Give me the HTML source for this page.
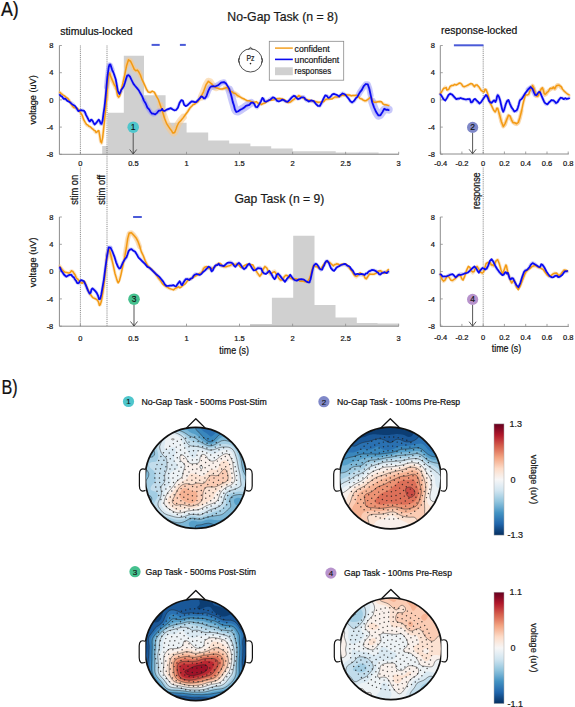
<!DOCTYPE html>
<html><head><meta charset="utf-8"><style>
html,body{margin:0;padding:0;background:#fff;width:575px;height:707px;overflow:hidden}
svg{display:block}
text{font-family:"Liberation Sans", sans-serif}
</style></head><body>
<svg width="575" height="707" viewBox="0 0 575 707">
<rect width="575" height="707" fill="#fff"/>
<path d="M102.2 154.3 V146 H107.7 V112.8 H123.8 V55.8 H144 V95.2 H165.6 V122.8 H186.6 V132.5 H208.2 V140.4 H229.2 V143.6 H250.4 V146.3 H271.2 V148.6 H292.7 V151.2 H335.7 V152.6 H378.6 V153.5 H398.7 V154.3 Z" fill="#d0d0d0"/><path d="M250 326.2 V324 H271.9 V297.8 H293.2 V235.7 H314.5 V304.9 H335.5 V317.6 H356.8 V322.9 H377.5 V323.6 H398.7 V326.2 Z" fill="#d0d0d0"/><path d="M80.4 45.5 V154.3" stroke="#7a7a7a" stroke-width="0.9" stroke-dasharray="1 0.9"/><path d="M80.4 167.5 V326.2" stroke="#7a7a7a" stroke-width="0.9" stroke-dasharray="1 0.9"/><path d="M107 45.5 V326.2" stroke="#7a7a7a" stroke-width="0.9" stroke-dasharray="1 0.9"/><path d="M483.2 45.5 V153.8" stroke="#7a7a7a" stroke-width="0.9" stroke-dasharray="1 0.9"/><path d="M483.2 167.5 V326.2" stroke="#7a7a7a" stroke-width="0.9" stroke-dasharray="1 0.9"/><path d="M59.4 45.5 V154.3 H398.9" fill="none" stroke="#8c8c8c" stroke-width="1"/><path d="M59.4 45.5 h2.5" stroke="#8c8c8c" stroke-width="0.8"/><text x="53.3" y="48.2" font-size="7.5" text-anchor="end" fill="#151515" stroke="#151515" stroke-width="0.22">8</text><path d="M59.4 72.7 h2.5" stroke="#8c8c8c" stroke-width="0.8"/><text x="53.3" y="75.4" font-size="7.5" text-anchor="end" fill="#151515" stroke="#151515" stroke-width="0.22">4</text><path d="M59.4 99.9 h2.5" stroke="#8c8c8c" stroke-width="0.8"/><text x="53.3" y="102.6" font-size="7.5" text-anchor="end" fill="#151515" stroke="#151515" stroke-width="0.22">0</text><path d="M59.4 127.1 h2.5" stroke="#8c8c8c" stroke-width="0.8"/><text x="53.3" y="129.8" font-size="7.5" text-anchor="end" fill="#151515" stroke="#151515" stroke-width="0.22">-4</text><path d="M59.4 154.3 h2.5" stroke="#8c8c8c" stroke-width="0.8"/><text x="53.3" y="157" font-size="7.5" text-anchor="end" fill="#151515" stroke="#151515" stroke-width="0.22">-8</text><path d="M80.4 154.3 v-2.5" stroke="#8c8c8c" stroke-width="0.8"/><text x="80.4" y="166" font-size="7.5" text-anchor="middle" fill="#151515" stroke="#151515" stroke-width="0.22">0</text><path d="M133.4 154.3 v-2.5" stroke="#8c8c8c" stroke-width="0.8"/><text x="133.4" y="166" font-size="7.5" text-anchor="middle" fill="#151515" stroke="#151515" stroke-width="0.22">0.5</text><path d="M186.5 154.3 v-2.5" stroke="#8c8c8c" stroke-width="0.8"/><text x="186.5" y="166" font-size="7.5" text-anchor="middle" fill="#151515" stroke="#151515" stroke-width="0.22">1</text><path d="M239.5 154.3 v-2.5" stroke="#8c8c8c" stroke-width="0.8"/><text x="239.5" y="166" font-size="7.5" text-anchor="middle" fill="#151515" stroke="#151515" stroke-width="0.22">1.5</text><path d="M292.6 154.3 v-2.5" stroke="#8c8c8c" stroke-width="0.8"/><text x="292.6" y="166" font-size="7.5" text-anchor="middle" fill="#151515" stroke="#151515" stroke-width="0.22">2</text><path d="M345.6 154.3 v-2.5" stroke="#8c8c8c" stroke-width="0.8"/><text x="345.6" y="166" font-size="7.5" text-anchor="middle" fill="#151515" stroke="#151515" stroke-width="0.22">2.5</text><path d="M398.7 154.3 v-2.5" stroke="#8c8c8c" stroke-width="0.8"/><text x="398.7" y="166" font-size="7.5" text-anchor="middle" fill="#151515" stroke="#151515" stroke-width="0.22">3</text><path d="M59.4 217 V326.2 H398.9" fill="none" stroke="#8c8c8c" stroke-width="1"/><path d="M59.4 217 h2.5" stroke="#8c8c8c" stroke-width="0.8"/><text x="53.3" y="219.7" font-size="7.5" text-anchor="end" fill="#151515" stroke="#151515" stroke-width="0.22">8</text><path d="M59.4 244.3 h2.5" stroke="#8c8c8c" stroke-width="0.8"/><text x="53.3" y="247" font-size="7.5" text-anchor="end" fill="#151515" stroke="#151515" stroke-width="0.22">4</text><path d="M59.4 271.6 h2.5" stroke="#8c8c8c" stroke-width="0.8"/><text x="53.3" y="274.3" font-size="7.5" text-anchor="end" fill="#151515" stroke="#151515" stroke-width="0.22">0</text><path d="M59.4 298.9 h2.5" stroke="#8c8c8c" stroke-width="0.8"/><text x="53.3" y="301.6" font-size="7.5" text-anchor="end" fill="#151515" stroke="#151515" stroke-width="0.22">-4</text><path d="M59.4 326.2 h2.5" stroke="#8c8c8c" stroke-width="0.8"/><text x="53.3" y="328.9" font-size="7.5" text-anchor="end" fill="#151515" stroke="#151515" stroke-width="0.22">-8</text><path d="M80.4 326.2 v-2.5" stroke="#8c8c8c" stroke-width="0.8"/><text x="80.4" y="340.5" font-size="7.5" text-anchor="middle" fill="#151515" stroke="#151515" stroke-width="0.22">0</text><path d="M133.4 326.2 v-2.5" stroke="#8c8c8c" stroke-width="0.8"/><text x="133.4" y="340.5" font-size="7.5" text-anchor="middle" fill="#151515" stroke="#151515" stroke-width="0.22">0.5</text><path d="M186.5 326.2 v-2.5" stroke="#8c8c8c" stroke-width="0.8"/><text x="186.5" y="340.5" font-size="7.5" text-anchor="middle" fill="#151515" stroke="#151515" stroke-width="0.22">1</text><path d="M239.5 326.2 v-2.5" stroke="#8c8c8c" stroke-width="0.8"/><text x="239.5" y="340.5" font-size="7.5" text-anchor="middle" fill="#151515" stroke="#151515" stroke-width="0.22">1.5</text><path d="M292.6 326.2 v-2.5" stroke="#8c8c8c" stroke-width="0.8"/><text x="292.6" y="340.5" font-size="7.5" text-anchor="middle" fill="#151515" stroke="#151515" stroke-width="0.22">2</text><path d="M345.6 326.2 v-2.5" stroke="#8c8c8c" stroke-width="0.8"/><text x="345.6" y="340.5" font-size="7.5" text-anchor="middle" fill="#151515" stroke="#151515" stroke-width="0.22">2.5</text><path d="M398.7 326.2 v-2.5" stroke="#8c8c8c" stroke-width="0.8"/><text x="398.7" y="340.5" font-size="7.5" text-anchor="middle" fill="#151515" stroke="#151515" stroke-width="0.22">3</text><path d="M440.3 45.5 V154 H568.8" fill="none" stroke="#8c8c8c" stroke-width="1"/><path d="M440.3 45.5 h2.5" stroke="#8c8c8c" stroke-width="0.8"/><text x="435" y="48.2" font-size="7.5" text-anchor="end" fill="#151515" stroke="#151515" stroke-width="0.22">8</text><path d="M440.3 72.7 h2.5" stroke="#8c8c8c" stroke-width="0.8"/><text x="435" y="75.4" font-size="7.5" text-anchor="end" fill="#151515" stroke="#151515" stroke-width="0.22">4</text><path d="M440.3 99.9 h2.5" stroke="#8c8c8c" stroke-width="0.8"/><text x="435" y="102.6" font-size="7.5" text-anchor="end" fill="#151515" stroke="#151515" stroke-width="0.22">0</text><path d="M440.3 127.1 h2.5" stroke="#8c8c8c" stroke-width="0.8"/><text x="435" y="129.8" font-size="7.5" text-anchor="end" fill="#151515" stroke="#151515" stroke-width="0.22">-4</text><path d="M440.3 154.3 h2.5" stroke="#8c8c8c" stroke-width="0.8"/><text x="435" y="157" font-size="7.5" text-anchor="end" fill="#151515" stroke="#151515" stroke-width="0.22">-8</text><path d="M440.7 154 v-2.5" stroke="#8c8c8c" stroke-width="0.8"/><text x="440.7" y="165.7" font-size="7.5" text-anchor="middle" fill="#151515" stroke="#151515" stroke-width="0.22">-0.4</text><path d="M461.9 154 v-2.5" stroke="#8c8c8c" stroke-width="0.8"/><text x="461.9" y="165.7" font-size="7.5" text-anchor="middle" fill="#151515" stroke="#151515" stroke-width="0.22">-0.2</text><path d="M483.2 154 v-2.5" stroke="#8c8c8c" stroke-width="0.8"/><text x="483.2" y="165.7" font-size="7.5" text-anchor="middle" fill="#151515" stroke="#151515" stroke-width="0.22">0</text><path d="M504.4 154 v-2.5" stroke="#8c8c8c" stroke-width="0.8"/><text x="504.4" y="165.7" font-size="7.5" text-anchor="middle" fill="#151515" stroke="#151515" stroke-width="0.22">0.2</text><path d="M525.7 154 v-2.5" stroke="#8c8c8c" stroke-width="0.8"/><text x="525.7" y="165.7" font-size="7.5" text-anchor="middle" fill="#151515" stroke="#151515" stroke-width="0.22">0.4</text><path d="M547 154 v-2.5" stroke="#8c8c8c" stroke-width="0.8"/><text x="547" y="165.7" font-size="7.5" text-anchor="middle" fill="#151515" stroke="#151515" stroke-width="0.22">0.6</text><path d="M568.2 154 v-2.5" stroke="#8c8c8c" stroke-width="0.8"/><text x="568.2" y="165.7" font-size="7.5" text-anchor="middle" fill="#151515" stroke="#151515" stroke-width="0.22">0.8</text><path d="M440.3 217 V326.4 H568.8" fill="none" stroke="#8c8c8c" stroke-width="1"/><path d="M440.3 217 h2.5" stroke="#8c8c8c" stroke-width="0.8"/><text x="435" y="219.7" font-size="7.5" text-anchor="end" fill="#151515" stroke="#151515" stroke-width="0.22">8</text><path d="M440.3 244.3 h2.5" stroke="#8c8c8c" stroke-width="0.8"/><text x="435" y="247" font-size="7.5" text-anchor="end" fill="#151515" stroke="#151515" stroke-width="0.22">4</text><path d="M440.3 271.6 h2.5" stroke="#8c8c8c" stroke-width="0.8"/><text x="435" y="274.3" font-size="7.5" text-anchor="end" fill="#151515" stroke="#151515" stroke-width="0.22">0</text><path d="M440.3 298.9 h2.5" stroke="#8c8c8c" stroke-width="0.8"/><text x="435" y="301.6" font-size="7.5" text-anchor="end" fill="#151515" stroke="#151515" stroke-width="0.22">-4</text><path d="M440.3 326.2 h2.5" stroke="#8c8c8c" stroke-width="0.8"/><text x="435" y="328.9" font-size="7.5" text-anchor="end" fill="#151515" stroke="#151515" stroke-width="0.22">-8</text><path d="M440.7 326.4 v-2.5" stroke="#8c8c8c" stroke-width="0.8"/><text x="440.7" y="340.4" font-size="7.5" text-anchor="middle" fill="#151515" stroke="#151515" stroke-width="0.22">-0.4</text><path d="M461.9 326.4 v-2.5" stroke="#8c8c8c" stroke-width="0.8"/><text x="461.9" y="340.4" font-size="7.5" text-anchor="middle" fill="#151515" stroke="#151515" stroke-width="0.22">-0.2</text><path d="M483.2 326.4 v-2.5" stroke="#8c8c8c" stroke-width="0.8"/><text x="483.2" y="340.4" font-size="7.5" text-anchor="middle" fill="#151515" stroke="#151515" stroke-width="0.22">0</text><path d="M504.4 326.4 v-2.5" stroke="#8c8c8c" stroke-width="0.8"/><text x="504.4" y="340.4" font-size="7.5" text-anchor="middle" fill="#151515" stroke="#151515" stroke-width="0.22">0.2</text><path d="M525.7 326.4 v-2.5" stroke="#8c8c8c" stroke-width="0.8"/><text x="525.7" y="340.4" font-size="7.5" text-anchor="middle" fill="#151515" stroke="#151515" stroke-width="0.22">0.4</text><path d="M547 326.4 v-2.5" stroke="#8c8c8c" stroke-width="0.8"/><text x="547" y="340.4" font-size="7.5" text-anchor="middle" fill="#151515" stroke="#151515" stroke-width="0.22">0.6</text><path d="M568.2 326.4 v-2.5" stroke="#8c8c8c" stroke-width="0.8"/><text x="568.2" y="340.4" font-size="7.5" text-anchor="middle" fill="#151515" stroke="#151515" stroke-width="0.22">0.8</text><path d="M59.9 92.4 L61.2 93.5 L63.1 95.1 L64.9 96.6 L66.4 97.7 L67.8 98.8 L69.1 100.2 L70.3 102.3 L71.5 104.7 L72.7 106.6 L73.8 107.3 L75.0 107.5 L76.2 108.0 L77.5 108.9 L78.9 110.2 L80.4 112.2 L82.1 115.8 L83.8 120.1 L85.4 123.5 L86.6 125.1 L87.7 125.8 L88.9 126.4 L90.3 127.3 L91.8 128.2 L93.2 129.2 L94.2 130.5 L95.1 131.9 L96.0 132.7 L96.9 132.1 L97.9 131.0 L98.8 131.3 L99.7 135.9 L100.6 141.9 L101.6 143.3 L102.7 136.8 L104.0 125.7 L105.2 113.6 L106.4 99.7 L107.6 84.8 L108.7 74.7 L109.6 72.8 L110.5 75.7 L111.5 79.0 L112.9 81.5 L114.4 84.4 L115.8 87.5 L116.8 91.6 L117.6 95.8 L118.6 97.4 L119.8 95.0 L121.2 90.0 L122.8 83.9 L124.6 75.4 L126.5 65.8 L128.5 59.9 L130.5 60.8 L132.5 65.3 L134.3 69.1 L135.8 70.1 L137.2 70.4 L138.7 71.7 L140.4 75.2 L142.2 79.8 L143.9 83.9 L145.4 87.1 L146.7 89.8 L148.3 91.7 L150.2 92.1 L152.2 91.7 L154.3 92.6 L156.3 95.9 L158.4 100.6 L160.4 105.7 L162.5 111.5 L164.5 117.8 L166.5 123.0 L168.4 126.6 L170.2 129.1 L171.7 131.0 L172.7 132.3 L173.4 133.0 L174.0 133.0 L174.7 132.2 L175.4 130.8 L176.1 129.1 L176.8 127.3 L177.5 125.3 L178.7 123.0 L180.7 120.3 L183.3 117.3 L185.7 114.3 L187.8 111.2 L189.9 108.1 L191.7 105.7 L193.3 104.5 L194.6 103.9 L196.1 103.0 L197.7 101.6 L199.4 99.8 L201.3 97.0 L203.6 91.7 L206.0 85.3 L208.3 81.3 L210.0 81.6 L211.6 84.2 L213.5 86.5 L216.3 87.7 L219.5 88.6 L222.2 89.1 L224.0 88.6 L225.3 87.7 L226.5 87.4 L227.7 88.3 L228.9 89.9 L230.2 91.3 L231.8 92.2 L233.5 92.9 L235.4 93.9 L237.6 95.3 L240.0 96.8 L242.4 98.3 L244.7 99.6 L247.0 100.8 L249.3 101.7 L251.7 102.2 L254.1 102.3 L256.3 102.6 L258.2 103.3 L259.8 104.0 L261.5 104.3 L263.2 103.8 L264.8 102.7 L266.7 101.7 L268.8 100.7 L271.2 99.8 L273.7 99.1 L276.6 98.8 L279.6 98.7 L282.4 99.1 L284.6 100.3 L286.6 101.8 L288.5 102.6 L290.6 101.9 L292.7 100.5 L294.6 99.1 L296.1 97.7 L297.4 96.3 L298.9 95.7 L300.8 96.4 L302.8 97.8 L305.0 99.1 L307.2 99.8 L309.5 100.4 L312.0 100.9 L314.9 101.6 L318.0 102.4 L320.7 102.6 L322.4 102.0 L323.7 101.0 L325.2 100.0 L327.3 99.4 L329.7 98.8 L332.2 98.3 L334.8 97.7 L337.5 97.1 L340.0 96.5 L342.2 95.8 L344.2 95.2 L346.1 94.8 L347.9 94.9 L349.6 95.4 L351.3 95.7 L353.0 95.6 L354.8 95.5 L356.5 95.7 L358.3 96.6 L360.0 98.0 L361.7 99.1 L363.2 100.0 L364.7 100.8 L366.1 100.9 L367.6 99.8 L369.0 98.2 L370.4 97.4 L371.5 98.4 L372.6 100.3 L373.9 101.7 L375.8 101.9 L378.0 101.7 L380.0 101.7 L381.6 102.4 L382.9 103.5 L384.3 104.3 L385.9 104.8 L387.6 105.0 L388.7 105.2" fill="none" stroke="#f7c98a" stroke-width="3.2" stroke-linejoin="round" stroke-linecap="round" opacity="0.5"/><path d="M59.9 94.5 L60.8 95.4 L62.0 96.8 L63.5 98.1 L65.3 99.3 L67.3 100.5 L69.1 101.6 L70.6 102.5 L72.0 103.2 L73.4 104.4 L75.0 106.5 L76.7 109.1 L78.3 110.8 L79.8 110.9 L81.2 110.2 L82.6 110.1 L83.8 111.3 L85.0 113.0 L86.1 115.0 L87.3 117.3 L88.5 119.8 L89.6 121.4 L90.4 121.3 L91.0 120.3 L91.7 120.0 L92.6 121.3 L93.5 123.3 L94.6 124.3 L96.0 123.2 L97.5 121.1 L98.8 120.0 L99.8 121.6 L100.7 124.2 L101.6 124.3 L102.6 120.4 L103.5 114.1 L104.5 106.6 L105.5 97.4 L106.4 87.0 L107.3 78.3 L108.0 72.0 L108.7 67.4 L109.4 64.8 L110.3 64.9 L111.2 67.1 L112.2 69.8 L113.4 72.6 L114.6 75.9 L115.8 79.7 L116.8 84.7 L117.7 90.2 L118.6 93.8 L119.5 94.3 L120.4 93.0 L121.4 91.0 L122.5 88.6 L123.8 85.5 L125.0 82.5 L126.1 79.2 L127.2 76.0 L128.5 74.7 L130.0 76.6 L131.8 80.4 L133.5 83.9 L135.2 86.0 L137.0 87.8 L138.7 90.0 L140.4 93.2 L142.2 96.8 L143.9 100.4 L145.7 103.9 L147.4 107.2 L149.1 110.0 L150.6 112.1 L152.0 113.6 L153.5 114.3 L155.2 113.6 L157.1 112.1 L158.7 110.9 L160.0 110.3 L161.2 110.1 L162.2 110.0 L163.0 110.3 L163.7 110.8 L164.8 110.9 L166.6 110.1 L168.8 109.0 L170.9 108.3 L172.7 109.0 L174.4 110.1 L176.1 110.0 L177.9 107.1 L179.6 102.9 L181.3 100.4 L182.8 101.4 L184.1 104.1 L185.7 105.7 L187.6 104.8 L189.8 102.7 L191.7 101.3 L193.3 101.5 L194.6 102.2 L196.1 102.2 L197.8 100.4 L199.7 97.7 L201.3 96.1 L202.5 96.8 L203.6 98.5 L204.8 98.7 L206.4 95.6 L208.2 90.9 L210.0 87.4 L211.6 86.5 L213.2 86.7 L215.2 86.5 L218.0 84.9 L221.1 82.9 L223.9 82.2 L226.0 83.6 L227.8 86.4 L229.3 89.6 L230.6 93.4 L231.7 97.7 L232.8 101.7 L233.9 105.5 L234.9 109.1 L236.3 111.3 L238.2 111.4 L240.3 110.1 L242.4 108.7 L244.2 107.6 L245.9 106.3 L247.6 105.2 L249.4 104.0 L251.1 102.9 L252.8 102.6 L254.3 104.3 L255.7 106.9 L257.2 107.8 L258.9 105.2 L260.8 101.1 L262.4 98.3 L263.6 98.8 L264.5 100.7 L265.9 101.7 L268.0 100.5 L270.6 98.5 L272.8 97.4 L274.4 98.2 L275.8 99.8 L277.2 100.9 L278.9 100.8 L280.6 100.3 L282.4 100.0 L284.1 100.7 L285.8 101.6 L287.6 101.7 L289.6 99.9 L291.8 97.3 L293.7 95.7 L295.2 96.4 L296.6 98.1 L298.0 99.1 L299.8 98.4 L301.6 97.1 L303.3 96.5 L304.4 97.6 L305.4 99.4 L306.7 100.9 L308.8 101.3 L311.3 101.3 L313.7 101.7 L315.8 103.4 L317.9 105.6 L319.8 106.1 L321.7 103.3 L323.5 98.8 L325.2 95.7 L326.7 95.6 L328.2 96.8 L329.6 97.4 L331.0 96.4 L332.4 94.8 L333.9 93.9 L335.6 94.5 L337.5 95.9 L339.1 96.5 L340.4 95.5 L341.4 93.9 L342.6 93.0 L344.0 93.6 L345.4 94.9 L347.0 96.5 L348.7 98.8 L350.4 101.4 L352.2 102.6 L354.0 101.5 L355.7 99.0 L357.4 96.5 L358.8 94.2 L360.2 91.8 L361.7 89.6 L363.7 86.9 L365.8 84.3 L367.8 84.3 L369.3 88.5 L370.7 95.3 L372.2 101.7 L374.1 107.4 L376.2 112.6 L378.3 115.7 L380.4 114.9 L382.4 111.9 L384.3 109.6 L386.0 109.1 L387.6 109.4 L388.7 109.6" fill="none" stroke="#9a9af5" stroke-width="3.2" stroke-linejoin="round" stroke-linecap="round" opacity="0.5"/><path d="M440.4 93.7 L441.8 91.6 L443.7 88.8 L445.3 87.0 L446.2 87.6 L446.9 89.3 L447.7 90.1 L448.8 89.1 L450.0 87.3 L451.4 85.8 L453.0 85.2 L454.7 84.9 L456.3 84.6 L457.8 84.0 L459.2 83.4 L460.5 83.4 L461.7 84.5 L462.8 86.1 L464.2 87.0 L466.3 86.3 L468.8 84.8 L470.9 84.0 L472.4 84.5 L473.5 85.7 L474.5 86.4 L475.3 86.0 L475.9 85.1 L477.0 85.2 L478.8 87.2 L481.1 90.0 L483.0 91.9 L484.2 91.2 L485.1 89.5 L486.1 89.5 L487.4 93.0 L488.8 98.2 L490.3 102.9 L492.0 106.7 L493.7 110.1 L495.2 112.0 L496.1 110.9 L496.7 108.4 L497.7 108.3 L499.4 113.8 L501.3 121.8 L503.3 126.5 L505.1 124.4 L506.8 119.1 L508.5 115.7 L510.0 116.8 L511.5 119.8 L513.0 122.2 L514.7 123.5 L516.6 124.2 L518.3 122.8 L519.9 118.0 L521.5 111.2 L522.8 105.2 L523.8 101.0 L524.6 97.7 L525.4 95.4 L526.4 94.8 L527.5 95.3 L528.7 94.8 L530.0 91.7 L531.3 87.6 L532.6 85.7 L533.9 88.2 L535.3 92.9 L536.5 96.1 L537.4 96.3 L538.2 95.0 L539.1 93.5 L540.2 91.5 L541.3 89.3 L542.4 88.3 L543.3 90.0 L544.1 93.0 L545.0 94.8 L546.0 94.2 L547.0 92.5 L548.3 90.9 L550.0 89.6 L552.0 88.3 L553.5 87.6 L554.2 87.9 L554.4 88.7 L554.8 88.9 L555.6 87.8 L556.5 86.1 L557.4 85.0 L558.2 84.9 L559.0 85.4 L560.0 86.3 L561.2 87.6 L562.5 89.3 L563.9 90.9 L565.7 92.6 L567.7 94.2 L569.1 95.4" fill="none" stroke="#f7c98a" stroke-width="3.2" stroke-linejoin="round" stroke-linecap="round" opacity="0.5"/><path d="M440.4 94.3 L441.7 96.2 L443.5 98.6 L445.3 99.8 L446.9 98.2 L448.5 95.3 L450.2 93.7 L452.2 94.9 L454.4 97.4 L456.3 99.2 L457.8 99.2 L459.1 98.4 L460.5 98.0 L462.3 98.5 L464.3 99.3 L466.0 99.8 L467.4 99.6 L468.7 99.2 L469.7 99.2 L470.4 100.4 L470.8 102.1 L471.5 102.9 L472.5 101.9 L473.8 100.1 L475.1 99.2 L476.5 100.4 L477.9 102.5 L479.4 103.5 L481.1 102.1 L482.8 99.5 L484.3 97.4 L485.2 96.1 L485.9 95.4 L486.7 95.6 L487.8 97.7 L489.0 100.9 L490.3 102.9 L491.6 102.7 L492.9 101.3 L494.0 100.4 L494.7 100.8 L495.3 101.7 L495.8 101.7 L496.4 99.6 L497.0 96.6 L497.7 95.0 L498.4 95.7 L499.2 97.7 L500.1 100.4 L501.1 104.5 L502.2 109.2 L503.3 111.7 L504.2 110.1 L505.1 106.4 L505.9 103.3 L506.7 101.5 L507.5 100.4 L508.5 100.7 L509.9 103.4 L511.5 107.4 L513.0 110.4 L514.4 111.5 L515.8 111.4 L517.0 110.4 L517.9 107.9 L518.7 104.3 L519.6 101.3 L520.4 99.6 L521.4 98.4 L522.8 96.7 L525.2 93.4 L528.1 89.6 L530.7 87.6 L532.5 89.1 L534.0 92.4 L535.2 94.8 L536.2 95.0 L537.0 94.3 L537.8 93.5 L538.5 92.5 L539.1 91.5 L539.8 91.5 L540.8 93.5 L541.9 96.5 L543.0 99.3 L544.1 101.6 L545.2 103.6 L546.3 104.6 L547.6 104.0 L548.9 102.5 L550.2 101.3 L551.4 100.8 L552.5 100.6 L553.5 100.7 L554.3 101.6 L555.1 102.9 L556.1 103.3 L557.5 101.9 L559.0 99.6 L560.6 98.0 L562.2 98.0 L563.7 98.8 L565.2 99.3 L566.7 99.0 L568.1 98.4 L569.1 98.0" fill="none" stroke="#9a9af5" stroke-width="3.2" stroke-linejoin="round" stroke-linecap="round" opacity="0.5"/><path d="M59.9 265.9 L60.8 267.3 L62.1 269.3 L63.5 270.9 L65.1 272.0 L66.9 272.7 L68.4 273.0 L69.5 272.5 L70.4 271.4 L71.3 270.9 L72.2 271.1 L73.1 271.8 L74.1 273.0 L75.2 274.9 L76.3 277.3 L77.6 279.4 L79.0 280.9 L80.5 282.2 L81.9 282.9 L82.8 282.5 L83.6 281.6 L84.7 282.2 L86.3 285.7 L88.2 290.7 L90.3 294.9 L92.7 297.1 L95.3 298.5 L97.4 299.9 L98.6 302.4 L99.4 304.9 L100.2 304.8 L101.3 301.0 L102.5 294.7 L103.8 286.4 L105.2 274.1 L106.6 259.8 L108.0 250.4 L109.2 249.3 L110.2 253.0 L111.5 258.2 L113.1 264.8 L114.9 272.8 L116.5 278.7 L117.5 281.6 L118.2 282.3 L119.3 280.1 L121.0 273.7 L123.1 264.3 L125.0 255.3 L126.4 246.8 L127.7 238.6 L129.2 233.4 L131.4 232.7 L133.8 235.1 L136.1 238.3 L137.9 242.0 L139.6 246.6 L141.3 251.3 L143.3 256.2 L145.3 261.1 L147.4 265.2 L149.4 267.7 L151.4 269.3 L153.5 271.3 L155.8 274.4 L158.1 277.8 L160.4 280.9 L162.5 283.3 L164.4 285.4 L166.5 287.0 L168.8 288.3 L171.3 289.2 L173.5 289.6 L175.4 289.1 L177.2 287.9 L178.7 287.0 L179.9 286.7 L181.0 286.7 L182.2 286.1 L183.7 284.7 L185.5 282.7 L187.4 280.9 L189.6 279.4 L191.9 277.9 L194.3 276.5 L196.8 275.1 L199.2 273.7 L201.3 272.2 L202.6 270.3 L203.5 268.3 L204.8 267.0 L206.8 267.3 L209.3 268.4 L211.7 268.7 L214.1 267.2 L216.5 264.8 L218.7 263.5 L220.5 264.2 L222.2 265.9 L223.9 267.0 L225.9 266.9 L228.0 266.3 L230.2 265.7 L232.5 264.9 L235.0 264.1 L237.2 263.9 L239.1 264.9 L240.8 266.5 L242.4 267.4 L243.8 266.9 L245.2 265.6 L246.7 264.8 L248.6 264.5 L250.6 264.6 L252.8 265.7 L255.1 269.2 L257.6 273.8 L259.8 276.1 L261.7 273.7 L263.3 269.2 L265.0 266.5 L266.8 268.2 L268.5 271.9 L270.2 274.3 L271.7 273.5 L273.0 271.5 L274.6 270.9 L276.5 273.7 L278.7 277.8 L280.7 280.4 L282.5 279.4 L284.2 276.8 L285.9 275.2 L287.6 275.8 L289.2 277.4 L291.1 278.7 L293.3 279.2 L295.8 279.3 L298.0 279.6 L299.9 280.2 L301.6 280.9 L303.3 281.3 L305.2 281.6 L307.2 281.5 L309.0 280.0 L310.5 275.8 L311.8 270.1 L313.1 266.1 L314.4 265.2 L315.7 266.0 L317.0 266.9 L318.2 267.7 L319.5 268.6 L321.0 268.5 L322.9 266.4 L325.0 263.3 L327.2 261.4 L329.4 262.1 L331.6 264.0 L333.5 265.3 L334.7 265.1 L335.6 264.3 L336.6 263.8 L337.8 264.2 L339.1 264.9 L340.5 265.3 L342.2 264.9 L344.0 264.3 L346.0 264.6 L348.1 266.4 L350.3 269.1 L352.3 271.6 L353.8 273.9 L355.0 276.0 L356.2 277.1 L357.5 276.2 L358.8 274.3 L360.1 273.2 L361.5 273.7 L362.8 275.1 L364.0 276.3 L364.9 277.4 L365.5 278.5 L366.3 278.7 L367.2 277.5 L368.3 275.5 L369.5 274.0 L370.9 273.8 L372.5 274.1 L374.2 274.0 L376.3 273.0 L378.5 271.6 L380.4 270.8 L381.6 271.4 L382.5 272.6 L383.6 273.2 L385.2 272.4 L387.0 271.0 L388.3 270.0" fill="none" stroke="#f7c98a" stroke-width="3.2" stroke-linejoin="round" stroke-linecap="round" opacity="0.5"/><path d="M59.9 268.1 L60.6 269.4 L61.7 271.3 L62.8 273.0 L63.9 274.5 L65.0 275.8 L66.3 276.5 L67.9 276.0 L69.7 274.8 L71.3 274.4 L72.6 275.6 L73.7 277.5 L74.8 279.4 L76.0 281.1 L77.2 282.7 L78.3 283.6 L79.0 283.0 L79.6 281.7 L80.4 280.8 L81.4 280.6 L82.6 280.8 L84.0 282.2 L85.8 285.8 L87.9 290.6 L89.6 293.5 L90.7 292.7 L91.5 290.2 L92.5 288.6 L93.8 289.2 L95.3 290.9 L96.7 292.8 L97.9 295.7 L99.1 298.9 L100.2 299.2 L101.3 295.0 L102.5 287.9 L103.8 279.4 L105.3 268.2 L107.0 255.6 L108.7 247.6 L110.6 247.5 L112.5 251.9 L114.4 256.7 L116.1 261.2 L117.8 266.0 L119.3 268.8 L120.6 268.0 L121.7 265.1 L122.8 262.4 L124.0 260.8 L125.2 259.3 L126.4 257.5 L127.5 254.5 L128.6 251.1 L129.9 249.0 L131.5 249.1 L133.4 250.4 L135.2 252.2 L136.9 254.2 L138.5 256.7 L140.4 259.1 L142.6 261.5 L145.0 263.8 L147.4 266.1 L149.7 268.2 L152.0 270.1 L154.3 272.2 L156.7 274.4 L159.1 276.8 L161.3 279.1 L163.2 281.7 L164.8 284.3 L166.5 286.1 L168.3 286.3 L170.0 285.7 L171.7 285.2 L173.3 285.6 L174.7 286.1 L176.1 286.1 L177.4 284.8 L178.5 282.8 L179.6 281.7 L180.5 282.3 L181.3 283.8 L182.2 284.3 L183.2 283.0 L184.4 280.7 L185.7 279.1 L187.3 278.9 L189.2 279.3 L190.9 279.1 L192.4 277.5 L193.8 275.4 L195.2 273.9 L196.6 273.9 L198.1 274.7 L199.6 274.8 L201.3 273.7 L203.0 272.0 L204.8 270.4 L206.7 268.9 L208.5 267.5 L210.0 267.0 L210.8 268.2 L211.1 270.3 L211.7 271.3 L212.7 270.1 L214.0 267.9 L215.2 266.1 L216.4 265.1 L217.5 264.5 L218.7 264.3 L219.8 264.8 L220.9 265.7 L222.2 266.1 L223.9 265.5 L225.7 264.4 L227.4 263.5 L228.7 262.8 L229.9 262.2 L231.1 262.2 L232.5 263.5 L234.0 265.4 L235.4 266.5 L236.6 265.6 L237.6 263.7 L238.9 263.0 L240.5 264.7 L242.3 267.5 L244.1 269.1 L245.9 267.8 L247.6 265.2 L249.3 263.9 L250.8 265.4 L252.1 268.2 L253.7 270.0 L255.7 269.5 L257.8 267.9 L259.8 267.4 L261.3 269.1 L262.7 271.7 L264.1 273.5 L265.8 273.2 L267.5 271.9 L269.3 271.7 L271.1 273.8 L273.0 276.9 L274.6 278.7 L275.7 277.4 L276.7 274.7 L278.0 273.5 L280.1 275.7 L282.7 279.2 L285.0 281.3 L286.9 279.9 L288.6 276.9 L290.2 275.2 L291.6 276.3 L293.0 278.7 L294.6 280.4 L296.7 280.5 L299.1 279.8 L301.5 279.6 L304.0 280.4 L306.5 281.6 L308.5 282.2 L309.5 282.0 L309.9 281.1 L310.5 279.0 L311.5 274.7 L312.7 269.3 L313.9 265.3 L314.9 263.9 L315.9 263.9 L317.0 264.6 L318.3 266.3 L319.7 268.7 L321.0 270.0 L322.1 269.2 L323.1 267.2 L324.1 265.3 L325.0 263.2 L326.0 261.2 L327.2 260.7 L328.9 263.2 L330.9 267.2 L332.7 270.0 L334.1 270.1 L335.4 268.9 L336.6 267.7 L337.9 266.8 L339.1 266.0 L340.5 265.3 L341.9 264.7 L343.5 264.4 L345.2 264.6 L347.3 265.8 L349.6 267.5 L351.5 269.3 L352.8 271.0 L353.7 272.7 L354.6 274.0 L355.5 274.6 L356.5 274.7 L357.7 274.7 L359.4 274.8 L361.4 274.8 L363.2 274.7 L364.6 274.4 L365.8 273.9 L367.1 273.2 L368.6 272.1 L370.1 270.8 L371.8 270.0 L373.7 270.1 L375.7 270.8 L377.3 271.6 L378.3 272.7 L379.0 274.0 L379.7 274.7 L380.6 274.2 L381.6 273.2 L382.8 272.4 L384.7 272.2 L386.8 272.3 L388.3 272.4" fill="none" stroke="#9a9af5" stroke-width="3.2" stroke-linejoin="round" stroke-linecap="round" opacity="0.5"/><path d="M440.4 274.2 L441.1 276.6 L442.2 279.7 L443.5 281.5 L445.0 280.2 L446.7 277.5 L448.3 276.0 L449.7 277.3 L451.0 279.7 L452.6 280.9 L454.8 279.3 L457.2 276.4 L459.3 274.8 L460.7 276.3 L461.8 279.0 L463.0 279.7 L464.7 276.0 L466.6 270.4 L468.4 266.9 L469.9 268.0 L471.3 271.2 L472.7 273.0 L474.1 271.2 L475.5 268.0 L477.0 266.3 L478.8 268.3 L480.7 271.9 L482.4 273.6 L483.7 271.3 L484.9 267.1 L486.1 263.9 L487.5 262.9 L489.0 262.9 L490.3 263.3 L491.4 264.4 L492.3 265.9 L493.4 266.3 L494.7 264.0 L496.2 260.7 L497.7 259.6 L499.3 263.6 L501.0 269.8 L502.5 273.6 L503.8 271.9 L504.9 267.7 L505.9 265.2 L506.6 266.3 L507.1 269.2 L507.8 272.4 L509.0 276.1 L510.5 280.2 L511.7 282.8 L512.4 282.3 L512.9 280.3 L513.7 279.6 L515.0 282.6 L516.5 287.0 L518.3 288.7 L520.4 285.3 L522.8 279.2 L524.8 274.3 L526.0 272.0 L526.9 270.9 L528.0 269.8 L529.8 268.2 L531.9 266.7 L533.9 265.9 L535.7 266.1 L537.5 267.0 L539.1 267.8 L540.4 268.1 L541.6 268.3 L543.0 269.1 L544.8 271.5 L546.9 274.5 L548.9 276.3 L550.9 275.8 L552.9 274.1 L554.8 273.0 L556.6 273.5 L558.4 274.6 L560.0 275.0 L561.4 273.8 L562.7 271.8 L563.9 270.4 L565.2 270.2 L566.4 270.7 L567.2 271.0" fill="none" stroke="#f7c98a" stroke-width="3.2" stroke-linejoin="round" stroke-linecap="round" opacity="0.5"/><path d="M440.4 274.8 L441.2 275.7 L442.5 276.8 L444.1 277.3 L446.2 276.5 L448.6 275.0 L450.8 274.2 L452.6 274.8 L454.2 276.0 L455.7 276.7 L456.9 276.2 L458.1 275.1 L459.3 274.2 L460.8 273.9 L462.5 273.9 L464.2 273.6 L466.0 273.0 L467.9 272.2 L469.7 271.2 L471.4 269.6 L473.0 267.7 L474.5 266.9 L476.0 268.2 L477.4 270.5 L478.8 271.8 L480.0 271.0 L481.2 269.3 L482.4 268.1 L483.8 268.3 L485.2 269.1 L486.7 268.7 L488.3 265.7 L489.9 261.6 L491.6 259.6 L493.4 261.6 L495.2 265.7 L497.0 269.3 L499.0 271.8 L500.9 273.8 L502.6 275.0 L503.7 274.8 L504.4 273.8 L505.2 273.0 L506.1 272.8 L506.9 273.0 L507.8 273.7 L508.7 275.5 L509.5 278.0 L510.4 279.6 L511.2 279.3 L511.9 278.2 L513.0 278.3 L514.5 281.5 L516.4 285.8 L518.3 287.4 L520.3 283.5 L522.3 276.9 L524.1 271.7 L525.5 270.0 L526.7 269.8 L528.0 269.1 L529.4 266.8 L530.9 264.1 L532.6 262.6 L534.7 263.6 L537.1 265.8 L539.1 267.2 L540.3 266.4 L541.2 264.8 L542.4 264.6 L544.2 267.4 L546.4 271.7 L548.3 275.0 L549.7 276.4 L551.0 276.9 L552.2 277.0 L553.5 276.7 L554.9 276.1 L556.1 275.7 L557.2 276.2 L558.2 276.9 L559.3 277.0 L560.8 275.8 L562.4 273.9 L563.9 272.4 L565.2 271.9 L566.4 271.7 L567.2 271.7" fill="none" stroke="#9a9af5" stroke-width="3.2" stroke-linejoin="round" stroke-linecap="round" opacity="0.5"/><path d="M106.4 99.7 L107.6 84.8 L108.7 74.7 L109.6 72.8 L110.5 75.7 L111.5 79.0 L112.9 81.5 L114.4 84.4 L115.8 87.5" fill="none" stroke="#f7c98a" stroke-width="4.5" stroke-linejoin="round" stroke-linecap="round" opacity="0.55"/><path d="M126.5 65.8 L128.5 59.9 L130.5 60.8 L132.5 65.3 L134.3 69.1 L135.8 70.1 L137.2 70.4 L138.7 71.7 L140.4 75.2" fill="none" stroke="#f7c98a" stroke-width="5" stroke-linejoin="round" stroke-linecap="round" opacity="0.55"/><path d="M160.4 105.7 L162.5 111.5 L164.5 117.8 L166.5 123.0 L168.4 126.6 L170.2 129.1 L171.7 131.0 L172.7 132.3 L173.4 133.0 L174.0 133.0 L174.7 132.2 L175.4 130.8 L176.1 129.1 L176.8 127.3 L177.5 125.3 L178.7 123.0 L180.7 120.3 L183.3 117.3" fill="none" stroke="#f7c98a" stroke-width="7" stroke-linejoin="round" stroke-linecap="round" opacity="0.55"/><path d="M201.3 97.0 L203.6 91.7 L206.0 85.3 L208.3 81.3 L210.0 81.6 L211.6 84.2 L213.5 86.5 L216.3 87.7" fill="none" stroke="#f7c98a" stroke-width="7" stroke-linejoin="round" stroke-linecap="round" opacity="0.55"/><path d="M225.3 87.7 L226.5 87.4 L227.7 88.3 L228.9 89.9 L230.2 91.3 L231.8 92.2 L233.5 92.9 L235.4 93.9 L237.6 95.3" fill="none" stroke="#f7c98a" stroke-width="5" stroke-linejoin="round" stroke-linecap="round" opacity="0.55"/><path d="M106.4 87.0 L107.3 78.3 L108.0 72.0 L108.7 67.4 L109.4 64.8 L110.3 64.9 L111.2 67.1 L112.2 69.8" fill="none" stroke="#9a9af5" stroke-width="5" stroke-linejoin="round" stroke-linecap="round" opacity="0.55"/><path d="M143.9 100.4 L145.7 103.9 L147.4 107.2 L149.1 110.0 L150.6 112.1 L152.0 113.6 L153.5 114.3 L155.2 113.6 L157.1 112.1 L158.7 110.9" fill="none" stroke="#9a9af5" stroke-width="5" stroke-linejoin="round" stroke-linecap="round" opacity="0.55"/><path d="M206.4 95.6 L208.2 90.9 L210.0 87.4 L211.6 86.5 L213.2 86.7 L215.2 86.5 L218.0 84.9 L221.1 82.9 L223.9 82.2" fill="none" stroke="#9a9af5" stroke-width="6" stroke-linejoin="round" stroke-linecap="round" opacity="0.55"/><path d="M229.3 89.6 L230.6 93.4 L231.7 97.7 L232.8 101.7 L233.9 105.5 L234.9 109.1 L236.3 111.3 L238.2 111.4 L240.3 110.1 L242.4 108.7 L244.2 107.6 L245.9 106.3 L247.6 105.2 L249.4 104.0 L251.1 102.9" fill="none" stroke="#9a9af5" stroke-width="8" stroke-linejoin="round" stroke-linecap="round" opacity="0.55"/><path d="M358.8 94.2 L360.2 91.8 L361.7 89.6 L363.7 86.9 L365.8 84.3 L367.8 84.3 L369.3 88.5 L370.7 95.3" fill="none" stroke="#9a9af5" stroke-width="6" stroke-linejoin="round" stroke-linecap="round" opacity="0.55"/><path d="M372.2 101.7 L374.1 107.4 L376.2 112.6 L378.3 115.7 L380.4 114.9 L382.4 111.9 L384.3 109.6 L386.0 109.1 L387.6 109.4 L388.7 109.6" fill="none" stroke="#9a9af5" stroke-width="8" stroke-linejoin="round" stroke-linecap="round" opacity="0.55"/><path d="M499.4 113.8 L501.3 121.8 L503.3 126.5 L505.1 124.4 L506.8 119.1 L508.5 115.7 L510.0 116.8 L511.5 119.8 L513.0 122.2 L514.7 123.5 L516.6 124.2 L518.3 122.8 L519.9 118.0 L521.5 111.2" fill="none" stroke="#f7c98a" stroke-width="4" stroke-linejoin="round" stroke-linecap="round" opacity="0.55"/><path d="M531.3 87.6 L532.6 85.7 L533.9 88.2 L535.3 92.9 L536.5 96.1 L537.4 96.3 L538.2 95.0 L539.1 93.5 L540.2 91.5 L541.3 89.3 L542.4 88.3 L543.3 90.0 L544.1 93.0 L545.0 94.8 L546.0 94.2 L547.0 92.5 L548.3 90.9 L550.0 89.6 L552.0 88.3 L553.5 87.6 L554.2 87.9 L554.4 88.7 L554.8 88.9 L555.6 87.8 L556.5 86.1 L557.4 85.0 L558.2 84.9 L559.0 85.4 L560.0 86.3 L561.2 87.6" fill="none" stroke="#f7c98a" stroke-width="4" stroke-linejoin="round" stroke-linecap="round" opacity="0.55"/><path d="M528.1 89.6 L530.7 87.6 L532.5 89.1 L534.0 92.4 L535.2 94.8" fill="none" stroke="#9a9af5" stroke-width="5" stroke-linejoin="round" stroke-linecap="round" opacity="0.55"/><path d="M125.0 255.3 L126.4 246.8 L127.7 238.6 L129.2 233.4 L131.4 232.7 L133.8 235.1 L136.1 238.3 L137.9 242.0 L139.6 246.6" fill="none" stroke="#f7c98a" stroke-width="5" stroke-linejoin="round" stroke-linecap="round" opacity="0.55"/><path d="M106.6 259.8 L108.0 250.4 L109.2 249.3 L110.2 253.0 L111.5 258.2" fill="none" stroke="#f7c98a" stroke-width="4" stroke-linejoin="round" stroke-linecap="round" opacity="0.55"/><path d="M107.0 255.6 L108.7 247.6 L110.6 247.5" fill="none" stroke="#9a9af5" stroke-width="4" stroke-linejoin="round" stroke-linecap="round" opacity="0.55"/><path d="M59.9 92.4 L61.2 93.6 L63.1 95.0 L64.9 96.2 L66.4 97.5 L67.8 98.4 L69.1 100.2 L70.3 102.9 L71.5 104.5 L72.7 106.3 L73.8 107.6 L75.0 107.7 L76.2 108.0 L77.5 108.5 L78.9 110.2 L80.4 112.5 L82.1 115.1 L83.8 119.9 L85.4 122.6 L86.6 124.5 L87.7 124.9 L88.9 126.3 L90.3 126.7 L91.8 128.3 L93.2 129.3 L94.2 130.4 L95.1 130.7 L96.0 132.5 L96.9 132.1 L97.9 131.0 L98.8 130.6 L99.7 135.6 L100.6 141.5 L101.6 142.9 L102.7 137.3 L104.0 125.4 L105.2 113.6 L106.4 100.1 L107.6 84.5 L108.7 74.6 L109.6 72.8 L110.5 75.7 L111.5 78.4 L112.9 81.5 L114.4 85.0 L115.8 86.8 L116.8 91.9 L117.6 95.8 L118.6 97.1 L119.8 95.9 L121.2 90.4 L122.8 83.4 L124.6 75.5 L126.5 66.1 L128.5 59.8 L130.5 61.1 L132.5 65.3 L134.3 69.4 L135.8 70.7 L137.2 70.1 L138.7 71.8 L140.4 75.0 L142.2 79.9 L143.9 83.4 L145.4 86.8 L146.7 89.7 L148.3 92.1 L150.2 92.6 L152.2 91.1 L154.3 92.2 L156.3 96.2 L158.4 99.7 L160.4 105.5 L162.5 111.5 L164.5 118.3 L166.5 123.3 L168.4 126.4 L170.2 129.0 L171.7 130.9 L172.7 133.0 L173.4 132.8 L174.0 132.9 L174.7 132.4 L175.4 130.7 L176.1 129.0 L176.8 126.8 L177.5 125.3 L178.7 122.8 L180.7 120.8 L183.3 117.6 L185.7 114.3 L187.8 111.5 L189.9 108.0 L191.7 106.2 L193.3 104.5 L194.6 104.2 L196.1 102.4 L197.7 101.8 L199.4 99.1 L201.3 96.1 L203.6 91.6 L206.0 84.9 L208.3 81.4 L210.0 82.6 L211.6 83.8 L213.5 86.2 L216.3 87.8 L219.5 88.9 L222.2 89.0 L224.0 88.6 L225.3 88.0 L226.5 87.6 L227.7 87.9 L228.9 89.9 L230.2 91.3 L231.8 91.7 L233.5 93.1 L235.4 93.5 L237.6 95.7 L240.0 96.9 L242.4 98.3 L244.7 99.3 L247.0 100.7 L249.3 100.8 L251.7 101.6 L254.1 102.5 L256.3 101.6 L258.2 103.6 L259.8 103.2 L261.5 104.6 L263.2 103.4 L264.8 103.1 L266.7 101.8 L268.8 100.0 L271.2 100.3 L273.7 99.7 L276.6 98.7 L279.6 98.6 L282.4 99.0 L284.6 99.8 L286.6 102.3 L288.5 102.4 L290.6 101.9 L292.7 100.2 L294.6 98.8 L296.1 97.1 L297.4 96.9 L298.9 95.6 L300.8 96.8 L302.8 97.8 L305.0 98.8 L307.2 99.7 L309.5 100.1 L312.0 100.9 L314.9 101.5 L318.0 102.2 L320.7 102.0 L322.4 101.7 L323.7 101.7 L325.2 99.7 L327.3 98.9 L329.7 99.0 L332.2 98.9 L334.8 97.0 L337.5 97.0 L340.0 96.2 L342.2 95.0 L344.2 95.5 L346.1 94.8 L347.9 95.0 L349.6 95.0 L351.3 95.9 L353.0 95.4 L354.8 95.4 L356.5 95.2 L358.3 96.1 L360.0 98.6 L361.7 98.9 L363.2 100.1 L364.7 100.7 L366.1 100.7 L367.6 99.6 L369.0 98.5 L370.4 97.3 L371.5 98.3 L372.6 100.3 L373.9 102.2 L375.8 102.2 L378.0 101.8 L380.0 101.4 L381.6 101.8 L382.9 103.9 L384.3 104.7 L385.9 104.7 L387.6 105.3 L388.7 105.6" fill="none" stroke="#f39a12" stroke-width="1.5" stroke-linejoin="round" stroke-linecap="round" opacity="1.0"/><path d="M59.9 94.9 L60.8 95.9 L62.0 96.6 L63.5 98.8 L65.3 98.7 L67.3 100.9 L69.1 101.8 L70.6 102.8 L72.0 104.1 L73.4 105.1 L75.0 106.0 L76.7 108.3 L78.3 111.2 L79.8 110.4 L81.2 110.2 L82.6 110.5 L83.8 110.5 L85.0 112.1 L86.1 115.1 L87.3 117.3 L88.5 119.7 L89.6 121.4 L90.4 120.9 L91.0 119.7 L91.7 119.9 L92.6 120.9 L93.5 122.6 L94.6 124.5 L96.0 123.2 L97.5 121.3 L98.8 119.6 L99.8 121.3 L100.7 123.7 L101.6 123.9 L102.6 120.5 L103.5 113.7 L104.5 106.8 L105.5 97.6 L106.4 87.9 L107.3 77.7 L108.0 72.4 L108.7 67.3 L109.4 64.8 L110.3 64.3 L111.2 66.9 L112.2 70.1 L113.4 72.5 L114.6 75.9 L115.8 79.6 L116.8 85.2 L117.7 90.2 L118.6 92.8 L119.5 94.0 L120.4 92.1 L121.4 89.5 L122.5 88.3 L123.8 86.1 L125.0 82.5 L126.1 78.7 L127.2 75.6 L128.5 75.2 L130.0 76.7 L131.8 80.5 L133.5 83.9 L135.2 86.0 L137.0 88.1 L138.7 90.2 L140.4 93.3 L142.2 96.4 L143.9 100.6 L145.7 103.5 L147.4 107.7 L149.1 109.4 L150.6 112.0 L152.0 113.6 L153.5 113.7 L155.2 114.4 L157.1 112.8 L158.7 110.7 L160.0 110.7 L161.2 110.2 L162.2 108.8 L163.0 110.4 L163.7 110.8 L164.8 110.9 L166.6 109.6 L168.8 108.9 L170.9 108.2 L172.7 109.5 L174.4 110.3 L176.1 110.0 L177.9 107.8 L179.6 102.7 L181.3 100.2 L182.8 100.6 L184.1 104.8 L185.7 106.1 L187.6 105.2 L189.8 103.0 L191.7 101.3 L193.3 101.6 L194.6 102.1 L196.1 102.1 L197.8 100.4 L199.7 98.4 L201.3 96.4 L202.5 96.8 L203.6 98.3 L204.8 98.4 L206.4 96.3 L208.2 91.1 L210.0 87.4 L211.6 86.3 L213.2 86.2 L215.2 86.5 L218.0 85.3 L221.1 82.7 L223.9 82.1 L226.0 83.5 L227.8 86.4 L229.3 88.9 L230.6 93.3 L231.7 97.3 L232.8 102.1 L233.9 105.2 L234.9 109.4 L236.3 112.0 L238.2 111.2 L240.3 109.8 L242.4 108.8 L244.2 107.6 L245.9 105.9 L247.6 105.4 L249.4 104.9 L251.1 102.7 L252.8 102.5 L254.3 103.8 L255.7 107.0 L257.2 107.2 L258.9 104.7 L260.8 101.6 L262.4 97.9 L263.6 99.2 L264.5 101.3 L265.9 101.8 L268.0 100.8 L270.6 99.4 L272.8 97.3 L274.4 97.9 L275.8 99.2 L277.2 100.9 L278.9 101.5 L280.6 100.7 L282.4 99.6 L284.1 100.3 L285.8 101.4 L287.6 101.8 L289.6 99.8 L291.8 97.4 L293.7 95.8 L295.2 96.2 L296.6 98.0 L298.0 99.2 L299.8 98.4 L301.6 97.3 L303.3 97.3 L304.4 97.8 L305.4 99.5 L306.7 100.1 L308.8 101.5 L311.3 100.4 L313.7 101.1 L315.8 103.8 L317.9 105.9 L319.8 106.0 L321.7 102.5 L323.5 98.7 L325.2 95.4 L326.7 95.8 L328.2 97.8 L329.6 97.5 L331.0 96.0 L332.4 94.3 L333.9 93.9 L335.6 94.5 L337.5 95.3 L339.1 96.6 L340.4 95.0 L341.4 94.4 L342.6 93.5 L344.0 94.0 L345.4 94.7 L347.0 96.7 L348.7 98.7 L350.4 101.2 L352.2 102.4 L354.0 100.9 L355.7 98.4 L357.4 96.9 L358.8 94.1 L360.2 91.9 L361.7 90.1 L363.7 86.1 L365.8 84.0 L367.8 84.4 L369.3 88.7 L370.7 95.1 L372.2 102.2 L374.1 107.5 L376.2 112.1 L378.3 115.3 L380.4 115.3 L382.4 112.1 L384.3 108.7 L386.0 109.8 L387.6 109.6 L388.7 110.2" fill="none" stroke="#0a0af0" stroke-width="1.75" stroke-linejoin="round" stroke-linecap="round" opacity="1.0"/><path d="M440.4 93.5 L441.8 91.5 L443.7 88.2 L445.3 88.1 L446.2 87.5 L446.9 90.0 L447.7 89.8 L448.8 89.2 L450.0 86.5 L451.4 85.6 L453.0 85.6 L454.7 84.3 L456.3 85.1 L457.8 84.2 L459.2 83.0 L460.5 83.2 L461.7 84.3 L462.8 86.1 L464.2 86.8 L466.3 85.9 L468.8 84.7 L470.9 83.5 L472.4 84.0 L473.5 85.6 L474.5 86.8 L475.3 85.3 L475.9 85.1 L477.0 84.9 L478.8 86.7 L481.1 90.4 L483.0 91.7 L484.2 91.9 L485.1 89.1 L486.1 89.7 L487.4 92.9 L488.8 97.8 L490.3 103.2 L492.0 106.7 L493.7 110.3 L495.2 112.0 L496.1 110.4 L496.7 108.3 L497.7 108.3 L499.4 114.2 L501.3 121.4 L503.3 126.5 L505.1 123.6 L506.8 119.4 L508.5 115.2 L510.0 116.0 L511.5 119.8 L513.0 122.7 L514.7 122.8 L516.6 123.7 L518.3 122.5 L519.9 117.5 L521.5 111.3 L522.8 104.8 L523.8 100.7 L524.6 98.0 L525.4 95.1 L526.4 95.0 L527.5 94.9 L528.7 94.3 L530.0 90.8 L531.3 88.4 L532.6 85.6 L533.9 88.3 L535.3 92.9 L536.5 96.2 L537.4 96.3 L538.2 95.9 L539.1 93.0 L540.2 90.8 L541.3 88.8 L542.4 87.7 L543.3 90.3 L544.1 93.3 L545.0 94.4 L546.0 93.6 L547.0 92.4 L548.3 91.5 L550.0 88.3 L552.0 88.6 L553.5 87.1 L554.2 88.4 L554.4 88.2 L554.8 88.8 L555.6 87.1 L556.5 85.7 L557.4 85.6 L558.2 85.3 L559.0 85.2 L560.0 85.9 L561.2 86.7 L562.5 89.1 L563.9 90.9 L565.7 92.5 L567.7 94.2 L569.1 94.9" fill="none" stroke="#f39a12" stroke-width="1.5" stroke-linejoin="round" stroke-linecap="round" opacity="1.0"/><path d="M440.4 94.3 L441.7 96.1 L443.5 99.2 L445.3 100.6 L446.9 98.1 L448.5 95.0 L450.2 93.7 L452.2 94.6 L454.4 97.1 L456.3 99.2 L457.8 98.7 L459.1 98.7 L460.5 98.0 L462.3 98.6 L464.3 99.2 L466.0 99.5 L467.4 99.2 L468.7 99.1 L469.7 99.0 L470.4 100.5 L470.8 102.1 L471.5 102.3 L472.5 101.9 L473.8 99.5 L475.1 98.9 L476.5 100.3 L477.9 101.6 L479.4 103.5 L481.1 102.1 L482.8 99.4 L484.3 97.2 L485.2 96.0 L485.9 94.9 L486.7 95.5 L487.8 97.5 L489.0 100.9 L490.3 102.4 L491.6 102.8 L492.9 101.4 L494.0 100.3 L494.7 100.7 L495.3 102.0 L495.8 101.0 L496.4 99.8 L497.0 96.7 L497.7 95.1 L498.4 95.9 L499.2 97.4 L500.1 100.3 L501.1 104.7 L502.2 109.4 L503.3 111.8 L504.2 109.5 L505.1 106.6 L505.9 103.8 L506.7 102.0 L507.5 100.5 L508.5 100.0 L509.9 103.8 L511.5 107.4 L513.0 109.3 L514.4 111.6 L515.8 110.8 L517.0 109.8 L517.9 107.6 L518.7 104.9 L519.6 101.1 L520.4 99.7 L521.4 99.2 L522.8 97.4 L525.2 93.3 L528.1 89.5 L530.7 87.0 L532.5 88.8 L534.0 92.6 L535.2 95.0 L536.2 95.1 L537.0 94.7 L537.8 93.2 L538.5 92.5 L539.1 91.8 L539.8 91.8 L540.8 93.9 L541.9 96.7 L543.0 99.2 L544.1 101.7 L545.2 103.1 L546.3 103.9 L547.6 104.3 L548.9 102.5 L550.2 101.4 L551.4 100.0 L552.5 100.4 L553.5 100.4 L554.3 101.2 L555.1 101.9 L556.1 103.1 L557.5 102.3 L559.0 99.7 L560.6 97.7 L562.2 98.0 L563.7 99.2 L565.2 98.1 L566.7 99.0 L568.1 98.7 L569.1 98.3" fill="none" stroke="#0a0af0" stroke-width="1.75" stroke-linejoin="round" stroke-linecap="round" opacity="1.0"/><path d="M59.9 266.7 L60.8 267.8 L62.1 269.4 L63.5 271.0 L65.1 272.3 L66.9 272.5 L68.4 273.0 L69.5 272.9 L70.4 272.3 L71.3 270.8 L72.2 271.1 L73.1 271.9 L74.1 273.6 L75.2 274.9 L76.3 278.0 L77.6 279.0 L79.0 280.9 L80.5 282.1 L81.9 283.3 L82.8 283.0 L83.6 280.9 L84.7 281.8 L86.3 285.9 L88.2 290.4 L90.3 294.2 L92.7 297.6 L95.3 298.7 L97.4 300.1 L98.6 302.2 L99.4 305.4 L100.2 304.7 L101.3 301.5 L102.5 294.3 L103.8 286.0 L105.2 274.2 L106.6 259.5 L108.0 250.7 L109.2 249.4 L110.2 252.6 L111.5 258.2 L113.1 264.6 L114.9 273.2 L116.5 278.4 L117.5 281.4 L118.2 282.8 L119.3 281.1 L121.0 274.6 L123.1 264.4 L125.0 255.4 L126.4 247.5 L127.7 238.6 L129.2 233.0 L131.4 232.8 L133.8 235.3 L136.1 237.9 L137.9 241.3 L139.6 246.0 L141.3 251.6 L143.3 255.8 L145.3 261.0 L147.4 265.3 L149.4 268.0 L151.4 269.1 L153.5 271.5 L155.8 274.0 L158.1 277.7 L160.4 280.4 L162.5 283.8 L164.4 285.3 L166.5 286.7 L168.8 288.2 L171.3 289.1 L173.5 289.9 L175.4 288.3 L177.2 287.5 L178.7 286.8 L179.9 287.9 L181.0 287.1 L182.2 286.0 L183.7 285.0 L185.5 283.7 L187.4 280.8 L189.6 279.2 L191.9 278.5 L194.3 276.7 L196.8 275.4 L199.2 273.5 L201.3 273.1 L202.6 271.0 L203.5 268.5 L204.8 267.3 L206.8 266.4 L209.3 268.7 L211.7 268.6 L214.1 267.4 L216.5 265.2 L218.7 263.3 L220.5 263.4 L222.2 266.0 L223.9 266.7 L225.9 266.8 L228.0 266.1 L230.2 265.5 L232.5 263.9 L235.0 264.7 L237.2 264.0 L239.1 265.4 L240.8 267.4 L242.4 267.4 L243.8 266.0 L245.2 265.2 L246.7 264.3 L248.6 264.3 L250.6 264.6 L252.8 264.8 L255.1 269.4 L257.6 273.1 L259.8 276.2 L261.7 273.7 L263.3 269.0 L265.0 266.5 L266.8 268.0 L268.5 271.6 L270.2 273.5 L271.7 273.5 L273.0 272.3 L274.6 271.8 L276.5 274.3 L278.7 278.2 L280.7 280.1 L282.5 280.1 L284.2 276.8 L285.9 275.2 L287.6 275.7 L289.2 277.4 L291.1 278.5 L293.3 279.1 L295.8 278.8 L298.0 279.4 L299.9 281.2 L301.6 280.9 L303.3 281.2 L305.2 281.8 L307.2 281.8 L309.0 279.5 L310.5 275.7 L311.8 270.5 L313.1 266.2 L314.4 265.3 L315.7 266.7 L317.0 266.6 L318.2 267.7 L319.5 268.3 L321.0 269.2 L322.9 265.5 L325.0 263.0 L327.2 261.2 L329.4 262.4 L331.6 264.3 L333.5 265.9 L334.7 264.4 L335.6 264.6 L336.6 263.7 L337.8 263.9 L339.1 265.1 L340.5 264.9 L342.2 264.0 L344.0 264.2 L346.0 263.9 L348.1 266.1 L350.3 269.3 L352.3 271.7 L353.8 274.6 L355.0 275.9 L356.2 276.4 L357.5 275.9 L358.8 273.9 L360.1 272.7 L361.5 273.9 L362.8 274.8 L364.0 275.4 L364.9 277.7 L365.5 278.4 L366.3 278.9 L367.2 277.5 L368.3 275.8 L369.5 274.0 L370.9 274.3 L372.5 274.3 L374.2 274.2 L376.3 273.1 L378.5 270.9 L380.4 270.7 L381.6 271.3 L382.5 272.7 L383.6 272.6 L385.2 273.2 L387.0 271.1 L388.3 269.5" fill="none" stroke="#f39a12" stroke-width="1.5" stroke-linejoin="round" stroke-linecap="round" opacity="1.0"/><path d="M59.9 267.3 L60.6 269.3 L61.7 271.2 L62.8 272.7 L63.9 274.5 L65.0 275.5 L66.3 276.7 L67.9 275.6 L69.7 274.8 L71.3 274.8 L72.6 276.7 L73.7 277.1 L74.8 279.2 L76.0 280.7 L77.2 283.1 L78.3 283.1 L79.0 282.8 L79.6 281.7 L80.4 280.4 L81.4 280.2 L82.6 280.6 L84.0 281.3 L85.8 285.2 L87.9 290.4 L89.6 293.6 L90.7 292.6 L91.5 289.4 L92.5 288.4 L93.8 289.6 L95.3 291.2 L96.7 292.8 L97.9 295.3 L99.1 299.2 L100.2 298.9 L101.3 294.5 L102.5 287.5 L103.8 280.1 L105.3 268.3 L107.0 256.1 L108.7 247.4 L110.6 247.9 L112.5 251.7 L114.4 256.6 L116.1 262.3 L117.8 266.4 L119.3 268.6 L120.6 267.9 L121.7 265.3 L122.8 262.9 L124.0 260.6 L125.2 258.6 L126.4 257.4 L127.5 254.5 L128.6 251.1 L129.9 249.6 L131.5 249.2 L133.4 250.8 L135.2 251.7 L136.9 254.6 L138.5 257.6 L140.4 259.4 L142.6 261.6 L145.0 263.9 L147.4 266.9 L149.7 267.8 L152.0 270.1 L154.3 272.4 L156.7 274.8 L159.1 276.6 L161.3 279.2 L163.2 281.6 L164.8 284.4 L166.5 286.0 L168.3 285.8 L170.0 285.6 L171.7 285.6 L173.3 285.1 L174.7 286.0 L176.1 286.4 L177.4 284.3 L178.5 282.9 L179.6 281.2 L180.5 282.8 L181.3 284.8 L182.2 285.2 L183.2 282.9 L184.4 281.1 L185.7 279.2 L187.3 279.0 L189.2 280.0 L190.9 278.5 L192.4 278.0 L193.8 275.4 L195.2 274.5 L196.6 274.0 L198.1 274.4 L199.6 274.9 L201.3 274.0 L203.0 272.0 L204.8 270.6 L206.7 268.7 L208.5 266.6 L210.0 267.4 L210.8 268.5 L211.1 270.4 L211.7 271.3 L212.7 270.6 L214.0 267.7 L215.2 265.8 L216.4 265.0 L217.5 265.0 L218.7 263.7 L219.8 265.3 L220.9 265.4 L222.2 265.6 L223.9 266.1 L225.7 264.4 L227.4 262.9 L228.7 262.6 L229.9 262.6 L231.1 262.7 L232.5 263.3 L234.0 265.6 L235.4 266.8 L236.6 265.3 L237.6 263.9 L238.9 263.0 L240.5 264.5 L242.3 267.3 L244.1 269.1 L245.9 267.8 L247.6 265.0 L249.3 263.7 L250.8 265.9 L252.1 268.3 L253.7 270.4 L255.7 270.0 L257.8 268.2 L259.8 268.4 L261.3 268.7 L262.7 272.1 L264.1 273.4 L265.8 274.0 L267.5 272.7 L269.3 270.8 L271.1 273.4 L273.0 277.2 L274.6 279.1 L275.7 277.7 L276.7 274.7 L278.0 273.7 L280.1 275.9 L282.7 279.2 L285.0 281.8 L286.9 278.9 L288.6 277.2 L290.2 274.7 L291.6 276.7 L293.0 278.6 L294.6 280.0 L296.7 280.6 L299.1 279.4 L301.5 279.2 L304.0 279.7 L306.5 281.6 L308.5 282.4 L309.5 282.4 L309.9 281.0 L310.5 279.5 L311.5 274.7 L312.7 269.3 L313.9 265.6 L314.9 264.4 L315.9 263.7 L317.0 264.5 L318.3 266.2 L319.7 268.8 L321.0 269.6 L322.1 269.6 L323.1 267.1 L324.1 265.5 L325.0 262.9 L326.0 261.4 L327.2 260.9 L328.9 263.0 L330.9 268.2 L332.7 270.2 L334.1 270.9 L335.4 269.3 L336.6 267.4 L337.9 266.7 L339.1 266.2 L340.5 265.3 L341.9 264.8 L343.5 264.2 L345.2 263.8 L347.3 265.7 L349.6 266.5 L351.5 269.5 L352.8 270.7 L353.7 272.4 L354.6 273.9 L355.5 274.7 L356.5 274.0 L357.7 273.9 L359.4 274.3 L361.4 273.9 L363.2 274.3 L364.6 275.1 L365.8 273.4 L367.1 273.5 L368.6 271.5 L370.1 270.9 L371.8 269.9 L373.7 270.1 L375.7 271.0 L377.3 272.4 L378.3 272.8 L379.0 274.1 L379.7 274.3 L380.6 274.5 L381.6 273.1 L382.8 272.8 L384.7 272.2 L386.8 273.1 L388.3 271.5" fill="none" stroke="#0a0af0" stroke-width="1.75" stroke-linejoin="round" stroke-linecap="round" opacity="1.0"/><path d="M440.4 274.1 L441.1 277.0 L442.2 279.6 L443.5 281.1 L445.0 280.1 L446.7 276.9 L448.3 276.1 L449.7 278.4 L451.0 280.2 L452.6 280.4 L454.8 278.9 L457.2 276.2 L459.3 275.3 L460.7 275.9 L461.8 278.7 L463.0 280.1 L464.7 276.4 L466.6 270.3 L468.4 266.4 L469.9 267.3 L471.3 270.9 L472.7 272.0 L474.1 271.5 L475.5 267.7 L477.0 266.5 L478.8 269.2 L480.7 272.4 L482.4 273.1 L483.7 271.7 L484.9 267.6 L486.1 263.6 L487.5 262.5 L489.0 262.8 L490.3 262.6 L491.4 265.1 L492.3 264.8 L493.4 265.8 L494.7 263.9 L496.2 260.6 L497.7 259.7 L499.3 263.7 L501.0 269.7 L502.5 274.1 L503.8 270.9 L504.9 267.7 L505.9 264.9 L506.6 266.4 L507.1 269.3 L507.8 272.0 L509.0 275.8 L510.5 280.6 L511.7 283.0 L512.4 282.0 L512.9 281.2 L513.7 280.6 L515.0 281.9 L516.5 287.1 L518.3 289.8 L520.4 285.6 L522.8 279.3 L524.8 274.2 L526.0 271.8 L526.9 270.8 L528.0 269.6 L529.8 268.6 L531.9 266.6 L533.9 265.7 L535.7 265.6 L537.5 267.0 L539.1 267.4 L540.4 268.0 L541.6 268.7 L543.0 269.3 L544.8 271.7 L546.9 274.6 L548.9 276.3 L550.9 275.7 L552.9 274.0 L554.8 273.3 L556.6 273.0 L558.4 275.2 L560.0 275.0 L561.4 273.4 L562.7 271.6 L563.9 270.1 L565.2 270.3 L566.4 270.3 L567.2 271.5" fill="none" stroke="#f39a12" stroke-width="1.5" stroke-linejoin="round" stroke-linecap="round" opacity="1.0"/><path d="M440.4 274.4 L441.2 274.6 L442.5 276.5 L444.1 276.4 L446.2 276.5 L448.6 275.5 L450.8 274.5 L452.6 274.2 L454.2 275.7 L455.7 277.5 L456.9 276.3 L458.1 275.1 L459.3 274.7 L460.8 275.0 L462.5 274.4 L464.2 273.7 L466.0 273.2 L467.9 272.5 L469.7 270.9 L471.4 269.1 L473.0 267.7 L474.5 266.5 L476.0 268.1 L477.4 270.5 L478.8 272.9 L480.0 270.7 L481.2 269.3 L482.4 268.0 L483.8 268.5 L485.2 269.5 L486.7 268.5 L488.3 265.3 L489.9 260.9 L491.6 259.2 L493.4 261.8 L495.2 265.7 L497.0 268.8 L499.0 271.6 L500.9 273.8 L502.6 275.2 L503.7 274.5 L504.4 273.6 L505.2 272.2 L506.1 272.3 L506.9 273.7 L507.8 272.7 L508.7 275.4 L509.5 278.1 L510.4 279.4 L511.2 279.0 L511.9 278.2 L513.0 278.3 L514.5 281.4 L516.4 285.0 L518.3 287.3 L520.3 283.1 L522.3 276.6 L524.1 271.8 L525.5 270.3 L526.7 270.2 L528.0 268.9 L529.4 267.2 L530.9 264.6 L532.6 263.1 L534.7 264.2 L537.1 265.7 L539.1 267.1 L540.3 266.8 L541.2 264.2 L542.4 264.7 L544.2 267.2 L546.4 271.5 L548.3 274.2 L549.7 276.0 L551.0 276.9 L552.2 277.4 L553.5 277.2 L554.9 276.0 L556.1 275.6 L557.2 275.8 L558.2 277.1 L559.3 276.9 L560.8 276.0 L562.4 274.7 L563.9 272.4 L565.2 271.2 L566.4 271.3 L567.2 271.0" fill="none" stroke="#0a0af0" stroke-width="1.75" stroke-linejoin="round" stroke-linecap="round" opacity="1.0"/><rect x="151.6" y="43.9" width="8.1" height="2" fill="#4a5ad8"/><rect x="179.9" y="43.9" width="5.9" height="2" fill="#4a5ad8"/><rect x="453.9" y="44.3" width="29.6" height="2" fill="#4a5ad8"/><rect x="133.1" y="216" width="8.7" height="2" fill="#4a5ad8"/><path d="M133.2 133 V154 M129.7 149.5 L133.2 154 L136.7 149.5" fill="none" stroke="#444" stroke-width="0.9"/><circle cx="133.2" cy="127.2" r="5.8" fill="#4fc6cc"/><text x="133.2" y="130.2" font-size="8.5" text-anchor="middle" fill="#111" stroke="#111" stroke-width="0.15">1</text><path d="M472.6 133 V153.8 M469.1 149.3 L472.6 153.8 L476.1 149.3" fill="none" stroke="#444" stroke-width="0.9"/><circle cx="472.6" cy="127.4" r="5.6" fill="#7f88c8"/><text x="472.6" y="130.4" font-size="8.5" text-anchor="middle" fill="#111" stroke="#111" stroke-width="0.15">2</text><path d="M134 305 V326 M130.5 321.5 L134 326 L137.5 321.5" fill="none" stroke="#444" stroke-width="0.9"/><circle cx="134" cy="299.2" r="5.8" fill="#45c08e"/><text x="134" y="302.2" font-size="8.5" text-anchor="middle" fill="#111" stroke="#111" stroke-width="0.15">3</text><path d="M472.6 305 V326.2 M469.1 321.7 L472.6 326.2 L476.1 321.7" fill="none" stroke="#444" stroke-width="0.9"/><circle cx="472.6" cy="299.4" r="5.6" fill="#b792cc"/><text x="472.6" y="302.4" font-size="8.5" text-anchor="middle" fill="#111" stroke="#111" stroke-width="0.15">4</text><text x="227.3" y="20.9" font-size="13" text-anchor="start" fill="#1a1a1a" stroke="#1a1a1a" stroke-width="0.22" textLength="110.7" lengthAdjust="spacingAndGlyphs">No-Gap Task (n = 8)</text><text x="234.4" y="202.8" font-size="13" text-anchor="start" fill="#1a1a1a" stroke="#1a1a1a" stroke-width="0.22" textLength="89.9" lengthAdjust="spacingAndGlyphs">Gap Task (n = 9)</text><text x="60.2" y="34.8" font-size="11.2" text-anchor="start" fill="#111" stroke="#111" stroke-width="0.22" textLength="72.5" lengthAdjust="spacingAndGlyphs">stimulus-locked</text><text x="441" y="34.2" font-size="11.2" text-anchor="start" fill="#111" stroke="#111" stroke-width="0.22" textLength="76.2" lengthAdjust="spacingAndGlyphs">response-locked</text><text x="1" y="15.7" font-size="20" text-anchor="start" fill="#111" stroke="#111" stroke-width="0.22" textLength="17.8" lengthAdjust="spacingAndGlyphs">A)</text><text x="1.4" y="393.5" font-size="20" text-anchor="start" fill="#111" stroke="#111" stroke-width="0.22" textLength="16.2" lengthAdjust="spacingAndGlyphs">B)</text><text x="36.2" y="99.9" font-size="9" text-anchor="middle" fill="#111" stroke="#111" stroke-width="0.22" textLength="49.2" lengthAdjust="spacingAndGlyphs" transform="rotate(-90 36.2 99.9)">voltage (uV)</text><text x="36.2" y="262.3" font-size="9" text-anchor="middle" fill="#111" stroke="#111" stroke-width="0.22" textLength="49.8" lengthAdjust="spacingAndGlyphs" transform="rotate(-90 36.2 262.3)">voltage (uV)</text><text x="234.2" y="354" font-size="10" text-anchor="middle" fill="#111" stroke="#111" stroke-width="0.22" textLength="29.7" lengthAdjust="spacingAndGlyphs">time (s)</text><text x="506.5" y="352.3" font-size="10" text-anchor="middle" fill="#111" stroke="#111" stroke-width="0.22" textLength="29.5" lengthAdjust="spacingAndGlyphs">time (s)</text><text x="78.4" y="189.8" font-size="10" text-anchor="middle" fill="#111" stroke="#111" stroke-width="0.22" textLength="30" lengthAdjust="spacingAndGlyphs" transform="rotate(-90 78.4 189.8)">stim on</text><text x="104.6" y="189.8" font-size="10" text-anchor="middle" fill="#111" stroke="#111" stroke-width="0.22" textLength="30" lengthAdjust="spacingAndGlyphs" transform="rotate(-90 104.6 189.8)">stim off</text><text x="480.5" y="190.7" font-size="10" text-anchor="middle" fill="#111" stroke="#111" stroke-width="0.22" textLength="36.5" lengthAdjust="spacingAndGlyphs" transform="rotate(-90 480.5 190.7)">response</text><rect x="269.3" y="41.3" width="74.4" height="38.9" fill="#fff" stroke="#8a8a8a" stroke-width="0.8"/><path d="M275 48.1 H292.8" stroke="#f39a12" stroke-width="1.4"/><path d="M275 59.4 H292.8" stroke="#0a0af0" stroke-width="1.6"/><rect x="275" y="67.3" width="17.8" height="7.9" fill="#d0d0d0"/><text x="294.6" y="51.6" font-size="9" text-anchor="start" fill="#1a1a1a" stroke="#1a1a1a" stroke-width="0.22" textLength="35" lengthAdjust="spacingAndGlyphs">confident</text><text x="294.6" y="62.9" font-size="9" text-anchor="start" fill="#1a1a1a" stroke="#1a1a1a" stroke-width="0.22" textLength="44.6" lengthAdjust="spacingAndGlyphs">unconfident</text><text x="294.6" y="74.2" font-size="9" text-anchor="start" fill="#1a1a1a" stroke="#1a1a1a" stroke-width="0.22" textLength="36.5" lengthAdjust="spacingAndGlyphs">responses</text><g fill="none" stroke="#222" stroke-width="0.8"><circle cx="250.5" cy="60.4" r="11.6"/><path d="M248.3 49.3 L250.5 47.4 L252.7 49.3"/><path d="M239.1 58 q-1.2 2.4 0 4.8 M261.9 58 q1.2 2.4 0 4.8"/></g><text x="250.5" y="60.6" font-size="8.5" text-anchor="middle" fill="#1a1a1a" stroke="#1a1a1a" stroke-width="0.22" textLength="8" lengthAdjust="spacingAndGlyphs">Pz</text><circle cx="250.5" cy="63.6" r="0.8" fill="#222"/><clipPath id="hc1"><circle cx="195.8" cy="477.9" r="50.6"/></clipPath><g clip-path="url(#hc1)"><rect x="145.2" y="427.3" width="101.2" height="101.2" fill="#0c3d73"/><path d="M144.2 426.3L145.6 426.3L147.1 426.3L148.5 426.3L149.9 426.3L151.4 426.3L152.8 426.3L154.2 426.3L155.7 426.3L157.1 426.3L158.5 426.3L160.0 426.3L161.4 426.3L162.8 426.3L164.3 426.3L165.7 426.3L167.1 426.3L168.6 426.3L170.0 426.3L171.4 426.3L172.9 426.3L174.3 426.3L175.7 426.3L177.2 426.3L178.6 426.3L180.0 426.3L181.5 426.3L182.9 426.3L184.3 426.3L185.8 426.3L187.2 426.3L188.6 426.3L190.1 426.3L191.5 426.3L192.9 426.3L194.4 426.3L195.8 426.3L197.2 426.3L198.7 426.3L200.1 426.3L201.5 426.3L203.0 426.3L204.4 426.3L205.8 426.3L207.3 426.3L208.7 426.3L210.1 426.3L211.6 426.3L213.0 426.3L214.4 426.3L215.9 426.3L217.3 426.3L218.7 426.3L220.2 426.3L221.6 426.3L223.0 426.3L224.5 426.3L225.9 426.3L227.3 426.3L228.8 426.3L230.2 426.3L231.6 426.3L233.1 426.3L234.5 426.3L235.9 426.3L237.4 426.3L238.8 426.3L240.2 426.3L241.7 426.3L243.1 426.3L244.5 426.3L246.0 426.3L247.4 426.3L247.4 427.7L247.4 429.2L247.4 430.6L247.4 432.0L247.4 433.5L247.4 434.9L247.4 436.3L247.4 437.8L247.4 439.2L247.4 440.6L247.4 442.1L247.4 443.5L247.4 444.9L247.4 446.4L247.4 447.8L247.4 449.2L247.4 450.7L247.4 452.1L247.4 453.5L247.4 455.0L247.4 456.4L247.4 457.8L247.4 459.3L247.4 460.7L247.4 462.1L247.4 463.6L247.4 465.0L247.4 466.4L247.4 467.9L247.4 469.3L247.4 470.7L247.4 472.2L247.4 473.6L247.4 475.0L247.4 476.5L247.4 477.9L247.4 479.3L247.4 480.8L247.4 482.2L247.4 483.6L247.4 485.1L247.4 486.5L247.4 487.9L247.4 489.4L247.4 490.8L247.4 492.2L247.4 493.7L247.4 495.1L247.4 496.5L247.4 498.0L247.4 499.4L247.4 500.8L247.4 502.3L247.4 503.7L247.4 505.1L247.4 506.6L247.4 508.0L247.4 509.4L247.4 510.9L247.4 512.3L247.4 513.7L247.4 515.2L247.4 516.6L247.4 518.0L247.4 519.5L247.4 520.9L247.4 522.3L247.4 523.8L247.4 525.2L247.4 526.6L247.4 528.1L247.4 529.5L246.0 529.5L244.5 529.5L243.1 529.5L241.7 529.5L240.2 529.5L238.8 529.5L237.4 529.5L235.9 529.5L234.5 529.5L233.1 529.5L231.6 529.5L230.2 529.5L228.8 529.5L227.3 529.5L225.9 529.5L224.5 529.5L223.0 529.5L221.6 529.5L220.2 529.5L218.7 529.5L217.3 529.5L215.9 529.5L214.4 529.5L213.0 529.5L211.6 529.5L210.1 529.5L208.7 529.5L207.3 529.5L205.8 529.5L204.4 529.5L203.0 529.5L201.5 529.5L200.1 529.5L198.7 529.5L197.2 529.5L195.8 529.5L194.4 529.5L192.9 529.5L191.5 529.5L190.1 529.5L188.6 529.5L187.2 529.5L185.8 529.5L184.3 529.5L182.9 529.5L181.5 529.5L180.0 529.5L178.6 529.5L177.2 529.5L175.7 529.5L174.3 529.5L172.9 529.5L171.4 529.5L170.0 529.5L168.6 529.5L167.1 529.5L165.7 529.5L164.3 529.5L162.8 529.5L161.4 529.5L160.0 529.5L158.5 529.5L157.1 529.5L155.7 529.5L154.2 529.5L152.8 529.5L151.4 529.5L149.9 529.5L148.5 529.5L147.1 529.5L145.6 529.5L144.2 529.5L144.2 528.1L144.2 526.6L144.2 525.2L144.2 523.8L144.2 522.3L144.2 520.9L144.2 519.5L144.2 518.0L144.2 516.6L144.2 515.2L144.2 513.7L144.2 512.3L144.2 510.9L144.2 509.4L144.2 508.0L144.2 506.6L144.2 505.1L144.2 503.7L144.2 502.3L144.2 500.8L144.2 499.4L144.2 498.0L144.2 496.5L144.2 495.1L144.2 493.7L144.2 492.2L144.2 490.8L144.2 489.4L144.2 487.9L144.2 486.5L144.2 485.1L144.2 483.6L144.2 482.2L144.2 480.8L144.2 479.3L144.2 477.9L144.2 476.5L144.2 475.0L144.2 473.6L144.2 472.2L144.2 470.7L144.2 469.3L144.2 467.9L144.2 466.4L144.2 465.0L144.2 463.6L144.2 462.1L144.2 460.7L144.2 459.3L144.2 457.8L144.2 456.4L144.2 455.0L144.2 453.5L144.2 452.1L144.2 450.7L144.2 449.2L144.2 447.8L144.2 446.4L144.2 444.9L144.2 443.5L144.2 442.1L144.2 440.6L144.2 439.2L144.2 437.8L144.2 436.3L144.2 434.9L144.2 433.5L144.2 432.0L144.2 430.6L144.2 429.2L144.2 427.7Z" fill="#1a5899" fill-rule="evenodd"/><path d="M144.2 426.3L145.6 426.3L147.1 426.3L148.5 426.3L149.9 426.3L151.4 426.3L152.8 426.3L154.2 426.3L155.7 426.3L157.1 426.3L158.5 426.3L160.0 426.3L161.4 426.3L162.8 426.3L164.3 426.3L165.7 426.3L167.1 426.3L168.6 426.3L170.0 426.3L171.4 426.3L172.9 426.3L174.3 426.3L175.7 426.3L177.2 426.3L178.6 426.3L180.0 426.3L181.5 426.3L182.9 426.3L184.3 426.3L185.8 426.3L187.2 426.3L188.6 426.3L190.1 426.3L191.5 426.3L192.9 426.3L194.4 426.3L195.8 426.3L197.2 426.3L198.7 426.3L200.1 426.3L201.5 426.3L203.0 426.3L204.4 426.3L205.8 426.3L207.3 426.3L208.7 426.3L210.1 426.3L211.6 426.3L213.0 426.3L214.4 426.3L215.9 426.3L217.3 426.3L218.7 426.3L220.2 426.3L221.6 426.3L223.0 426.3L224.5 426.3L225.9 426.3L227.3 426.3L228.8 426.3L230.2 426.3L231.6 426.3L233.1 426.3L234.5 426.3L235.9 426.3L237.4 426.3L238.8 426.3L240.2 426.3L241.7 426.3L243.1 426.3L244.5 426.3L246.0 426.3L247.4 426.3L247.4 427.7L247.4 429.2L247.4 430.6L247.4 432.0L247.4 433.5L247.4 434.9L247.4 436.3L247.4 437.8L247.4 439.2L247.4 440.6L247.4 442.1L247.4 443.5L247.4 444.9L247.4 446.4L247.4 447.8L247.4 449.2L247.4 450.7L247.4 452.1L247.4 453.5L247.4 455.0L247.4 456.4L247.4 457.8L247.4 459.3L247.4 460.7L247.4 462.1L247.4 463.6L247.4 465.0L247.4 466.4L247.4 467.9L247.4 469.3L247.4 470.7L247.4 472.2L247.4 473.6L247.4 475.0L247.4 476.5L247.4 477.9L247.4 479.3L247.4 480.8L247.4 482.2L247.4 483.6L247.4 485.1L247.4 486.5L247.4 487.9L247.4 489.4L247.4 490.8L247.4 492.2L247.4 493.7L247.4 495.1L247.4 496.5L247.4 498.0L247.4 499.4L247.4 500.8L247.4 502.3L247.4 503.7L247.4 505.1L247.4 506.6L247.4 508.0L247.4 509.4L247.4 510.9L247.4 512.3L247.4 513.7L247.4 515.2L247.4 516.6L247.4 518.0L247.4 519.5L247.4 520.9L247.4 522.3L247.4 523.8L247.4 525.2L247.4 526.6L247.4 528.1L247.4 529.5L246.0 529.5L244.5 529.5L243.1 529.5L241.7 529.5L240.2 529.5L238.8 529.5L237.4 529.5L235.9 529.5L234.5 529.5L233.1 529.5L231.6 529.5L230.2 529.5L228.8 529.5L227.3 529.5L225.9 529.5L224.5 529.5L223.0 529.5L221.6 529.5L220.2 529.5L218.7 529.5L217.3 529.5L215.9 529.5L214.4 529.5L213.0 529.5L211.6 529.5L210.1 529.5L208.7 529.5L207.3 529.5L205.8 529.5L204.4 529.5L203.0 529.5L201.5 529.5L200.1 529.5L198.7 529.5L197.2 529.5L195.8 529.5L194.4 529.5L192.9 529.5L191.5 529.5L190.1 529.5L188.6 529.5L187.2 529.5L185.8 529.5L184.3 529.5L182.9 529.5L181.5 529.5L180.0 529.5L178.6 529.5L177.2 529.5L175.7 529.5L174.3 529.5L172.9 529.5L171.4 529.5L170.0 529.5L168.6 529.5L167.1 529.5L165.7 529.5L164.3 529.5L162.8 529.5L161.4 529.5L160.0 529.5L158.5 529.5L157.1 529.5L155.7 529.5L154.2 529.5L152.8 529.5L151.4 529.5L149.9 529.5L148.5 529.5L147.1 529.5L145.6 529.5L144.2 529.5L144.2 528.1L144.2 526.6L144.2 525.2L144.2 523.8L144.2 522.3L144.2 520.9L144.2 519.5L144.2 518.0L144.2 516.6L144.2 515.2L144.2 513.7L144.2 512.3L144.2 510.9L144.2 509.4L144.2 508.0L144.2 506.6L144.2 505.1L144.2 503.7L144.2 502.3L144.2 500.8L144.2 499.4L144.2 498.0L144.2 496.5L144.2 495.1L144.2 493.7L144.2 492.2L144.2 490.8L144.2 489.4L144.2 487.9L144.2 486.5L144.2 485.1L144.2 483.6L144.2 482.2L144.2 480.8L144.2 479.3L144.2 477.9L144.2 476.5L144.2 475.0L144.2 473.6L144.2 472.2L144.2 470.7L144.2 469.3L144.2 467.9L144.2 466.4L144.2 465.0L144.2 463.6L144.2 462.1L144.2 460.7L144.2 459.3L144.2 457.8L144.2 456.4L144.2 455.0L144.2 453.5L144.2 452.1L144.2 450.7L144.2 449.2L144.2 447.8L144.2 446.4L144.2 444.9L144.2 443.5L144.2 442.1L144.2 440.6L144.2 439.2L144.2 437.8L144.2 436.3L144.2 434.9L144.2 433.5L144.2 432.0L144.2 430.6L144.2 429.2L144.2 427.7Z" fill="#2a71b2" fill-rule="evenodd"/><path d="M144.2 426.3L145.6 426.3L147.1 426.3L148.5 426.3L149.9 426.3L151.4 426.3L152.8 426.3L154.2 426.3L155.7 426.3L157.1 426.3L158.5 426.3L160.0 426.3L161.4 426.3L162.8 426.3L164.3 426.3L165.7 426.3L167.1 426.3L168.6 426.3L170.0 426.3L171.4 426.3L172.9 426.3L174.3 426.3L175.7 426.3L177.2 426.3L178.6 426.3L180.0 426.3L181.5 426.3L182.9 426.3L184.3 426.3L185.8 426.3L187.2 426.3L188.6 426.3L190.1 426.3L191.5 426.3L192.9 426.3L194.4 426.3L195.8 426.3L197.2 426.3L198.7 426.3L200.0 426.3L200.1 426.9L200.3 427.7L201.2 429.2L201.5 429.5L202.6 430.6L203.0 430.9L204.4 431.9L204.5 432.0L205.8 432.8L206.9 433.5L207.3 433.8L208.6 434.9L208.7 435.0L210.1 436.3L210.1 436.4L211.6 436.4L211.7 436.3L213.0 435.4L213.4 434.9L214.4 434.0L214.9 433.5L215.9 432.4L216.2 432.0L217.3 430.6L217.3 430.5L218.2 429.2L218.7 428.0L219.0 427.7L219.5 426.3L220.2 426.3L221.6 426.3L223.0 426.3L223.1 426.3L224.2 427.7L224.5 427.8L225.9 428.6L227.0 429.2L227.3 429.3L228.8 429.6L230.2 429.9L231.6 430.1L233.1 430.4L234.0 430.6L234.5 430.7L235.9 431.1L237.4 431.4L238.8 431.8L240.1 432.0L240.2 432.1L241.7 432.4L243.1 433.0L243.8 433.5L244.4 434.9L244.5 436.0L244.6 436.3L245.6 437.8L246.0 438.0L247.4 438.3L247.4 439.2L247.4 440.6L247.4 442.1L247.4 443.5L247.4 444.9L247.4 446.4L247.4 447.8L247.4 449.2L247.4 450.7L247.4 452.1L247.4 453.5L247.4 455.0L247.4 456.4L247.4 457.8L247.4 459.3L247.4 460.7L247.4 462.1L247.4 463.6L247.4 465.0L247.4 466.4L247.4 467.9L247.4 469.3L247.4 470.7L247.4 472.2L247.4 473.6L247.4 475.0L247.4 476.5L247.4 477.9L247.4 479.3L247.4 480.8L247.4 482.2L247.4 483.6L247.4 485.1L247.4 486.5L247.4 487.9L247.4 489.4L247.4 490.8L247.4 492.2L247.4 493.7L247.4 495.1L247.4 496.5L247.4 498.0L247.4 499.4L247.4 500.8L247.4 502.3L247.4 503.7L247.4 505.1L247.4 506.6L247.4 508.0L247.4 509.4L247.4 510.9L247.4 512.3L247.4 513.7L247.4 515.2L247.4 516.6L247.4 518.0L247.4 519.5L247.4 520.9L247.4 522.3L247.4 523.8L247.4 525.2L247.4 526.6L247.4 528.1L247.4 529.5L246.0 529.5L244.5 529.5L243.1 529.5L241.7 529.5L240.2 529.5L238.8 529.5L237.4 529.5L235.9 529.5L234.5 529.5L233.1 529.5L231.6 529.5L230.2 529.5L230.1 529.5L230.0 528.1L229.5 526.6L228.8 525.5L228.4 525.2L227.3 524.7L225.9 524.7L224.6 525.2L224.5 525.3L223.0 526.6L223.0 526.6L222.2 528.1L221.9 529.5L221.6 529.5L220.2 529.5L218.7 529.5L217.3 529.5L215.9 529.5L214.4 529.5L213.0 529.5L211.6 529.5L210.1 529.5L208.7 529.5L207.3 529.5L205.8 529.5L204.4 529.5L203.0 529.5L201.5 529.5L200.1 529.5L198.7 529.5L197.2 529.5L195.8 529.5L194.4 529.5L192.9 529.5L191.5 529.5L190.1 529.5L188.6 529.5L187.2 529.5L185.8 529.5L184.3 529.5L182.9 529.5L181.5 529.5L180.0 529.5L178.6 529.5L177.2 529.5L175.7 529.5L174.3 529.5L172.9 529.5L171.4 529.5L170.0 529.5L168.6 529.5L167.1 529.5L165.7 529.5L164.3 529.5L162.8 529.5L161.4 529.5L160.0 529.5L158.5 529.5L157.1 529.5L155.7 529.5L154.2 529.5L152.8 529.5L151.4 529.5L149.9 529.5L148.5 529.5L147.1 529.5L145.6 529.5L144.2 529.5L144.2 528.1L144.2 526.6L144.2 525.2L144.2 523.8L144.2 522.3L144.2 520.9L144.2 519.5L144.2 518.0L144.2 516.6L144.2 515.2L144.2 513.7L144.2 512.3L144.2 510.9L144.2 509.4L144.2 508.0L144.2 506.6L144.2 505.1L144.2 503.7L144.2 502.3L144.2 500.8L144.2 499.4L144.2 498.0L144.2 496.5L144.2 495.1L144.2 493.7L144.2 492.2L144.2 490.8L144.2 489.4L144.2 487.9L144.2 486.5L144.2 485.1L144.2 483.6L144.2 482.2L144.2 480.8L144.2 479.3L144.2 477.9L144.2 476.5L144.2 475.0L144.2 473.6L144.2 472.2L144.2 470.7L144.2 469.3L144.2 467.9L144.2 466.4L144.2 465.0L144.2 463.6L144.2 462.1L144.2 460.7L144.2 459.3L144.2 457.8L144.2 456.4L144.2 455.0L144.2 453.5L144.2 452.1L144.2 450.7L144.2 449.2L144.2 447.8L144.2 446.4L144.2 444.9L144.2 443.5L144.2 442.1L144.2 440.6L144.2 439.2L144.2 437.8L144.2 436.3L144.2 434.9L144.2 433.5L144.2 432.0L144.2 430.6L144.2 429.2L144.2 427.7Z" fill="#3a87bd" fill-rule="evenodd"/><path d="M144.2 426.3L145.6 426.3L147.1 426.3L148.5 426.3L149.9 426.3L151.4 426.3L152.8 426.3L154.2 426.3L155.7 426.3L157.1 426.3L158.5 426.3L160.0 426.3L161.4 426.3L162.8 426.3L164.3 426.3L165.7 426.3L167.1 426.3L168.6 426.3L170.0 426.3L171.4 426.3L172.9 426.3L174.3 426.3L175.7 426.3L177.2 426.3L178.6 426.3L180.0 426.3L181.5 426.3L182.9 426.3L184.3 426.3L185.8 426.3L187.2 426.3L188.6 426.3L190.1 426.3L191.5 426.3L192.9 426.3L194.4 426.3L195.4 426.3L195.5 427.7L195.8 428.7L195.9 429.2L197.0 430.6L197.2 430.8L198.4 432.0L198.7 432.2L199.9 433.5L200.1 433.7L201.2 434.9L201.5 435.3L202.4 436.3L203.0 436.9L203.7 437.8L204.4 438.5L205.1 439.2L205.8 439.8L206.8 440.6L207.3 440.9L208.7 441.7L210.1 441.9L211.6 441.7L213.0 441.0L213.6 440.6L214.4 439.8L215.1 439.2L215.9 438.3L216.4 437.8L217.3 436.7L217.7 436.3L218.7 435.3L219.2 434.9L220.2 434.1L221.6 433.5L221.6 433.5L223.0 433.2L224.5 433.2L225.9 433.5L225.9 433.5L227.3 433.8L228.8 434.1L230.2 434.4L231.6 434.9L231.7 434.9L233.1 435.4L234.5 436.2L234.7 436.3L235.9 437.1L236.7 437.8L237.4 438.4L238.1 439.2L238.8 439.9L239.4 440.6L240.2 441.5L240.8 442.1L241.7 442.7L243.1 443.4L243.3 443.5L244.5 443.8L246.0 444.0L247.4 443.9L247.4 444.9L247.4 446.4L247.4 447.8L247.4 449.2L247.4 450.7L247.4 452.1L247.4 453.5L247.4 455.0L247.4 456.4L247.4 457.8L247.4 459.3L247.4 460.7L247.4 462.1L247.4 463.6L247.4 465.0L247.4 466.4L247.4 467.9L247.4 469.3L247.4 470.7L247.4 472.2L247.4 473.6L247.4 475.0L247.4 476.5L247.4 477.9L247.4 479.3L247.4 480.8L247.4 482.2L247.4 483.6L247.4 485.1L247.4 486.5L247.4 487.9L247.4 489.4L247.4 490.8L247.4 492.2L247.4 493.7L247.4 495.1L247.4 496.5L247.4 498.0L247.4 499.4L247.4 500.8L247.4 502.3L247.4 503.7L247.4 505.1L247.4 506.6L247.4 508.0L247.4 509.4L247.4 510.9L247.4 512.3L247.4 513.7L247.4 515.2L247.4 515.9L246.0 515.8L244.5 515.7L243.1 516.0L242.3 516.6L242.0 518.0L242.6 519.5L243.1 520.0L243.8 520.9L244.4 522.3L244.3 523.8L244.0 525.2L243.6 526.6L243.4 528.1L243.2 529.5L243.1 529.5L241.7 529.5L240.2 529.5L238.8 529.5L237.4 529.5L235.9 529.5L234.6 529.5L234.6 528.1L234.5 527.6L234.4 526.6L234.0 525.2L233.1 523.8L233.0 523.8L231.6 522.6L231.3 522.3L230.2 521.8L228.8 521.4L227.3 521.2L225.9 521.3L224.5 521.7L223.0 522.3L223.0 522.3L221.6 523.2L220.6 523.8L220.2 524.1L218.7 525.0L218.0 525.2L217.3 525.5L215.9 525.6L214.8 525.2L214.4 525.1L213.0 524.4L211.6 523.8L211.6 523.8L210.1 523.4L208.7 523.2L207.3 523.3L205.8 523.5L204.6 523.8L204.4 523.8L203.0 524.3L201.5 524.7L200.1 524.9L198.7 525.0L197.2 525.2L196.9 525.2L195.8 525.8L195.4 526.6L195.3 528.1L195.5 529.5L194.4 529.5L192.9 529.5L191.5 529.5L190.1 529.5L188.6 529.5L187.2 529.5L185.8 529.5L184.3 529.5L182.9 529.5L181.5 529.5L180.0 529.5L178.6 529.5L177.2 529.5L175.7 529.5L174.3 529.5L172.9 529.5L171.4 529.5L170.0 529.5L168.6 529.5L167.1 529.5L165.7 529.5L164.3 529.5L162.8 529.5L161.4 529.5L160.0 529.5L158.5 529.5L157.1 529.5L155.7 529.5L154.2 529.5L152.8 529.5L151.4 529.5L149.9 529.5L148.5 529.5L147.1 529.5L145.6 529.5L144.2 529.5L144.2 528.1L144.2 526.6L144.2 525.2L144.2 523.8L144.2 522.3L144.2 520.9L144.2 519.5L144.2 518.0L144.2 516.6L144.2 515.2L144.2 513.7L144.2 512.3L144.2 510.9L144.2 509.4L144.2 508.0L144.2 506.6L144.2 505.1L144.2 503.7L144.2 502.3L144.2 500.8L144.2 499.4L144.2 498.0L144.2 496.5L144.2 495.1L144.2 493.7L144.2 492.2L144.2 490.8L144.2 489.4L144.2 487.9L144.2 486.5L144.2 485.1L144.2 483.6L144.2 482.2L144.2 480.8L144.2 479.3L144.2 477.9L144.2 476.5L144.2 475.0L144.2 473.6L144.2 472.2L144.2 470.7L144.2 469.3L144.2 467.9L144.2 466.4L144.2 465.0L144.2 463.6L144.2 462.1L144.2 460.7L144.2 459.3L144.2 457.8L144.2 456.4L144.2 455.0L144.2 453.5L144.2 452.1L144.2 450.7L144.2 449.2L144.2 447.8L144.2 446.4L144.2 444.9L144.2 443.5L144.2 442.1L144.2 440.6L144.2 439.2L144.2 437.8L144.2 436.3L144.2 434.9L144.2 433.5L144.2 432.0L144.2 430.6L144.2 429.2L144.2 427.7ZM148.5 520.2L147.8 520.9L147.2 522.3L147.5 523.8L148.5 524.7L149.9 525.0L151.4 524.4L152.0 523.8L152.5 522.3L151.9 520.9L151.4 520.3L149.9 519.8Z" fill="#569fc9" fill-rule="evenodd"/><path d="M144.2 426.3L145.6 426.3L147.1 426.3L148.5 426.3L149.9 426.3L151.4 426.3L152.8 426.3L154.2 426.3L155.7 426.3L157.1 426.3L158.5 426.3L160.0 426.3L161.4 426.3L162.8 426.3L164.3 426.3L165.7 426.3L167.1 426.3L168.6 426.3L170.0 426.3L171.4 426.3L172.9 426.3L174.3 426.3L175.7 426.3L177.2 426.3L178.6 426.3L178.6 426.3L179.6 427.7L180.0 428.0L181.5 428.6L182.9 429.0L184.0 429.2L184.3 429.2L185.8 429.4L187.2 430.0L187.8 430.6L188.6 431.1L189.7 432.0L190.1 432.2L191.5 433.0L192.4 433.5L192.9 433.6L194.4 434.1L195.8 434.8L196.0 434.9L197.2 435.7L198.0 436.3L198.7 437.0L199.4 437.8L200.1 438.5L200.8 439.2L201.5 439.8L202.6 440.6L203.0 440.9L204.4 441.8L204.8 442.1L205.8 442.7L207.3 443.4L207.4 443.5L208.7 443.9L210.1 444.1L211.6 443.9L212.8 443.5L213.0 443.4L214.4 442.6L215.3 442.1L215.9 441.6L217.1 440.6L217.3 440.4L218.7 439.2L218.8 439.2L220.2 438.1L220.8 437.8L221.6 437.3L223.0 436.9L224.5 436.8L225.9 437.0L227.3 437.3L228.7 437.8L228.8 437.8L230.2 438.2L231.6 438.8L232.5 439.2L233.1 439.5L234.5 440.4L234.8 440.6L235.9 441.8L236.2 442.1L237.3 443.5L237.4 443.7L238.2 444.9L238.8 445.8L239.3 446.4L240.2 447.5L240.6 447.8L241.7 449.0L241.9 449.2L242.8 450.7L243.0 452.1L243.0 453.5L243.0 455.0L243.1 456.0L243.2 456.4L243.4 457.8L243.8 459.3L244.1 460.7L244.3 462.1L244.4 463.6L244.4 465.0L244.5 466.4L244.5 466.6L244.9 467.9L245.4 469.3L246.0 470.3L246.5 470.7L247.4 471.3L247.4 472.2L247.4 473.6L247.4 475.0L247.4 476.5L247.4 477.9L247.4 479.3L247.4 480.8L247.4 482.2L247.4 483.6L247.4 485.1L247.4 486.5L247.4 487.9L247.4 489.4L247.4 490.8L247.4 492.2L247.4 493.7L247.4 495.1L247.4 496.5L247.4 498.0L247.4 499.3L246.0 499.3L244.5 499.3L243.1 499.1L241.7 498.6L240.2 498.0L240.0 498.0L238.8 497.8L237.4 497.8L236.6 498.0L235.9 498.2L234.5 499.1L234.2 499.4L233.9 500.8L234.1 502.3L234.5 503.1L234.9 503.7L235.9 504.9L236.5 505.1L237.4 505.7L238.8 505.7L239.6 505.1L240.2 504.8L241.5 503.7L241.7 503.6L243.1 502.9L244.5 503.1L245.7 503.7L246.0 503.9L247.4 504.4L247.4 505.1L247.4 506.6L247.4 508.0L247.4 509.4L247.4 509.5L246.4 509.4L246.0 509.4L244.5 509.1L243.1 508.9L241.7 508.9L240.2 508.9L239.2 509.4L238.8 509.6L237.5 510.9L237.4 511.0L236.4 512.3L235.9 513.1L235.5 513.7L234.8 515.2L234.5 515.6L233.6 516.6L233.1 517.0L231.6 517.5L230.2 517.6L228.8 517.7L227.3 517.9L226.4 518.0L225.9 518.1L224.5 518.5L223.0 518.9L221.6 519.4L221.5 519.5L220.2 519.9L218.7 520.2L217.3 520.2L215.9 520.1L214.4 519.9L213.0 519.7L211.6 519.6L210.1 519.5L208.7 519.6L207.3 519.8L205.8 520.1L204.4 520.6L203.3 520.9L203.0 521.0L201.5 521.4L200.1 521.6L198.7 521.6L197.2 521.4L195.8 521.0L195.3 520.9L194.4 520.7L192.9 520.7L191.6 520.9L191.5 520.9L190.1 521.8L189.4 522.3L188.7 523.8L189.0 525.2L190.0 526.6L190.1 526.8L190.8 528.1L191.3 529.5L190.1 529.5L188.6 529.5L187.2 529.5L185.8 529.5L184.3 529.5L182.9 529.5L181.5 529.5L180.0 529.5L178.6 529.5L177.2 529.5L175.7 529.5L174.3 529.5L172.9 529.5L171.4 529.5L170.0 529.5L168.6 529.5L167.1 529.5L165.7 529.5L164.3 529.5L162.8 529.5L161.4 529.5L160.0 529.5L158.5 529.5L157.1 529.5L155.7 529.5L154.3 529.5L155.2 528.1L155.7 527.5L156.6 526.6L157.1 526.2L158.5 525.3L158.9 525.2L160.0 524.8L161.4 524.7L162.8 524.8L164.3 524.2L164.4 523.8L164.3 523.6L163.0 522.3L162.8 522.2L161.4 521.4L160.8 520.9L160.0 520.5L158.6 519.5L158.5 519.4L157.1 518.5L156.5 518.0L155.7 517.4L154.6 516.6L154.2 516.4L152.8 515.5L152.2 515.2L151.4 514.7L149.9 514.1L148.9 513.7L148.5 513.6L147.1 513.0L145.6 512.3L145.6 512.3L144.2 511.8L144.2 510.9L144.2 509.4L144.2 508.2L144.3 508.0L145.6 507.1L145.9 506.6L146.8 505.1L147.1 504.8L147.5 503.7L148.0 502.3L148.2 500.8L147.9 499.4L147.1 498.3L146.7 498.0L145.6 497.4L144.2 497.1L144.2 496.5L144.2 495.1L144.2 493.7L144.2 492.2L144.2 490.8L144.2 489.4L144.2 487.9L144.2 486.5L144.2 485.1L144.2 483.6L144.2 482.2L144.2 480.8L144.2 479.3L144.2 477.9L144.2 476.5L144.2 475.0L144.2 473.6L144.2 472.2L144.2 470.7L144.2 469.3L144.2 467.9L144.2 466.4L144.2 465.0L144.2 463.6L144.2 462.1L144.2 460.7L144.2 459.3L144.2 457.8L144.2 456.4L144.2 455.0L144.2 453.5L144.2 452.1L144.2 450.7L144.2 449.2L144.2 447.8L144.2 447.0L145.6 446.7L146.3 446.4L147.1 445.9L147.9 444.9L148.5 444.3L149.2 443.5L149.9 442.8L150.5 442.1L151.4 441.1L151.7 440.6L152.4 439.2L152.4 437.8L151.4 436.5L151.0 436.3L149.9 436.0L148.5 436.0L147.1 436.2L146.2 436.3L145.6 436.5L144.2 436.7L144.2 436.3L144.2 434.9L144.2 433.5L144.2 432.0L144.2 430.6L144.2 429.2L144.2 427.7Z" fill="#7eb8d7" fill-rule="evenodd"/><path d="M144.2 426.3L145.6 426.3L147.1 426.3L148.5 426.3L149.6 426.3L149.5 427.7L149.2 429.2L148.5 430.3L148.3 430.6L147.1 431.5L146.0 432.0L145.6 432.1L144.2 432.4L144.2 432.0L144.2 430.6L144.2 429.2L144.2 427.7ZM161.3 426.3L161.4 426.3L162.8 426.3L164.3 426.3L165.7 426.3L167.1 426.3L168.6 426.3L170.0 426.3L171.4 426.3L172.9 426.3L174.3 426.3L175.2 426.3L175.7 427.7L175.7 427.7L177.1 429.2L177.2 429.2L178.6 430.0L179.7 430.6L180.0 430.7L181.5 431.3L182.9 431.9L183.1 432.0L184.3 432.6L185.7 433.5L185.8 433.5L187.2 434.5L187.8 434.9L188.6 435.5L190.1 436.3L190.2 436.3L191.5 436.8L192.9 437.3L194.4 437.7L194.4 437.8L195.8 438.5L196.8 439.2L197.2 439.5L198.6 440.6L198.7 440.7L200.1 441.7L200.7 442.1L201.5 442.6L203.0 443.3L203.3 443.5L204.4 444.1L205.8 444.8L206.1 444.9L207.3 445.4L208.7 445.8L210.1 445.9L211.6 445.8L213.0 445.4L214.2 444.9L214.4 444.8L215.9 444.0L216.8 443.5L217.3 443.1L218.7 442.3L219.2 442.1L220.2 441.5L221.6 440.8L222.5 440.6L223.0 440.5L224.5 440.4L225.9 440.6L226.0 440.6L227.3 440.9L228.8 441.3L230.2 441.8L230.9 442.1L231.6 442.4L233.1 443.2L233.4 443.5L234.5 444.6L234.8 444.9L235.8 446.4L235.9 446.6L236.7 447.8L237.4 448.9L237.6 449.2L238.4 450.7L238.8 451.7L239.0 452.1L239.5 453.5L239.9 455.0L240.2 456.1L240.3 456.4L240.7 457.8L241.0 459.3L241.3 460.7L241.5 462.1L241.7 463.2L241.7 463.6L241.9 465.0L242.1 466.4L242.4 467.9L242.8 469.3L243.1 470.4L243.2 470.7L243.8 472.2L244.5 473.6L244.5 473.8L245.4 475.0L246.0 475.8L247.3 476.5L247.4 476.5L247.4 477.9L247.4 479.3L247.4 480.8L247.4 482.2L247.4 483.6L247.4 485.1L247.4 486.5L247.4 487.9L247.4 489.4L247.4 490.8L247.4 492.2L247.4 493.7L247.4 495.1L247.4 495.6L246.0 495.4L244.5 495.2L244.2 495.1L243.1 494.9L241.7 494.7L240.2 494.5L238.8 494.5L237.4 494.7L235.9 494.9L235.2 495.1L234.5 495.3L233.1 495.8L231.7 496.5L231.6 496.6L230.4 498.0L230.2 498.4L229.9 499.4L229.9 500.8L230.1 502.3L230.2 502.6L230.5 503.7L230.7 505.1L230.6 506.6L230.2 507.3L229.7 508.0L228.8 508.9L228.1 509.4L227.3 510.1L226.5 510.9L225.9 511.5L225.1 512.3L224.5 512.9L223.3 513.7L223.0 513.9L221.6 514.6L220.2 515.0L219.4 515.2L218.7 515.3L217.3 515.5L215.9 515.7L214.4 515.9L213.0 516.1L211.6 516.4L210.1 516.6L210.0 516.6L208.7 516.8L207.3 517.2L205.8 517.6L204.6 518.0L204.4 518.1L203.0 518.6L201.5 519.1L200.1 519.3L198.7 519.3L197.2 519.0L195.8 518.7L194.4 518.4L192.9 518.2L191.5 518.4L190.1 518.7L188.6 519.3L188.3 519.5L187.2 520.1L185.8 520.9L185.7 520.9L184.3 521.6L182.9 522.2L182.1 522.3L181.5 522.5L180.0 522.8L178.6 522.8L177.2 522.7L175.7 522.5L175.3 522.3L174.3 522.1L172.9 521.8L171.4 521.3L170.4 520.9L170.0 520.8L168.6 520.3L167.1 519.8L166.4 519.5L165.7 519.2L164.3 518.6L163.0 518.0L162.8 517.9L161.4 517.2L160.4 516.6L160.0 516.3L158.5 515.4L158.2 515.2L157.1 514.3L156.3 513.7L155.7 513.3L154.2 512.3L154.2 512.3L152.8 511.4L152.0 510.9L151.4 510.3L150.6 509.4L150.0 508.0L149.9 506.6L150.2 505.1L150.6 503.7L151.1 502.3L151.4 501.1L151.4 500.8L151.8 499.4L151.8 498.0L151.4 497.1L151.0 496.5L149.9 495.8L148.7 495.1L148.5 495.0L147.1 494.5L145.6 494.1L144.2 494.0L144.2 493.7L144.2 492.2L144.2 490.8L144.2 489.4L144.2 487.9L144.2 486.5L144.2 485.1L144.2 483.6L144.2 483.3L145.1 482.2L145.6 481.6L146.0 480.8L146.8 479.3L147.1 479.1L147.7 477.9L148.5 476.5L148.5 476.4L148.8 475.0L148.8 473.6L148.5 472.8L148.3 472.2L147.4 470.7L147.1 470.3L146.1 469.3L145.6 468.7L144.2 467.9L144.2 467.8L144.2 466.4L144.2 465.0L144.2 463.6L144.2 462.1L144.2 460.7L144.2 459.3L144.2 457.8L144.2 457.3L145.6 457.4L147.1 457.4L148.5 457.3L149.9 457.2L151.4 457.1L152.8 456.7L153.2 456.4L154.2 455.2L154.4 455.0L154.6 453.5L154.5 452.1L154.2 451.1L154.1 450.7L153.5 449.2L153.0 447.8L152.9 446.4L153.2 444.9L154.0 443.5L154.2 443.2L155.0 442.1L155.7 441.0L155.8 440.6L156.5 439.2L156.8 437.8L157.1 436.3L157.1 436.3L157.3 434.9L157.7 433.5L158.4 432.0L158.5 431.8L159.2 430.6L160.0 429.5L160.2 429.2L160.9 427.7Z" fill="#a2cde3" fill-rule="evenodd"/><path d="M166.9 426.3L167.1 426.3L168.6 426.3L170.0 426.3L171.2 426.3L171.4 426.6L171.9 427.7L172.9 428.5L173.5 429.2L174.3 429.7L175.6 430.6L175.7 430.6L177.2 431.4L178.4 432.0L178.6 432.1L180.0 432.8L181.5 433.4L181.5 433.5L182.9 434.3L183.8 434.9L184.3 435.3L185.6 436.3L185.8 436.5L187.1 437.8L187.2 437.9L188.6 439.2L188.6 439.2L190.1 440.2L191.0 440.6L191.5 440.8L192.9 441.3L194.4 441.7L195.2 442.1L195.8 442.3L197.2 443.0L198.1 443.5L198.7 443.7L200.1 444.4L201.4 444.9L201.5 445.0L203.0 445.6L204.4 446.3L204.6 446.4L205.8 446.9L207.3 447.4L208.7 447.7L209.7 447.8L210.1 447.8L210.6 447.8L211.6 447.7L213.0 447.4L214.4 446.9L215.8 446.4L215.9 446.3L217.3 445.7L218.7 445.0L219.0 444.9L220.2 444.5L221.6 444.2L223.0 444.0L224.5 444.0L225.9 444.1L227.3 444.3L228.8 444.6L229.8 444.9L230.2 445.0L231.6 445.7L232.6 446.4L233.1 446.8L234.0 447.8L234.5 448.4L235.1 449.2L235.9 450.7L235.9 450.8L236.6 452.1L237.1 453.5L237.4 454.2L237.6 455.0L238.1 456.4L238.5 457.8L238.8 459.2L238.8 459.3L239.1 460.7L239.4 462.1L239.6 463.6L239.9 465.0L240.1 466.4L240.2 467.1L240.4 467.9L240.7 469.3L241.1 470.7L241.5 472.2L241.7 472.8L241.9 473.6L242.3 475.0L242.7 476.5L243.1 477.9L243.1 478.0L243.7 479.3L244.5 480.6L244.7 480.8L246.0 481.5L247.4 481.6L247.4 482.2L247.4 483.6L247.4 485.1L247.4 486.5L247.4 487.9L247.4 489.4L247.4 490.8L247.4 492.2L247.4 493.1L246.0 492.9L244.5 492.6L243.4 492.2L243.1 492.1L241.7 491.7L240.2 491.5L238.8 491.6L237.4 491.8L235.9 492.1L235.3 492.2L234.5 492.4L233.1 492.8L231.6 493.1L230.2 493.7L230.2 493.7L228.8 494.6L228.3 495.1L227.3 496.4L227.2 496.5L226.7 498.0L226.4 499.4L226.2 500.8L226.1 502.3L225.9 503.5L225.9 503.7L225.3 505.1L224.5 506.3L224.3 506.6L223.0 507.8L222.9 508.0L221.6 509.0L220.8 509.4L220.2 509.8L218.7 510.4L217.3 510.8L217.1 510.9L215.9 511.3L214.4 511.7L213.0 512.3L212.9 512.3L211.6 512.8L210.1 513.4L209.2 513.7L208.7 513.9L207.3 514.5L205.8 515.1L205.7 515.2L204.4 515.7L203.0 516.4L202.3 516.6L201.5 516.9L200.1 517.1L198.7 517.2L197.2 516.9L195.8 516.6L195.8 516.6L194.4 516.3L192.9 516.2L191.5 516.3L190.1 516.6L190.0 516.6L188.6 517.1L187.2 517.7L186.3 518.0L185.8 518.3L184.3 518.9L182.9 519.3L182.2 519.5L181.5 519.6L180.0 519.8L178.6 519.8L177.2 519.7L175.7 519.5L175.7 519.5L174.3 519.2L172.9 518.8L171.4 518.4L170.1 518.0L170.0 518.0L168.6 517.6L167.1 517.2L165.7 516.7L165.5 516.6L164.3 516.1L162.8 515.3L162.7 515.2L161.4 514.3L160.7 513.7L160.0 513.0L159.1 512.3L158.5 511.7L157.7 510.9L157.1 510.3L156.2 509.4L155.7 508.9L154.9 508.0L154.2 506.8L154.1 506.6L154.0 505.1L154.2 503.7L154.2 503.6L154.7 502.3L155.4 500.8L155.7 500.5L156.3 499.4L157.1 498.0L157.1 498.0L157.7 496.5L157.9 495.1L157.6 493.7L157.1 492.8L156.5 492.2L155.7 491.7L154.2 491.2L152.8 490.8L152.6 490.8L151.4 490.2L150.6 489.4L150.5 487.9L151.1 486.5L151.4 486.0L152.1 485.1L152.8 484.3L153.5 483.6L154.2 482.8L154.8 482.2L155.5 480.8L155.6 479.3L155.4 477.9L155.2 476.5L155.1 475.0L155.1 473.6L154.8 472.2L154.2 471.3L153.8 470.7L152.8 470.0L152.0 469.3L151.4 468.8L150.4 467.9L149.9 467.2L149.5 466.4L149.0 465.0L149.3 463.6L149.9 462.9L151.4 462.3L152.7 462.1L152.8 462.1L154.2 462.1L155.7 461.8L157.0 460.7L157.1 460.6L157.7 459.3L158.1 457.8L158.3 456.4L158.3 455.0L158.1 453.5L157.8 452.1L157.4 450.7L157.1 449.7L156.9 449.2L156.5 447.8L156.4 446.4L156.8 444.9L157.1 444.2L157.4 443.5L158.2 442.1L158.5 441.4L158.9 440.6L159.4 439.2L159.7 437.8L160.0 436.8L160.1 436.3L160.6 434.9L161.3 433.5L161.4 433.3L162.3 432.0L162.8 431.4L163.5 430.6L164.3 429.8L164.9 429.2L165.7 428.2L166.2 427.7Z" fill="#c2ddec" fill-rule="evenodd"/><path d="M166.6 432.0L167.1 431.7L168.6 431.1L170.0 430.9L171.4 431.1L172.9 431.6L174.0 432.0L174.3 432.1L175.7 432.8L177.2 433.4L177.3 433.5L178.6 434.1L180.0 434.8L180.1 434.9L181.5 435.8L182.2 436.3L182.9 437.0L183.7 437.8L184.3 438.6L184.8 439.2L185.6 440.6L185.8 440.9L186.5 442.1L187.2 443.2L187.4 443.5L188.6 444.7L188.9 444.9L190.1 445.6L191.5 446.0L192.9 446.2L194.4 446.3L195.3 446.4L195.8 446.4L197.2 446.6L198.7 446.9L200.1 447.2L201.5 447.6L202.2 447.8L203.0 448.0L204.4 448.6L205.8 449.1L206.2 449.2L207.3 449.6L208.7 449.9L210.1 450.1L211.6 450.0L213.0 449.8L214.4 449.5L215.1 449.2L215.9 449.0L217.3 448.4L218.7 447.9L219.1 447.8L220.2 447.5L221.6 447.2L223.0 447.0L224.5 447.0L225.9 447.0L227.3 447.1L228.8 447.3L230.2 447.8L230.2 447.8L231.6 448.6L232.4 449.2L233.1 450.0L233.6 450.7L234.4 452.1L234.5 452.3L235.0 453.5L235.5 455.0L235.9 456.3L236.0 456.4L236.4 457.8L236.8 459.3L237.1 460.7L237.4 462.1L237.4 462.1L237.6 463.6L237.9 465.0L238.1 466.4L238.4 467.9L238.7 469.3L238.8 469.8L239.0 470.7L239.4 472.2L239.7 473.6L240.0 475.0L240.2 476.5L240.2 477.2L240.3 477.9L240.5 479.3L240.6 480.8L240.8 482.2L241.0 483.6L241.1 485.1L240.3 486.5L240.2 486.5L238.8 487.3L237.8 487.9L237.4 488.1L235.9 488.7L234.5 489.3L234.4 489.4L233.1 489.8L231.6 490.2L230.2 490.6L229.8 490.8L228.8 491.2L227.3 492.1L227.2 492.2L225.9 493.6L225.9 493.7L225.1 495.1L224.5 496.5L224.5 496.5L224.0 498.0L223.7 499.4L223.3 500.8L223.0 501.7L222.9 502.3L222.2 503.7L221.6 504.5L221.0 505.1L220.2 505.9L219.1 506.6L218.7 506.8L217.3 507.4L215.9 507.9L215.6 508.0L214.4 508.4L213.0 508.9L211.6 509.3L211.3 509.4L210.1 509.9L208.7 510.5L208.0 510.9L207.3 511.3L205.8 512.1L205.5 512.3L204.4 513.0L203.1 513.7L203.0 513.8L201.5 514.5L200.1 514.9L198.7 515.0L197.2 514.8L195.8 514.5L194.4 514.3L192.9 514.3L191.5 514.4L190.1 514.6L188.6 515.0L188.1 515.2L187.2 515.5L185.8 516.1L184.3 516.6L184.3 516.6L182.9 517.0L181.5 517.4L180.0 517.5L178.6 517.5L177.2 517.4L175.7 517.1L174.3 516.8L173.6 516.6L172.9 516.4L171.4 516.0L170.0 515.6L168.6 515.2L168.6 515.2L167.1 514.7L165.7 514.1L164.9 513.7L164.3 513.3L162.9 512.3L162.8 512.2L161.5 510.9L161.4 510.7L160.4 509.4L160.0 508.9L159.3 508.0L158.5 506.6L158.5 506.6L158.0 505.1L158.0 503.7L158.3 502.3L158.5 501.8L158.9 500.8L159.6 499.4L160.0 498.6L160.2 498.0L160.8 496.5L161.1 495.1L161.4 493.7L161.4 492.2L161.2 490.8L161.0 489.4L160.9 487.9L161.2 486.5L161.4 486.2L162.1 485.1L162.8 484.3L163.3 483.6L164.3 482.3L164.3 482.2L164.8 480.8L164.9 479.3L164.7 477.9L164.6 476.5L164.8 475.0L165.1 473.6L165.7 472.2L165.7 472.1L166.3 470.7L166.8 469.3L167.1 467.9L167.1 466.6L167.1 466.4L167.1 466.4L167.0 465.0L166.9 463.6L166.8 462.1L166.8 460.7L166.6 459.3L165.9 457.8L165.7 457.6L164.3 456.4L164.3 456.4L162.8 455.0L162.8 455.0L161.8 453.5L161.4 452.9L161.0 452.1L160.5 450.7L160.0 449.2L160.0 449.2L159.7 447.8L159.7 446.4L160.0 445.4L160.1 444.9L160.7 443.5L161.3 442.1L161.4 441.8L161.8 440.6L162.2 439.2L162.5 437.8L162.8 436.9L163.0 436.3L163.8 434.9L164.3 434.2L164.9 433.5L165.7 432.7ZM245.1 486.5L246.0 486.2L247.4 485.9L247.4 486.5L247.4 487.9L247.4 489.4L247.4 490.1L246.0 489.6L245.5 489.4L244.5 488.1L244.3 487.9L244.5 487.4Z" fill="#dae9f2" fill-rule="evenodd"/><path d="M168.3 434.9L168.6 434.7L170.0 434.2L171.4 434.0L172.9 434.2L174.3 434.5L175.3 434.9L175.7 435.1L177.2 435.8L178.2 436.3L178.6 436.6L180.0 437.8L180.0 437.8L181.2 439.2L181.5 439.8L181.9 440.6L182.4 442.1L182.9 443.3L183.0 443.5L183.6 444.9L184.3 446.3L184.4 446.4L185.2 447.8L185.8 448.6L186.3 449.2L187.2 450.4L187.4 450.7L188.3 452.1L188.6 452.7L189.0 453.5L189.7 455.0L190.1 455.6L190.6 456.4L191.5 457.3L192.6 457.8L192.9 458.0L193.8 457.8L194.4 457.7L195.7 456.4L195.8 456.2L196.2 455.0L196.6 453.5L197.2 452.2L197.3 452.1L198.7 450.9L199.4 450.7L200.1 450.5L201.5 450.5L202.8 450.7L203.0 450.7L204.4 451.1L205.8 451.6L207.0 452.1L207.3 452.2L208.7 452.9L210.1 453.4L210.7 453.5L211.6 453.9L213.0 454.1L214.4 453.8L215.2 453.5L215.9 453.3L217.3 452.6L218.1 452.1L218.7 451.8L220.2 451.0L221.0 450.7L221.6 450.4L223.0 450.0L224.5 449.8L225.9 449.7L227.3 449.8L228.8 450.1L230.2 450.7L230.2 450.7L231.6 452.0L231.7 452.1L232.5 453.5L233.1 454.7L233.2 455.0L233.6 456.4L234.1 457.8L234.5 459.1L234.6 459.3L234.9 460.7L235.2 462.1L235.5 463.6L235.7 465.0L235.9 466.4L235.9 466.5L236.1 467.9L236.3 469.3L236.6 470.7L236.9 472.2L237.3 473.6L237.4 474.1L237.5 475.0L237.7 476.5L237.8 477.9L237.8 479.3L237.7 480.8L237.4 482.2L237.4 482.2L236.8 483.6L235.9 484.7L235.6 485.1L234.5 485.9L233.6 486.5L233.1 486.8L231.6 487.5L230.5 487.9L230.2 488.0L228.8 488.6L227.3 489.3L227.2 489.4L225.9 490.2L225.3 490.8L224.5 491.7L224.0 492.2L223.1 493.7L223.0 493.9L222.5 495.1L222.0 496.5L221.6 497.9L221.6 498.0L221.1 499.4L220.6 500.8L220.2 501.6L219.7 502.3L218.7 503.4L218.4 503.7L217.3 504.4L215.9 505.1L215.8 505.1L214.4 505.6L213.0 506.1L211.6 506.5L211.4 506.6L210.1 507.0L208.7 507.5L207.6 508.0L207.3 508.1L205.8 508.9L204.9 509.4L204.4 509.8L203.0 510.7L202.7 510.9L201.5 511.5L200.1 512.1L199.3 512.3L198.7 512.4L197.2 512.4L195.8 512.4L194.4 512.3L192.9 512.3L191.5 512.5L190.1 512.7L188.6 513.0L187.2 513.4L186.1 513.7L185.8 513.8L184.3 514.3L182.9 514.8L181.5 515.1L181.0 515.2L180.0 515.3L178.6 515.3L177.3 515.2L177.2 515.2L175.7 514.9L174.3 514.4L172.9 513.9L172.4 513.7L171.4 513.4L170.0 512.8L168.7 512.3L168.6 512.3L167.1 511.6L165.9 510.9L165.7 510.7L164.3 509.5L164.2 509.4L163.0 508.0L162.8 507.8L162.0 506.6L161.4 505.1L161.4 505.1L161.1 503.7L161.3 502.3L161.4 501.8L161.7 500.8L162.2 499.4L162.7 498.0L162.8 497.6L163.2 496.5L163.7 495.1L164.1 493.7L164.3 493.0L164.5 492.2L164.9 490.8L165.5 489.4L165.7 489.1L166.4 487.9L167.1 487.1L167.6 486.5L168.6 485.5L169.0 485.1L170.0 483.7L170.1 483.6L170.7 482.2L170.9 480.8L170.6 479.3L170.1 477.9L170.0 477.6L169.7 476.5L169.7 475.0L170.0 474.1L170.2 473.6L171.3 472.2L171.4 472.0L172.9 471.0L173.5 470.7L174.3 470.3L175.7 469.8L176.8 469.3L177.2 469.0L178.1 467.9L178.3 466.4L177.7 465.0L177.2 464.2L176.7 463.6L175.7 462.4L175.5 462.1L174.7 460.7L174.3 459.3L174.3 459.1L174.2 457.8L174.3 457.5L174.4 456.4L174.8 455.0L175.2 453.5L175.5 452.1L175.6 450.7L175.4 449.2L174.6 447.8L174.3 447.5L172.9 447.2L171.4 447.5L170.8 447.8L170.0 448.3L168.6 449.2L168.6 449.2L167.1 449.7L165.7 449.5L165.3 449.2L164.3 447.8L164.3 447.2L164.2 446.4L164.3 446.2L164.5 444.9L164.9 443.5L165.1 442.1L165.3 440.6L165.5 439.2L165.7 438.7L166.0 437.8L166.8 436.3L167.1 435.9Z" fill="#edf2f5" fill-rule="evenodd"/><path d="M171.4 439.2L171.4 439.2L172.9 438.6L174.3 439.2L174.3 439.2L174.3 439.3L172.9 440.1L171.4 439.2ZM181.1 455.0L181.5 454.7L182.7 455.0L182.9 455.0L184.3 456.1L184.6 456.4L185.8 457.8L185.8 457.8L186.7 459.3L187.2 460.2L187.5 460.7L188.4 462.1L188.6 462.4L190.1 463.3L191.3 463.6L191.5 463.6L192.9 463.7L194.4 463.6L195.1 463.6L195.8 463.5L197.2 463.4L198.7 462.8L199.1 462.1L199.6 460.7L199.8 459.3L200.1 457.8L200.1 457.7L200.5 456.4L201.3 455.0L201.5 454.7L203.0 454.3L204.4 454.6L205.1 455.0L205.8 455.6L206.6 456.4L207.3 457.6L207.4 457.8L208.2 459.3L208.7 459.9L209.8 460.7L210.1 460.8L211.6 461.1L213.0 461.1L214.4 460.8L214.6 460.7L215.9 460.0L216.9 459.3L217.3 458.9L218.6 457.8L218.7 457.7L220.2 456.6L220.5 456.4L221.6 455.6L222.6 455.0L223.0 454.7L224.5 454.0L225.9 453.6L227.3 453.8L228.8 454.6L229.1 455.0L230.1 456.4L230.2 456.5L230.8 457.8L231.5 459.3L231.6 459.5L232.1 460.7L232.5 462.1L232.8 463.6L233.0 465.0L233.1 465.3L233.2 466.4L233.3 467.9L233.4 469.3L233.6 470.7L233.9 472.2L234.2 473.6L234.5 474.7L234.6 475.0L234.8 476.5L235.0 477.9L234.9 479.3L234.6 480.8L234.5 481.1L234.0 482.2L233.1 483.4L232.9 483.6L231.6 484.6L230.9 485.1L230.2 485.5L228.8 486.2L228.1 486.5L227.3 486.8L225.9 487.6L225.3 487.9L224.5 488.5L223.4 489.4L223.0 489.8L222.1 490.8L221.6 491.4L221.0 492.2L220.2 493.6L220.2 493.7L219.5 495.1L219.1 496.5L218.7 497.7L218.6 498.0L218.0 499.4L217.3 500.5L217.1 500.8L215.9 501.9L215.3 502.3L214.4 502.7L213.0 503.3L211.9 503.7L211.6 503.8L210.1 504.3L208.7 504.8L207.9 505.1L207.3 505.4L205.8 506.1L204.8 506.6L204.4 506.8L203.0 507.6L202.2 508.0L201.5 508.4L200.1 509.1L199.1 509.4L198.7 509.6L197.2 509.9L195.8 510.0L194.4 510.2L192.9 510.3L191.5 510.5L190.1 510.7L188.6 510.9L188.6 510.9L187.2 511.1L185.8 511.4L184.3 511.9L182.9 512.3L182.9 512.3L181.5 512.7L180.0 512.9L178.6 512.9L177.2 512.8L175.7 512.4L175.4 512.3L174.3 511.9L172.9 511.2L172.2 510.9L171.4 510.4L170.0 509.5L169.9 509.4L168.6 508.6L167.8 508.0L167.1 507.5L166.1 506.6L165.7 506.1L165.0 505.1L164.3 503.7L164.3 503.1L164.2 502.3L164.3 501.5L164.3 500.8L164.7 499.4L165.2 498.0L165.7 496.6L165.7 496.5L166.4 495.1L167.1 493.7L167.1 493.6L168.0 492.2L168.6 491.5L169.1 490.8L170.0 489.9L170.5 489.4L171.4 488.4L171.8 487.9L172.9 486.7L173.0 486.5L174.1 485.1L174.3 484.8L175.1 483.6L175.7 482.7L176.1 482.2L177.2 480.9L177.3 480.8L178.6 479.7L179.1 479.3L180.0 478.7L181.1 477.9L181.5 477.5L182.2 476.5L182.8 475.0L182.9 474.2L183.0 473.6L183.2 472.2L183.5 470.7L184.0 469.3L184.3 468.3L184.5 467.9L184.9 466.4L184.8 465.0L184.3 464.4L183.8 463.6L182.9 462.8L182.2 462.1L181.5 461.4L180.9 460.7L180.1 459.3L180.0 459.0L179.8 457.8L180.0 456.4L180.0 456.3ZM200.1 465.8L199.9 466.4L200.1 467.9L200.1 468.0L201.5 469.3L202.6 467.9L202.3 466.4L201.5 465.4Z" fill="#f9f0eb" fill-rule="evenodd"/><path d="M223.0 460.7L223.0 460.7L224.5 460.3L225.9 460.5L226.4 460.7L227.3 461.2L228.2 462.1L228.8 463.0L229.0 463.6L229.4 465.0L229.6 466.4L229.8 467.9L230.0 469.3L230.2 470.7L230.2 470.9L230.5 472.2L230.8 473.6L231.1 475.0L231.5 476.5L231.6 477.9L231.6 477.9L231.6 477.9L231.6 479.3L231.2 480.8L230.2 482.2L230.2 482.2L228.8 483.5L228.5 483.6L227.3 484.3L225.9 485.1L225.9 485.1L224.5 485.8L223.3 486.5L223.0 486.6L221.6 487.7L221.3 487.9L220.2 488.9L219.5 489.4L218.7 490.0L217.7 490.8L217.3 491.2L216.0 492.2L215.9 492.5L214.9 493.7L214.4 494.9L214.3 495.1L213.9 496.5L213.3 498.0L213.0 498.3L211.9 499.4L211.6 499.6L210.1 500.5L209.7 500.8L208.7 501.3L207.3 502.2L207.1 502.3L205.8 502.9L204.5 503.7L204.4 503.8L203.0 504.5L201.9 505.1L201.5 505.4L200.1 506.1L199.1 506.6L198.7 506.7L197.2 507.2L195.8 507.6L194.4 507.9L194.1 508.0L192.9 508.2L191.5 508.4L190.1 508.5L188.6 508.5L187.2 508.6L185.8 508.6L184.3 508.8L182.9 509.1L181.9 509.4L181.5 509.5L180.0 509.9L178.6 510.0L177.2 509.9L175.7 509.6L175.4 509.4L174.3 508.9L172.9 508.1L172.7 508.0L171.4 507.0L170.8 506.6L170.0 505.8L169.3 505.1L168.6 504.2L168.2 503.7L167.6 502.3L167.5 500.8L167.7 499.4L168.3 498.0L168.6 497.4L169.1 496.5L170.0 495.3L170.1 495.1L171.4 493.7L171.4 493.6L172.6 492.2L172.9 491.9L173.7 490.8L174.3 489.9L174.7 489.4L175.6 487.9L175.7 487.8L176.6 486.5L177.2 485.8L177.8 485.1L178.6 484.1L179.1 483.6L180.0 482.9L181.1 482.2L181.5 481.9L182.9 481.1L183.6 480.8L184.3 480.3L185.8 479.4L185.9 479.3L187.2 478.0L187.3 477.9L188.3 476.5L188.6 475.7L189.1 475.0L190.1 473.9L190.7 473.6L191.5 473.4L192.9 473.4L193.8 473.6L194.4 473.7L195.8 474.1L197.2 474.6L198.3 475.0L198.7 475.2L200.1 475.7L201.5 476.1L203.0 476.0L204.4 475.4L204.9 475.0L205.8 474.2L206.4 473.6L207.3 472.6L207.7 472.2L208.7 470.9L208.9 470.7L210.1 469.6L211.0 469.3L211.6 469.1L212.9 469.3L213.0 469.3L214.4 469.8L215.9 470.0L217.3 469.4L217.4 469.3L218.3 467.9L218.7 466.9L218.9 466.4L219.3 465.0L219.9 463.6L220.2 463.1L220.9 462.1L221.6 461.5Z" fill="#fce2d2" fill-rule="evenodd"/><path d="M223.9 469.3L224.5 469.0L225.0 469.3L225.9 469.8L226.4 470.7L227.1 472.2L227.3 472.9L227.6 473.6L227.9 475.0L228.1 476.5L228.2 477.9L227.9 479.3L227.3 480.5L227.1 480.8L225.9 481.8L225.3 482.2L224.5 482.6L223.0 483.2L222.1 483.6L221.6 483.9L220.2 484.6L219.5 485.1L218.7 485.5L217.3 486.2L216.6 486.5L215.9 486.7L214.4 487.0L213.0 487.0L211.6 487.0L210.1 486.9L208.7 486.9L207.3 487.0L205.8 487.4L205.3 487.9L204.4 489.2L204.3 489.4L203.7 490.8L203.2 492.2L203.0 493.4L202.9 493.7L202.7 495.1L202.7 496.5L202.7 498.0L202.4 499.4L201.7 500.8L201.5 501.0L200.4 502.3L200.1 502.5L198.7 503.6L198.5 503.7L197.2 504.4L195.8 505.0L195.5 505.1L194.4 505.5L192.9 505.8L191.5 506.1L190.1 506.1L188.6 506.0L187.2 505.7L185.8 505.3L184.9 505.1L184.3 505.0L182.9 504.7L181.5 504.5L180.0 504.6L178.6 504.9L177.7 505.1L177.2 505.2L175.7 505.2L175.7 505.1L174.3 504.5L173.3 503.7L172.9 503.1L172.4 502.3L172.3 500.8L172.7 499.4L172.9 499.1L173.6 498.0L174.3 496.7L174.4 496.5L175.1 495.1L175.7 493.7L175.7 493.7L176.4 492.2L177.1 490.8L177.2 490.7L177.9 489.4L178.6 488.4L178.9 487.9L180.0 486.6L180.1 486.5L181.5 485.4L181.9 485.1L182.9 484.5L184.3 484.0L185.8 483.7L187.2 483.7L188.6 484.0L190.1 484.4L191.5 484.6L192.9 484.5L194.4 484.0L195.3 483.6L195.8 483.4L197.2 483.1L198.7 483.1L200.1 483.4L201.4 483.6L201.5 483.6L203.0 483.6L203.0 483.6L204.4 483.1L205.2 482.2L205.8 481.4L206.2 480.8L207.1 479.3L207.3 479.1L208.0 477.9L208.7 477.1L209.3 476.5L210.1 475.8L211.6 475.2L213.0 475.2L214.4 475.5L215.9 475.8L217.3 475.6L218.3 475.0L218.7 474.8L219.8 473.6L220.2 473.2L221.0 472.2L221.6 471.3L222.2 470.7L223.0 469.7Z" fill="#fbccb4" fill-rule="evenodd"/><path d="M182.2 489.4L182.9 488.8L184.3 488.1L185.8 488.2L187.2 488.7L188.5 489.4L188.6 489.5L190.1 490.2L191.5 490.6L192.7 490.8L192.9 490.8L194.4 491.0L195.8 491.4L196.9 492.2L197.2 493.4L197.3 493.7L197.3 495.1L197.3 496.5L197.2 497.0L197.2 498.0L196.8 499.4L196.1 500.8L195.8 501.1L194.4 502.3L194.4 502.3L192.9 502.9L191.5 503.2L190.1 503.3L188.6 503.1L187.2 502.6L186.3 502.3L185.8 502.0L184.3 501.3L183.6 500.8L182.9 500.4L181.6 499.4L181.5 499.3L180.2 498.0L180.0 497.6L179.6 496.5L179.5 495.1L179.7 493.7L180.0 492.6L180.2 492.2L181.0 490.8L181.5 490.1Z" fill="#f6b394" fill-rule="evenodd"/><path d="M195.4 426.3L195.5 427.7L195.8 428.7L195.9 429.2L197.0 430.6L197.2 430.8L198.4 432.0L198.7 432.2L199.9 433.5L200.1 433.7L201.2 434.9L201.5 435.3L202.4 436.3L203.0 436.9L203.7 437.8L204.4 438.5L205.1 439.2L205.8 439.8L206.8 440.6L207.3 440.9L208.7 441.7L210.1 441.9L211.6 441.7L213.0 441.0L213.6 440.6L214.4 439.8L215.1 439.2L215.9 438.3L216.4 437.8L217.3 436.7L217.7 436.3L218.7 435.3L219.2 434.9L220.2 434.1L221.6 433.5L221.6 433.5L223.0 433.2L224.5 433.2L225.9 433.5L225.9 433.5L227.3 433.8L228.8 434.1L230.2 434.4L231.6 434.9L231.7 434.9L233.1 435.4L234.5 436.2L234.7 436.3L235.9 437.1L236.7 437.8L237.4 438.4L238.1 439.2L238.8 439.9L239.4 440.6L240.2 441.5L240.8 442.1L241.7 442.7L243.1 443.4L243.3 443.5L244.5 443.8L246.0 444.0L247.4 443.9M247.4 515.9L246.0 515.8L244.5 515.7L243.1 516.0L242.3 516.6L242.0 518.0L242.6 519.5L243.1 520.0L243.8 520.9L244.4 522.3L244.3 523.8L244.0 525.2L243.6 526.6L243.4 528.1L243.2 529.5M148.5 520.2L147.8 520.9L147.2 522.3L147.5 523.8L148.5 524.7L149.9 525.0L151.4 524.4L152.0 523.8L152.5 522.3L151.9 520.9L151.4 520.3L149.9 519.8L148.5 520.2M234.6 529.5L234.6 528.1L234.5 527.6L234.4 526.6L234.0 525.2L233.1 523.8L233.0 523.8L231.6 522.6L231.3 522.3L230.2 521.8L228.8 521.4L227.3 521.2L225.9 521.3L224.5 521.7L223.0 522.3L223.0 522.3L221.6 523.2L220.6 523.8L220.2 524.1L218.7 525.0L218.0 525.2L217.3 525.5L215.9 525.6L214.8 525.2L214.4 525.1L213.0 524.4L211.6 523.8L211.6 523.8L210.1 523.4L208.7 523.2L207.3 523.3L205.8 523.5L204.6 523.8L204.4 523.8L203.0 524.3L201.5 524.7L200.1 524.9L198.7 525.0L197.2 525.2L196.9 525.2L195.8 525.8L195.4 526.6L195.3 528.1L195.5 529.5" fill="none" stroke="#222" stroke-width="0.6" opacity="0.8"/><path d="M149.6 426.3L149.5 427.7L149.2 429.2L148.5 430.3L148.3 430.6L147.1 431.5L146.0 432.0L145.6 432.1L144.2 432.4M175.2 426.3L175.7 427.7L175.7 427.7L177.1 429.2L177.2 429.2L178.6 430.0L179.7 430.6L180.0 430.7L181.5 431.3L182.9 431.9L183.1 432.0L184.3 432.6L185.7 433.5L185.8 433.5L187.2 434.5L187.8 434.9L188.6 435.5L190.1 436.3L190.2 436.3L191.5 436.8L192.9 437.3L194.4 437.7L194.4 437.8L195.8 438.5L196.8 439.2L197.2 439.5L198.6 440.6L198.7 440.7L200.1 441.7L200.7 442.1L201.5 442.6L203.0 443.3L203.3 443.5L204.4 444.1L205.8 444.8L206.1 444.9L207.3 445.4L208.7 445.8L210.1 445.9L211.6 445.8L213.0 445.4L214.2 444.9L214.4 444.8L215.9 444.0L216.8 443.5L217.3 443.1L218.7 442.3L219.2 442.1L220.2 441.5L221.6 440.8L222.5 440.6L223.0 440.5L224.5 440.4L225.9 440.6L226.0 440.6L227.3 440.9L228.8 441.3L230.2 441.8L230.9 442.1L231.6 442.4L233.1 443.2L233.4 443.5L234.5 444.6L234.8 444.9L235.8 446.4L235.9 446.6L236.7 447.8L237.4 448.9L237.6 449.2L238.4 450.7L238.8 451.7L239.0 452.1L239.5 453.5L239.9 455.0L240.2 456.1L240.3 456.4L240.7 457.8L241.0 459.3L241.3 460.7L241.5 462.1L241.7 463.2L241.7 463.6L241.9 465.0L242.1 466.4L242.4 467.9L242.8 469.3L243.1 470.4L243.2 470.7L243.8 472.2L244.5 473.6L244.5 473.8L245.4 475.0L246.0 475.8L247.3 476.5L247.4 476.5M144.2 457.3L145.6 457.4L147.1 457.4L148.5 457.3L149.9 457.2L151.4 457.1L152.8 456.7L153.2 456.4L154.2 455.2L154.4 455.0L154.6 453.5L154.5 452.1L154.2 451.1L154.1 450.7L153.5 449.2L153.0 447.8L152.9 446.4L153.2 444.9L154.0 443.5L154.2 443.2L155.0 442.1L155.7 441.0L155.8 440.6L156.5 439.2L156.8 437.8L157.1 436.3L157.1 436.3L157.3 434.9L157.7 433.5L158.4 432.0L158.5 431.8L159.2 430.6L160.0 429.5L160.2 429.2L160.9 427.7L161.3 426.3M144.2 483.3L145.1 482.2L145.6 481.6L146.0 480.8L146.8 479.3L147.1 479.1L147.7 477.9L148.5 476.5L148.5 476.4L148.8 475.0L148.8 473.6L148.5 472.8L148.3 472.2L147.4 470.7L147.1 470.3L146.1 469.3L145.6 468.7L144.2 467.9L144.2 467.8M247.4 495.6L246.0 495.4L244.5 495.2L244.2 495.1L243.1 494.9L241.7 494.7L240.2 494.5L238.8 494.5L237.4 494.7L235.9 494.9L235.2 495.1L234.5 495.3L233.1 495.8L231.7 496.5L231.6 496.6L230.4 498.0L230.2 498.4L229.9 499.4L229.9 500.8L230.1 502.3L230.2 502.6L230.5 503.7L230.7 505.1L230.6 506.6L230.2 507.3L229.7 508.0L228.8 508.9L228.1 509.4L227.3 510.1L226.5 510.9L225.9 511.5L225.1 512.3L224.5 512.9L223.3 513.7L223.0 513.9L221.6 514.6L220.2 515.0L219.4 515.2L218.7 515.3L217.3 515.5L215.9 515.7L214.4 515.9L213.0 516.1L211.6 516.4L210.1 516.6L210.0 516.6L208.7 516.8L207.3 517.2L205.8 517.6L204.6 518.0L204.4 518.1L203.0 518.6L201.5 519.1L200.1 519.3L198.7 519.3L197.2 519.0L195.8 518.7L194.4 518.4L192.9 518.2L191.5 518.4L190.1 518.7L188.6 519.3L188.3 519.5L187.2 520.1L185.8 520.9L185.7 520.9L184.3 521.6L182.9 522.2L182.1 522.3L181.5 522.5L180.0 522.8L178.6 522.8L177.2 522.7L175.7 522.5L175.3 522.3L174.3 522.1L172.9 521.8L171.4 521.3L170.4 520.9L170.0 520.8L168.6 520.3L167.1 519.8L166.4 519.5L165.7 519.2L164.3 518.6L163.0 518.0L162.8 517.9L161.4 517.2L160.4 516.6L160.0 516.3L158.5 515.4L158.2 515.2L157.1 514.3L156.3 513.7L155.7 513.3L154.2 512.3L154.2 512.3L152.8 511.4L152.0 510.9L151.4 510.3L150.6 509.4L150.0 508.0L149.9 506.6L150.2 505.1L150.6 503.7L151.1 502.3L151.4 501.1L151.4 500.8L151.8 499.4L151.8 498.0L151.4 497.1L151.0 496.5L149.9 495.8L148.7 495.1L148.5 495.0L147.1 494.5L145.6 494.1L144.2 494.0" fill="none" stroke="#222" stroke-width="0.6" opacity="0.8"/><path d="M166.6 432.0L167.1 431.7L168.6 431.1L170.0 430.9L171.4 431.1L172.9 431.6L174.0 432.0L174.3 432.1L175.7 432.8L177.2 433.4L177.3 433.5L178.6 434.1L180.0 434.8L180.1 434.9L181.5 435.8L182.2 436.3L182.9 437.0L183.7 437.8L184.3 438.6L184.8 439.2L185.6 440.6L185.8 440.9L186.5 442.1L187.2 443.2L187.4 443.5L188.6 444.7L188.9 444.9L190.1 445.6L191.5 446.0L192.9 446.2L194.4 446.3L195.3 446.4L195.8 446.4L197.2 446.6L198.7 446.9L200.1 447.2L201.5 447.6L202.2 447.8L203.0 448.0L204.4 448.6L205.8 449.1L206.2 449.2L207.3 449.6L208.7 449.9L210.1 450.1L211.6 450.0L213.0 449.8L214.4 449.5L215.1 449.2L215.9 449.0L217.3 448.4L218.7 447.9L219.1 447.8L220.2 447.5L221.6 447.2L223.0 447.0L224.5 447.0L225.9 447.0L227.3 447.1L228.8 447.3L230.2 447.8L230.2 447.8L231.6 448.6L232.4 449.2L233.1 450.0L233.6 450.7L234.4 452.1L234.5 452.3L235.0 453.5L235.5 455.0L235.9 456.3L236.0 456.4L236.4 457.8L236.8 459.3L237.1 460.7L237.4 462.1L237.4 462.1L237.6 463.6L237.9 465.0L238.1 466.4L238.4 467.9L238.7 469.3L238.8 469.8L239.0 470.7L239.4 472.2L239.7 473.6L240.0 475.0L240.2 476.5L240.2 477.2L240.3 477.9L240.5 479.3L240.6 480.8L240.8 482.2L241.0 483.6L241.1 485.1L240.3 486.5L240.2 486.5L238.8 487.3L237.8 487.9L237.4 488.1L235.9 488.7L234.5 489.3L234.4 489.4L233.1 489.8L231.6 490.2L230.2 490.6L229.8 490.8L228.8 491.2L227.3 492.1L227.2 492.2L225.9 493.6L225.9 493.7L225.1 495.1L224.5 496.5L224.5 496.5L224.0 498.0L223.7 499.4L223.3 500.8L223.0 501.7L222.9 502.3L222.2 503.7L221.6 504.5L221.0 505.1L220.2 505.9L219.1 506.6L218.7 506.8L217.3 507.4L215.9 507.9L215.6 508.0L214.4 508.4L213.0 508.9L211.6 509.3L211.3 509.4L210.1 509.9L208.7 510.5L208.0 510.9L207.3 511.3L205.8 512.1L205.5 512.3L204.4 513.0L203.1 513.7L203.0 513.8L201.5 514.5L200.1 514.9L198.7 515.0L197.2 514.8L195.8 514.5L194.4 514.3L192.9 514.3L191.5 514.4L190.1 514.6L188.6 515.0L188.1 515.2L187.2 515.5L185.8 516.1L184.3 516.6L184.3 516.6L182.9 517.0L181.5 517.4L180.0 517.5L178.6 517.5L177.2 517.4L175.7 517.1L174.3 516.8L173.6 516.6L172.9 516.4L171.4 516.0L170.0 515.6L168.6 515.2L168.6 515.2L167.1 514.7L165.7 514.1L164.9 513.7L164.3 513.3L162.9 512.3L162.8 512.2L161.5 510.9L161.4 510.7L160.4 509.4L160.0 508.9L159.3 508.0L158.5 506.6L158.5 506.6L158.0 505.1L158.0 503.7L158.3 502.3L158.5 501.8L158.9 500.8L159.6 499.4L160.0 498.6L160.2 498.0L160.8 496.5L161.1 495.1L161.4 493.7L161.4 492.2L161.2 490.8L161.0 489.4L160.9 487.9L161.2 486.5L161.4 486.2L162.1 485.1L162.8 484.3L163.3 483.6L164.3 482.3L164.3 482.2L164.8 480.8L164.9 479.3L164.7 477.9L164.6 476.5L164.8 475.0L165.1 473.6L165.7 472.2L165.7 472.1L166.3 470.7L166.8 469.3L167.1 467.9L167.1 466.6L167.1 466.4L167.1 466.4L167.0 465.0L166.9 463.6L166.8 462.1L166.8 460.7L166.6 459.3L165.9 457.8L165.7 457.6L164.3 456.4L164.3 456.4L162.8 455.0L162.8 455.0L161.8 453.5L161.4 452.9L161.0 452.1L160.5 450.7L160.0 449.2L160.0 449.2L159.7 447.8L159.7 446.4L160.0 445.4L160.1 444.9L160.7 443.5L161.3 442.1L161.4 441.8L161.8 440.6L162.2 439.2L162.5 437.8L162.8 436.9L163.0 436.3L163.8 434.9L164.3 434.2L164.9 433.5L165.7 432.7L166.6 432.0M247.4 490.1L246.0 489.6L245.5 489.4L244.5 488.1L244.3 487.9L244.5 487.4L245.1 486.5L246.0 486.2L247.4 485.9" fill="none" stroke="#222" stroke-width="0.6" opacity="0.8"/><path d="M171.4 439.2L171.4 439.2L172.9 438.6L174.3 439.2L174.3 439.2L174.3 439.3L172.9 440.1L171.4 439.2L171.4 439.2M181.1 455.0L181.5 454.7L182.7 455.0L182.9 455.0L184.3 456.1L184.6 456.4L185.8 457.8L185.8 457.8L186.7 459.3L187.2 460.2L187.5 460.7L188.4 462.1L188.6 462.4L190.1 463.3L191.3 463.6L191.5 463.6L192.9 463.7L194.4 463.6L195.1 463.6L195.8 463.5L197.2 463.4L198.7 462.8L199.1 462.1L199.6 460.7L199.8 459.3L200.1 457.8L200.1 457.7L200.5 456.4L201.3 455.0L201.5 454.7L203.0 454.3L204.4 454.6L205.1 455.0L205.8 455.6L206.6 456.4L207.3 457.6L207.4 457.8L208.2 459.3L208.7 459.9L209.8 460.7L210.1 460.8L211.6 461.1L213.0 461.1L214.4 460.8L214.6 460.7L215.9 460.0L216.9 459.3L217.3 458.9L218.6 457.8L218.7 457.7L220.2 456.6L220.5 456.4L221.6 455.6L222.6 455.0L223.0 454.7L224.5 454.0L225.9 453.6L227.3 453.8L228.8 454.6L229.1 455.0L230.1 456.4L230.2 456.5L230.8 457.8L231.5 459.3L231.6 459.5L232.1 460.7L232.5 462.1L232.8 463.6L233.0 465.0L233.1 465.3L233.2 466.4L233.3 467.9L233.4 469.3L233.6 470.7L233.9 472.2L234.2 473.6L234.5 474.7L234.6 475.0L234.8 476.5L235.0 477.9L234.9 479.3L234.6 480.8L234.5 481.1L234.0 482.2L233.1 483.4L232.9 483.6L231.6 484.6L230.9 485.1L230.2 485.5L228.8 486.2L228.1 486.5L227.3 486.8L225.9 487.6L225.3 487.9L224.5 488.5L223.4 489.4L223.0 489.8L222.1 490.8L221.6 491.4L221.0 492.2L220.2 493.6L220.2 493.7L219.5 495.1L219.1 496.5L218.7 497.7L218.6 498.0L218.0 499.4L217.3 500.5L217.1 500.8L215.9 501.9L215.3 502.3L214.4 502.7L213.0 503.3L211.9 503.7L211.6 503.8L210.1 504.3L208.7 504.8L207.9 505.1L207.3 505.4L205.8 506.1L204.8 506.6L204.4 506.8L203.0 507.6L202.2 508.0L201.5 508.4L200.1 509.1L199.1 509.4L198.7 509.6L197.2 509.9L195.8 510.0L194.4 510.2L192.9 510.3L191.5 510.5L190.1 510.7L188.6 510.9L188.6 510.9L187.2 511.1L185.8 511.4L184.3 511.9L182.9 512.3L182.9 512.3L181.5 512.7L180.0 512.9L178.6 512.9L177.2 512.8L175.7 512.4L175.4 512.3L174.3 511.9L172.9 511.2L172.2 510.9L171.4 510.4L170.0 509.5L169.9 509.4L168.6 508.6L167.8 508.0L167.1 507.5L166.1 506.6L165.7 506.1L165.0 505.1L164.3 503.7L164.3 503.1L164.2 502.3L164.3 501.5L164.3 500.8L164.7 499.4L165.2 498.0L165.7 496.6L165.7 496.5L166.4 495.1L167.1 493.7L167.1 493.6L168.0 492.2L168.6 491.5L169.1 490.8L170.0 489.9L170.5 489.4L171.4 488.4L171.8 487.9L172.9 486.7L173.0 486.5L174.1 485.1L174.3 484.8L175.1 483.6L175.7 482.7L176.1 482.2L177.2 480.9L177.3 480.8L178.6 479.7L179.1 479.3L180.0 478.7L181.1 477.9L181.5 477.5L182.2 476.5L182.8 475.0L182.9 474.2L183.0 473.6L183.2 472.2L183.5 470.7L184.0 469.3L184.3 468.3L184.5 467.9L184.9 466.4L184.8 465.0L184.3 464.4L183.8 463.6L182.9 462.8L182.2 462.1L181.5 461.4L180.9 460.7L180.1 459.3L180.0 459.0L179.8 457.8L180.0 456.4L180.0 456.3L181.1 455.0M200.1 465.8L199.9 466.4L200.1 467.9L200.1 468.0L201.5 469.3L202.6 467.9L202.3 466.4L201.5 465.4L200.1 465.8" fill="none" stroke="#222" stroke-width="0.6" opacity="0.8"/><path d="M223.9 469.3L224.5 469.0L225.0 469.3L225.9 469.8L226.4 470.7L227.1 472.2L227.3 472.9L227.6 473.6L227.9 475.0L228.1 476.5L228.2 477.9L227.9 479.3L227.3 480.5L227.1 480.8L225.9 481.8L225.3 482.2L224.5 482.6L223.0 483.2L222.1 483.6L221.6 483.9L220.2 484.6L219.5 485.1L218.7 485.5L217.3 486.2L216.6 486.5L215.9 486.7L214.4 487.0L213.0 487.0L211.6 487.0L210.1 486.9L208.7 486.9L207.3 487.0L205.8 487.4L205.3 487.9L204.4 489.2L204.3 489.4L203.7 490.8L203.2 492.2L203.0 493.4L202.9 493.7L202.7 495.1L202.7 496.5L202.7 498.0L202.4 499.4L201.7 500.8L201.5 501.0L200.4 502.3L200.1 502.5L198.7 503.6L198.5 503.7L197.2 504.4L195.8 505.0L195.5 505.1L194.4 505.5L192.9 505.8L191.5 506.1L190.1 506.1L188.6 506.0L187.2 505.7L185.8 505.3L184.9 505.1L184.3 505.0L182.9 504.7L181.5 504.5L180.0 504.6L178.6 504.9L177.7 505.1L177.2 505.2L175.7 505.2L175.7 505.1L174.3 504.5L173.3 503.7L172.9 503.1L172.4 502.3L172.3 500.8L172.7 499.4L172.9 499.1L173.6 498.0L174.3 496.7L174.4 496.5L175.1 495.1L175.7 493.7L175.7 493.7L176.4 492.2L177.1 490.8L177.2 490.7L177.9 489.4L178.6 488.4L178.9 487.9L180.0 486.6L180.1 486.5L181.5 485.4L181.9 485.1L182.9 484.5L184.3 484.0L185.8 483.7L187.2 483.7L188.6 484.0L190.1 484.4L191.5 484.6L192.9 484.5L194.4 484.0L195.3 483.6L195.8 483.4L197.2 483.1L198.7 483.1L200.1 483.4L201.4 483.6L201.5 483.6L203.0 483.6L203.0 483.6L204.4 483.1L205.2 482.2L205.8 481.4L206.2 480.8L207.1 479.3L207.3 479.1L208.0 477.9L208.7 477.1L209.3 476.5L210.1 475.8L211.6 475.2L213.0 475.2L214.4 475.5L215.9 475.8L217.3 475.6L218.3 475.0L218.7 474.8L219.8 473.6L220.2 473.2L221.0 472.2L221.6 471.3L222.2 470.7L223.0 469.7L223.9 469.3" fill="none" stroke="#222" stroke-width="0.6" opacity="0.8"/></g><path d="M195.8 477.9h0.01M199.7 475.6h0.01M195.8 473.3h0.01M191.9 475.6h0.01M191.9 480.2h0.01M195.8 482.5h0.01M199.7 480.2h0.01M204.9 477.9h0.01M203.9 473.7h0.01M201.0 470.4h0.01M196.9 468.9h0.01M192.6 469.4h0.01M189.0 471.9h0.01M187.0 475.7h0.01M187.0 480.1h0.01M189.0 483.9h0.01M192.6 486.4h0.01M196.9 486.9h0.01M201.0 485.4h0.01M203.9 482.1h0.01M209.3 475.7h0.01M207.8 471.4h0.01M205.1 467.8h0.01M201.3 465.4h0.01M196.9 464.3h0.01M192.4 464.7h0.01M188.3 466.5h0.01M185.0 469.5h0.01M182.9 473.5h0.01M182.1 477.9h0.01M182.9 482.3h0.01M185.0 486.3h0.01M188.3 489.3h0.01M192.4 491.1h0.01M196.9 491.5h0.01M201.3 490.4h0.01M205.1 488.0h0.01M207.8 484.4h0.01M209.3 480.1h0.01M214.0 477.9h0.01M213.4 473.4h0.01M211.8 469.1h0.01M209.1 465.4h0.01M205.6 462.5h0.01M201.4 460.6h0.01M196.9 459.7h0.01M192.4 460.0h0.01M188.0 461.4h0.01M184.2 463.9h0.01M181.1 467.2h0.01M178.9 471.2h0.01M177.7 475.6h0.01M177.7 480.2h0.01M178.9 484.6h0.01M181.1 488.6h0.01M184.2 491.9h0.01M188.0 494.4h0.01M192.4 495.8h0.01M196.9 496.1h0.01M201.4 495.2h0.01M205.6 493.3h0.01M209.1 490.4h0.01M211.8 486.7h0.01M213.4 482.4h0.01M218.5 475.6h0.01M217.5 471.1h0.01M215.7 466.8h0.01M213.1 463.1h0.01M209.7 459.9h0.01M205.8 457.5h0.01M201.5 455.9h0.01M197.0 455.2h0.01M192.4 455.4h0.01M187.9 456.5h0.01M183.8 458.6h0.01M180.1 461.4h0.01M177.1 464.9h0.01M174.9 468.9h0.01M173.5 473.3h0.01M173.0 477.9h0.01M173.5 482.5h0.01M174.9 486.9h0.01M177.1 490.9h0.01M180.1 494.4h0.01M183.8 497.2h0.01M187.9 499.3h0.01M192.4 500.4h0.01M197.0 500.6h0.01M201.5 499.9h0.01M205.8 498.3h0.01M209.7 495.9h0.01M213.1 492.7h0.01M215.7 489.0h0.01M217.5 484.7h0.01M218.5 480.2h0.01M223.1 477.9h0.01M222.8 473.4h0.01M221.6 469.0h0.01M219.8 464.9h0.01M217.4 461.1h0.01M214.3 457.8h0.01M210.7 455.0h0.01M206.8 452.9h0.01M202.5 451.4h0.01M198.1 450.7h0.01M193.5 450.7h0.01M189.1 451.4h0.01M184.8 452.9h0.01M180.9 455.0h0.01M177.3 457.8h0.01M174.2 461.1h0.01M171.8 464.9h0.01M170.0 469.0h0.01M168.8 473.4h0.01M168.5 477.9h0.01M168.8 482.4h0.01M170.0 486.8h0.01M171.8 490.9h0.01M174.2 494.7h0.01M177.3 498.0h0.01M180.9 500.8h0.01M184.8 502.9h0.01M189.1 504.4h0.01M193.5 505.1h0.01M198.1 505.1h0.01M202.5 504.4h0.01M206.8 502.9h0.01M210.7 500.8h0.01M214.3 498.0h0.01M217.4 494.7h0.01M219.8 490.9h0.01M221.6 486.8h0.01M222.8 482.4h0.01M227.6 475.6h0.01M226.9 471.1h0.01M225.7 466.8h0.01M223.8 462.6h0.01M221.3 458.8h0.01M218.3 455.4h0.01M214.9 452.4h0.01M211.1 449.9h0.01M206.9 448.0h0.01M202.6 446.8h0.01M198.1 446.1h0.01M193.5 446.1h0.01M189.0 446.8h0.01M184.7 448.0h0.01M180.5 449.9h0.01M176.7 452.4h0.01M173.3 455.4h0.01M170.3 458.8h0.01M167.8 462.6h0.01M165.9 466.8h0.01M164.7 471.1h0.01M164.0 475.6h0.01M164.0 480.2h0.01M164.7 484.7h0.01M165.9 489.0h0.01M167.8 493.2h0.01M170.3 497.0h0.01M173.3 500.4h0.01M176.7 503.4h0.01M180.5 505.9h0.01M184.7 507.8h0.01M189.0 509.0h0.01M193.5 509.7h0.01M198.1 509.7h0.01M202.6 509.0h0.01M206.9 507.8h0.01M211.1 505.9h0.01M214.9 503.4h0.01M218.3 500.4h0.01M221.3 497.0h0.01M223.8 493.2h0.01M225.7 489.0h0.01M226.9 484.7h0.01M227.6 480.2h0.01M232.2 477.9h0.01M231.9 473.3h0.01M231.1 468.8h0.01M229.7 464.5h0.01M227.7 460.3h0.01M225.3 456.5h0.01M222.4 453.0h0.01M219.0 449.8h0.01M215.3 447.1h0.01M211.3 444.9h0.01M207.1 443.3h0.01M202.6 442.1h0.01M198.1 441.5h0.01M193.5 441.5h0.01M189.0 442.1h0.01M184.5 443.3h0.01M180.3 444.9h0.01M176.3 447.1h0.01M172.6 449.8h0.01M169.2 453.0h0.01M166.3 456.5h0.01M163.9 460.3h0.01M161.9 464.5h0.01M160.5 468.8h0.01M159.7 473.3h0.01M159.4 477.9h0.01M159.7 482.5h0.01M160.5 487.0h0.01M161.9 491.3h0.01M163.9 495.5h0.01M166.3 499.3h0.01M169.2 502.8h0.01M172.6 506.0h0.01M176.3 508.7h0.01M180.3 510.9h0.01M184.5 512.5h0.01M189.0 513.7h0.01M193.5 514.3h0.01M198.1 514.3h0.01M202.6 513.7h0.01M207.1 512.5h0.01M211.3 510.9h0.01M215.3 508.7h0.01M219.0 506.0h0.01M222.4 502.8h0.01M225.3 499.3h0.01M227.7 495.5h0.01M229.7 491.3h0.01M231.1 487.0h0.01M231.9 482.5h0.01M236.7 475.6h0.01M236.2 471.2h0.01M235.2 466.7h0.01M233.8 462.5h0.01M231.8 458.4h0.01M229.5 454.5h0.01M226.7 451.0h0.01M223.6 447.7h0.01M220.1 444.9h0.01M216.3 442.4h0.01M212.3 440.4h0.01M208.0 438.8h0.01M203.7 437.7h0.01M199.2 437.1h0.01M194.7 436.9h0.01M190.2 437.3h0.01M185.7 438.2h0.01M181.4 439.5h0.01M177.3 441.3h0.01M173.4 443.6h0.01M169.7 446.3h0.01M166.4 449.3h0.01M163.5 452.7h0.01M160.9 456.4h0.01M158.7 460.4h0.01M157.0 464.6h0.01M155.8 468.9h0.01M155.1 473.4h0.01M154.8 477.9h0.01M155.1 482.4h0.01M155.8 486.9h0.01M157.0 491.2h0.01M158.7 495.4h0.01M160.9 499.4h0.01M163.5 503.1h0.01M166.4 506.5h0.01M169.7 509.5h0.01M173.4 512.2h0.01M177.3 514.5h0.01M181.4 516.3h0.01M185.7 517.6h0.01M190.2 518.5h0.01M194.7 518.9h0.01M199.2 518.7h0.01M203.7 518.1h0.01M208.0 517.0h0.01M212.3 515.4h0.01M216.3 513.4h0.01M220.1 510.9h0.01M223.6 508.1h0.01M226.7 504.8h0.01M229.5 501.3h0.01M231.8 497.4h0.01M233.8 493.3h0.01M235.2 489.1h0.01M236.2 484.6h0.01M236.7 480.2h0.01" stroke="#1a1a1a" stroke-width="1.45" stroke-linecap="round" opacity="0.8"/><circle cx="195.8" cy="477.9" r="50.6" fill="none" stroke="#111" stroke-width="1.7"/><path d="M186.3 428.1 L195.8 418.8 L205.3 428.1" fill="none" stroke="#111" stroke-width="1.3" stroke-linejoin="round"/><path d="M145.5 469.4 C141.7 467.9 139.4 469.4 139.4 473.9 L139.4 485.9 C139.4 490.9 141.7 491.9 145.5 490.4" fill="#fff" stroke="#111" stroke-width="1.2"/><path d="M246.1 469.4 C249.9 467.9 252.2 469.4 252.2 473.9 L252.2 485.9 C252.2 490.9 249.9 491.9 246.1 490.4" fill="#fff" stroke="#111" stroke-width="1.2"/><clipPath id="hc2"><circle cx="390.3" cy="478" r="50.8"/></clipPath><g clip-path="url(#hc2)"><rect x="339.5" y="427.2" width="101.6" height="101.6" fill="#0c3d73"/><path d="M411.7 426.2L411.9 426.2L413.3 426.2L414.8 426.2L416.2 426.2L417.6 426.2L419.1 426.2L420.5 426.2L422.0 426.2L423.4 426.2L424.8 426.2L426.3 426.2L427.7 426.2L429.2 426.2L430.6 426.2L432.0 426.2L433.5 426.2L434.9 426.2L436.4 426.2L437.8 426.2L439.2 426.2L440.7 426.2L442.1 426.2L442.1 427.6L442.1 429.1L442.1 430.5L442.1 431.9L442.1 433.4L442.1 434.8L442.1 436.3L442.1 437.7L442.1 439.1L442.1 440.6L442.1 442.0L442.1 443.5L442.1 444.9L442.1 446.3L442.1 447.8L442.1 449.2L442.1 450.7L442.1 452.1L442.1 453.5L442.1 455.0L442.1 456.4L442.1 457.8L442.1 459.3L442.1 460.7L442.1 462.2L442.1 463.6L442.1 465.0L442.1 466.5L442.1 467.9L442.1 469.4L442.1 470.8L442.1 472.2L442.1 473.7L442.1 475.1L442.1 476.6L442.1 478.0L442.1 479.4L442.1 480.9L442.1 482.3L442.1 483.8L442.1 485.2L442.1 486.6L442.1 488.1L442.1 489.5L442.1 491.0L442.1 492.4L442.1 493.8L442.1 495.3L442.1 496.7L442.1 498.2L442.1 499.6L442.1 501.0L442.1 502.5L442.1 503.9L442.1 505.3L442.1 506.8L442.1 508.2L442.1 509.7L442.1 511.1L442.1 512.5L442.1 514.0L442.1 515.4L442.1 516.9L442.1 518.3L442.1 519.7L442.1 521.2L442.1 522.6L442.1 524.1L442.1 525.5L442.1 526.9L442.1 528.4L442.1 529.8L440.7 529.8L439.2 529.8L437.8 529.8L436.4 529.8L434.9 529.8L433.5 529.8L432.0 529.8L430.6 529.8L429.2 529.8L427.7 529.8L426.3 529.8L424.8 529.8L423.4 529.8L422.0 529.8L420.5 529.8L419.1 529.8L417.6 529.8L416.2 529.8L414.8 529.8L413.3 529.8L411.9 529.8L410.5 529.8L409.0 529.8L407.6 529.8L406.1 529.8L404.7 529.8L403.3 529.8L401.8 529.8L400.4 529.8L398.9 529.8L397.5 529.8L396.1 529.8L394.6 529.8L393.2 529.8L391.7 529.8L390.3 529.8L388.9 529.8L387.4 529.8L386.0 529.8L384.5 529.8L383.1 529.8L381.7 529.8L380.2 529.8L378.8 529.8L377.3 529.8L375.9 529.8L374.5 529.8L373.0 529.8L371.6 529.8L370.1 529.8L368.7 529.8L367.3 529.8L365.8 529.8L364.4 529.8L363.0 529.8L361.5 529.8L360.1 529.8L358.6 529.8L357.2 529.8L355.8 529.8L354.3 529.8L352.9 529.8L351.4 529.8L350.0 529.8L348.6 529.8L347.1 529.8L345.7 529.8L344.2 529.8L342.8 529.8L341.4 529.8L339.9 529.8L338.5 529.8L338.5 528.4L338.5 526.9L338.5 525.5L338.5 524.1L338.5 522.6L338.5 521.2L338.5 519.7L338.5 518.3L338.5 516.9L338.5 515.4L338.5 514.0L338.5 512.5L338.5 511.1L338.5 509.7L338.5 508.2L338.5 506.8L338.5 505.3L338.5 503.9L338.5 502.5L338.5 501.0L338.5 499.6L338.5 498.2L338.5 496.7L338.5 495.3L338.5 493.8L338.5 492.4L338.5 491.0L338.5 489.5L338.5 488.1L338.5 486.6L338.5 485.2L338.5 483.8L338.5 482.3L338.5 480.9L338.5 479.4L338.5 478.0L338.5 476.6L338.5 475.1L338.5 473.7L338.5 472.2L338.5 470.8L338.5 469.4L338.5 467.9L338.5 466.5L338.5 465.0L338.5 463.6L338.5 462.2L338.5 460.7L338.5 459.3L338.5 457.8L338.5 456.4L338.5 455.0L338.5 453.5L338.5 452.1L338.5 450.7L338.5 449.2L338.5 447.8L338.5 446.3L338.5 444.9L338.5 443.5L338.5 442.0L338.5 440.6L338.5 439.1L338.5 437.7L338.5 436.3L338.5 434.8L338.5 433.9L339.9 434.3L341.2 434.8L341.4 434.9L342.8 435.6L344.2 436.2L344.3 436.3L345.7 436.8L347.1 437.3L348.4 437.7L348.6 437.7L350.0 438.1L351.4 438.3L352.9 438.3L354.3 438.3L355.8 438.1L357.2 438.0L358.6 437.9L360.1 437.8L360.6 437.7L361.5 437.6L363.0 437.3L364.4 436.9L365.8 436.4L366.2 436.3L367.3 435.8L368.7 435.3L370.1 434.8L370.1 434.8L371.6 434.5L373.0 434.3L374.5 434.2L375.9 434.3L377.3 434.4L378.8 434.5L380.2 434.7L381.6 434.8L381.7 434.8L383.1 434.9L384.5 435.0L386.0 435.0L387.4 435.0L388.9 434.9L390.2 434.8L390.3 434.8L391.7 434.6L393.2 434.4L394.6 434.2L396.1 434.1L397.5 434.1L398.9 434.2L400.4 434.3L401.8 434.5L403.3 434.8L403.3 434.8L404.7 435.3L406.1 436.1L406.5 436.3L407.6 436.7L409.0 436.9L410.5 436.8L411.5 436.3L411.9 436.0L412.8 434.8L413.3 433.4L413.3 433.4L413.4 431.9L413.3 431.5L413.1 430.5L412.7 429.1L412.2 427.6L411.9 426.7Z" fill="#1a5899" fill-rule="evenodd"/><path d="M439.0 426.2L439.2 426.2L440.7 426.2L442.1 426.2L442.1 427.6L442.1 429.1L442.1 430.5L442.1 431.9L442.1 433.4L442.1 434.8L442.1 436.3L442.1 437.7L442.1 439.1L442.1 440.6L442.1 442.0L442.1 443.5L442.1 444.9L442.1 446.3L442.1 447.8L442.1 449.2L442.1 450.7L442.1 452.1L442.1 453.5L442.1 455.0L442.1 456.4L442.1 457.8L442.1 459.3L442.1 460.7L442.1 462.2L442.1 463.6L442.1 465.0L442.1 466.5L442.1 467.9L442.1 469.4L442.1 470.8L442.1 472.2L442.1 473.7L442.1 475.1L442.1 476.6L442.1 478.0L442.1 479.4L442.1 480.9L442.1 482.3L442.1 483.8L442.1 485.2L442.1 486.6L442.1 488.1L442.1 489.5L442.1 491.0L442.1 492.4L442.1 493.8L442.1 495.3L442.1 496.7L442.1 498.2L442.1 499.6L442.1 501.0L442.1 502.5L442.1 503.9L442.1 505.3L442.1 506.8L442.1 508.2L442.1 509.7L442.1 511.1L442.1 512.5L442.1 514.0L442.1 515.4L442.1 516.9L442.1 518.3L442.1 519.7L442.1 521.2L442.1 522.6L442.1 524.1L442.1 525.5L442.1 526.9L442.1 528.4L442.1 529.8L440.7 529.8L439.2 529.8L437.8 529.8L436.4 529.8L434.9 529.8L433.5 529.8L432.0 529.8L430.6 529.8L429.2 529.8L427.7 529.8L426.3 529.8L424.8 529.8L423.4 529.8L422.0 529.8L420.5 529.8L419.1 529.8L417.6 529.8L416.2 529.8L414.8 529.8L413.3 529.8L411.9 529.8L410.5 529.8L409.0 529.8L407.6 529.8L406.1 529.8L404.7 529.8L403.3 529.8L401.8 529.8L400.4 529.8L398.9 529.8L397.5 529.8L396.1 529.8L394.6 529.8L393.2 529.8L391.7 529.8L390.3 529.8L388.9 529.8L387.4 529.8L386.0 529.8L384.5 529.8L383.1 529.8L381.7 529.8L380.2 529.8L378.8 529.8L377.3 529.8L375.9 529.8L374.5 529.8L373.0 529.8L371.6 529.8L370.1 529.8L368.7 529.8L367.3 529.8L365.8 529.8L364.4 529.8L363.0 529.8L361.5 529.8L360.1 529.8L358.6 529.8L357.2 529.8L355.8 529.8L354.3 529.8L352.9 529.8L351.4 529.8L350.0 529.8L348.6 529.8L347.1 529.8L345.7 529.8L344.2 529.8L342.8 529.8L341.4 529.8L339.9 529.8L338.5 529.8L338.5 528.4L338.5 526.9L338.5 525.5L338.5 524.1L338.5 522.6L338.5 521.2L338.5 519.7L338.5 518.3L338.5 516.9L338.5 515.4L338.5 514.0L338.5 512.5L338.5 511.1L338.5 509.7L338.5 508.2L338.5 506.8L338.5 505.3L338.5 503.9L338.5 502.5L338.5 501.0L338.5 499.6L338.5 498.2L338.5 496.7L338.5 495.3L338.5 493.8L338.5 492.4L338.5 491.0L338.5 489.5L338.5 488.1L338.5 486.6L338.5 485.2L338.5 483.8L338.5 482.3L338.5 480.9L338.5 479.4L338.5 478.0L338.5 476.6L338.5 475.1L338.5 473.7L338.5 472.2L338.5 470.8L338.5 469.4L338.5 467.9L338.5 466.5L338.5 465.0L338.5 463.6L338.5 462.2L338.5 460.7L338.5 459.3L338.5 457.8L338.5 456.4L338.5 455.0L338.5 453.5L338.5 452.1L338.5 450.7L338.5 449.2L338.5 447.8L338.5 446.3L338.5 444.9L338.5 443.5L338.5 442.0L338.5 440.6L338.5 439.1L338.5 439.0L339.7 439.1L339.9 439.2L341.4 439.7L342.8 440.3L343.5 440.6L344.2 441.0L345.7 441.8L346.0 442.0L347.1 442.8L348.2 443.5L348.6 443.7L350.0 444.7L350.3 444.9L351.4 445.6L352.9 446.1L354.3 446.2L355.8 445.8L357.2 445.1L357.5 444.9L358.6 444.3L360.1 443.5L360.3 443.5L361.5 443.0L363.0 442.5L364.4 442.2L365.2 442.0L365.8 441.9L367.3 441.7L368.7 441.4L370.1 441.0L371.5 440.6L371.6 440.6L373.0 440.0L374.5 439.5L375.6 439.1L375.9 439.1L377.3 438.8L378.8 438.8L380.2 438.9L381.7 439.1L381.7 439.1L383.1 439.6L384.5 440.1L385.5 440.6L386.0 440.9L387.4 441.8L388.1 442.0L388.9 442.5L390.3 442.7L391.7 442.3L392.1 442.0L393.2 441.3L394.1 440.6L394.6 440.3L396.1 439.5L397.5 439.2L398.9 439.3L400.4 439.7L401.8 440.4L402.3 440.6L403.3 441.0L404.7 441.5L406.1 441.8L407.6 441.9L409.0 441.9L410.5 441.7L411.9 441.4L413.3 440.9L414.0 440.6L414.8 440.2L416.2 439.2L416.4 439.1L417.6 438.0L418.0 437.7L419.1 436.6L419.6 436.3L420.5 435.4L421.6 434.8L422.0 434.6L423.4 434.1L424.8 433.7L426.3 433.4L426.3 433.4L427.7 433.1L429.2 433.0L430.6 433.1L432.0 433.4L432.2 433.4L433.5 433.6L434.9 433.6L435.5 433.4L436.4 433.0L437.1 431.9L437.8 430.7L437.9 430.5L438.4 429.1L438.8 427.6Z" fill="#2a71b2" fill-rule="evenodd"/><path d="M412.9 444.9L413.3 444.8L414.8 444.5L416.2 444.1L417.6 443.9L419.1 443.7L420.5 443.6L422.0 443.8L423.4 444.5L423.9 444.9L424.8 445.7L425.4 446.3L426.3 447.4L426.6 447.8L427.7 449.2L427.8 449.2L429.2 450.5L429.3 450.7L430.6 451.5L431.6 452.1L432.0 452.3L433.5 452.8L434.9 453.1L436.4 453.1L437.8 452.7L439.2 452.1L439.3 452.1L440.7 451.4L442.1 450.9L442.1 452.1L442.1 453.5L442.1 455.0L442.1 456.4L442.1 457.8L442.1 459.3L442.1 460.7L442.1 462.2L442.1 463.6L442.1 465.0L442.1 466.5L442.1 467.9L442.1 469.4L442.1 470.8L442.1 472.2L442.1 473.7L442.1 475.1L442.1 476.6L442.1 478.0L442.1 479.4L442.1 480.9L442.1 482.3L442.1 483.8L442.1 485.2L442.1 486.6L442.1 488.1L442.1 489.5L442.1 491.0L442.1 492.4L442.1 493.8L442.1 495.3L442.1 496.7L442.1 498.2L442.1 499.6L442.1 501.0L442.1 502.5L442.1 503.9L442.1 505.3L442.1 506.8L442.1 508.2L442.1 509.7L442.1 511.1L442.1 512.5L442.1 514.0L442.1 515.4L442.1 516.9L442.1 518.3L442.1 519.7L442.1 521.2L442.1 522.6L442.1 524.1L442.1 525.5L442.1 526.9L442.1 528.4L442.1 529.8L440.7 529.8L439.2 529.8L437.8 529.8L436.4 529.8L434.9 529.8L433.5 529.8L432.0 529.8L430.6 529.8L429.2 529.8L427.7 529.8L426.3 529.8L424.8 529.8L423.4 529.8L422.0 529.8L420.5 529.8L419.1 529.8L417.6 529.8L416.2 529.8L414.8 529.8L413.3 529.8L411.9 529.8L410.5 529.8L409.0 529.8L407.6 529.8L406.1 529.8L404.7 529.8L403.3 529.8L401.8 529.8L400.4 529.8L398.9 529.8L397.5 529.8L396.1 529.8L394.6 529.8L393.2 529.8L391.7 529.8L390.3 529.8L388.9 529.8L387.4 529.8L386.0 529.8L384.5 529.8L383.1 529.8L381.7 529.8L380.2 529.8L378.8 529.8L377.3 529.8L375.9 529.8L374.5 529.8L373.0 529.8L371.6 529.8L370.1 529.8L368.7 529.8L367.3 529.8L365.8 529.8L364.4 529.8L363.0 529.8L361.5 529.8L360.1 529.8L358.6 529.8L357.2 529.8L355.8 529.8L354.3 529.8L352.9 529.8L351.4 529.8L350.0 529.8L348.6 529.8L347.1 529.8L345.7 529.8L344.2 529.8L342.8 529.8L341.4 529.8L339.9 529.8L338.5 529.8L338.5 528.4L338.5 526.9L338.5 525.5L338.5 524.1L338.5 522.6L338.5 521.2L338.5 519.7L338.5 518.3L338.5 516.9L338.5 515.4L338.5 514.0L338.5 512.5L338.5 511.1L338.5 509.7L338.5 508.2L338.5 506.8L338.5 505.3L338.5 503.9L338.5 502.5L338.5 501.0L338.5 499.6L338.5 498.2L338.5 496.7L338.5 495.3L338.5 493.8L338.5 492.4L338.5 491.0L338.5 489.5L338.5 488.1L338.5 486.6L338.5 485.2L338.5 483.8L338.5 482.3L338.5 480.9L338.5 479.4L338.5 478.0L338.5 476.6L338.5 475.1L338.5 473.7L338.5 472.2L338.5 470.8L338.5 469.4L338.5 467.9L338.5 466.5L338.5 465.0L338.5 463.6L338.5 462.2L338.5 460.7L338.5 459.3L338.5 457.8L338.5 456.4L338.5 455.0L338.5 454.3L339.9 454.3L341.4 454.2L342.8 453.9L344.2 453.6L344.6 453.5L345.7 453.2L347.1 452.9L348.6 452.6L350.0 452.5L351.4 452.5L352.9 452.4L354.3 452.2L354.7 452.1L355.8 451.8L357.2 451.2L358.4 450.7L358.6 450.5L360.1 449.9L361.5 449.5L363.0 449.2L364.4 449.2L365.8 449.4L367.3 449.5L368.7 449.6L370.1 449.5L371.4 449.2L371.6 449.2L373.0 448.6L374.5 447.9L374.7 447.8L375.9 447.1L377.3 446.5L378.8 446.6L380.1 447.8L380.2 447.9L381.7 448.9L382.2 449.2L383.1 449.5L384.5 449.8L386.0 449.9L387.4 450.0L388.9 450.0L390.3 449.8L391.7 449.5L392.7 449.2L393.2 449.0L394.6 448.4L396.1 447.8L396.1 447.8L397.5 447.1L398.9 446.5L399.6 446.3L400.4 446.1L401.8 445.9L403.3 445.8L404.7 445.8L406.1 445.8L407.6 445.7L409.0 445.6L410.5 445.4L411.9 445.1Z" fill="#3a87bd" fill-rule="evenodd"/><path d="M416.2 447.8L416.2 447.8L416.6 447.8L417.6 447.8L419.1 448.0L420.5 448.5L421.7 449.2L422.0 449.3L423.4 450.4L423.6 450.7L424.8 451.7L425.2 452.1L426.3 453.0L426.9 453.5L427.7 454.2L428.9 455.0L429.2 455.1L430.6 455.8L432.0 456.4L432.1 456.4L433.5 456.7L434.9 456.9L436.4 456.8L437.8 456.5L438.0 456.4L439.2 456.0L440.7 455.5L442.1 455.2L442.1 456.4L442.1 457.8L442.1 459.3L442.1 460.7L442.1 462.2L442.1 463.6L442.1 465.0L442.1 466.5L442.1 467.9L442.1 469.4L442.1 470.8L442.1 472.2L442.1 473.7L442.1 475.1L442.1 476.6L442.1 478.0L442.1 479.4L442.1 480.9L442.1 482.3L442.1 483.8L442.1 485.2L442.1 486.6L442.1 488.1L442.1 489.5L442.1 491.0L442.1 492.4L442.1 493.8L442.1 495.3L442.1 496.7L442.1 498.2L442.1 499.6L442.1 501.0L442.1 502.5L442.1 503.9L442.1 505.3L442.1 506.8L442.1 508.2L442.1 509.7L442.1 511.1L442.1 512.5L442.1 514.0L442.1 515.4L442.1 516.9L442.1 518.3L442.1 519.7L442.1 521.2L442.1 522.6L442.1 524.1L442.1 525.5L442.1 526.9L442.1 528.4L442.1 529.8L440.7 529.8L439.2 529.8L437.8 529.8L436.4 529.8L434.9 529.8L433.5 529.8L432.0 529.8L430.6 529.8L429.2 529.8L427.7 529.8L426.3 529.8L424.8 529.8L423.4 529.8L422.0 529.8L420.5 529.8L419.1 529.8L417.6 529.8L416.2 529.8L414.8 529.8L413.3 529.8L411.9 529.8L410.5 529.8L409.0 529.8L407.6 529.8L406.1 529.8L404.7 529.8L403.3 529.8L401.8 529.8L400.4 529.8L398.9 529.8L397.5 529.8L396.1 529.8L394.6 529.8L393.2 529.8L391.7 529.8L390.3 529.8L388.9 529.8L387.4 529.8L386.0 529.8L384.5 529.8L383.1 529.8L381.7 529.8L380.2 529.8L378.8 529.8L377.3 529.8L375.9 529.8L374.5 529.8L373.0 529.8L371.6 529.8L370.1 529.8L368.7 529.8L367.3 529.8L365.8 529.8L364.4 529.8L363.0 529.8L361.5 529.8L360.1 529.8L358.6 529.8L357.2 529.8L355.8 529.8L354.3 529.8L352.9 529.8L351.4 529.8L350.0 529.8L348.6 529.8L347.1 529.8L345.7 529.8L344.2 529.8L342.8 529.8L341.4 529.8L339.9 529.8L338.5 529.8L338.5 528.4L338.5 526.9L338.5 525.5L338.5 524.1L338.5 522.6L338.5 521.2L338.5 519.7L338.5 518.3L338.5 516.9L338.5 515.4L338.5 514.0L338.5 512.5L338.5 511.1L338.5 509.7L338.5 508.2L338.5 506.8L338.5 505.3L338.5 503.9L338.5 502.5L338.5 501.0L338.5 499.6L338.5 498.2L338.5 496.7L338.5 495.3L338.5 493.8L338.5 492.4L338.5 491.0L338.5 489.5L338.5 488.1L338.5 486.6L338.5 485.2L338.5 483.8L338.5 482.3L338.5 480.9L338.5 479.4L338.5 478.0L338.5 476.6L338.5 475.1L338.5 473.7L338.5 472.2L338.5 470.8L338.5 469.4L338.5 467.9L338.5 466.5L338.5 465.0L338.5 463.6L338.5 462.2L338.5 460.7L338.5 460.4L339.9 460.3L341.4 460.0L342.8 459.7L344.0 459.3L344.2 459.2L345.7 458.7L347.1 458.1L347.9 457.8L348.6 457.7L350.0 457.3L351.4 457.0L352.9 456.7L353.9 456.4L354.3 456.3L355.8 455.9L357.2 455.4L358.3 455.0L358.6 454.9L360.1 454.4L361.5 454.1L363.0 454.0L364.4 454.0L365.8 454.0L367.3 454.0L368.7 454.0L370.1 454.0L371.6 454.0L373.0 454.0L374.5 454.0L375.9 454.1L377.3 454.2L378.8 454.2L380.2 454.1L381.7 453.9L383.1 453.7L384.4 453.5L384.5 453.5L386.0 453.3L387.4 453.2L388.9 453.0L390.3 452.8L391.7 452.5L393.2 452.1L393.2 452.1L394.6 451.6L396.1 451.1L397.2 450.7L397.5 450.5L398.9 450.0L400.4 449.6L401.8 449.4L403.2 449.2L403.3 449.2L404.7 449.1L406.1 449.1L407.6 449.0L409.0 448.9L410.5 448.7L411.9 448.4L413.3 448.2L414.8 447.9Z" fill="#569fc9" fill-rule="evenodd"/><path d="M407.7 452.1L409.0 452.0L410.5 451.8L411.9 451.6L413.3 451.3L414.8 451.0L416.2 450.9L417.6 450.9L419.1 451.2L420.5 451.8L421.0 452.1L422.0 452.7L423.0 453.5L423.4 453.8L424.7 455.0L424.8 455.1L426.3 456.4L426.3 456.4L427.7 457.5L428.4 457.8L429.2 458.3L430.6 459.0L431.6 459.3L432.0 459.4L433.5 459.7L434.9 459.9L436.4 459.8L437.8 459.6L439.0 459.3L439.2 459.2L440.7 458.8L442.1 458.5L442.1 459.3L442.1 460.7L442.1 462.2L442.1 463.6L442.1 465.0L442.1 466.5L442.1 467.9L442.1 469.4L442.1 470.8L442.1 472.2L442.1 473.7L442.1 475.1L442.1 476.6L442.1 478.0L442.1 479.4L442.1 480.9L442.1 482.3L442.1 483.8L442.1 485.2L442.1 486.6L442.1 488.1L442.1 489.5L442.1 491.0L442.1 492.4L442.1 493.8L442.1 495.3L442.1 496.7L442.1 498.2L442.1 499.6L442.1 501.0L442.1 502.5L442.1 503.9L442.1 505.3L442.1 506.8L442.1 508.2L442.1 509.7L442.1 511.1L442.1 512.5L442.1 514.0L442.1 515.4L442.1 516.9L442.1 518.3L442.1 519.7L442.1 521.2L442.1 522.6L442.1 524.1L442.1 525.5L442.1 526.9L442.1 528.4L442.1 529.8L440.7 529.8L439.2 529.8L437.8 529.8L436.4 529.8L434.9 529.8L433.5 529.8L432.0 529.8L430.6 529.8L429.2 529.8L427.7 529.8L426.3 529.8L424.8 529.8L423.4 529.8L422.0 529.8L420.5 529.8L419.1 529.8L417.6 529.8L416.2 529.8L414.8 529.8L413.3 529.8L411.9 529.8L410.5 529.8L409.0 529.8L407.6 529.8L406.1 529.8L404.7 529.8L403.3 529.8L401.8 529.8L400.4 529.8L398.9 529.8L397.5 529.8L396.1 529.8L394.6 529.8L393.2 529.8L391.7 529.8L390.3 529.8L388.9 529.8L387.4 529.8L386.0 529.8L384.5 529.8L383.1 529.8L381.7 529.8L380.2 529.8L378.8 529.8L377.3 529.8L375.9 529.8L374.5 529.8L373.0 529.8L371.6 529.8L370.1 529.8L368.7 529.8L367.3 529.8L365.8 529.8L364.4 529.8L363.0 529.8L361.5 529.8L360.1 529.8L358.6 529.8L357.2 529.8L355.8 529.8L354.3 529.8L352.9 529.8L351.4 529.8L350.0 529.8L348.6 529.8L347.1 529.8L345.7 529.8L344.2 529.8L342.8 529.8L341.4 529.8L339.9 529.8L338.5 529.8L338.5 528.4L338.5 526.9L338.5 525.5L338.5 524.1L338.5 522.6L338.5 521.2L338.5 519.7L338.5 518.3L338.5 516.9L338.5 515.4L338.5 514.0L338.5 512.5L338.5 511.1L338.5 509.7L338.5 508.2L338.5 506.8L338.5 505.3L338.5 503.9L338.5 502.5L338.5 501.0L338.5 499.6L338.5 498.2L338.5 496.7L338.5 495.3L338.5 493.8L338.5 492.4L338.5 491.0L338.5 489.5L338.5 488.1L338.5 486.6L338.5 485.2L338.5 483.8L338.5 482.3L338.5 480.9L338.5 479.4L338.5 478.0L338.5 476.6L338.5 475.1L338.5 473.7L338.5 472.2L338.5 470.8L338.5 469.4L338.5 467.9L338.5 466.5L338.5 465.0L338.5 464.9L339.9 465.0L340.3 465.0L341.4 465.2L342.8 465.4L344.2 465.4L345.7 465.2L346.1 465.0L347.1 464.7L348.6 463.9L349.2 463.6L350.0 463.2L351.4 462.5L352.4 462.2L352.9 462.0L354.3 461.5L355.8 461.1L357.2 460.7L357.2 460.7L358.6 460.3L360.1 459.7L361.1 459.3L361.5 459.2L363.0 458.6L364.4 458.2L365.8 457.8L365.8 457.8L367.3 457.6L368.7 457.4L370.1 457.2L371.6 457.2L373.0 457.2L374.5 457.3L375.9 457.3L377.3 457.3L378.8 457.2L380.2 457.0L381.7 456.6L382.7 456.4L383.1 456.3L384.5 456.0L386.0 455.7L387.4 455.5L388.9 455.3L390.3 455.1L391.1 455.0L391.7 454.9L393.2 454.5L394.6 454.1L396.1 453.6L396.4 453.5L397.5 453.2L398.9 452.8L400.4 452.5L401.8 452.3L403.3 452.2L404.7 452.2L406.1 452.2L407.6 452.1Z" fill="#7eb8d7" fill-rule="evenodd"/><path d="M406.7 455.0L407.6 454.9L409.0 454.7L410.5 454.5L411.9 454.3L413.3 454.0L414.8 453.8L416.2 453.6L417.6 453.7L419.1 454.0L420.5 454.6L421.0 455.0L422.0 455.6L423.0 456.4L423.4 456.7L424.7 457.8L424.8 458.0L426.3 459.2L426.4 459.3L427.7 460.2L428.7 460.7L429.2 461.0L430.6 461.6L432.0 462.1L432.4 462.2L433.5 462.5L434.9 462.8L436.4 463.1L437.8 463.3L439.2 463.4L440.7 463.4L442.1 463.3L442.1 463.6L442.1 465.0L442.1 466.5L442.1 467.9L442.1 469.4L442.1 470.8L442.1 472.2L442.1 473.7L442.1 475.1L442.1 476.6L442.1 478.0L442.1 479.4L442.1 480.9L442.1 482.3L442.1 483.8L442.1 485.2L442.1 486.6L442.1 488.1L442.1 489.5L442.1 491.0L442.1 492.4L442.1 493.8L442.1 495.3L442.1 496.7L442.1 498.2L442.1 499.6L442.1 501.0L442.1 502.5L442.1 503.9L442.1 505.3L442.1 506.8L442.1 508.2L442.1 509.7L442.1 511.1L442.1 512.5L442.1 514.0L442.1 515.4L442.1 516.9L442.1 518.3L442.1 519.7L442.1 521.2L442.1 522.6L442.1 524.1L442.1 525.5L442.1 526.9L442.1 528.4L442.1 529.8L440.7 529.8L439.2 529.8L437.8 529.8L436.4 529.8L434.9 529.8L433.5 529.8L432.0 529.8L430.6 529.8L429.2 529.8L427.7 529.8L426.3 529.8L424.8 529.8L423.4 529.8L422.0 529.8L420.5 529.8L419.1 529.8L417.6 529.8L416.2 529.8L414.8 529.8L413.3 529.8L411.9 529.8L410.5 529.8L409.0 529.8L407.6 529.8L406.1 529.8L404.7 529.8L403.3 529.8L401.8 529.8L400.4 529.8L398.9 529.8L397.5 529.8L396.1 529.8L394.6 529.8L393.2 529.8L391.7 529.8L390.3 529.8L388.9 529.8L387.4 529.8L386.0 529.8L384.5 529.8L383.1 529.8L381.7 529.8L380.2 529.8L378.8 529.8L377.3 529.8L375.9 529.8L374.5 529.8L373.0 529.8L371.6 529.8L370.1 529.8L368.7 529.8L367.3 529.8L365.8 529.8L364.4 529.8L363.0 529.8L361.5 529.8L360.1 529.8L358.6 529.8L357.2 529.8L355.8 529.8L354.3 529.8L352.9 529.8L351.4 529.8L350.0 529.8L348.6 529.8L347.1 529.8L345.7 529.8L344.2 529.8L342.8 529.8L341.4 529.8L339.9 529.8L338.5 529.8L338.5 528.4L338.5 526.9L338.5 525.5L338.5 524.1L338.5 522.6L338.5 521.2L338.5 519.7L338.5 518.3L338.5 516.9L338.5 515.4L338.5 514.0L338.5 512.5L338.5 511.1L338.5 509.7L338.5 508.2L338.5 506.8L338.5 505.3L338.5 503.9L338.5 502.5L338.5 501.0L338.5 499.6L338.5 498.2L338.5 496.7L338.5 495.3L338.5 493.8L338.5 492.4L338.5 491.0L338.5 489.5L338.5 488.1L338.5 486.6L338.5 485.2L338.5 483.8L338.5 482.3L338.5 480.9L338.5 479.4L338.5 478.0L338.5 476.6L338.5 475.1L338.5 473.7L338.5 473.1L339.9 473.1L341.4 472.9L342.8 472.8L344.2 472.5L345.0 472.2L345.7 472.0L347.1 471.3L347.9 470.8L348.6 470.4L349.7 469.4L350.0 469.2L351.4 468.0L351.5 467.9L352.9 467.1L354.3 466.6L355.1 466.5L355.8 466.4L357.2 466.3L358.6 466.2L360.1 465.9L361.5 465.4L362.1 465.0L363.0 464.5L364.1 463.6L364.4 463.3L365.8 462.2L365.9 462.2L367.3 461.4L368.7 460.8L368.9 460.7L370.1 460.4L371.6 460.2L373.0 460.1L374.5 460.0L375.9 459.9L377.3 459.7L378.8 459.5L380.0 459.3L380.2 459.2L381.7 458.9L383.1 458.5L384.5 458.2L386.0 457.9L386.1 457.8L387.4 457.6L388.9 457.4L390.3 457.2L391.7 457.0L393.2 456.7L394.5 456.4L394.6 456.4L396.1 456.1L397.5 455.7L398.9 455.5L400.4 455.4L401.8 455.3L403.3 455.2L404.7 455.1L406.1 455.0Z" fill="#a2cde3" fill-rule="evenodd"/><path d="M413.5 456.4L414.8 456.3L416.2 456.2L417.6 456.3L418.2 456.4L419.1 456.6L420.5 457.3L421.3 457.8L422.0 458.3L423.2 459.3L423.4 459.4L424.8 460.6L425.0 460.7L426.3 461.7L426.9 462.2L427.7 462.7L429.2 463.6L429.3 463.6L430.6 464.3L432.0 464.9L432.4 465.0L433.5 465.5L434.9 466.2L435.3 466.5L436.4 467.2L437.4 467.9L437.8 468.3L439.2 469.4L439.2 469.4L440.7 470.2L442.1 470.6L442.1 470.8L442.1 472.2L442.1 473.7L442.1 475.1L442.1 476.6L442.1 478.0L442.1 479.4L442.1 480.9L442.1 482.3L442.1 483.8L442.1 485.2L442.1 486.6L442.1 488.1L442.1 489.5L442.1 491.0L442.1 492.4L442.1 493.8L442.1 495.3L442.1 496.7L442.1 498.2L442.1 499.6L442.1 501.0L442.1 502.5L442.1 503.9L442.1 505.3L442.1 506.8L442.1 508.2L442.1 509.7L442.1 511.1L442.1 512.5L442.1 514.0L442.1 515.4L442.1 516.9L442.1 518.3L442.1 519.7L442.1 521.2L442.1 522.6L442.1 524.1L442.1 525.5L442.1 526.9L442.1 528.4L442.1 529.8L440.7 529.8L439.2 529.8L437.8 529.8L436.4 529.8L434.9 529.8L433.5 529.8L432.0 529.8L430.6 529.8L429.2 529.8L427.7 529.8L426.3 529.8L424.8 529.8L423.4 529.8L422.0 529.8L420.5 529.8L419.1 529.8L417.6 529.8L416.2 529.8L414.8 529.8L413.3 529.8L411.9 529.8L410.5 529.8L409.0 529.8L407.6 529.8L406.1 529.8L404.7 529.8L403.3 529.8L401.8 529.8L400.4 529.8L398.9 529.8L397.5 529.8L396.1 529.8L394.6 529.8L393.2 529.8L391.7 529.8L390.3 529.8L388.9 529.8L387.4 529.8L386.0 529.8L384.5 529.8L383.1 529.8L381.7 529.8L380.2 529.8L378.8 529.8L377.3 529.8L375.9 529.8L374.5 529.8L373.0 529.8L371.6 529.8L370.1 529.8L368.7 529.8L367.3 529.8L365.8 529.8L364.4 529.8L363.0 529.8L361.5 529.8L360.1 529.8L358.6 529.8L357.2 529.8L355.8 529.8L354.3 529.8L352.9 529.8L351.4 529.8L350.0 529.8L348.6 529.8L347.1 529.8L345.7 529.8L344.2 529.8L342.8 529.8L341.4 529.8L339.9 529.8L338.5 529.8L338.5 528.4L338.5 526.9L338.5 525.5L338.5 524.1L338.5 522.6L338.5 521.2L338.5 519.7L338.5 518.3L338.5 516.9L338.5 515.4L338.5 514.0L338.5 512.5L338.5 511.1L338.5 509.7L338.5 508.2L338.5 506.8L338.5 505.3L338.5 503.9L338.5 502.5L338.5 501.0L338.5 499.6L338.5 498.2L338.5 496.7L338.5 495.3L338.5 493.8L338.5 492.4L338.5 491.0L338.5 489.5L338.5 488.1L338.5 486.6L338.5 485.2L338.5 483.8L338.5 482.3L338.5 480.9L338.5 479.8L339.9 479.5L340.1 479.4L341.4 479.0L342.8 478.4L343.8 478.0L344.2 477.8L345.7 477.2L347.1 476.6L347.1 476.5L348.6 475.7L349.5 475.1L350.0 474.8L351.3 473.7L351.4 473.6L352.9 472.4L353.1 472.2L354.3 471.5L355.8 470.9L356.1 470.8L357.2 470.5L358.6 470.3L360.1 470.0L361.5 469.5L361.9 469.4L363.0 468.8L364.2 467.9L364.4 467.8L365.8 466.6L366.0 466.5L367.3 465.4L367.8 465.0L368.7 464.5L370.1 463.8L370.6 463.6L371.6 463.3L373.0 462.9L374.5 462.6L375.9 462.3L376.5 462.2L377.3 462.0L378.8 461.7L380.2 461.3L381.7 460.9L382.5 460.7L383.1 460.6L384.5 460.2L386.0 459.9L387.4 459.7L388.9 459.5L390.3 459.4L391.0 459.3L391.7 459.2L393.2 459.0L394.6 458.8L396.1 458.6L397.5 458.4L398.9 458.3L400.4 458.3L401.8 458.2L403.3 458.1L404.7 457.9L404.8 457.8L406.1 457.6L407.6 457.3L409.0 457.1L410.5 456.9L411.9 456.6L413.3 456.4Z" fill="#c2ddec" fill-rule="evenodd"/><path d="M408.6 459.3L409.0 459.2L410.5 459.0L411.9 458.8L413.3 458.6L414.8 458.5L416.2 458.5L417.6 458.7L419.1 459.2L419.3 459.3L420.5 459.9L421.8 460.7L422.0 460.8L423.4 461.9L423.7 462.2L424.8 463.1L425.4 463.6L426.3 464.3L427.2 465.0L427.7 465.6L428.9 466.5L429.2 466.7L430.6 467.7L431.0 467.9L432.0 468.6L433.2 469.4L433.5 469.6L434.9 470.7L435.1 470.8L436.4 471.9L436.8 472.2L437.8 473.2L438.4 473.7L439.2 474.5L440.0 475.1L440.7 476.0L441.5 476.6L441.9 478.0L441.3 479.4L440.7 480.8L440.7 480.9L440.6 482.3L440.7 482.4L441.9 483.8L442.1 483.9L442.1 485.2L442.1 486.6L442.1 488.1L442.1 489.5L442.1 491.0L442.1 492.4L442.1 493.8L442.1 495.3L442.1 496.7L442.1 498.2L442.1 499.6L442.1 501.0L442.1 502.5L442.1 503.9L442.1 505.3L442.1 506.8L442.1 508.2L442.1 509.7L442.1 511.1L442.1 512.5L442.1 514.0L442.1 515.4L442.1 516.9L442.1 518.3L442.1 519.7L442.1 521.2L442.1 522.6L442.1 524.1L442.1 525.5L442.1 526.9L442.1 528.4L442.1 529.8L440.7 529.8L439.2 529.8L437.8 529.8L436.4 529.8L434.9 529.8L433.5 529.8L432.0 529.8L430.6 529.8L429.2 529.8L427.7 529.8L426.3 529.8L424.8 529.8L423.4 529.8L422.0 529.8L420.5 529.8L419.1 529.8L417.6 529.8L416.2 529.8L414.8 529.8L413.3 529.8L411.9 529.8L410.5 529.8L409.0 529.8L407.6 529.8L406.1 529.8L404.7 529.8L403.3 529.8L401.8 529.8L400.4 529.8L398.9 529.8L397.5 529.8L396.1 529.8L394.6 529.8L393.2 529.8L391.7 529.8L390.3 529.8L388.9 529.8L387.4 529.8L386.0 529.8L384.5 529.8L383.1 529.8L381.7 529.8L380.2 529.8L378.8 529.8L377.3 529.8L375.9 529.8L374.5 529.8L373.0 529.8L371.6 529.8L370.1 529.8L368.7 529.8L367.3 529.8L365.8 529.8L364.4 529.8L363.0 529.8L361.5 529.8L360.1 529.8L358.6 529.8L357.2 529.8L355.8 529.8L354.3 529.8L352.9 529.8L351.4 529.8L350.0 529.8L348.6 529.8L347.1 529.8L345.7 529.8L344.2 529.8L342.8 529.8L341.4 529.8L339.9 529.8L338.5 529.8L338.5 528.4L338.5 526.9L338.5 525.5L338.5 524.1L338.5 522.6L338.5 521.2L338.5 519.7L338.5 518.3L338.5 516.9L338.5 515.4L338.5 514.0L338.5 512.5L338.5 511.1L338.5 509.7L338.5 508.2L338.5 506.8L338.5 505.3L338.5 503.9L338.5 502.5L338.5 501.0L338.5 499.6L338.5 498.2L338.5 496.7L338.5 495.3L338.5 493.8L338.5 492.4L338.5 491.0L338.5 489.5L338.5 488.1L338.5 486.6L338.5 485.2L338.6 485.2L339.9 484.9L341.4 484.1L342.0 483.8L342.8 483.3L344.2 482.5L344.5 482.3L345.7 481.8L347.1 481.1L347.6 480.9L348.6 480.4L350.0 479.6L350.3 479.4L351.4 478.6L352.3 478.0L352.9 477.5L354.2 476.6L354.3 476.5L355.8 475.6L356.7 475.1L357.2 474.9L358.6 474.4L360.1 473.9L360.5 473.7L361.5 473.2L363.0 472.4L363.2 472.2L364.4 471.4L365.1 470.8L365.8 470.2L366.8 469.4L367.3 469.0L368.7 467.9L368.7 467.9L370.1 467.0L371.2 466.5L371.6 466.3L373.0 465.7L374.5 465.2L374.9 465.0L375.9 464.7L377.3 464.3L378.8 463.8L379.4 463.6L380.2 463.4L381.7 463.0L383.1 462.6L384.5 462.3L385.2 462.2L386.0 462.0L387.4 461.8L388.9 461.7L390.3 461.6L391.7 461.6L393.2 461.5L394.6 461.3L396.1 461.2L397.5 461.1L398.9 461.0L400.4 460.9L401.8 460.8L402.1 460.7L403.3 460.5L404.7 460.2L406.1 459.8L407.6 459.5Z" fill="#dae9f2" fill-rule="evenodd"/><path d="M412.7 460.7L413.3 460.7L414.8 460.7L415.0 460.7L416.2 460.8L417.6 461.1L419.1 461.6L420.1 462.2L420.5 462.4L422.0 463.4L422.3 463.6L423.4 464.6L423.9 465.0L424.8 466.0L425.3 466.5L426.3 467.7L426.5 467.9L427.7 469.4L427.7 469.4L429.0 470.8L429.2 471.0L430.6 472.2L430.6 472.3L432.0 473.6L432.2 473.7L433.5 475.1L433.5 475.1L434.4 476.6L434.9 478.0L434.9 478.0L435.1 479.4L435.2 480.9L435.3 482.3L435.5 483.8L435.8 485.2L436.4 486.6L436.4 486.6L437.8 488.1L437.8 488.1L439.2 488.6L440.7 488.8L442.1 489.0L442.1 489.5L442.1 491.0L442.1 492.4L442.1 493.8L442.1 495.3L442.1 496.7L442.1 498.2L442.1 499.6L442.1 501.0L442.1 502.5L442.1 503.9L442.1 505.3L442.1 506.8L442.1 508.2L442.1 509.7L442.1 511.1L442.1 512.5L442.1 514.0L442.1 515.4L442.1 516.9L442.1 518.3L442.1 519.7L442.1 521.2L442.1 522.6L442.1 524.1L442.1 525.5L442.1 526.9L442.1 528.4L442.1 529.8L440.7 529.8L439.2 529.8L437.8 529.8L436.4 529.8L434.9 529.8L433.5 529.8L432.0 529.8L430.6 529.8L429.2 529.8L427.7 529.8L426.3 529.8L424.8 529.8L423.4 529.8L422.0 529.8L420.5 529.8L419.1 529.8L417.6 529.8L416.2 529.8L414.8 529.8L413.3 529.8L411.9 529.8L410.5 529.8L409.0 529.8L407.6 529.8L406.1 529.8L404.7 529.8L403.3 529.8L401.8 529.8L400.4 529.8L398.9 529.8L397.5 529.8L396.1 529.8L394.6 529.8L393.2 529.8L391.7 529.8L390.3 529.8L388.9 529.8L387.4 529.8L386.0 529.8L384.5 529.8L383.1 529.8L381.7 529.8L380.2 529.8L378.8 529.8L377.3 529.8L375.9 529.8L374.5 529.8L373.0 529.8L371.6 529.8L370.1 529.8L368.7 529.8L367.3 529.8L365.8 529.8L364.4 529.8L363.0 529.8L361.5 529.8L360.1 529.8L358.6 529.8L357.2 529.8L355.8 529.8L354.3 529.8L352.9 529.8L351.4 529.8L350.0 529.8L348.6 529.8L347.1 529.8L345.7 529.8L344.2 529.8L342.8 529.8L341.4 529.8L339.9 529.8L338.5 529.8L338.5 528.4L338.5 526.9L338.5 525.5L338.5 524.1L338.5 522.6L338.5 521.2L338.5 519.7L338.5 518.3L338.5 516.9L338.5 515.4L338.5 514.0L338.5 512.5L338.5 511.1L338.5 509.7L338.5 508.2L338.5 506.8L338.5 505.3L338.5 503.9L338.5 502.5L338.5 501.0L338.5 499.6L338.5 498.2L338.5 496.7L338.5 495.3L338.5 493.8L338.5 492.4L338.5 491.0L338.5 489.5L338.7 489.5L339.9 489.4L341.4 488.9L342.8 488.2L343.0 488.1L344.2 487.3L345.2 486.6L345.7 486.3L347.1 485.5L347.6 485.2L348.6 484.7L350.0 483.9L350.2 483.8L351.4 483.0L352.4 482.3L352.9 482.0L354.3 481.0L354.5 480.9L355.8 480.1L356.9 479.4L357.2 479.3L358.6 478.6L359.8 478.0L360.1 477.9L361.5 477.0L362.2 476.6L363.0 476.0L364.1 475.1L364.4 474.9L365.8 473.7L365.8 473.6L367.3 472.3L367.4 472.2L368.7 471.1L369.2 470.8L370.1 470.1L371.4 469.4L371.6 469.2L373.0 468.5L374.5 467.9L374.5 467.9L375.9 467.3L377.3 466.8L378.1 466.5L378.8 466.2L380.2 465.7L381.7 465.2L382.3 465.0L383.1 464.8L384.5 464.5L386.0 464.3L387.4 464.2L388.9 464.1L390.3 464.1L391.7 464.1L393.2 464.0L394.6 463.9L396.1 463.8L397.4 463.6L397.5 463.6L398.9 463.4L400.4 463.2L401.8 463.0L403.3 462.7L404.7 462.3L405.0 462.2L406.1 461.8L407.6 461.4L409.0 461.1L410.5 460.9L411.9 460.8Z" fill="#edf2f5" fill-rule="evenodd"/><path d="M406.6 463.6L407.6 463.3L409.0 463.0L410.5 462.8L411.9 462.7L413.3 462.7L414.8 462.9L416.2 463.1L417.6 463.5L418.0 463.6L419.1 464.1L420.5 464.9L420.7 465.0L422.0 466.1L422.3 466.5L423.4 467.7L423.6 467.9L424.5 469.4L424.8 469.8L425.5 470.8L426.3 472.1L426.4 472.2L427.4 473.7L427.7 474.2L428.4 475.1L429.2 476.4L429.3 476.6L430.1 478.0L430.6 479.3L430.7 479.4L431.1 480.9L431.4 482.3L431.6 483.8L431.7 485.2L431.6 486.6L431.4 488.1L431.2 489.5L430.8 491.0L430.6 491.8L430.5 492.4L430.2 493.8L430.0 495.3L429.9 496.7L430.1 498.2L430.5 499.6L430.6 499.8L431.8 501.0L432.0 501.2L433.5 501.7L434.9 501.7L436.4 501.3L436.9 501.0L437.8 500.4L438.8 499.6L439.2 499.0L440.0 498.2L440.7 497.3L441.5 496.7L442.1 496.4L442.1 496.7L442.1 498.2L442.1 499.6L442.1 501.0L442.1 502.5L442.1 503.9L442.1 505.3L442.1 506.8L442.1 508.2L442.1 509.7L442.1 511.1L442.1 512.5L442.1 514.0L442.1 515.4L442.1 516.9L442.1 518.3L442.1 519.7L442.1 521.2L442.1 522.6L442.1 524.1L442.1 525.5L442.1 526.9L442.1 528.4L442.1 529.8L440.7 529.8L439.2 529.8L437.8 529.8L436.4 529.8L434.9 529.8L433.5 529.8L432.0 529.8L430.6 529.8L429.2 529.8L427.7 529.8L426.3 529.8L424.8 529.8L423.4 529.8L422.0 529.8L420.5 529.8L419.1 529.8L417.6 529.8L416.2 529.8L414.8 529.8L413.3 529.8L411.9 529.8L410.5 529.8L409.0 529.8L407.6 529.8L406.1 529.8L404.7 529.8L403.3 529.8L401.8 529.8L400.4 529.8L398.9 529.8L397.5 529.8L396.1 529.8L394.6 529.8L393.2 529.8L391.7 529.8L390.3 529.8L389.6 529.8L388.9 529.4L387.4 529.2L386.0 529.4L384.5 529.7L384.2 529.8L383.1 529.8L381.7 529.8L380.2 529.8L378.8 529.8L377.3 529.8L375.9 529.8L374.5 529.8L373.0 529.8L371.6 529.8L370.1 529.8L368.7 529.8L367.3 529.8L365.8 529.8L364.4 529.8L363.0 529.8L361.5 529.8L360.1 529.8L358.6 529.8L357.2 529.8L355.8 529.8L354.3 529.8L352.9 529.8L351.4 529.8L350.0 529.8L348.6 529.8L347.1 529.8L345.7 529.8L344.2 529.8L342.8 529.8L341.4 529.8L339.9 529.8L338.5 529.8L338.5 528.4L338.5 526.9L338.5 525.5L338.5 524.1L338.5 522.6L338.5 521.2L338.5 519.7L338.5 518.3L338.5 516.9L338.5 515.4L338.5 514.0L338.5 512.5L338.5 511.1L338.5 509.7L338.5 508.2L338.5 506.8L338.5 505.3L338.5 503.9L338.5 502.5L338.5 501.0L338.5 499.6L338.5 498.2L338.5 496.7L338.5 495.3L338.5 493.8L338.5 493.7L339.9 493.7L341.4 493.4L342.8 492.9L343.7 492.4L344.2 492.1L345.7 491.2L346.0 491.0L347.1 490.1L347.8 489.5L348.6 488.9L349.6 488.1L350.0 487.8L351.4 486.7L351.5 486.6L352.9 485.6L353.5 485.2L354.3 484.7L355.8 483.8L355.9 483.8L357.2 483.1L358.6 482.4L358.8 482.3L360.1 481.6L361.4 480.9L361.5 480.8L363.0 479.7L363.3 479.4L364.4 478.5L364.9 478.0L365.8 477.2L366.5 476.6L367.3 475.8L368.1 475.1L368.7 474.5L369.7 473.7L370.1 473.4L371.6 472.3L371.7 472.2L373.0 471.5L374.4 470.8L374.5 470.8L375.9 470.2L377.3 469.6L378.1 469.4L378.8 469.1L380.2 468.6L381.7 468.1L382.1 467.9L383.1 467.6L384.5 467.3L386.0 467.0L387.4 466.9L388.9 466.8L390.3 466.8L391.7 466.7L393.2 466.6L394.2 466.5L394.6 466.4L396.1 466.2L397.5 466.0L398.9 465.7L400.4 465.4L401.8 465.1L402.0 465.0L403.3 464.7L404.7 464.2L406.1 463.7Z" fill="#f9f0eb" fill-rule="evenodd"/><path d="M408.7 465.0L409.0 465.0L410.5 464.8L411.9 464.8L413.3 464.9L414.7 465.0L414.8 465.1L416.2 465.4L417.6 465.9L418.8 466.5L419.1 466.7L420.5 467.8L420.7 467.9L421.9 469.4L422.0 469.5L422.8 470.8L423.4 471.8L423.7 472.2L424.5 473.7L424.8 474.4L425.2 475.1L425.9 476.6L426.3 477.3L426.6 478.0L427.2 479.4L427.7 480.9L427.7 481.1L428.0 482.3L428.3 483.8L428.4 485.2L428.4 486.6L428.3 488.1L428.1 489.5L428.0 491.0L427.7 492.4L427.7 492.5L427.5 493.8L427.3 495.3L427.1 496.7L427.0 498.2L427.1 499.6L427.2 501.0L427.5 502.5L427.7 503.0L428.2 503.9L429.2 505.3L429.2 505.3L430.6 506.6L431.0 506.8L432.0 507.4L433.5 508.0L434.3 508.2L434.9 508.4L436.4 508.7L437.8 508.9L439.2 509.0L440.7 509.0L442.1 509.0L442.1 509.7L442.1 511.1L442.1 512.5L442.1 514.0L442.1 515.4L442.1 516.9L442.1 518.3L442.1 519.7L442.1 521.2L442.1 522.6L442.1 524.1L442.1 525.5L442.1 526.9L442.1 528.4L442.1 529.8L440.7 529.8L439.2 529.8L437.8 529.8L436.4 529.8L434.9 529.8L433.5 529.8L432.0 529.8L430.6 529.8L429.2 529.8L427.7 529.8L426.3 529.8L424.8 529.8L423.4 529.8L422.0 529.8L420.5 529.8L419.1 529.8L417.6 529.8L416.2 529.8L414.8 529.8L414.1 529.8L413.4 528.4L413.3 528.3L412.3 526.9L411.9 526.6L410.8 525.5L410.5 525.3L409.0 524.1L408.9 524.1L407.6 523.2L406.5 522.6L406.1 522.4L404.7 521.7L403.5 521.2L403.3 521.1L401.8 520.5L400.4 519.8L400.2 519.7L398.9 519.1L397.6 518.3L397.5 518.2L396.1 517.2L395.6 516.9L394.6 516.2L393.2 515.5L392.9 515.4L391.7 515.2L390.3 515.4L390.1 515.4L388.9 515.9L387.4 516.6L386.8 516.9L386.0 517.4L384.5 518.2L384.3 518.3L383.1 519.0L381.7 519.4L380.2 519.7L380.0 519.7L378.8 520.0L377.3 520.5L376.4 521.2L375.9 521.6L375.2 522.6L374.5 523.6L374.2 524.1L373.4 525.5L373.0 526.3L372.8 526.9L372.3 528.4L372.1 529.8L371.6 529.8L370.1 529.8L368.7 529.8L367.3 529.8L365.8 529.8L364.4 529.8L363.0 529.8L361.5 529.8L360.1 529.8L358.6 529.8L357.2 529.8L355.8 529.8L354.3 529.8L352.9 529.8L351.4 529.8L350.0 529.8L348.6 529.8L347.1 529.8L345.7 529.8L344.2 529.8L342.8 529.8L341.4 529.8L339.9 529.8L338.5 529.8L338.5 528.4L338.5 526.9L338.5 525.5L338.5 524.1L338.5 522.6L338.5 521.2L338.5 519.7L338.5 518.3L338.5 516.9L338.5 515.4L338.5 514.0L338.5 512.5L338.5 511.1L338.5 509.7L338.5 508.2L338.5 506.8L338.5 506.4L339.9 506.5L341.4 506.2L342.8 505.6L343.1 505.3L344.2 504.3L344.5 503.9L345.4 502.5L345.7 501.8L346.0 501.0L346.5 499.6L346.9 498.2L347.1 497.7L347.5 496.7L348.2 495.3L348.6 494.7L349.1 493.8L350.0 492.5L350.1 492.4L351.2 491.0L351.4 490.7L352.6 489.5L352.9 489.2L354.2 488.1L354.3 488.0L355.8 487.1L356.5 486.6L357.2 486.3L358.6 485.6L359.6 485.2L360.1 485.0L361.5 484.3L362.4 483.8L363.0 483.4L364.3 482.3L364.4 482.3L365.8 481.0L365.9 480.9L367.3 479.6L367.5 479.4L368.7 478.4L369.1 478.0L370.1 477.1L370.9 476.6L371.6 476.0L372.8 475.1L373.0 475.0L374.5 474.1L375.4 473.7L375.9 473.5L377.3 472.9L378.8 472.5L379.9 472.2L380.2 472.1L381.7 471.8L383.1 471.3L384.5 470.9L384.7 470.8L386.0 470.4L387.4 470.0L388.9 469.8L390.3 469.5L391.6 469.4L391.7 469.3L393.2 469.1L394.6 468.9L396.1 468.6L397.5 468.3L398.9 468.0L399.4 467.9L400.4 467.7L401.8 467.3L403.3 466.9L404.3 466.5L404.7 466.3L406.1 465.8L407.6 465.3Z" fill="#fce2d2" fill-rule="evenodd"/><path d="M407.2 467.9L407.6 467.8L409.0 467.4L410.5 467.2L411.9 467.1L413.3 467.3L414.8 467.5L416.2 467.9L416.3 467.9L417.6 468.6L418.7 469.4L419.1 469.6L420.1 470.8L420.5 471.3L421.1 472.2L421.9 473.7L422.0 473.7L422.7 475.1L423.3 476.6L423.4 476.9L423.8 478.0L424.3 479.4L424.7 480.9L424.8 481.3L425.1 482.3L425.4 483.8L425.6 485.2L425.7 486.6L425.8 488.1L425.8 489.5L425.7 491.0L425.6 492.4L425.4 493.8L425.1 495.3L424.9 496.7L424.8 497.2L424.7 498.2L424.6 499.6L424.5 501.0L424.5 502.5L424.5 503.9L424.6 505.3L424.6 506.8L424.7 508.2L424.7 509.7L424.6 511.1L424.6 512.5L424.8 513.4L425.0 514.0L425.9 515.4L426.3 515.8L427.6 516.9L427.7 516.9L429.2 517.4L430.6 517.4L432.0 517.2L433.3 516.9L433.5 516.8L434.9 516.6L436.4 516.4L437.8 516.2L439.2 516.1L440.7 515.9L442.1 515.9L442.1 516.9L442.1 518.3L442.1 519.7L442.1 521.2L442.1 522.6L442.1 524.1L442.1 525.5L442.1 526.9L442.1 528.4L442.1 529.8L440.7 529.8L439.2 529.8L437.8 529.8L436.4 529.8L434.9 529.8L433.5 529.8L432.0 529.8L430.6 529.8L429.2 529.8L427.7 529.8L426.3 529.8L424.8 529.8L423.4 529.8L422.6 529.8L422.4 528.4L422.0 527.0L421.9 526.9L421.3 525.5L420.5 524.3L420.3 524.1L419.2 522.6L419.1 522.5L418.0 521.2L417.6 520.7L416.9 519.7L416.2 518.7L415.8 518.3L414.8 517.5L413.3 517.1L411.9 517.1L410.5 517.2L409.0 517.2L407.6 517.1L406.1 516.9L405.9 516.9L404.7 516.6L403.3 516.3L401.8 515.8L400.8 515.4L400.4 515.2L398.9 514.5L398.1 514.0L397.5 513.6L396.1 512.8L395.5 512.5L394.6 512.2L393.2 511.9L391.7 511.9L390.3 512.0L388.9 512.3L388.1 512.5L387.4 512.8L386.0 513.2L384.5 513.6L383.1 513.9L382.3 514.0L381.7 514.1L380.2 514.2L378.8 514.3L377.3 514.3L375.9 514.3L374.5 514.3L373.0 514.3L371.6 514.5L370.1 514.9L368.8 515.4L368.7 515.5L367.7 516.9L367.7 518.3L368.1 519.7L368.6 521.2L368.7 522.2L368.8 522.6L368.7 523.5L368.7 524.1L368.4 525.5L368.0 526.9L367.7 528.4L367.5 529.8L367.3 529.8L365.8 529.8L364.4 529.8L363.0 529.8L361.5 529.8L360.1 529.8L358.6 529.8L357.2 529.8L355.8 529.8L354.3 529.8L352.9 529.8L351.4 529.8L350.0 529.8L348.6 529.8L347.1 529.8L345.7 529.8L344.2 529.8L342.8 529.8L341.4 529.8L339.9 529.8L338.5 529.8L338.5 528.4L338.5 526.9L338.5 525.5L338.5 524.1L338.5 522.6L338.5 521.2L338.5 519.7L338.5 518.3L338.5 518.2L339.9 517.9L341.4 517.3L342.1 516.9L342.8 516.4L344.1 515.4L344.2 515.3L345.4 514.0L345.7 513.6L346.2 512.5L346.8 511.1L347.1 510.0L347.2 509.7L347.6 508.2L348.1 506.8L348.6 505.9L348.8 505.3L349.5 503.9L350.0 502.7L350.1 502.5L350.7 501.0L351.2 499.6L351.4 498.7L351.6 498.2L352.1 496.7L352.7 495.3L352.9 494.9L353.4 493.8L354.3 492.4L354.3 492.4L355.6 491.0L355.8 490.8L357.2 489.7L357.5 489.5L358.6 488.9L360.1 488.2L360.4 488.1L361.5 487.6L363.0 486.8L363.3 486.6L364.4 486.0L365.5 485.2L365.8 485.0L367.3 483.9L367.4 483.8L368.7 482.7L369.3 482.3L370.1 481.6L371.1 480.9L371.6 480.5L373.0 479.5L373.0 479.4L374.5 478.4L375.2 478.0L375.9 477.6L377.3 476.9L378.3 476.6L378.8 476.4L380.2 476.0L381.7 475.6L383.1 475.1L383.2 475.1L384.5 474.6L386.0 474.0L386.9 473.7L387.4 473.5L388.9 472.9L390.3 472.5L391.3 472.2L391.7 472.1L393.2 471.9L394.6 471.6L396.1 471.2L397.5 470.9L397.9 470.8L398.9 470.6L400.4 470.3L401.8 469.9L403.3 469.5L403.6 469.4L404.7 469.0L406.1 468.4Z" fill="#fbccb4" fill-rule="evenodd"/><path d="M409.1 470.8L410.5 470.4L411.9 470.2L413.3 470.2L414.8 470.5L415.8 470.8L416.2 471.0L417.6 471.9L418.0 472.2L419.1 473.5L419.2 473.7L420.0 475.1L420.5 476.2L420.7 476.6L421.2 478.0L421.6 479.4L422.0 480.8L422.0 480.9L422.3 482.3L422.6 483.8L422.9 485.2L423.2 486.6L423.4 487.9L423.4 488.1L423.6 489.5L423.6 491.0L423.5 492.4L423.4 493.0L423.3 493.8L423.0 495.3L422.7 496.7L422.4 498.2L422.2 499.6L422.0 501.0L422.0 501.0L421.7 502.5L421.4 503.9L421.1 505.3L420.5 506.8L420.5 506.8L419.6 508.2L419.1 508.8L417.9 509.7L417.6 509.8L416.2 510.5L414.8 511.0L414.3 511.1L413.3 511.4L411.9 511.8L410.5 512.3L409.3 512.5L409.0 512.6L407.6 512.9L406.1 513.0L404.7 512.9L403.3 512.7L402.8 512.5L401.8 512.2L400.4 511.6L399.3 511.1L398.9 510.9L397.5 510.3L396.1 509.8L395.6 509.7L394.6 509.5L393.2 509.3L391.7 509.4L390.3 509.6L389.8 509.7L388.9 509.8L387.4 510.2L386.0 510.5L384.5 510.7L383.1 511.0L381.7 511.1L381.7 511.1L380.2 511.2L378.8 511.2L377.3 511.2L376.5 511.1L375.9 511.1L374.5 511.0L373.0 511.0L371.6 511.0L370.1 511.1L369.5 511.1L368.7 511.2L367.3 511.3L365.8 511.6L364.4 512.1L363.5 512.5L363.0 513.0L362.1 514.0L361.5 515.3L361.4 515.4L361.2 516.9L361.3 518.3L361.5 519.3L361.6 519.7L362.0 521.2L362.3 522.6L362.3 524.1L361.7 525.5L361.5 525.8L360.1 526.9L360.0 526.9L358.6 527.6L357.2 528.4L357.2 528.4L356.2 529.8L355.8 529.8L354.3 529.8L352.9 529.8L351.4 529.8L350.0 529.8L348.6 529.8L347.1 529.8L345.7 529.8L344.2 529.8L342.8 529.8L341.4 529.8L339.9 529.8L338.5 529.8L338.5 528.4L338.5 526.9L338.5 525.5L338.5 524.1L338.5 523.4L339.9 523.2L341.4 522.8L341.7 522.6L342.8 522.1L344.2 521.3L344.4 521.2L345.7 520.3L346.3 519.7L347.1 519.1L348.0 518.3L348.6 517.8L349.4 516.9L350.0 516.1L350.5 515.4L351.1 514.0L351.4 512.6L351.5 512.5L351.7 511.1L351.9 509.7L352.2 508.2L352.7 506.8L352.9 506.5L353.6 505.3L354.3 504.3L354.7 503.9L355.6 502.5L355.8 502.1L356.2 501.0L356.6 499.6L356.8 498.2L357.1 496.7L357.2 496.4L357.6 495.3L358.5 493.8L358.6 493.6L359.8 492.4L360.1 492.2L361.5 491.3L362.0 491.0L363.0 490.5L364.4 489.7L364.8 489.5L365.8 489.0L367.3 488.1L367.4 488.1L368.7 487.2L369.6 486.6L370.1 486.3L371.6 485.3L371.8 485.2L373.0 484.4L374.0 483.8L374.5 483.5L375.9 482.6L376.3 482.3L377.3 481.7L378.8 481.0L379.0 480.9L380.2 480.3L381.7 479.7L382.3 479.4L383.1 479.1L384.5 478.5L385.7 478.0L386.0 477.9L387.4 477.2L388.9 476.6L388.9 476.6L390.3 476.0L391.7 475.6L393.2 475.2L393.4 475.1L394.6 474.8L396.1 474.4L397.5 474.0L398.4 473.7L398.9 473.5L400.4 473.2L401.8 472.9L403.3 472.6L404.7 472.3L405.1 472.2L406.1 471.9L407.6 471.4L409.0 470.8Z" fill="#f6b394" fill-rule="evenodd"/><path d="M409.7 475.1L410.5 474.8L411.9 474.4L413.3 474.2L414.8 474.4L416.1 475.1L416.2 475.2L417.4 476.6L417.6 477.0L418.1 478.0L418.7 479.4L419.1 480.9L419.1 480.9L419.4 482.3L419.7 483.8L420.1 485.2L420.5 486.6L420.5 486.7L420.9 488.1L421.2 489.5L421.3 491.0L421.3 492.4L421.1 493.8L420.8 495.3L420.5 496.3L420.4 496.7L420.0 498.2L419.6 499.6L419.2 501.0L419.1 501.3L418.6 502.5L418.0 503.9L417.6 504.4L416.9 505.3L416.2 506.0L414.9 506.8L414.8 506.9L413.3 507.5L411.9 507.9L410.8 508.2L410.5 508.3L409.0 508.7L407.6 509.0L406.1 509.1L404.7 509.1L403.3 508.9L401.8 508.6L400.8 508.2L400.4 508.1L398.9 507.7L397.5 507.3L396.1 507.0L394.6 506.9L393.2 506.9L391.7 506.9L390.3 507.1L388.9 507.3L387.4 507.5L386.0 507.8L384.5 508.0L383.1 508.2L383.1 508.2L381.7 508.3L380.2 508.4L378.8 508.4L377.3 508.2L377.1 508.2L375.9 508.1L374.5 507.9L373.0 507.8L371.6 507.7L370.1 507.6L368.7 507.4L367.3 507.0L366.9 506.8L365.8 505.8L365.5 505.3L365.2 503.9L365.2 502.5L365.0 501.0L364.7 499.6L364.4 498.3L364.4 498.2L364.2 496.7L364.4 496.2L364.8 495.3L365.8 494.3L366.5 493.8L367.3 493.5L368.7 493.0L370.1 492.5L370.3 492.4L371.6 491.8L372.8 491.0L373.0 490.8L374.3 489.5L374.5 489.3L375.9 488.1L375.9 488.1L377.3 487.2L378.4 486.6L378.8 486.5L380.2 485.9L381.7 485.4L382.4 485.2L383.1 484.9L384.5 484.3L385.6 483.8L386.0 483.6L387.4 482.7L388.0 482.3L388.9 481.8L390.3 481.0L390.6 480.9L391.7 480.3L393.2 479.7L393.8 479.4L394.6 479.1L396.1 478.5L397.0 478.0L397.5 477.8L398.9 477.1L400.4 476.6L400.5 476.6L401.8 476.3L403.3 476.1L404.7 476.1L406.1 476.0L407.6 475.8L409.0 475.3Z" fill="#ec9374" fill-rule="evenodd"/><path d="M411.6 479.4L411.9 479.4L412.3 479.4L413.3 479.6L414.8 480.7L414.9 480.9L415.6 482.3L416.2 483.8L416.2 483.8L416.7 485.2L417.3 486.6L417.6 487.5L417.9 488.1L418.4 489.5L418.6 491.0L418.7 492.4L418.5 493.8L418.1 495.3L417.6 496.7L417.6 496.7L416.9 498.2L416.2 499.5L416.1 499.6L415.0 501.0L414.8 501.3L413.3 502.4L413.2 502.5L411.9 503.1L410.5 503.7L409.6 503.9L409.0 504.1L407.6 504.4L406.1 504.6L404.7 504.7L403.3 504.7L401.8 504.6L400.4 504.4L398.9 504.2L397.5 504.1L396.1 504.0L394.8 503.9L394.6 503.9L393.2 503.8L391.7 503.7L390.3 503.6L388.9 503.6L387.4 503.7L386.3 503.9L386.0 504.0L384.5 504.3L383.1 504.5L381.7 504.7L380.2 504.7L378.8 504.5L377.3 504.0L377.1 503.9L375.9 503.0L375.3 502.5L374.9 501.0L375.3 499.6L375.9 498.9L376.4 498.2L377.3 497.2L377.8 496.7L378.8 495.6L379.2 495.3L380.2 494.3L380.8 493.8L381.7 493.2L383.1 492.5L383.4 492.4L384.5 492.0L386.0 491.5L387.1 491.0L387.4 490.8L388.9 489.9L389.5 489.5L390.3 488.9L391.3 488.1L391.7 487.8L393.1 486.6L393.2 486.5L394.6 485.3L394.7 485.2L396.1 484.1L396.4 483.8L397.5 482.9L398.3 482.3L398.9 481.9L400.4 481.0L400.6 480.9L401.8 480.5L403.3 480.2L404.7 480.2L406.1 480.2L407.6 480.1L409.0 479.9L410.5 479.6Z" fill="#dd7059" fill-rule="evenodd"/><path d="M406.1 488.1L406.1 488.1L407.6 487.3L409.0 487.1L410.5 487.2L411.9 487.9L412.1 488.1L413.3 489.1L413.7 489.5L414.6 491.0L414.8 491.6L414.9 492.4L414.8 493.8L414.8 493.9L414.0 495.3L413.3 496.1L412.5 496.7L411.9 497.1L410.5 497.4L409.0 497.3L408.1 496.7L407.6 496.2L407.0 495.3L406.5 493.8L406.1 492.7L406.0 492.4L405.7 491.0L405.6 489.5Z" fill="#cc4c44" fill-rule="evenodd"/><path d="M338.5 439.0L339.7 439.1L339.9 439.2L341.4 439.7L342.8 440.3L343.5 440.6L344.2 441.0L345.7 441.8L346.0 442.0L347.1 442.8L348.2 443.5L348.6 443.7L350.0 444.7L350.3 444.9L351.4 445.6L352.9 446.1L354.3 446.2L355.8 445.8L357.2 445.1L357.5 444.9L358.6 444.3L360.1 443.5L360.3 443.5L361.5 443.0L363.0 442.5L364.4 442.2L365.2 442.0L365.8 441.9L367.3 441.7L368.7 441.4L370.1 441.0L371.5 440.6L371.6 440.6L373.0 440.0L374.5 439.5L375.6 439.1L375.9 439.1L377.3 438.8L378.8 438.8L380.2 438.9L381.7 439.1L381.7 439.1L383.1 439.6L384.5 440.1L385.5 440.6L386.0 440.9L387.4 441.8L388.1 442.0L388.9 442.5L390.3 442.7L391.7 442.3L392.1 442.0L393.2 441.3L394.1 440.6L394.6 440.3L396.1 439.5L397.5 439.2L398.9 439.3L400.4 439.7L401.8 440.4L402.3 440.6L403.3 441.0L404.7 441.5L406.1 441.8L407.6 441.9L409.0 441.9L410.5 441.7L411.9 441.4L413.3 440.9L414.0 440.6L414.8 440.2L416.2 439.2L416.4 439.1L417.6 438.0L418.0 437.7L419.1 436.6L419.6 436.3L420.5 435.4L421.6 434.8L422.0 434.6L423.4 434.1L424.8 433.7L426.3 433.4L426.3 433.4L427.7 433.1L429.2 433.0L430.6 433.1L432.0 433.4L432.2 433.4L433.5 433.6L434.9 433.6L435.5 433.4L436.4 433.0L437.1 431.9L437.8 430.7L437.9 430.5L438.4 429.1L438.8 427.6L439.0 426.2" fill="none" stroke="#222" stroke-width="0.6" opacity="0.8"/><path d="M338.5 460.4L339.9 460.3L341.4 460.0L342.8 459.7L344.0 459.3L344.2 459.2L345.7 458.7L347.1 458.1L347.9 457.8L348.6 457.7L350.0 457.3L351.4 457.0L352.9 456.7L353.9 456.4L354.3 456.3L355.8 455.9L357.2 455.4L358.3 455.0L358.6 454.9L360.1 454.4L361.5 454.1L363.0 454.0L364.4 454.0L365.8 454.0L367.3 454.0L368.7 454.0L370.1 454.0L371.6 454.0L373.0 454.0L374.5 454.0L375.9 454.1L377.3 454.2L378.8 454.2L380.2 454.1L381.7 453.9L383.1 453.7L384.4 453.5L384.5 453.5L386.0 453.3L387.4 453.2L388.9 453.0L390.3 452.8L391.7 452.5L393.2 452.1L393.2 452.1L394.6 451.6L396.1 451.1L397.2 450.7L397.5 450.5L398.9 450.0L400.4 449.6L401.8 449.4L403.2 449.2L403.3 449.2L404.7 449.1L406.1 449.1L407.6 449.0L409.0 448.9L410.5 448.7L411.9 448.4L413.3 448.2L414.8 447.9L416.2 447.8L416.2 447.8L416.6 447.8L417.6 447.8L419.1 448.0L420.5 448.5L421.7 449.2L422.0 449.3L423.4 450.4L423.6 450.7L424.8 451.7L425.2 452.1L426.3 453.0L426.9 453.5L427.7 454.2L428.9 455.0L429.2 455.1L430.6 455.8L432.0 456.4L432.1 456.4L433.5 456.7L434.9 456.9L436.4 456.8L437.8 456.5L438.0 456.4L439.2 456.0L440.7 455.5L442.1 455.2" fill="none" stroke="#222" stroke-width="0.6" opacity="0.8"/><path d="M338.5 473.1L339.9 473.1L341.4 472.9L342.8 472.8L344.2 472.5L345.0 472.2L345.7 472.0L347.1 471.3L347.9 470.8L348.6 470.4L349.7 469.4L350.0 469.2L351.4 468.0L351.5 467.9L352.9 467.1L354.3 466.6L355.1 466.5L355.8 466.4L357.2 466.3L358.6 466.2L360.1 465.9L361.5 465.4L362.1 465.0L363.0 464.5L364.1 463.6L364.4 463.3L365.8 462.2L365.9 462.2L367.3 461.4L368.7 460.8L368.9 460.7L370.1 460.4L371.6 460.2L373.0 460.1L374.5 460.0L375.9 459.9L377.3 459.7L378.8 459.5L380.0 459.3L380.2 459.2L381.7 458.9L383.1 458.5L384.5 458.2L386.0 457.9L386.1 457.8L387.4 457.6L388.9 457.4L390.3 457.2L391.7 457.0L393.2 456.7L394.5 456.4L394.6 456.4L396.1 456.1L397.5 455.7L398.9 455.5L400.4 455.4L401.8 455.3L403.3 455.2L404.7 455.1L406.1 455.0L406.7 455.0L407.6 454.9L409.0 454.7L410.5 454.5L411.9 454.3L413.3 454.0L414.8 453.8L416.2 453.6L417.6 453.7L419.1 454.0L420.5 454.6L421.0 455.0L422.0 455.6L423.0 456.4L423.4 456.7L424.7 457.8L424.8 458.0L426.3 459.2L426.4 459.3L427.7 460.2L428.7 460.7L429.2 461.0L430.6 461.6L432.0 462.1L432.4 462.2L433.5 462.5L434.9 462.8L436.4 463.1L437.8 463.3L439.2 463.4L440.7 463.4L442.1 463.3" fill="none" stroke="#222" stroke-width="0.6" opacity="0.8"/><path d="M338.5 485.2L338.6 485.2L339.9 484.9L341.4 484.1L342.0 483.8L342.8 483.3L344.2 482.5L344.5 482.3L345.7 481.8L347.1 481.1L347.6 480.9L348.6 480.4L350.0 479.6L350.3 479.4L351.4 478.6L352.3 478.0L352.9 477.5L354.2 476.6L354.3 476.5L355.8 475.6L356.7 475.1L357.2 474.9L358.6 474.4L360.1 473.9L360.5 473.7L361.5 473.2L363.0 472.4L363.2 472.2L364.4 471.4L365.1 470.8L365.8 470.2L366.8 469.4L367.3 469.0L368.7 467.9L368.7 467.9L370.1 467.0L371.2 466.5L371.6 466.3L373.0 465.7L374.5 465.2L374.9 465.0L375.9 464.7L377.3 464.3L378.8 463.8L379.4 463.6L380.2 463.4L381.7 463.0L383.1 462.6L384.5 462.3L385.2 462.2L386.0 462.0L387.4 461.8L388.9 461.7L390.3 461.6L391.7 461.6L393.2 461.5L394.6 461.3L396.1 461.2L397.5 461.1L398.9 461.0L400.4 460.9L401.8 460.8L402.1 460.7L403.3 460.5L404.7 460.2L406.1 459.8L407.6 459.5L408.6 459.3L409.0 459.2L410.5 459.0L411.9 458.8L413.3 458.6L414.8 458.5L416.2 458.5L417.6 458.7L419.1 459.2L419.3 459.3L420.5 459.9L421.8 460.7L422.0 460.8L423.4 461.9L423.7 462.2L424.8 463.1L425.4 463.6L426.3 464.3L427.2 465.0L427.7 465.6L428.9 466.5L429.2 466.7L430.6 467.7L431.0 467.9L432.0 468.6L433.2 469.4L433.5 469.6L434.9 470.7L435.1 470.8L436.4 471.9L436.8 472.2L437.8 473.2L438.4 473.7L439.2 474.5L440.0 475.1L440.7 476.0L441.5 476.6L441.9 478.0L441.3 479.4L440.7 480.8L440.7 480.9L440.6 482.3L440.7 482.4L441.9 483.8L442.1 483.9" fill="none" stroke="#222" stroke-width="0.6" opacity="0.8"/><path d="M338.5 493.7L339.9 493.7L341.4 493.4L342.8 492.9L343.7 492.4L344.2 492.1L345.7 491.2L346.0 491.0L347.1 490.1L347.8 489.5L348.6 488.9L349.6 488.1L350.0 487.8L351.4 486.7L351.5 486.6L352.9 485.6L353.5 485.2L354.3 484.7L355.8 483.8L355.9 483.8L357.2 483.1L358.6 482.4L358.8 482.3L360.1 481.6L361.4 480.9L361.5 480.8L363.0 479.7L363.3 479.4L364.4 478.5L364.9 478.0L365.8 477.2L366.5 476.6L367.3 475.8L368.1 475.1L368.7 474.5L369.7 473.7L370.1 473.4L371.6 472.3L371.7 472.2L373.0 471.5L374.4 470.8L374.5 470.8L375.9 470.2L377.3 469.6L378.1 469.4L378.8 469.1L380.2 468.6L381.7 468.1L382.1 467.9L383.1 467.6L384.5 467.3L386.0 467.0L387.4 466.9L388.9 466.8L390.3 466.8L391.7 466.7L393.2 466.6L394.2 466.5L394.6 466.4L396.1 466.2L397.5 466.0L398.9 465.7L400.4 465.4L401.8 465.1L402.0 465.0L403.3 464.7L404.7 464.2L406.1 463.7L406.6 463.6L407.6 463.3L409.0 463.0L410.5 462.8L411.9 462.7L413.3 462.7L414.8 462.9L416.2 463.1L417.6 463.5L418.0 463.6L419.1 464.1L420.5 464.9L420.7 465.0L422.0 466.1L422.3 466.5L423.4 467.7L423.6 467.9L424.5 469.4L424.8 469.8L425.5 470.8L426.3 472.1L426.4 472.2L427.4 473.7L427.7 474.2L428.4 475.1L429.2 476.4L429.3 476.6L430.1 478.0L430.6 479.3L430.7 479.4L431.1 480.9L431.4 482.3L431.6 483.8L431.7 485.2L431.6 486.6L431.4 488.1L431.2 489.5L430.8 491.0L430.6 491.8L430.5 492.4L430.2 493.8L430.0 495.3L429.9 496.7L430.1 498.2L430.5 499.6L430.6 499.8L431.8 501.0L432.0 501.2L433.5 501.7L434.9 501.7L436.4 501.3L436.9 501.0L437.8 500.4L438.8 499.6L439.2 499.0L440.0 498.2L440.7 497.3L441.5 496.7L442.1 496.4M389.6 529.8L388.9 529.4L387.4 529.2L386.0 529.4L384.5 529.7L384.2 529.8" fill="none" stroke="#222" stroke-width="0.6" opacity="0.8"/><path d="M338.5 518.2L339.9 517.9L341.4 517.3L342.1 516.9L342.8 516.4L344.1 515.4L344.2 515.3L345.4 514.0L345.7 513.6L346.2 512.5L346.8 511.1L347.1 510.0L347.2 509.7L347.6 508.2L348.1 506.8L348.6 505.9L348.8 505.3L349.5 503.9L350.0 502.7L350.1 502.5L350.7 501.0L351.2 499.6L351.4 498.7L351.6 498.2L352.1 496.7L352.7 495.3L352.9 494.9L353.4 493.8L354.3 492.4L354.3 492.4L355.6 491.0L355.8 490.8L357.2 489.7L357.5 489.5L358.6 488.9L360.1 488.2L360.4 488.1L361.5 487.6L363.0 486.8L363.3 486.6L364.4 486.0L365.5 485.2L365.8 485.0L367.3 483.9L367.4 483.8L368.7 482.7L369.3 482.3L370.1 481.6L371.1 480.9L371.6 480.5L373.0 479.5L373.0 479.4L374.5 478.4L375.2 478.0L375.9 477.6L377.3 476.9L378.3 476.6L378.8 476.4L380.2 476.0L381.7 475.6L383.1 475.1L383.2 475.1L384.5 474.6L386.0 474.0L386.9 473.7L387.4 473.5L388.9 472.9L390.3 472.5L391.3 472.2L391.7 472.1L393.2 471.9L394.6 471.6L396.1 471.2L397.5 470.9L397.9 470.8L398.9 470.6L400.4 470.3L401.8 469.9L403.3 469.5L403.6 469.4L404.7 469.0L406.1 468.4L407.2 467.9L407.6 467.8L409.0 467.4L410.5 467.2L411.9 467.1L413.3 467.3L414.8 467.5L416.2 467.9L416.3 467.9L417.6 468.6L418.7 469.4L419.1 469.6L420.1 470.8L420.5 471.3L421.1 472.2L421.9 473.7L422.0 473.7L422.7 475.1L423.3 476.6L423.4 476.9L423.8 478.0L424.3 479.4L424.7 480.9L424.8 481.3L425.1 482.3L425.4 483.8L425.6 485.2L425.7 486.6L425.8 488.1L425.8 489.5L425.7 491.0L425.6 492.4L425.4 493.8L425.1 495.3L424.9 496.7L424.8 497.2L424.7 498.2L424.6 499.6L424.5 501.0L424.5 502.5L424.5 503.9L424.6 505.3L424.6 506.8L424.7 508.2L424.7 509.7L424.6 511.1L424.6 512.5L424.8 513.4L425.0 514.0L425.9 515.4L426.3 515.8L427.6 516.9L427.7 516.9L429.2 517.4L430.6 517.4L432.0 517.2L433.3 516.9L433.5 516.8L434.9 516.6L436.4 516.4L437.8 516.2L439.2 516.1L440.7 515.9L442.1 515.9M422.6 529.8L422.4 528.4L422.0 527.0L421.9 526.9L421.3 525.5L420.5 524.3L420.3 524.1L419.2 522.6L419.1 522.5L418.0 521.2L417.6 520.7L416.9 519.7L416.2 518.7L415.8 518.3L414.8 517.5L413.3 517.1L411.9 517.1L410.5 517.2L409.0 517.2L407.6 517.1L406.1 516.9L405.9 516.9L404.7 516.6L403.3 516.3L401.8 515.8L400.8 515.4L400.4 515.2L398.9 514.5L398.1 514.0L397.5 513.6L396.1 512.8L395.5 512.5L394.6 512.2L393.2 511.9L391.7 511.9L390.3 512.0L388.9 512.3L388.1 512.5L387.4 512.8L386.0 513.2L384.5 513.6L383.1 513.9L382.3 514.0L381.7 514.1L380.2 514.2L378.8 514.3L377.3 514.3L375.9 514.3L374.5 514.3L373.0 514.3L371.6 514.5L370.1 514.9L368.8 515.4L368.7 515.5L367.7 516.9L367.7 518.3L368.1 519.7L368.6 521.2L368.7 522.2L368.8 522.6L368.7 523.5L368.7 524.1L368.4 525.5L368.0 526.9L367.7 528.4L367.5 529.8" fill="none" stroke="#222" stroke-width="0.6" opacity="0.8"/><path d="M409.7 475.1L410.5 474.8L411.9 474.4L413.3 474.2L414.8 474.4L416.1 475.1L416.2 475.2L417.4 476.6L417.6 477.0L418.1 478.0L418.7 479.4L419.1 480.9L419.1 480.9L419.4 482.3L419.7 483.8L420.1 485.2L420.5 486.6L420.5 486.7L420.9 488.1L421.2 489.5L421.3 491.0L421.3 492.4L421.1 493.8L420.8 495.3L420.5 496.3L420.4 496.7L420.0 498.2L419.6 499.6L419.2 501.0L419.1 501.3L418.6 502.5L418.0 503.9L417.6 504.4L416.9 505.3L416.2 506.0L414.9 506.8L414.8 506.9L413.3 507.5L411.9 507.9L410.8 508.2L410.5 508.3L409.0 508.7L407.6 509.0L406.1 509.1L404.7 509.1L403.3 508.9L401.8 508.6L400.8 508.2L400.4 508.1L398.9 507.7L397.5 507.3L396.1 507.0L394.6 506.9L393.2 506.9L391.7 506.9L390.3 507.1L388.9 507.3L387.4 507.5L386.0 507.8L384.5 508.0L383.1 508.2L383.1 508.2L381.7 508.3L380.2 508.4L378.8 508.4L377.3 508.2L377.1 508.2L375.9 508.1L374.5 507.9L373.0 507.8L371.6 507.7L370.1 507.6L368.7 507.4L367.3 507.0L366.9 506.8L365.8 505.8L365.5 505.3L365.2 503.9L365.2 502.5L365.0 501.0L364.7 499.6L364.4 498.3L364.4 498.2L364.2 496.7L364.4 496.2L364.8 495.3L365.8 494.3L366.5 493.8L367.3 493.5L368.7 493.0L370.1 492.5L370.3 492.4L371.6 491.8L372.8 491.0L373.0 490.8L374.3 489.5L374.5 489.3L375.9 488.1L375.9 488.1L377.3 487.2L378.4 486.6L378.8 486.5L380.2 485.9L381.7 485.4L382.4 485.2L383.1 484.9L384.5 484.3L385.6 483.8L386.0 483.6L387.4 482.7L388.0 482.3L388.9 481.8L390.3 481.0L390.6 480.9L391.7 480.3L393.2 479.7L393.8 479.4L394.6 479.1L396.1 478.5L397.0 478.0L397.5 477.8L398.9 477.1L400.4 476.6L400.5 476.6L401.8 476.3L403.3 476.1L404.7 476.1L406.1 476.0L407.6 475.8L409.0 475.3L409.7 475.1" fill="none" stroke="#222" stroke-width="0.6" opacity="0.8"/><path d="M406.1 488.1L406.1 488.1L407.6 487.3L409.0 487.1L410.5 487.2L411.9 487.9L412.1 488.1L413.3 489.1L413.7 489.5L414.6 491.0L414.8 491.6L414.9 492.4L414.8 493.8L414.8 493.9L414.0 495.3L413.3 496.1L412.5 496.7L411.9 497.1L410.5 497.4L409.0 497.3L408.1 496.7L407.6 496.2L407.0 495.3L406.5 493.8L406.1 492.7L406.0 492.4L405.7 491.0L405.6 489.5L406.1 488.1" fill="none" stroke="#222" stroke-width="0.6" opacity="0.8"/></g><path d="M390.3 478.0h0.01M394.3 475.7h0.01M390.3 473.4h0.01M386.3 475.7h0.01M386.3 480.3h0.01M390.3 482.6h0.01M394.3 480.3h0.01M399.4 478.0h0.01M398.4 473.8h0.01M395.5 470.5h0.01M391.4 468.9h0.01M387.1 469.5h0.01M383.5 471.9h0.01M381.4 475.8h0.01M381.4 480.2h0.01M383.5 484.1h0.01M387.1 486.5h0.01M391.4 487.1h0.01M395.5 485.5h0.01M398.4 482.2h0.01M403.8 475.7h0.01M402.4 471.5h0.01M399.6 467.9h0.01M395.8 465.4h0.01M391.4 464.3h0.01M386.9 464.7h0.01M382.8 466.5h0.01M379.5 469.6h0.01M377.3 473.5h0.01M376.6 478.0h0.01M377.3 482.5h0.01M379.5 486.4h0.01M382.8 489.5h0.01M386.9 491.3h0.01M391.4 491.7h0.01M395.8 490.6h0.01M399.6 488.1h0.01M402.4 484.5h0.01M403.8 480.3h0.01M408.6 478.0h0.01M408.0 473.5h0.01M406.3 469.2h0.01M403.6 465.5h0.01M400.1 462.6h0.01M396.0 460.6h0.01M391.4 459.7h0.01M386.9 460.0h0.01M382.5 461.5h0.01M378.6 463.9h0.01M375.5 467.3h0.01M373.3 471.3h0.01M372.2 475.7h0.01M372.2 480.3h0.01M373.3 484.7h0.01M375.5 488.7h0.01M378.6 492.1h0.01M382.5 494.5h0.01M386.9 496.0h0.01M391.4 496.3h0.01M396.0 495.4h0.01M400.1 493.4h0.01M403.6 490.5h0.01M406.3 486.8h0.01M408.0 482.5h0.01M413.0 475.7h0.01M412.1 471.2h0.01M410.3 466.9h0.01M407.6 463.1h0.01M404.3 459.9h0.01M400.4 457.5h0.01M396.0 455.9h0.01M391.5 455.2h0.01M386.8 455.4h0.01M382.4 456.6h0.01M378.2 458.6h0.01M374.6 461.4h0.01M371.5 464.9h0.01M369.3 469.0h0.01M367.9 473.4h0.01M367.4 478.0h0.01M367.9 482.6h0.01M369.3 487.0h0.01M371.5 491.1h0.01M374.6 494.6h0.01M378.2 497.4h0.01M382.4 499.4h0.01M386.8 500.6h0.01M391.5 500.8h0.01M396.0 500.1h0.01M400.4 498.5h0.01M404.3 496.1h0.01M407.6 492.9h0.01M410.3 489.1h0.01M412.1 484.8h0.01M413.0 480.3h0.01M417.7 478.0h0.01M417.4 473.5h0.01M416.2 469.1h0.01M414.4 464.9h0.01M411.9 461.2h0.01M408.9 457.8h0.01M405.3 455.0h0.01M401.3 452.9h0.01M397.0 451.4h0.01M392.6 450.7h0.01M388.0 450.7h0.01M383.6 451.4h0.01M379.3 452.9h0.01M375.3 455.0h0.01M371.7 457.8h0.01M368.7 461.2h0.01M366.2 464.9h0.01M364.4 469.1h0.01M363.2 473.5h0.01M362.9 478.0h0.01M363.2 482.5h0.01M364.4 486.9h0.01M366.2 491.1h0.01M368.7 494.8h0.01M371.7 498.2h0.01M375.3 501.0h0.01M379.3 503.1h0.01M383.6 504.6h0.01M388.0 505.3h0.01M392.6 505.3h0.01M397.0 504.6h0.01M401.3 503.1h0.01M405.3 501.0h0.01M408.9 498.2h0.01M411.9 494.8h0.01M414.4 491.1h0.01M416.2 486.9h0.01M417.4 482.5h0.01M422.2 475.7h0.01M421.6 471.2h0.01M420.3 466.8h0.01M418.4 462.7h0.01M415.9 458.8h0.01M412.9 455.4h0.01M409.5 452.4h0.01M405.6 449.9h0.01M401.5 448.0h0.01M397.1 446.7h0.01M392.6 446.1h0.01M388.0 446.1h0.01M383.5 446.7h0.01M379.1 448.0h0.01M375.0 449.9h0.01M371.1 452.4h0.01M367.7 455.4h0.01M364.7 458.8h0.01M362.2 462.7h0.01M360.3 466.8h0.01M359.0 471.2h0.01M358.4 475.7h0.01M358.4 480.3h0.01M359.0 484.8h0.01M360.3 489.2h0.01M362.2 493.3h0.01M364.7 497.2h0.01M367.7 500.6h0.01M371.1 503.6h0.01M375.0 506.1h0.01M379.1 508.0h0.01M383.5 509.3h0.01M388.0 509.9h0.01M392.6 509.9h0.01M397.1 509.3h0.01M401.5 508.0h0.01M405.6 506.1h0.01M409.5 503.6h0.01M412.9 500.6h0.01M415.9 497.2h0.01M418.4 493.3h0.01M420.3 489.2h0.01M421.6 484.8h0.01M422.2 480.3h0.01M426.9 478.0h0.01M426.6 473.4h0.01M425.7 468.9h0.01M424.3 464.5h0.01M422.4 460.4h0.01M419.9 456.5h0.01M417.0 453.0h0.01M413.6 449.8h0.01M409.9 447.1h0.01M405.9 444.9h0.01M401.6 443.2h0.01M397.2 442.1h0.01M392.6 441.5h0.01M388.0 441.5h0.01M383.4 442.1h0.01M379.0 443.2h0.01M374.7 444.9h0.01M370.7 447.1h0.01M367.0 449.8h0.01M363.6 453.0h0.01M360.7 456.5h0.01M358.2 460.4h0.01M356.3 464.5h0.01M354.9 468.9h0.01M354.0 473.4h0.01M353.7 478.0h0.01M354.0 482.6h0.01M354.9 487.1h0.01M356.3 491.5h0.01M358.2 495.6h0.01M360.7 499.5h0.01M363.6 503.0h0.01M367.0 506.2h0.01M370.7 508.9h0.01M374.7 511.1h0.01M379.0 512.8h0.01M383.4 513.9h0.01M388.0 514.5h0.01M392.6 514.5h0.01M397.2 513.9h0.01M401.6 512.8h0.01M405.9 511.1h0.01M409.9 508.9h0.01M413.6 506.2h0.01M417.0 503.0h0.01M419.9 499.5h0.01M422.4 495.6h0.01M424.3 491.5h0.01M425.7 487.1h0.01M426.6 482.6h0.01M431.4 475.7h0.01M430.9 471.2h0.01M429.9 466.8h0.01M428.4 462.5h0.01M426.5 458.4h0.01M424.1 454.6h0.01M421.3 451.0h0.01M418.2 447.7h0.01M414.7 444.8h0.01M410.9 442.4h0.01M406.8 440.3h0.01M402.6 438.7h0.01M398.2 437.6h0.01M393.7 437.0h0.01M389.2 436.9h0.01M384.6 437.2h0.01M380.2 438.1h0.01M375.9 439.5h0.01M371.7 441.3h0.01M367.8 443.6h0.01M364.1 446.2h0.01M360.8 449.3h0.01M357.8 452.7h0.01M355.2 456.5h0.01M353.1 460.4h0.01M351.4 464.6h0.01M350.1 469.0h0.01M349.4 473.5h0.01M349.2 478.0h0.01M349.4 482.5h0.01M350.1 487.0h0.01M351.4 491.4h0.01M353.1 495.6h0.01M355.2 499.5h0.01M357.8 503.3h0.01M360.8 506.7h0.01M364.1 509.8h0.01M367.8 512.4h0.01M371.7 514.7h0.01M375.9 516.5h0.01M380.2 517.9h0.01M384.6 518.8h0.01M389.2 519.1h0.01M393.7 519.0h0.01M398.2 518.4h0.01M402.6 517.3h0.01M406.8 515.7h0.01M410.9 513.6h0.01M414.7 511.2h0.01M418.2 508.3h0.01M421.3 505.0h0.01M424.1 501.4h0.01M426.5 497.6h0.01M428.4 493.5h0.01M429.9 489.2h0.01M430.9 484.8h0.01M431.4 480.3h0.01" stroke="#1a1a1a" stroke-width="1.45" stroke-linecap="round" opacity="0.8"/><circle cx="390.3" cy="478" r="50.8" fill="none" stroke="#111" stroke-width="1.7"/><path d="M380.8 428 L390.3 418.7 L399.8 428" fill="none" stroke="#111" stroke-width="1.3" stroke-linejoin="round"/><path d="M339.8 469.5 C336 468 333.7 469.5 333.7 474 L333.7 486 C333.7 491 336 492 339.8 490.5" fill="#fff" stroke="#111" stroke-width="1.2"/><path d="M440.8 469.5 C444.6 468 446.9 469.5 446.9 474 L446.9 486 C446.9 491 444.6 492 440.8 490.5" fill="#fff" stroke="#111" stroke-width="1.2"/><clipPath id="hc3"><circle cx="195.8" cy="649.8" r="50.8"/></clipPath><g clip-path="url(#hc3)"><rect x="145" y="599" width="101.6" height="101.6" fill="#0c3d73"/><path d="M175.3 598.0L175.6 598.0L177.1 598.0L178.5 598.0L180.0 598.0L181.4 598.0L182.8 598.0L184.3 598.0L185.7 598.0L187.2 598.0L188.6 598.0L190.0 598.0L191.5 598.0L192.9 598.0L194.4 598.0L195.8 598.0L197.2 598.0L198.7 598.0L198.8 598.0L199.0 599.4L199.4 600.9L199.7 602.3L199.8 603.7L199.1 605.2L198.7 605.7L197.6 606.6L197.2 607.6L197.1 608.1L197.2 608.2L198.7 609.3L200.1 609.4L201.6 608.8L203.0 608.2L203.4 608.1L204.4 607.4L205.9 606.9L207.3 606.7L208.8 606.7L210.2 607.0L211.3 608.1L211.6 608.4L212.2 609.5L213.1 610.6L213.3 610.9L214.5 612.1L214.8 612.4L216.0 613.2L216.7 613.8L217.4 614.2L218.8 615.1L219.1 615.3L220.3 615.8L221.7 616.4L223.1 616.6L224.6 616.6L226.0 616.3L227.5 615.7L228.7 615.3L228.9 615.1L230.3 614.5L231.8 614.6L233.2 615.3L233.2 615.3L234.7 616.2L235.4 616.7L236.1 617.2L237.1 618.1L237.5 618.6L238.4 619.6L239.0 620.6L239.2 621.0L239.9 622.5L240.4 623.5L240.6 623.9L241.4 625.3L241.9 626.1L242.3 626.8L243.3 628.0L243.6 628.2L244.7 629.3L245.3 629.6L246.2 630.3L247.6 630.8L247.6 631.1L247.6 632.5L247.6 634.0L247.6 635.4L247.6 636.6L247.3 636.8L246.2 637.8L245.9 638.3L245.2 639.7L244.7 641.0L244.7 641.2L244.5 642.6L244.5 644.0L244.6 645.5L244.6 646.9L244.7 648.4L244.7 649.8L244.7 651.2L244.7 652.7L244.7 653.8L244.8 654.1L244.8 655.6L244.7 656.1L244.7 657.0L244.6 658.4L244.4 659.9L244.3 661.3L244.3 662.8L244.3 664.2L244.3 665.6L244.3 667.1L244.4 668.5L244.4 670.0L244.5 671.4L244.5 672.8L244.5 674.3L244.5 675.7L244.3 677.1L244.1 678.6L243.9 680.0L243.8 681.5L243.6 682.9L243.6 684.3L243.5 685.8L243.4 687.2L243.3 687.5L243.0 688.7L241.9 690.1L241.8 690.1L240.4 690.8L239.0 691.3L238.3 691.5L237.5 691.8L236.1 692.5L235.3 693.0L234.7 693.4L233.3 694.4L233.2 694.5L231.8 695.6L231.4 695.9L230.3 696.5L228.9 697.2L228.5 697.3L227.5 697.7L226.0 698.2L224.6 698.7L224.4 698.7L223.1 699.4L221.7 700.0L221.0 700.2L220.3 700.7L218.8 701.2L217.8 701.6L217.4 701.6L216.0 701.6L214.5 701.6L213.1 701.6L211.6 701.6L210.2 701.6L208.8 701.6L207.3 701.6L205.9 701.6L205.3 701.6L204.4 700.9L203.0 700.2L202.7 700.2L201.6 700.1L200.1 700.0L198.7 700.0L197.4 700.2L197.2 700.2L195.8 700.9L194.4 701.5L193.9 701.6L192.9 701.6L191.5 701.6L190.1 701.6L190.0 701.6L188.6 700.9L187.7 700.2L187.2 700.1L185.7 699.7L184.3 699.2L183.0 698.7L182.8 698.7L181.4 698.3L180.0 698.0L178.5 697.7L177.1 697.4L176.1 697.3L175.6 697.3L174.2 697.2L172.8 697.2L171.5 697.3L171.3 697.3L169.9 697.5L168.5 697.8L167.0 698.1L165.6 698.4L164.1 698.6L162.7 698.6L161.3 698.4L159.8 697.9L158.7 697.3L158.4 697.1L156.9 696.2L156.4 695.9L155.5 695.3L154.1 694.4L154.0 694.4L152.6 693.7L151.2 693.1L150.9 693.0L149.7 692.4L148.3 691.7L148.1 691.5L146.9 690.3L146.6 690.1L145.9 688.7L146.0 687.2L146.5 685.8L146.9 685.0L147.1 684.3L147.6 682.9L148.0 681.5L148.2 680.0L148.2 678.6L148.0 677.1L147.8 675.7L147.5 674.3L147.2 672.8L146.9 671.7L146.7 671.4L146.0 670.0L145.4 668.7L145.2 668.5L144.0 667.4L144.0 667.1L144.0 665.6L144.0 664.2L144.0 662.8L144.0 661.3L144.0 660.2L144.2 659.9L145.4 658.5L145.5 658.4L145.9 657.0L146.3 655.6L146.7 654.1L146.9 653.1L146.9 652.7L147.1 651.2L147.2 649.8L147.3 648.4L147.3 646.9L147.2 645.5L147.0 644.0L146.9 643.6L146.4 642.6L145.7 641.2L145.4 640.6L144.2 639.7L144.0 639.5L144.0 638.3L144.0 636.8L144.0 635.9L144.7 635.4L145.4 635.0L146.4 634.0L146.9 633.3L147.4 632.5L147.9 631.1L146.9 630.0L145.4 629.8L144.0 629.9L144.0 629.6L144.0 628.2L144.0 626.8L144.0 625.3L144.0 623.9L144.0 622.5L144.0 621.0L144.0 619.6L144.0 618.1L144.0 616.7L144.0 615.3L144.0 613.8L144.0 612.4L144.0 610.9L144.0 609.5L144.0 609.4L144.2 609.5L145.4 610.4L145.9 610.9L146.6 612.4L146.9 613.3L147.0 613.8L147.5 615.3L148.2 616.7L148.3 616.8L149.2 618.1L149.7 618.8L150.4 619.6L151.2 620.3L152.0 621.0L152.6 621.5L154.1 622.2L155.5 622.5L155.5 622.5L155.5 622.5L156.9 622.3L158.4 621.8L159.3 621.0L159.8 620.6L160.5 619.6L161.3 618.3L161.3 618.1L161.9 616.7L162.3 615.3L162.7 614.0L162.7 613.8L163.1 612.4L163.6 610.9L164.1 610.0L164.4 609.5L165.4 608.1L165.6 607.9L166.8 606.6L167.0 606.4L168.4 605.2L168.5 605.1L169.9 604.2L171.1 603.7L171.3 603.6L172.8 603.2L174.2 602.6L174.6 602.3L175.2 600.9L175.3 599.4ZM212.5 598.0L213.1 598.0L214.5 598.0L216.0 598.0L217.4 598.0L218.8 598.0L220.3 598.0L221.7 598.0L223.1 598.0L224.6 598.0L226.0 598.0L226.0 598.0L226.6 599.4L227.5 600.7L227.6 600.9L228.9 601.9L229.8 602.3L230.3 602.6L231.8 603.1L233.2 603.7L233.3 603.7L234.3 605.2L234.0 606.6L233.2 607.8L233.0 608.1L231.8 609.0L230.3 609.3L228.9 609.1L227.5 608.7L226.0 608.5L224.6 608.2L224.0 608.1L223.1 607.9L221.7 607.5L220.3 607.1L218.8 606.6L218.8 606.6L217.4 606.2L216.0 605.8L214.5 605.4L214.1 605.2L213.1 604.1L212.9 603.7L212.7 602.3L212.6 600.9L212.6 599.4ZM144.0 701.6L144.0 701.1L144.5 701.6Z" fill="#1a5899" fill-rule="evenodd"/><path d="M168.9 610.9L169.9 610.3L171.3 609.9L172.8 609.9L174.2 610.0L175.6 610.4L177.1 610.9L177.2 610.9L178.5 611.5L180.0 612.3L180.1 612.4L181.4 613.0L182.8 613.3L184.3 613.5L185.7 613.4L187.2 613.2L188.6 613.0L190.0 612.8L191.5 612.8L192.9 613.0L194.4 613.2L195.8 613.5L197.2 613.7L198.7 613.7L200.1 613.6L201.6 613.4L203.0 613.2L204.4 613.0L205.9 613.0L207.3 613.3L208.6 613.8L208.8 613.9L210.2 614.4L211.6 614.9L212.4 615.3L213.1 615.4L214.5 615.9L216.0 616.6L216.2 616.7L217.4 617.3L218.8 618.1L218.9 618.1L220.3 618.8L221.7 619.4L222.1 619.6L223.1 619.9L224.6 620.1L226.0 620.2L227.5 620.2L228.9 620.2L230.3 620.2L231.8 620.5L233.2 621.0L233.3 621.0L234.7 621.7L235.7 622.5L236.1 622.8L237.1 623.9L237.5 624.4L238.2 625.3L239.0 626.6L239.1 626.8L240.0 628.2L240.4 628.8L241.1 629.6L241.9 630.7L242.2 631.1L243.2 632.5L243.3 632.7L243.9 634.0L244.0 635.4L243.8 636.8L243.4 638.3L243.3 638.6L243.0 639.7L242.8 641.2L242.7 642.6L242.7 644.0L242.8 645.5L242.9 646.9L242.9 648.4L242.8 649.8L242.8 651.2L242.8 652.7L242.7 654.1L242.7 655.6L242.6 657.0L242.5 658.4L242.4 659.9L242.3 661.3L242.3 662.8L242.3 664.2L242.4 665.6L242.5 667.1L242.5 668.5L242.6 670.0L242.7 671.4L242.7 672.8L242.6 674.3L242.5 675.7L242.3 677.1L242.0 678.6L241.9 679.0L241.6 680.0L241.3 681.5L240.8 682.9L240.4 684.0L240.3 684.3L239.4 685.8L239.0 686.3L238.0 687.2L237.5 687.6L236.1 688.6L236.1 688.7L234.7 689.7L234.1 690.1L233.2 690.8L232.2 691.5L231.8 691.9L230.4 693.0L230.3 693.0L228.9 693.9L227.7 694.4L227.5 694.5L226.0 695.0L224.6 695.4L223.1 695.8L222.8 695.9L221.7 696.2L220.3 696.6L218.8 696.9L217.4 697.2L216.8 697.3L216.0 697.5L214.5 697.8L213.1 698.1L211.6 698.2L210.2 698.3L208.8 698.2L207.3 698.0L205.9 697.9L204.4 697.8L203.0 697.8L201.6 697.7L200.1 697.7L198.7 697.6L197.2 697.7L195.8 697.7L194.4 697.8L192.9 697.7L191.5 697.6L190.0 697.4L189.5 697.3L188.6 697.2L187.2 697.0L185.7 696.8L184.3 696.7L182.8 696.6L181.4 696.4L180.0 696.2L178.5 696.0L177.1 695.9L177.0 695.9L175.6 695.7L174.2 695.6L172.8 695.6L171.3 695.6L169.9 695.7L168.5 695.7L167.0 695.7L165.6 695.7L164.1 695.5L162.7 695.2L161.3 694.6L161.0 694.4L159.8 693.7L158.9 693.0L158.4 692.5L157.4 691.5L156.9 690.9L156.3 690.1L155.5 688.8L155.4 688.7L154.6 687.2L154.1 686.2L153.8 685.8L153.1 684.3L152.6 683.4L152.4 682.9L151.7 681.5L151.2 680.0L151.2 680.0L150.7 678.6L150.2 677.1L149.8 675.7L149.7 675.5L149.4 674.3L149.1 672.8L148.7 671.4L148.4 670.0L148.3 669.3L148.1 668.5L147.9 667.1L147.7 665.6L147.8 664.2L147.9 662.8L148.1 661.3L148.3 659.9L148.3 659.6L148.4 658.4L148.6 657.0L148.7 655.6L148.8 654.1L148.9 652.7L148.9 651.2L149.0 649.8L149.1 648.4L149.1 646.9L149.1 645.5L148.9 644.0L148.7 642.6L148.5 641.2L148.3 639.7L148.4 638.3L148.9 636.8L149.7 635.4L149.8 635.4L150.9 634.0L151.2 633.6L152.0 632.5L152.6 631.7L153.1 631.1L154.1 629.7L154.1 629.6L155.1 628.2L155.5 627.8L156.7 626.8L156.9 626.6L158.4 625.7L158.9 625.3L159.8 624.7L160.8 623.9L161.3 623.5L162.2 622.5L162.7 621.8L163.2 621.0L163.9 619.6L164.1 618.9L164.4 618.1L165.0 616.7L165.6 615.3L165.6 615.3L166.4 613.8L167.0 612.8L167.4 612.4L168.5 611.2Z" fill="#2a71b2" fill-rule="evenodd"/><path d="M169.5 615.3L169.9 614.9L171.3 614.2L172.8 614.0L174.2 614.2L175.6 614.7L176.8 615.3L177.1 615.4L178.5 616.1L180.0 616.7L180.3 616.7L181.4 616.8L182.8 616.7L183.0 616.7L184.3 616.5L185.7 616.3L187.2 616.0L188.6 615.9L190.0 615.8L191.5 615.8L192.9 615.8L194.4 616.0L195.8 616.1L197.2 616.2L198.7 616.2L200.1 616.1L201.6 616.0L203.0 615.9L204.4 616.0L205.9 616.2L207.3 616.6L207.6 616.7L208.8 617.1L210.2 617.5L211.6 617.8L213.1 618.1L213.3 618.1L214.5 618.5L216.0 619.0L217.0 619.6L217.4 619.8L218.8 620.6L219.6 621.0L220.3 621.4L221.7 622.1L222.8 622.5L223.1 622.6L224.6 622.9L226.0 623.0L227.5 623.1L228.9 623.2L230.3 623.3L231.8 623.6L232.6 623.9L233.2 624.1L234.7 624.9L235.1 625.3L236.1 626.2L236.5 626.8L237.5 628.1L237.6 628.2L238.5 629.6L239.0 630.3L239.5 631.1L240.4 632.5L240.4 632.5L241.2 634.0L241.5 635.4L241.6 636.8L241.4 638.3L241.2 639.7L241.1 641.2L241.0 642.6L241.1 644.0L241.2 645.5L241.3 646.9L241.3 648.4L241.3 649.8L241.2 651.2L241.2 652.7L241.1 654.1L241.1 655.6L241.0 657.0L240.9 658.4L240.8 659.9L240.7 661.3L240.7 662.8L240.7 664.2L240.7 665.6L240.8 667.1L240.9 668.5L241.0 670.0L241.0 671.4L241.0 672.8L240.9 674.3L240.7 675.7L240.5 677.1L240.4 677.3L240.1 678.6L239.7 680.0L239.2 681.5L239.0 681.9L238.5 682.9L237.5 684.3L237.5 684.3L236.2 685.8L236.1 685.8L234.7 687.0L234.4 687.2L233.2 688.1L232.5 688.7L231.8 689.2L230.7 690.1L230.3 690.4L228.9 691.4L228.6 691.5L227.5 692.2L226.0 692.7L225.1 693.0L224.6 693.1L223.1 693.5L221.7 693.9L220.3 694.2L219.4 694.4L218.8 694.6L217.4 694.9L216.0 695.1L214.5 695.4L213.1 695.6L211.6 695.8L210.3 695.9L210.2 695.9L208.8 696.0L207.3 696.0L205.9 696.1L204.4 696.1L203.0 696.1L201.6 696.1L200.1 696.0L198.7 696.0L197.2 696.0L195.8 696.0L194.4 696.0L192.9 695.9L192.2 695.9L191.5 695.8L190.0 695.6L188.6 695.4L187.2 695.2L185.7 695.1L184.3 695.0L182.8 694.9L181.4 694.8L180.0 694.7L178.5 694.6L177.1 694.4L177.0 694.4L175.6 694.3L174.2 694.2L172.8 694.2L171.3 694.1L169.9 694.1L168.5 694.0L167.0 693.9L165.6 693.6L164.1 693.2L163.6 693.0L162.7 692.5L161.3 691.5L161.3 691.5L159.9 690.1L159.8 690.0L158.9 688.7L158.4 687.8L158.1 687.2L157.3 685.8L156.9 685.2L156.4 684.3L155.5 682.9L155.5 682.8L154.6 681.5L154.1 680.7L153.6 680.0L152.8 678.6L152.6 678.2L152.1 677.1L151.5 675.7L151.2 674.7L151.0 674.3L150.7 672.8L150.4 671.4L150.2 670.0L150.0 668.5L149.9 667.1L149.9 665.6L149.9 664.2L150.0 662.8L150.1 661.3L150.2 659.9L150.3 658.4L150.4 657.0L150.4 655.6L150.5 654.1L150.5 652.7L150.5 651.2L150.6 649.8L150.6 648.4L150.7 646.9L150.7 645.5L150.6 644.0L150.5 642.6L150.4 641.2L150.4 639.7L150.7 638.3L151.2 637.3L151.4 636.8L152.4 635.4L152.6 635.1L153.5 634.0L154.1 633.3L154.7 632.5L155.5 631.6L156.0 631.1L156.9 630.0L157.3 629.6L158.4 628.6L158.9 628.2L159.8 627.4L160.7 626.8L161.3 626.3L162.5 625.3L162.7 625.2L164.1 623.9L164.1 623.8L165.3 622.5L165.6 622.1L166.3 621.0L167.0 619.6L167.0 619.5L167.6 618.1L168.3 616.7L168.5 616.5Z" fill="#3a87bd" fill-rule="evenodd"/><path d="M187.1 618.1L187.2 618.1L188.6 617.9L190.0 617.9L191.5 617.9L192.9 618.0L194.1 618.1L194.4 618.2L195.8 618.3L197.2 618.4L198.7 618.5L200.1 618.5L201.6 618.4L203.0 618.5L204.4 618.7L205.9 619.0L207.3 619.5L207.6 619.6L208.8 619.9L210.2 620.2L211.6 620.4L213.1 620.7L214.5 621.0L214.6 621.0L216.0 621.6L217.4 622.4L217.6 622.5L218.8 623.2L220.0 623.9L220.3 624.0L221.7 624.7L223.1 625.2L224.1 625.3L224.6 625.4L226.0 625.5L227.5 625.6L228.9 625.6L230.3 625.7L231.8 626.1L233.2 626.7L233.3 626.8L234.7 627.8L235.1 628.2L236.1 629.5L236.2 629.6L237.1 631.1L237.5 631.8L238.0 632.5L238.7 634.0L239.0 634.8L239.2 635.4L239.4 636.8L239.4 638.3L239.3 639.7L239.3 641.2L239.4 642.6L239.6 644.0L239.7 645.5L239.8 646.9L239.8 648.4L239.8 649.8L239.7 651.2L239.7 652.7L239.7 654.1L239.6 655.6L239.5 657.0L239.4 658.4L239.4 659.9L239.3 661.3L239.2 662.8L239.2 664.2L239.2 665.6L239.2 667.1L239.3 668.5L239.3 670.0L239.4 671.4L239.4 672.8L239.3 674.3L239.1 675.7L239.0 676.1L238.7 677.1L238.3 678.6L237.8 680.0L237.5 680.5L237.1 681.5L236.2 682.9L236.1 683.0L234.9 684.3L234.7 684.6L233.2 685.8L233.2 685.8L231.8 686.9L231.4 687.2L230.3 688.1L229.5 688.7L228.9 689.1L227.5 690.0L227.3 690.1L226.0 690.7L224.6 691.2L223.4 691.5L223.1 691.6L221.7 692.0L220.3 692.3L218.8 692.6L217.4 692.8L216.4 693.0L216.0 693.1L214.5 693.3L213.1 693.6L211.6 693.8L210.2 694.0L208.8 694.2L207.3 694.4L207.1 694.4L205.9 694.5L204.4 694.6L203.0 694.7L201.6 694.7L200.1 694.7L198.7 694.6L197.2 694.6L195.8 694.6L194.4 694.6L192.9 694.5L191.7 694.4L191.5 694.4L190.0 694.2L188.6 694.0L187.2 693.8L185.7 693.7L184.3 693.5L182.8 693.4L181.4 693.3L180.0 693.3L178.5 693.2L177.1 693.0L176.1 693.0L175.6 692.9L174.2 692.9L172.8 692.8L171.3 692.7L169.9 692.6L168.5 692.5L167.0 692.2L165.6 691.7L165.2 691.5L164.1 691.0L162.9 690.1L162.7 689.9L161.6 688.7L161.3 688.2L160.6 687.2L159.8 685.9L159.8 685.8L158.9 684.3L158.4 683.6L157.9 682.9L156.9 681.6L156.9 681.5L155.8 680.0L155.5 679.7L154.7 678.6L154.1 677.5L153.8 677.1L153.1 675.7L152.6 674.4L152.6 674.3L152.2 672.8L151.9 671.4L151.7 670.0L151.6 668.5L151.6 667.1L151.6 665.6L151.7 664.2L151.7 662.8L151.8 661.3L151.9 659.9L151.9 658.4L151.9 657.0L151.9 655.6L152.0 654.1L152.0 652.7L152.0 651.2L152.1 649.8L152.2 648.4L152.2 646.9L152.2 645.5L152.2 644.0L152.1 642.6L152.1 641.2L152.3 639.7L152.6 638.6L152.7 638.3L153.5 636.8L154.1 636.0L154.5 635.4L155.5 634.2L155.7 634.0L156.9 632.6L157.0 632.5L158.3 631.1L158.4 631.0L159.8 629.6L159.8 629.6L161.3 628.4L161.5 628.2L162.7 627.3L163.4 626.8L164.1 626.2L165.2 625.3L165.6 625.0L167.0 623.9L167.0 623.9L168.5 622.6L168.7 622.5L169.9 621.2L170.1 621.0L171.3 619.7L171.6 619.6L172.8 618.9L174.2 618.8L175.6 619.1L177.1 619.4L178.2 619.6L178.5 619.6L180.0 619.6L180.4 619.6L181.4 619.5L182.8 619.1L184.3 618.7L185.7 618.4Z" fill="#569fc9" fill-rule="evenodd"/><path d="M183.5 621.0L184.3 620.8L185.7 620.3L187.2 620.0L188.6 619.8L190.0 619.8L191.5 619.9L192.9 620.1L194.4 620.3L195.8 620.5L197.2 620.7L198.7 620.8L200.1 620.8L201.6 620.9L202.1 621.0L203.0 621.1L204.4 621.5L205.9 622.0L207.2 622.5L207.3 622.5L208.8 622.9L210.2 623.2L211.6 623.4L213.1 623.6L214.3 623.9L214.5 624.0L216.0 624.6L217.4 625.3L217.4 625.3L218.8 626.1L220.3 626.8L220.3 626.8L221.7 627.3L223.1 627.6L224.6 627.8L226.0 627.9L227.5 627.9L228.9 628.0L230.3 628.1L230.6 628.2L231.8 628.6L233.2 629.5L233.4 629.6L234.6 631.1L234.7 631.1L235.5 632.5L236.1 633.7L236.2 634.0L236.7 635.4L237.0 636.8L237.2 638.3L237.4 639.7L237.5 641.2L237.5 641.2L237.8 642.6L238.0 644.0L238.2 645.5L238.3 646.9L238.4 648.4L238.4 649.8L238.3 651.2L238.3 652.7L238.3 654.1L238.3 655.6L238.2 657.0L238.1 658.4L238.0 659.9L238.0 661.3L237.9 662.8L237.8 664.2L237.7 665.6L237.7 667.1L237.7 668.5L237.7 670.0L237.8 671.4L237.7 672.8L237.6 674.3L237.5 674.7L237.3 675.7L236.9 677.1L236.4 678.6L236.1 679.3L235.7 680.0L234.9 681.5L234.7 681.8L233.7 682.9L233.2 683.4L232.2 684.3L231.8 684.7L230.4 685.8L230.3 685.9L228.9 687.0L228.6 687.2L227.5 688.0L226.4 688.7L226.0 688.8L224.6 689.5L223.1 689.9L222.4 690.1L221.7 690.3L220.3 690.5L218.8 690.8L217.4 691.0L216.0 691.2L214.5 691.4L213.9 691.5L213.1 691.7L211.6 692.0L210.2 692.4L208.8 692.7L207.3 692.9L206.9 693.0L205.9 693.1L204.4 693.3L203.0 693.4L201.6 693.4L200.1 693.4L198.7 693.4L197.2 693.4L195.8 693.4L194.4 693.4L192.9 693.3L191.5 693.2L190.0 693.0L189.8 693.0L188.6 692.8L187.2 692.6L185.7 692.4L184.3 692.3L182.8 692.1L181.4 692.0L180.0 691.9L178.5 691.8L177.1 691.7L175.6 691.6L174.2 691.6L173.8 691.5L172.8 691.5L171.3 691.4L169.9 691.2L168.5 690.9L167.0 690.5L166.2 690.1L165.6 689.8L164.2 688.7L164.1 688.6L162.9 687.2L162.7 686.9L162.0 685.8L161.3 684.6L161.1 684.3L160.1 682.9L159.8 682.5L159.0 681.5L158.4 680.7L157.8 680.0L156.9 679.0L156.6 678.6L155.6 677.1L155.5 677.1L154.7 675.7L154.1 674.3L154.1 674.2L153.6 672.8L153.4 671.4L153.2 670.0L153.2 668.5L153.2 667.1L153.2 665.6L153.2 664.2L153.3 662.8L153.3 661.3L153.3 659.9L153.4 658.4L153.4 657.0L153.4 655.6L153.4 654.1L153.4 652.7L153.5 651.2L153.6 649.8L153.7 648.4L153.7 646.9L153.8 645.5L153.7 644.0L153.7 642.6L153.8 641.2L154.0 639.7L154.1 639.7L154.6 638.3L155.4 636.8L155.5 636.7L156.5 635.4L156.9 634.9L157.7 634.0L158.4 633.2L159.0 632.5L159.8 631.7L160.4 631.1L161.3 630.3L162.0 629.6L162.7 629.1L163.8 628.2L164.1 628.0L165.6 627.0L165.9 626.8L167.0 626.0L168.2 625.3L168.5 625.2L169.9 624.3L170.9 623.9L171.3 623.6L172.8 623.0L174.2 622.5L174.6 622.5L175.6 622.2L177.1 622.1L178.5 622.0L180.0 621.8L181.4 621.6L182.8 621.2Z" fill="#7eb8d7" fill-rule="evenodd"/><path d="M185.3 622.5L185.7 622.3L187.2 622.0L188.6 621.8L190.0 621.8L191.5 622.0L192.9 622.2L194.0 622.5L194.4 622.5L195.8 622.8L197.2 623.1L198.7 623.3L200.1 623.5L201.6 623.8L202.0 623.9L203.0 624.2L204.4 624.8L205.9 625.3L205.9 625.3L207.3 625.8L208.8 626.1L210.2 626.3L211.6 626.5L212.9 626.8L213.1 626.8L214.5 627.2L216.0 627.7L217.1 628.2L217.4 628.3L218.8 628.8L220.3 629.3L221.3 629.6L221.7 629.8L223.1 630.1L224.6 630.3L226.0 630.4L227.5 630.5L228.9 630.7L230.3 631.1L230.4 631.1L231.8 632.0L232.3 632.5L233.2 633.7L233.4 634.0L234.1 635.4L234.6 636.8L234.7 637.1L235.0 638.3L235.3 639.7L235.7 641.2L236.0 642.6L236.1 642.9L236.4 644.0L236.6 645.5L236.8 646.9L236.9 648.4L237.0 649.8L237.0 651.2L237.0 652.7L237.0 654.1L237.0 655.6L236.9 657.0L236.9 658.4L236.8 659.9L236.7 661.3L236.6 662.8L236.5 664.2L236.3 665.6L236.3 667.1L236.2 668.5L236.2 670.0L236.2 671.4L236.1 672.8L236.1 672.9L235.9 674.3L235.5 675.7L235.0 677.1L234.7 677.9L234.3 678.6L233.4 680.0L233.2 680.3L232.3 681.5L231.8 682.0L230.9 682.9L230.3 683.4L229.3 684.3L228.9 684.7L227.6 685.8L227.5 685.9L226.0 686.9L225.5 687.2L224.6 687.7L223.1 688.3L221.7 688.7L221.7 688.7L220.3 688.9L218.8 689.1L217.4 689.3L216.0 689.5L214.5 689.7L213.1 690.0L212.6 690.1L211.6 690.4L210.2 690.7L208.8 691.1L207.3 691.5L207.1 691.5L205.9 691.8L204.4 692.0L203.0 692.1L201.6 692.2L200.1 692.2L198.7 692.2L197.2 692.2L195.8 692.2L194.4 692.2L192.9 692.2L191.5 692.1L190.0 691.9L188.6 691.7L187.6 691.5L187.2 691.5L185.7 691.3L184.3 691.1L182.8 690.9L181.4 690.8L180.0 690.6L178.5 690.5L177.1 690.4L175.6 690.4L174.2 690.3L172.8 690.2L171.6 690.1L171.3 690.1L169.9 689.8L168.5 689.4L167.0 688.7L166.9 688.7L165.6 687.6L165.2 687.2L164.1 685.9L164.1 685.8L163.1 684.3L162.7 683.7L162.2 682.9L161.3 681.7L161.1 681.5L159.8 680.0L159.8 680.0L158.5 678.6L158.4 678.5L157.3 677.1L156.9 676.6L156.3 675.7L155.6 674.3L155.5 673.9L155.1 672.8L154.9 671.4L154.8 670.0L154.7 668.5L154.8 667.1L154.8 665.6L154.8 664.2L154.8 662.8L154.8 661.3L154.8 659.9L154.8 658.4L154.7 657.0L154.7 655.6L154.8 654.1L154.8 652.7L155.0 651.2L155.1 649.8L155.3 648.4L155.4 646.9L155.4 645.5L155.4 644.0L155.4 642.6L155.5 641.2L155.5 641.0L155.8 639.7L156.4 638.3L156.9 637.4L157.3 636.8L158.4 635.5L158.4 635.4L159.6 634.0L159.8 633.8L160.9 632.5L161.3 632.2L162.4 631.1L162.7 630.9L164.1 629.7L164.2 629.6L165.6 628.7L166.3 628.2L167.0 627.8L168.5 627.0L169.0 626.8L169.9 626.4L171.3 625.8L172.8 625.3L172.8 625.3L174.2 624.9L175.6 624.5L177.1 624.2L178.5 624.0L178.9 623.9L180.0 623.7L181.4 623.5L182.8 623.1L184.3 622.7Z" fill="#a2cde3" fill-rule="evenodd"/><path d="M181.3 625.3L181.4 625.3L182.8 625.1L184.3 624.8L185.7 624.5L187.2 624.3L188.6 624.1L190.0 624.2L191.5 624.5L192.9 624.9L194.4 625.3L194.5 625.3L195.8 625.7L197.2 626.0L198.7 626.3L200.1 626.7L200.3 626.8L201.6 627.3L203.0 628.0L203.5 628.2L204.4 628.6L205.9 629.1L207.3 629.4L208.8 629.5L210.2 629.6L211.4 629.6L211.6 629.7L213.1 629.9L214.5 630.2L216.0 630.5L217.4 630.9L218.0 631.1L218.8 631.3L220.3 631.7L221.7 632.1L223.1 632.5L223.4 632.5L224.6 632.8L226.0 633.0L227.5 633.4L228.9 633.9L229.1 634.0L230.3 634.8L230.9 635.4L231.8 636.6L231.9 636.8L232.6 638.3L233.2 639.7L233.2 639.7L233.7 641.2L234.2 642.6L234.6 644.0L234.7 644.1L235.0 645.5L235.3 646.9L235.4 648.4L235.5 649.8L235.6 651.2L235.6 652.7L235.7 654.1L235.7 655.6L235.7 657.0L235.7 658.4L235.6 659.9L235.5 661.3L235.4 662.8L235.2 664.2L235.0 665.6L234.9 667.1L234.8 668.5L234.7 670.0L234.7 670.8L234.6 671.4L234.4 672.8L234.0 674.3L233.5 675.7L233.2 676.3L232.7 677.1L231.8 678.5L231.7 678.6L230.5 680.0L230.3 680.2L229.3 681.5L228.9 681.9L228.0 682.9L227.5 683.4L226.5 684.3L226.0 684.8L224.6 685.8L224.6 685.8L223.1 686.5L221.7 687.1L221.0 687.2L220.3 687.4L218.8 687.6L217.4 687.7L216.0 687.9L214.5 688.1L213.1 688.4L212.0 688.7L211.6 688.8L210.2 689.2L208.8 689.6L207.3 690.1L207.2 690.1L205.9 690.4L204.4 690.7L203.0 690.9L201.6 691.0L200.1 691.1L198.7 691.1L197.2 691.1L195.8 691.1L194.4 691.1L192.9 691.1L191.5 691.0L190.0 690.8L188.6 690.6L187.2 690.4L185.7 690.2L185.2 690.1L184.3 690.0L182.8 689.8L181.4 689.6L180.0 689.4L178.5 689.3L177.1 689.2L175.6 689.1L174.2 689.0L172.8 688.9L171.3 688.7L171.0 688.7L169.9 688.4L168.5 687.7L167.7 687.2L167.0 686.7L166.2 685.8L165.6 685.0L165.1 684.3L164.2 682.9L164.1 682.8L163.2 681.5L162.7 680.9L161.9 680.0L161.3 679.3L160.5 678.6L159.8 677.8L159.2 677.1L158.4 676.1L158.1 675.7L157.3 674.3L156.9 673.4L156.7 672.8L156.5 671.4L156.4 670.0L156.4 668.5L156.4 667.1L156.5 665.6L156.5 664.2L156.5 662.8L156.4 661.3L156.3 659.9L156.2 658.4L156.2 657.0L156.2 655.6L156.2 654.1L156.4 652.7L156.6 651.2L156.8 649.8L156.9 649.0L157.0 648.4L157.2 646.9L157.2 645.5L157.2 644.0L157.2 642.6L157.3 641.2L157.7 639.7L158.4 638.3L158.4 638.3L159.4 636.8L159.8 636.3L160.5 635.4L161.3 634.5L161.7 634.0L162.7 632.9L163.0 632.5L164.1 631.5L164.7 631.1L165.6 630.4L166.8 629.6L167.0 629.5L168.5 628.8L169.8 628.2L169.9 628.2L171.3 627.8L172.8 627.4L174.2 627.0L174.8 626.8L175.6 626.5L177.1 626.2L178.5 625.8L180.0 625.6Z" fill="#c2ddec" fill-rule="evenodd"/><path d="M177.7 628.2L178.5 628.0L180.0 627.7L181.4 627.5L182.8 627.3L184.3 627.3L185.7 627.3L187.2 627.5L188.6 628.0L189.1 628.2L190.0 629.0L191.0 629.6L191.5 630.1L192.9 630.5L194.4 630.3L195.8 630.2L197.2 630.2L198.7 630.4L200.1 630.8L200.8 631.1L201.6 631.4L203.0 631.9L204.4 632.3L205.8 632.5L205.9 632.5L207.3 632.6L208.8 632.6L209.3 632.5L210.2 632.5L211.6 632.5L212.7 632.5L213.1 632.5L214.5 632.7L216.0 633.0L217.4 633.3L218.8 633.6L220.2 634.0L220.3 634.0L221.7 634.4L223.1 634.7L224.6 635.1L225.6 635.4L226.0 635.5L227.5 636.1L228.6 636.8L228.9 637.1L230.0 638.3L230.3 638.7L230.9 639.7L231.6 641.2L231.8 641.5L232.2 642.6L232.8 644.0L233.2 645.5L233.2 645.5L233.6 646.9L233.8 648.4L234.0 649.8L234.2 651.2L234.3 652.7L234.3 654.1L234.4 655.6L234.4 657.0L234.4 658.4L234.4 659.9L234.3 661.3L234.1 662.8L233.9 664.2L233.8 665.6L233.6 667.1L233.4 668.5L233.2 669.9L233.2 670.0L232.9 671.4L232.5 672.8L231.9 674.3L231.8 674.5L231.0 675.7L230.3 676.6L229.9 677.1L228.9 678.4L228.7 678.6L227.6 680.0L227.5 680.2L226.5 681.5L226.0 682.1L225.3 682.9L224.6 683.6L223.6 684.3L223.1 684.6L221.7 685.3L220.3 685.8L220.3 685.8L218.8 686.1L217.4 686.3L216.0 686.4L214.5 686.6L213.1 686.9L211.7 687.2L211.6 687.2L210.2 687.7L208.8 688.1L207.3 688.6L207.1 688.7L205.9 689.0L204.4 689.4L203.0 689.6L201.6 689.8L200.1 689.9L198.7 690.0L197.2 690.0L195.8 690.0L194.4 690.0L192.9 690.0L191.5 689.9L190.0 689.8L188.6 689.6L187.2 689.4L185.7 689.1L184.3 688.9L182.9 688.7L182.8 688.6L181.4 688.4L180.0 688.2L178.5 688.1L177.1 687.9L175.6 687.9L174.2 687.8L172.8 687.6L171.3 687.3L171.0 687.2L169.9 686.8L168.5 685.8L168.4 685.8L167.1 684.3L167.0 684.2L166.1 682.9L165.6 682.1L165.1 681.5L164.1 680.1L164.0 680.0L162.7 678.6L162.7 678.6L161.3 677.1L161.3 677.1L160.1 675.7L159.8 675.3L159.2 674.3L158.6 672.8L158.4 671.9L158.3 671.4L158.2 670.0L158.3 668.5L158.3 667.1L158.4 666.2L158.4 665.6L158.4 664.3L158.4 664.2L158.3 662.8L158.2 661.3L158.0 659.9L157.9 658.4L157.8 657.0L157.8 655.6L157.9 654.1L158.2 652.7L158.4 651.8L158.5 651.2L159.0 649.8L159.3 648.4L159.4 646.9L159.4 645.5L159.4 644.0L159.4 642.6L159.6 641.2L159.8 640.5L160.1 639.7L160.8 638.3L161.3 637.6L161.8 636.8L162.7 635.6L162.8 635.4L164.1 634.0L164.1 633.9L165.6 632.6L165.7 632.5L167.0 631.6L167.9 631.1L168.5 630.8L169.9 630.3L171.3 630.0L172.8 629.7L172.9 629.6L174.2 629.4L175.6 628.9L177.1 628.4Z" fill="#dae9f2" fill-rule="evenodd"/><path d="M179.9 631.1L180.0 631.1L181.4 630.9L182.7 631.1L182.8 631.1L184.3 632.3L184.5 632.5L185.5 634.0L185.7 634.2L186.9 635.4L187.2 635.6L188.6 636.6L189.1 636.8L190.0 637.3L191.5 637.8L192.9 638.0L194.4 637.9L195.8 637.3L196.6 636.8L197.2 636.5L198.7 635.9L200.1 635.5L201.6 635.4L203.0 635.5L204.4 635.5L205.9 635.5L207.0 635.4L207.3 635.4L208.8 635.2L210.2 635.1L211.6 635.0L213.1 635.0L214.5 635.1L216.0 635.3L216.4 635.4L217.4 635.6L218.8 635.9L220.3 636.3L221.7 636.6L222.5 636.8L223.1 637.0L224.6 637.5L226.0 638.0L226.5 638.3L227.5 639.0L228.2 639.7L228.9 640.6L229.3 641.2L230.0 642.6L230.3 643.3L230.6 644.0L231.2 645.5L231.7 646.9L231.8 647.3L232.1 648.4L232.4 649.8L232.6 651.2L232.8 652.7L232.9 654.1L233.0 655.6L233.1 657.0L233.1 658.4L233.1 659.9L233.0 661.3L232.9 662.8L232.7 664.2L232.4 665.6L232.2 667.1L231.9 668.5L231.8 669.1L231.6 670.0L231.1 671.4L230.5 672.8L230.3 673.0L229.5 674.3L228.9 675.0L228.3 675.7L227.5 676.8L227.2 677.1L226.1 678.6L226.0 678.7L225.1 680.0L224.6 680.7L224.0 681.5L223.1 682.4L222.5 682.9L221.7 683.4L220.3 684.1L219.5 684.3L218.8 684.5L217.4 684.8L216.0 685.0L214.5 685.2L213.1 685.5L211.6 685.8L211.6 685.8L210.2 686.2L208.8 686.6L207.3 687.1L207.0 687.2L205.9 687.6L204.4 688.0L203.0 688.4L201.6 688.6L201.0 688.7L200.1 688.8L198.7 688.8L197.2 688.9L195.8 688.9L194.4 689.0L192.9 688.9L191.5 688.9L190.0 688.7L189.4 688.7L188.6 688.6L187.2 688.3L185.7 688.1L184.3 687.8L182.8 687.6L181.4 687.3L180.9 687.2L180.0 687.1L178.5 686.9L177.1 686.7L175.6 686.6L174.2 686.4L172.8 686.2L171.4 685.8L171.3 685.7L169.9 684.9L169.3 684.3L168.5 683.5L168.0 682.9L167.1 681.5L167.0 681.4L166.1 680.0L165.6 679.3L165.0 678.6L164.1 677.6L163.7 677.1L162.7 676.1L162.4 675.7L161.4 674.3L161.3 674.0L160.8 672.8L160.5 671.4L160.5 670.0L160.6 668.5L160.8 667.1L160.8 665.6L160.8 664.2L160.7 662.8L160.5 661.3L160.2 659.9L160.0 658.4L159.9 657.0L159.9 655.6L160.2 654.1L160.8 652.7L161.3 651.5L161.4 651.2L162.1 649.8L162.5 648.4L162.7 647.2L162.7 646.9L162.8 645.5L162.7 644.0L162.8 642.6L163.1 641.2L163.7 639.7L164.1 638.9L164.5 638.3L165.6 636.8L165.6 636.8L167.0 635.5L167.1 635.4L168.5 634.7L169.9 634.3L171.3 634.3L172.8 634.5L174.2 634.5L175.5 634.0L175.6 633.9L177.1 632.9L177.5 632.5L178.5 631.8Z" fill="#edf2f5" fill-rule="evenodd"/><path d="M208.9 638.3L210.2 637.9L211.6 637.7L213.1 637.6L214.5 637.7L216.0 637.9L217.4 638.2L217.7 638.3L218.8 638.6L220.3 638.9L221.7 639.3L223.1 639.7L223.3 639.7L224.6 640.3L225.9 641.2L226.0 641.3L227.1 642.6L227.5 643.1L227.9 644.0L228.7 645.5L228.9 646.0L229.3 646.9L229.9 648.4L230.3 649.6L230.4 649.8L230.8 651.2L231.1 652.7L231.3 654.1L231.5 655.6L231.7 657.0L231.8 658.4L231.8 659.9L231.7 661.3L231.5 662.8L231.3 664.2L231.0 665.6L230.7 667.1L230.3 668.3L230.3 668.5L229.8 670.0L229.1 671.4L228.9 671.7L228.1 672.8L227.5 673.7L227.0 674.3L226.0 675.5L225.9 675.7L224.9 677.1L224.6 677.6L223.9 678.6L223.1 679.6L222.8 680.0L221.7 681.2L221.4 681.5L220.3 682.2L218.8 682.9L218.8 682.9L217.4 683.3L216.0 683.6L214.5 683.9L213.1 684.1L212.0 684.3L211.6 684.4L210.2 684.8L208.8 685.2L207.3 685.6L206.9 685.8L205.9 686.1L204.4 686.6L203.0 687.0L202.1 687.2L201.6 687.3L200.1 687.5L198.7 687.7L197.2 687.8L195.8 687.8L194.4 687.8L192.9 687.8L191.5 687.8L190.0 687.7L188.6 687.5L187.2 687.3L186.8 687.2L185.7 687.0L184.3 686.8L182.8 686.5L181.4 686.2L180.0 685.9L179.2 685.8L178.5 685.7L177.1 685.4L175.6 685.2L174.2 685.0L172.8 684.6L172.2 684.3L171.3 683.9L170.2 682.9L169.9 682.6L169.0 681.5L168.5 680.6L168.1 680.0L167.1 678.6L167.0 678.4L166.1 677.1L165.6 676.5L165.0 675.7L164.1 674.4L164.0 674.3L163.4 672.8L163.2 671.4L163.3 670.0L163.4 668.5L163.6 667.1L163.7 665.6L163.8 664.2L163.8 662.8L163.8 661.3L163.7 659.9L163.7 658.4L163.7 657.0L164.0 655.6L164.1 655.3L164.7 654.1L165.6 652.7L165.6 652.7L166.8 651.2L167.0 650.9L168.2 649.8L168.5 649.6L169.9 648.8L171.3 648.6L172.8 648.6L174.2 648.6L175.6 648.6L177.1 648.5L177.7 648.4L178.5 648.2L180.0 647.6L181.4 646.9L181.4 646.9L182.7 645.5L182.8 645.0L183.2 644.0L183.4 642.6L183.9 641.2L184.3 640.9L185.7 640.6L187.2 640.9L187.6 641.2L188.6 641.7L189.9 642.6L190.0 642.7L191.4 644.0L191.5 644.1L192.7 645.5L192.9 645.7L194.2 646.9L194.4 647.0L195.8 647.8L197.2 648.2L198.7 648.3L200.1 648.1L201.6 647.6L202.8 646.9L203.0 646.7L203.9 645.5L204.3 644.0L204.3 642.6L204.4 641.8L204.5 641.2L205.9 639.7L205.9 639.7L207.3 639.0L208.8 638.4Z" fill="#f9f0eb" fill-rule="evenodd"/><path d="M211.8 642.6L213.1 641.7L214.5 641.5L216.0 641.7L217.4 642.0L218.8 642.4L219.5 642.6L220.3 642.9L221.7 643.5L222.7 644.0L223.1 644.3L224.4 645.5L224.6 645.7L225.5 646.9L226.0 647.5L226.6 648.4L227.5 649.5L227.6 649.8L228.4 651.2L228.9 652.4L229.0 652.7L229.4 654.1L229.7 655.6L230.0 657.0L230.1 658.4L230.2 659.9L230.1 661.3L230.0 662.8L229.7 664.2L229.4 665.6L228.9 667.1L228.9 667.2L228.4 668.5L227.7 670.0L227.5 670.3L226.8 671.4L226.0 672.5L225.8 672.8L224.7 674.3L224.6 674.5L223.7 675.7L223.1 676.6L222.7 677.1L221.7 678.5L221.6 678.6L220.3 680.0L220.3 680.1L218.8 681.1L218.1 681.5L217.4 681.8L216.0 682.2L214.5 682.5L213.1 682.8L212.7 682.9L211.6 683.1L210.2 683.4L208.8 683.7L207.3 684.2L206.8 684.3L205.9 684.7L204.4 685.2L203.0 685.6L202.4 685.8L201.6 686.0L200.1 686.2L198.7 686.4L197.2 686.5L195.8 686.6L194.4 686.7L192.9 686.7L191.5 686.6L190.0 686.5L188.6 686.4L187.2 686.2L185.7 686.0L184.8 685.8L184.3 685.7L182.8 685.4L181.4 685.1L180.0 684.7L178.5 684.4L178.1 684.3L177.1 684.1L175.6 683.8L174.2 683.4L173.1 682.9L172.8 682.7L171.3 681.5L171.3 681.5L170.2 680.0L169.9 679.6L169.3 678.6L168.5 677.2L168.4 677.1L167.6 675.7L167.0 674.5L166.9 674.3L166.4 672.8L166.3 671.4L166.3 670.0L166.4 668.5L166.5 667.1L166.7 665.6L166.8 664.2L167.0 662.8L167.0 662.8L167.3 661.3L167.6 659.9L167.9 658.4L168.5 657.1L168.5 657.0L169.2 655.6L169.9 654.7L170.4 654.1L171.3 653.4L172.8 652.7L172.9 652.7L174.2 652.2L175.6 651.9L177.1 651.6L178.5 651.3L178.9 651.2L180.0 651.0L181.4 650.5L182.8 650.0L183.3 649.8L184.3 649.4L185.7 648.8L187.2 648.5L188.6 648.6L190.0 649.1L191.4 649.8L191.5 649.8L192.9 650.5L194.4 650.9L195.8 651.2L197.2 651.2L198.7 651.1L200.1 651.0L201.6 650.7L203.0 650.4L204.4 649.9L204.7 649.8L205.9 649.1L207.1 648.4L207.3 648.2L208.7 646.9L208.8 646.8L209.9 645.5L210.2 644.9L210.8 644.0L211.6 642.7Z" fill="#fce2d2" fill-rule="evenodd"/><path d="M213.2 648.4L214.5 647.9L216.0 647.7L217.4 647.8L218.8 648.3L219.1 648.4L220.3 648.8L221.7 649.6L222.0 649.8L223.1 650.5L224.2 651.2L224.6 651.5L225.8 652.7L226.0 653.0L226.7 654.1L227.4 655.6L227.5 655.6L227.9 657.0L228.1 658.4L228.3 659.9L228.3 661.3L228.1 662.8L227.8 664.2L227.5 665.5L227.4 665.6L226.9 667.1L226.2 668.5L226.0 668.8L225.4 670.0L224.6 671.2L224.5 671.4L223.5 672.8L223.1 673.4L222.6 674.3L221.7 675.6L221.6 675.7L220.6 677.1L220.3 677.5L219.3 678.6L218.8 679.0L217.4 680.0L217.4 680.0L216.0 680.7L214.5 681.2L213.3 681.5L213.1 681.5L211.6 681.8L210.2 682.0L208.8 682.3L207.3 682.7L206.7 682.9L205.9 683.2L204.4 683.7L203.0 684.1L202.3 684.3L201.6 684.5L200.1 684.8L198.7 685.1L197.2 685.2L195.8 685.4L194.4 685.4L192.9 685.5L191.5 685.5L190.0 685.4L188.6 685.3L187.2 685.1L185.7 684.9L184.3 684.6L183.1 684.3L182.8 684.3L181.4 683.9L180.0 683.5L178.5 683.1L177.7 682.9L177.1 682.7L175.6 682.2L174.2 681.5L174.2 681.5L172.8 680.3L172.5 680.0L171.5 678.6L171.3 678.3L170.7 677.1L170.1 675.7L169.9 675.0L169.7 674.3L169.4 672.8L169.2 671.4L169.2 670.0L169.2 668.5L169.2 667.1L169.3 665.6L169.4 664.2L169.6 662.8L169.9 661.4L169.9 661.3L170.3 659.9L170.9 658.4L171.3 657.7L171.8 657.0L172.8 655.9L173.3 655.6L174.2 655.0L175.6 654.4L176.7 654.1L177.1 654.0L178.5 653.7L180.0 653.3L181.4 652.9L182.2 652.7L182.8 652.5L184.3 652.1L185.7 651.7L187.2 651.7L188.6 651.8L190.0 652.2L191.3 652.7L191.5 652.7L192.9 653.1L194.4 653.3L195.8 653.4L197.2 653.3L198.7 653.1L200.1 652.9L201.2 652.7L201.6 652.6L203.0 652.3L204.4 652.0L205.9 651.6L206.9 651.2L207.3 651.1L208.8 650.4L210.1 649.8L210.2 649.8L211.6 649.0L213.1 648.4Z" fill="#fbccb4" fill-rule="evenodd"/><path d="M209.0 652.7L210.2 652.3L211.6 652.0L213.1 651.6L214.5 651.5L216.0 651.4L217.4 651.6L218.8 652.0L220.3 652.6L220.5 652.7L221.7 653.4L222.8 654.1L223.1 654.4L224.2 655.6L224.6 656.1L225.1 657.0L225.6 658.4L225.9 659.9L226.0 661.3L225.8 662.8L225.6 664.2L225.1 665.6L224.6 667.0L224.6 667.1L223.9 668.5L223.1 669.8L223.1 670.0L222.2 671.4L221.7 672.2L221.4 672.8L220.5 674.3L220.3 674.5L219.5 675.7L218.8 676.5L218.2 677.1L217.4 677.9L216.5 678.6L216.0 678.9L214.5 679.6L213.2 680.0L213.1 680.1L211.6 680.4L210.2 680.6L208.8 680.9L207.3 681.2L206.5 681.5L205.9 681.7L204.4 682.1L203.0 682.6L201.9 682.9L201.6 683.0L200.1 683.3L198.7 683.6L197.2 683.8L195.8 684.0L194.4 684.1L192.9 684.2L191.5 684.2L190.0 684.2L188.6 684.1L187.2 684.0L185.7 683.7L184.3 683.5L182.8 683.1L181.9 682.9L181.4 682.8L180.0 682.3L178.5 681.8L177.8 681.5L177.1 681.1L175.6 680.2L175.3 680.0L174.2 678.9L173.9 678.6L173.1 677.1L172.8 676.4L172.5 675.7L172.1 674.3L171.9 672.8L171.8 671.4L171.7 670.0L171.6 668.5L171.5 667.1L171.5 665.6L171.6 664.2L171.8 662.8L172.1 661.3L172.7 659.9L172.8 659.8L173.7 658.4L174.2 657.9L175.4 657.0L175.6 656.9L177.1 656.3L178.5 655.9L179.9 655.6L180.0 655.5L181.4 655.2L182.8 654.8L184.3 654.4L185.7 654.2L187.2 654.2L188.6 654.4L190.0 654.7L191.5 655.1L192.9 655.3L194.4 655.4L195.8 655.3L197.2 655.1L198.7 654.8L200.1 654.5L201.6 654.2L202.2 654.1L203.0 654.0L204.4 653.7L205.9 653.4L207.3 653.1L208.8 652.7Z" fill="#f6b394" fill-rule="evenodd"/><path d="M212.7 654.1L213.1 654.1L214.5 654.0L216.0 654.0L216.4 654.1L217.4 654.3L218.8 654.8L220.2 655.6L220.3 655.6L221.7 656.9L221.8 657.0L222.7 658.4L223.1 659.8L223.2 659.9L223.4 661.3L223.4 662.8L223.2 664.2L223.1 664.2L222.8 665.6L222.2 667.1L221.7 668.1L221.5 668.5L220.8 670.0L220.3 670.8L219.9 671.4L219.1 672.8L218.8 673.2L218.1 674.3L217.4 675.2L217.0 675.7L216.0 676.7L215.5 677.1L214.5 677.7L213.1 678.4L212.5 678.6L211.6 678.8L210.2 679.1L208.8 679.4L207.3 679.7L206.1 680.0L205.9 680.1L204.4 680.5L203.0 680.9L201.6 681.4L201.1 681.5L200.1 681.7L198.7 682.0L197.2 682.3L195.8 682.5L194.4 682.7L192.9 682.9L192.4 682.9L191.5 682.9L190.0 683.0L188.9 682.9L188.6 682.9L187.2 682.8L185.7 682.6L184.3 682.3L182.8 681.9L181.4 681.5L181.3 681.5L180.0 680.9L178.5 680.2L178.2 680.0L177.1 679.2L176.4 678.6L175.6 677.5L175.4 677.1L174.7 675.7L174.3 674.3L174.2 673.6L174.1 672.8L173.9 671.4L173.7 670.0L173.6 668.5L173.5 667.1L173.4 665.6L173.6 664.2L173.8 662.8L174.2 661.8L174.4 661.3L175.4 659.9L175.6 659.6L177.1 658.7L177.6 658.4L178.5 658.1L180.0 657.7L181.4 657.3L182.8 657.0L182.8 657.0L184.3 656.7L185.7 656.5L187.2 656.5L188.6 656.7L190.0 656.9L190.4 657.0L191.5 657.2L192.9 657.3L194.4 657.4L195.8 657.2L196.9 657.0L197.2 656.9L198.7 656.6L200.1 656.2L201.6 655.8L202.7 655.6L203.0 655.5L204.4 655.3L205.9 655.1L207.3 654.9L208.8 654.7L210.2 654.5L211.6 654.2Z" fill="#ec9374" fill-rule="evenodd"/><path d="M203.7 657.0L204.4 656.9L205.9 656.7L207.3 656.6L208.8 656.5L210.2 656.4L211.6 656.3L213.1 656.3L214.5 656.3L216.0 656.5L217.4 656.9L217.5 657.0L218.8 657.9L219.4 658.4L220.3 659.7L220.4 659.9L220.8 661.3L220.9 662.8L220.7 664.2L220.4 665.6L220.3 665.9L219.8 667.1L219.1 668.5L218.8 669.0L218.3 670.0L217.4 671.4L217.4 671.5L216.5 672.8L216.0 673.5L215.4 674.3L214.5 675.2L213.9 675.7L213.1 676.2L211.6 676.9L211.0 677.1L210.2 677.4L208.8 677.7L207.3 678.0L205.9 678.4L205.3 678.6L204.4 678.8L203.0 679.2L201.6 679.6L200.1 680.0L200.0 680.0L198.7 680.3L197.2 680.7L195.8 681.0L194.4 681.3L192.9 681.5L192.9 681.5L191.5 681.6L190.0 681.6L188.6 681.6L187.2 681.5L187.0 681.5L185.7 681.3L184.3 681.0L182.8 680.6L181.4 680.1L181.2 680.0L180.0 679.3L178.9 678.6L178.5 678.2L177.6 677.1L177.1 676.3L176.8 675.7L176.3 674.3L176.0 672.8L175.8 671.4L175.6 670.6L175.6 670.0L175.4 668.5L175.3 667.1L175.3 665.6L175.6 664.2L175.6 663.9L176.1 662.8L177.1 661.4L177.2 661.3L178.5 660.5L180.0 659.9L180.1 659.9L181.4 659.5L182.8 659.2L184.3 659.0L185.7 658.8L187.2 658.8L188.6 658.9L190.0 659.1L191.5 659.2L192.9 659.3L194.4 659.3L195.8 659.2L197.2 658.9L198.6 658.4L198.7 658.4L200.1 657.9L201.6 657.5L203.0 657.1Z" fill="#dd7059" fill-rule="evenodd"/><path d="M200.2 659.9L201.6 659.4L203.0 659.0L204.4 658.7L205.9 658.6L207.3 658.5L208.8 658.5L210.2 658.5L211.6 658.5L213.1 658.6L214.5 658.8L216.0 659.4L216.7 659.9L217.4 660.6L217.8 661.3L218.2 662.8L218.1 664.2L217.7 665.6L217.4 666.3L217.0 667.1L216.2 668.5L216.0 668.9L215.3 670.0L214.5 671.1L214.3 671.4L213.2 672.8L213.1 673.0L211.6 674.3L211.6 674.3L210.2 675.0L208.8 675.7L208.6 675.7L207.3 676.1L205.9 676.5L204.4 677.0L203.9 677.1L203.0 677.4L201.6 677.8L200.1 678.2L198.7 678.6L198.6 678.6L197.2 678.9L195.8 679.3L194.4 679.6L192.9 679.9L192.1 680.0L191.5 680.1L190.0 680.2L188.6 680.1L187.2 680.0L187.0 680.0L185.7 679.8L184.3 679.5L182.8 679.1L181.8 678.6L181.4 678.4L180.0 677.2L179.9 677.1L178.9 675.7L178.5 674.9L178.3 674.3L177.9 672.8L177.6 671.4L177.4 670.0L177.2 668.5L177.2 667.1L177.4 665.6L178.0 664.2L178.5 663.4L179.3 662.8L180.0 662.4L181.4 661.8L182.8 661.5L184.3 661.4L185.6 661.3L185.7 661.3L187.2 661.3L188.6 661.3L188.6 661.3L190.0 661.4L191.5 661.4L192.9 661.4L194.3 661.3L194.4 661.3L195.8 661.2L197.2 660.9L198.7 660.5L200.1 659.9Z" fill="#cc4c44" fill-rule="evenodd"/><path d="M203.1 661.3L204.4 661.0L205.9 660.9L207.3 661.0L208.8 661.1L210.2 661.3L210.4 661.3L211.6 661.6L213.1 662.3L213.7 662.8L214.1 664.2L213.8 665.6L213.2 667.1L213.1 667.3L212.4 668.5L211.6 669.8L211.5 670.0L210.4 671.4L210.2 671.6L208.8 672.8L208.8 672.9L207.3 673.7L206.0 674.3L205.9 674.3L204.4 674.9L203.0 675.4L202.0 675.7L201.6 675.8L200.1 676.2L198.7 676.6L197.2 677.0L196.8 677.1L195.8 677.4L194.4 677.8L192.9 678.1L191.5 678.3L190.0 678.4L188.6 678.3L187.2 678.2L185.7 677.9L184.3 677.6L183.3 677.1L182.8 676.9L181.4 675.7L181.4 675.7L180.6 674.3L180.1 672.8L180.0 672.5L179.7 671.4L179.5 670.0L179.5 668.5L179.6 667.1L180.0 666.1L180.3 665.6L181.4 664.8L182.8 664.3L183.7 664.2L184.3 664.2L185.3 664.2L185.7 664.2L187.2 664.3L188.6 664.2L189.1 664.2L190.0 664.1L191.5 663.9L192.9 663.8L194.4 663.6L195.8 663.4L197.2 663.1L198.5 662.8L198.7 662.7L200.1 662.3L201.6 661.8L203.0 661.3Z" fill="#ba2832" fill-rule="evenodd"/><path d="M197.2 665.6L197.2 665.6L198.7 665.4L200.1 665.1L201.6 664.9L203.0 664.7L204.4 664.8L205.9 665.1L206.8 665.6L207.3 666.4L207.6 667.1L207.5 668.5L207.3 669.0L206.8 670.0L205.9 670.9L205.4 671.4L204.4 672.0L203.0 672.8L202.9 672.8L201.6 673.4L200.1 673.9L198.9 674.3L198.7 674.3L197.2 674.7L195.8 675.0L194.4 675.4L192.9 675.6L191.5 675.7L190.0 675.5L188.6 675.0L187.2 674.4L186.8 674.3L185.7 673.3L185.3 672.8L184.8 671.4L185.7 670.3L186.5 670.0L187.2 669.9L188.6 669.3L189.8 668.5L190.0 668.4L191.5 667.6L192.5 667.1L192.9 666.9L194.4 666.4L195.8 666.0Z" fill="#9f1228" fill-rule="evenodd"/><path d="M168.9 610.9L169.9 610.3L171.3 609.9L172.8 609.9L174.2 610.0L175.6 610.4L177.1 610.9L177.2 610.9L178.5 611.5L180.0 612.3L180.1 612.4L181.4 613.0L182.8 613.3L184.3 613.5L185.7 613.4L187.2 613.2L188.6 613.0L190.0 612.8L191.5 612.8L192.9 613.0L194.4 613.2L195.8 613.5L197.2 613.7L198.7 613.7L200.1 613.6L201.6 613.4L203.0 613.2L204.4 613.0L205.9 613.0L207.3 613.3L208.6 613.8L208.8 613.9L210.2 614.4L211.6 614.9L212.4 615.3L213.1 615.4L214.5 615.9L216.0 616.6L216.2 616.7L217.4 617.3L218.8 618.1L218.9 618.1L220.3 618.8L221.7 619.4L222.1 619.6L223.1 619.9L224.6 620.1L226.0 620.2L227.5 620.2L228.9 620.2L230.3 620.2L231.8 620.5L233.2 621.0L233.3 621.0L234.7 621.7L235.7 622.5L236.1 622.8L237.1 623.9L237.5 624.4L238.2 625.3L239.0 626.6L239.1 626.8L240.0 628.2L240.4 628.8L241.1 629.6L241.9 630.7L242.2 631.1L243.2 632.5L243.3 632.7L243.9 634.0L244.0 635.4L243.8 636.8L243.4 638.3L243.3 638.6L243.0 639.7L242.8 641.2L242.7 642.6L242.7 644.0L242.8 645.5L242.9 646.9L242.9 648.4L242.8 649.8L242.8 651.2L242.8 652.7L242.7 654.1L242.7 655.6L242.6 657.0L242.5 658.4L242.4 659.9L242.3 661.3L242.3 662.8L242.3 664.2L242.4 665.6L242.5 667.1L242.5 668.5L242.6 670.0L242.7 671.4L242.7 672.8L242.6 674.3L242.5 675.7L242.3 677.1L242.0 678.6L241.9 679.0L241.6 680.0L241.3 681.5L240.8 682.9L240.4 684.0L240.3 684.3L239.4 685.8L239.0 686.3L238.0 687.2L237.5 687.6L236.1 688.6L236.1 688.7L234.7 689.7L234.1 690.1L233.2 690.8L232.2 691.5L231.8 691.9L230.4 693.0L230.3 693.0L228.9 693.9L227.7 694.4L227.5 694.5L226.0 695.0L224.6 695.4L223.1 695.8L222.8 695.9L221.7 696.2L220.3 696.6L218.8 696.9L217.4 697.2L216.8 697.3L216.0 697.5L214.5 697.8L213.1 698.1L211.6 698.2L210.2 698.3L208.8 698.2L207.3 698.0L205.9 697.9L204.4 697.8L203.0 697.8L201.6 697.7L200.1 697.7L198.7 697.6L197.2 697.7L195.8 697.7L194.4 697.8L192.9 697.7L191.5 697.6L190.0 697.4L189.5 697.3L188.6 697.2L187.2 697.0L185.7 696.8L184.3 696.7L182.8 696.6L181.4 696.4L180.0 696.2L178.5 696.0L177.1 695.9L177.0 695.9L175.6 695.7L174.2 695.6L172.8 695.6L171.3 695.6L169.9 695.7L168.5 695.7L167.0 695.7L165.6 695.7L164.1 695.5L162.7 695.2L161.3 694.6L161.0 694.4L159.8 693.7L158.9 693.0L158.4 692.5L157.4 691.5L156.9 690.9L156.3 690.1L155.5 688.8L155.4 688.7L154.6 687.2L154.1 686.2L153.8 685.8L153.1 684.3L152.6 683.4L152.4 682.9L151.7 681.5L151.2 680.0L151.2 680.0L150.7 678.6L150.2 677.1L149.8 675.7L149.7 675.5L149.4 674.3L149.1 672.8L148.7 671.4L148.4 670.0L148.3 669.3L148.1 668.5L147.9 667.1L147.7 665.6L147.8 664.2L147.9 662.8L148.1 661.3L148.3 659.9L148.3 659.6L148.4 658.4L148.6 657.0L148.7 655.6L148.8 654.1L148.9 652.7L148.9 651.2L149.0 649.8L149.1 648.4L149.1 646.9L149.1 645.5L148.9 644.0L148.7 642.6L148.5 641.2L148.3 639.7L148.4 638.3L148.9 636.8L149.7 635.4L149.8 635.4L150.9 634.0L151.2 633.6L152.0 632.5L152.6 631.7L153.1 631.1L154.1 629.7L154.1 629.6L155.1 628.2L155.5 627.8L156.7 626.8L156.9 626.6L158.4 625.7L158.9 625.3L159.8 624.7L160.8 623.9L161.3 623.5L162.2 622.5L162.7 621.8L163.2 621.0L163.9 619.6L164.1 618.9L164.4 618.1L165.0 616.7L165.6 615.3L165.6 615.3L166.4 613.8L167.0 612.8L167.4 612.4L168.5 611.2L168.9 610.9" fill="none" stroke="#222" stroke-width="0.6" opacity="0.8"/><path d="M187.1 618.1L187.2 618.1L188.6 617.9L190.0 617.9L191.5 617.9L192.9 618.0L194.1 618.1L194.4 618.2L195.8 618.3L197.2 618.4L198.7 618.5L200.1 618.5L201.6 618.4L203.0 618.5L204.4 618.7L205.9 619.0L207.3 619.5L207.6 619.6L208.8 619.9L210.2 620.2L211.6 620.4L213.1 620.7L214.5 621.0L214.6 621.0L216.0 621.6L217.4 622.4L217.6 622.5L218.8 623.2L220.0 623.9L220.3 624.0L221.7 624.7L223.1 625.2L224.1 625.3L224.6 625.4L226.0 625.5L227.5 625.6L228.9 625.6L230.3 625.7L231.8 626.1L233.2 626.7L233.3 626.8L234.7 627.8L235.1 628.2L236.1 629.5L236.2 629.6L237.1 631.1L237.5 631.8L238.0 632.5L238.7 634.0L239.0 634.8L239.2 635.4L239.4 636.8L239.4 638.3L239.3 639.7L239.3 641.2L239.4 642.6L239.6 644.0L239.7 645.5L239.8 646.9L239.8 648.4L239.8 649.8L239.7 651.2L239.7 652.7L239.7 654.1L239.6 655.6L239.5 657.0L239.4 658.4L239.4 659.9L239.3 661.3L239.2 662.8L239.2 664.2L239.2 665.6L239.2 667.1L239.3 668.5L239.3 670.0L239.4 671.4L239.4 672.8L239.3 674.3L239.1 675.7L239.0 676.1L238.7 677.1L238.3 678.6L237.8 680.0L237.5 680.5L237.1 681.5L236.2 682.9L236.1 683.0L234.9 684.3L234.7 684.6L233.2 685.8L233.2 685.8L231.8 686.9L231.4 687.2L230.3 688.1L229.5 688.7L228.9 689.1L227.5 690.0L227.3 690.1L226.0 690.7L224.6 691.2L223.4 691.5L223.1 691.6L221.7 692.0L220.3 692.3L218.8 692.6L217.4 692.8L216.4 693.0L216.0 693.1L214.5 693.3L213.1 693.6L211.6 693.8L210.2 694.0L208.8 694.2L207.3 694.4L207.1 694.4L205.9 694.5L204.4 694.6L203.0 694.7L201.6 694.7L200.1 694.7L198.7 694.6L197.2 694.6L195.8 694.6L194.4 694.6L192.9 694.5L191.7 694.4L191.5 694.4L190.0 694.2L188.6 694.0L187.2 693.8L185.7 693.7L184.3 693.5L182.8 693.4L181.4 693.3L180.0 693.3L178.5 693.2L177.1 693.0L176.1 693.0L175.6 692.9L174.2 692.9L172.8 692.8L171.3 692.7L169.9 692.6L168.5 692.5L167.0 692.2L165.6 691.7L165.2 691.5L164.1 691.0L162.9 690.1L162.7 689.9L161.6 688.7L161.3 688.2L160.6 687.2L159.8 685.9L159.8 685.8L158.9 684.3L158.4 683.6L157.9 682.9L156.9 681.6L156.9 681.5L155.8 680.0L155.5 679.7L154.7 678.6L154.1 677.5L153.8 677.1L153.1 675.7L152.6 674.4L152.6 674.3L152.2 672.8L151.9 671.4L151.7 670.0L151.6 668.5L151.6 667.1L151.6 665.6L151.7 664.2L151.7 662.8L151.8 661.3L151.9 659.9L151.9 658.4L151.9 657.0L151.9 655.6L152.0 654.1L152.0 652.7L152.0 651.2L152.1 649.8L152.2 648.4L152.2 646.9L152.2 645.5L152.2 644.0L152.1 642.6L152.1 641.2L152.3 639.7L152.6 638.6L152.7 638.3L153.5 636.8L154.1 636.0L154.5 635.4L155.5 634.2L155.7 634.0L156.9 632.6L157.0 632.5L158.3 631.1L158.4 631.0L159.8 629.6L159.8 629.6L161.3 628.4L161.5 628.2L162.7 627.3L163.4 626.8L164.1 626.2L165.2 625.3L165.6 625.0L167.0 623.9L167.0 623.9L168.5 622.6L168.7 622.5L169.9 621.2L170.1 621.0L171.3 619.7L171.6 619.6L172.8 618.9L174.2 618.8L175.6 619.1L177.1 619.4L178.2 619.6L178.5 619.6L180.0 619.6L180.4 619.6L181.4 619.5L182.8 619.1L184.3 618.7L185.7 618.4L187.1 618.1" fill="none" stroke="#222" stroke-width="0.6" opacity="0.8"/><path d="M185.3 622.5L185.7 622.3L187.2 622.0L188.6 621.8L190.0 621.8L191.5 622.0L192.9 622.2L194.0 622.5L194.4 622.5L195.8 622.8L197.2 623.1L198.7 623.3L200.1 623.5L201.6 623.8L202.0 623.9L203.0 624.2L204.4 624.8L205.9 625.3L205.9 625.3L207.3 625.8L208.8 626.1L210.2 626.3L211.6 626.5L212.9 626.8L213.1 626.8L214.5 627.2L216.0 627.7L217.1 628.2L217.4 628.3L218.8 628.8L220.3 629.3L221.3 629.6L221.7 629.8L223.1 630.1L224.6 630.3L226.0 630.4L227.5 630.5L228.9 630.7L230.3 631.1L230.4 631.1L231.8 632.0L232.3 632.5L233.2 633.7L233.4 634.0L234.1 635.4L234.6 636.8L234.7 637.1L235.0 638.3L235.3 639.7L235.7 641.2L236.0 642.6L236.1 642.9L236.4 644.0L236.6 645.5L236.8 646.9L236.9 648.4L237.0 649.8L237.0 651.2L237.0 652.7L237.0 654.1L237.0 655.6L236.9 657.0L236.9 658.4L236.8 659.9L236.7 661.3L236.6 662.8L236.5 664.2L236.3 665.6L236.3 667.1L236.2 668.5L236.2 670.0L236.2 671.4L236.1 672.8L236.1 672.9L235.9 674.3L235.5 675.7L235.0 677.1L234.7 677.9L234.3 678.6L233.4 680.0L233.2 680.3L232.3 681.5L231.8 682.0L230.9 682.9L230.3 683.4L229.3 684.3L228.9 684.7L227.6 685.8L227.5 685.9L226.0 686.9L225.5 687.2L224.6 687.7L223.1 688.3L221.7 688.7L221.7 688.7L220.3 688.9L218.8 689.1L217.4 689.3L216.0 689.5L214.5 689.7L213.1 690.0L212.6 690.1L211.6 690.4L210.2 690.7L208.8 691.1L207.3 691.5L207.1 691.5L205.9 691.8L204.4 692.0L203.0 692.1L201.6 692.2L200.1 692.2L198.7 692.2L197.2 692.2L195.8 692.2L194.4 692.2L192.9 692.2L191.5 692.1L190.0 691.9L188.6 691.7L187.6 691.5L187.2 691.5L185.7 691.3L184.3 691.1L182.8 690.9L181.4 690.8L180.0 690.6L178.5 690.5L177.1 690.4L175.6 690.4L174.2 690.3L172.8 690.2L171.6 690.1L171.3 690.1L169.9 689.8L168.5 689.4L167.0 688.7L166.9 688.7L165.6 687.6L165.2 687.2L164.1 685.9L164.1 685.8L163.1 684.3L162.7 683.7L162.2 682.9L161.3 681.7L161.1 681.5L159.8 680.0L159.8 680.0L158.5 678.6L158.4 678.5L157.3 677.1L156.9 676.6L156.3 675.7L155.6 674.3L155.5 673.9L155.1 672.8L154.9 671.4L154.8 670.0L154.7 668.5L154.8 667.1L154.8 665.6L154.8 664.2L154.8 662.8L154.8 661.3L154.8 659.9L154.8 658.4L154.7 657.0L154.7 655.6L154.8 654.1L154.8 652.7L155.0 651.2L155.1 649.8L155.3 648.4L155.4 646.9L155.4 645.5L155.4 644.0L155.4 642.6L155.5 641.2L155.5 641.0L155.8 639.7L156.4 638.3L156.9 637.4L157.3 636.8L158.4 635.5L158.4 635.4L159.6 634.0L159.8 633.8L160.9 632.5L161.3 632.2L162.4 631.1L162.7 630.9L164.1 629.7L164.2 629.6L165.6 628.7L166.3 628.2L167.0 627.8L168.5 627.0L169.0 626.8L169.9 626.4L171.3 625.8L172.8 625.3L172.8 625.3L174.2 624.9L175.6 624.5L177.1 624.2L178.5 624.0L178.9 623.9L180.0 623.7L181.4 623.5L182.8 623.1L184.3 622.7L185.3 622.5" fill="none" stroke="#222" stroke-width="0.6" opacity="0.8"/><path d="M177.7 628.2L178.5 628.0L180.0 627.7L181.4 627.5L182.8 627.3L184.3 627.3L185.7 627.3L187.2 627.5L188.6 628.0L189.1 628.2L190.0 629.0L191.0 629.6L191.5 630.1L192.9 630.5L194.4 630.3L195.8 630.2L197.2 630.2L198.7 630.4L200.1 630.8L200.8 631.1L201.6 631.4L203.0 631.9L204.4 632.3L205.8 632.5L205.9 632.5L207.3 632.6L208.8 632.6L209.3 632.5L210.2 632.5L211.6 632.5L212.7 632.5L213.1 632.5L214.5 632.7L216.0 633.0L217.4 633.3L218.8 633.6L220.2 634.0L220.3 634.0L221.7 634.4L223.1 634.7L224.6 635.1L225.6 635.4L226.0 635.5L227.5 636.1L228.6 636.8L228.9 637.1L230.0 638.3L230.3 638.7L230.9 639.7L231.6 641.2L231.8 641.5L232.2 642.6L232.8 644.0L233.2 645.5L233.2 645.5L233.6 646.9L233.8 648.4L234.0 649.8L234.2 651.2L234.3 652.7L234.3 654.1L234.4 655.6L234.4 657.0L234.4 658.4L234.4 659.9L234.3 661.3L234.1 662.8L233.9 664.2L233.8 665.6L233.6 667.1L233.4 668.5L233.2 669.9L233.2 670.0L232.9 671.4L232.5 672.8L231.9 674.3L231.8 674.5L231.0 675.7L230.3 676.6L229.9 677.1L228.9 678.4L228.7 678.6L227.6 680.0L227.5 680.2L226.5 681.5L226.0 682.1L225.3 682.9L224.6 683.6L223.6 684.3L223.1 684.6L221.7 685.3L220.3 685.8L220.3 685.8L218.8 686.1L217.4 686.3L216.0 686.4L214.5 686.6L213.1 686.9L211.7 687.2L211.6 687.2L210.2 687.7L208.8 688.1L207.3 688.6L207.1 688.7L205.9 689.0L204.4 689.4L203.0 689.6L201.6 689.8L200.1 689.9L198.7 690.0L197.2 690.0L195.8 690.0L194.4 690.0L192.9 690.0L191.5 689.9L190.0 689.8L188.6 689.6L187.2 689.4L185.7 689.1L184.3 688.9L182.9 688.7L182.8 688.6L181.4 688.4L180.0 688.2L178.5 688.1L177.1 687.9L175.6 687.9L174.2 687.8L172.8 687.6L171.3 687.3L171.0 687.2L169.9 686.8L168.5 685.8L168.4 685.8L167.1 684.3L167.0 684.2L166.1 682.9L165.6 682.1L165.1 681.5L164.1 680.1L164.0 680.0L162.7 678.6L162.7 678.6L161.3 677.1L161.3 677.1L160.1 675.7L159.8 675.3L159.2 674.3L158.6 672.8L158.4 671.9L158.3 671.4L158.2 670.0L158.3 668.5L158.3 667.1L158.4 666.2L158.4 665.6L158.4 664.3L158.4 664.2L158.3 662.8L158.2 661.3L158.0 659.9L157.9 658.4L157.8 657.0L157.8 655.6L157.9 654.1L158.2 652.7L158.4 651.8L158.5 651.2L159.0 649.8L159.3 648.4L159.4 646.9L159.4 645.5L159.4 644.0L159.4 642.6L159.6 641.2L159.8 640.5L160.1 639.7L160.8 638.3L161.3 637.6L161.8 636.8L162.7 635.6L162.8 635.4L164.1 634.0L164.1 633.9L165.6 632.6L165.7 632.5L167.0 631.6L167.9 631.1L168.5 630.8L169.9 630.3L171.3 630.0L172.8 629.7L172.9 629.6L174.2 629.4L175.6 628.9L177.1 628.4L177.7 628.2" fill="none" stroke="#222" stroke-width="0.6" opacity="0.8"/><path d="M208.9 638.3L210.2 637.9L211.6 637.7L213.1 637.6L214.5 637.7L216.0 637.9L217.4 638.2L217.7 638.3L218.8 638.6L220.3 638.9L221.7 639.3L223.1 639.7L223.3 639.7L224.6 640.3L225.9 641.2L226.0 641.3L227.1 642.6L227.5 643.1L227.9 644.0L228.7 645.5L228.9 646.0L229.3 646.9L229.9 648.4L230.3 649.6L230.4 649.8L230.8 651.2L231.1 652.7L231.3 654.1L231.5 655.6L231.7 657.0L231.8 658.4L231.8 659.9L231.7 661.3L231.5 662.8L231.3 664.2L231.0 665.6L230.7 667.1L230.3 668.3L230.3 668.5L229.8 670.0L229.1 671.4L228.9 671.7L228.1 672.8L227.5 673.7L227.0 674.3L226.0 675.5L225.9 675.7L224.9 677.1L224.6 677.6L223.9 678.6L223.1 679.6L222.8 680.0L221.7 681.2L221.4 681.5L220.3 682.2L218.8 682.9L218.8 682.9L217.4 683.3L216.0 683.6L214.5 683.9L213.1 684.1L212.0 684.3L211.6 684.4L210.2 684.8L208.8 685.2L207.3 685.6L206.9 685.8L205.9 686.1L204.4 686.6L203.0 687.0L202.1 687.2L201.6 687.3L200.1 687.5L198.7 687.7L197.2 687.8L195.8 687.8L194.4 687.8L192.9 687.8L191.5 687.8L190.0 687.7L188.6 687.5L187.2 687.3L186.8 687.2L185.7 687.0L184.3 686.8L182.8 686.5L181.4 686.2L180.0 685.9L179.2 685.8L178.5 685.7L177.1 685.4L175.6 685.2L174.2 685.0L172.8 684.6L172.2 684.3L171.3 683.9L170.2 682.9L169.9 682.6L169.0 681.5L168.5 680.6L168.1 680.0L167.1 678.6L167.0 678.4L166.1 677.1L165.6 676.5L165.0 675.7L164.1 674.4L164.0 674.3L163.4 672.8L163.2 671.4L163.3 670.0L163.4 668.5L163.6 667.1L163.7 665.6L163.8 664.2L163.8 662.8L163.8 661.3L163.7 659.9L163.7 658.4L163.7 657.0L164.0 655.6L164.1 655.3L164.7 654.1L165.6 652.7L165.6 652.7L166.8 651.2L167.0 650.9L168.2 649.8L168.5 649.6L169.9 648.8L171.3 648.6L172.8 648.6L174.2 648.6L175.6 648.6L177.1 648.5L177.7 648.4L178.5 648.2L180.0 647.6L181.4 646.9L181.4 646.9L182.7 645.5L182.8 645.0L183.2 644.0L183.4 642.6L183.9 641.2L184.3 640.9L185.7 640.6L187.2 640.9L187.6 641.2L188.6 641.7L189.9 642.6L190.0 642.7L191.4 644.0L191.5 644.1L192.7 645.5L192.9 645.7L194.2 646.9L194.4 647.0L195.8 647.8L197.2 648.2L198.7 648.3L200.1 648.1L201.6 647.6L202.8 646.9L203.0 646.7L203.9 645.5L204.3 644.0L204.3 642.6L204.4 641.8L204.5 641.2L205.9 639.7L205.9 639.7L207.3 639.0L208.8 638.4L208.9 638.3" fill="none" stroke="#222" stroke-width="0.6" opacity="0.8"/><path d="M213.2 648.4L214.5 647.9L216.0 647.7L217.4 647.8L218.8 648.3L219.1 648.4L220.3 648.8L221.7 649.6L222.0 649.8L223.1 650.5L224.2 651.2L224.6 651.5L225.8 652.7L226.0 653.0L226.7 654.1L227.4 655.6L227.5 655.6L227.9 657.0L228.1 658.4L228.3 659.9L228.3 661.3L228.1 662.8L227.8 664.2L227.5 665.5L227.4 665.6L226.9 667.1L226.2 668.5L226.0 668.8L225.4 670.0L224.6 671.2L224.5 671.4L223.5 672.8L223.1 673.4L222.6 674.3L221.7 675.6L221.6 675.7L220.6 677.1L220.3 677.5L219.3 678.6L218.8 679.0L217.4 680.0L217.4 680.0L216.0 680.7L214.5 681.2L213.3 681.5L213.1 681.5L211.6 681.8L210.2 682.0L208.8 682.3L207.3 682.7L206.7 682.9L205.9 683.2L204.4 683.7L203.0 684.1L202.3 684.3L201.6 684.5L200.1 684.8L198.7 685.1L197.2 685.2L195.8 685.4L194.4 685.4L192.9 685.5L191.5 685.5L190.0 685.4L188.6 685.3L187.2 685.1L185.7 684.9L184.3 684.6L183.1 684.3L182.8 684.3L181.4 683.9L180.0 683.5L178.5 683.1L177.7 682.9L177.1 682.7L175.6 682.2L174.2 681.5L174.2 681.5L172.8 680.3L172.5 680.0L171.5 678.6L171.3 678.3L170.7 677.1L170.1 675.7L169.9 675.0L169.7 674.3L169.4 672.8L169.2 671.4L169.2 670.0L169.2 668.5L169.2 667.1L169.3 665.6L169.4 664.2L169.6 662.8L169.9 661.4L169.9 661.3L170.3 659.9L170.9 658.4L171.3 657.7L171.8 657.0L172.8 655.9L173.3 655.6L174.2 655.0L175.6 654.4L176.7 654.1L177.1 654.0L178.5 653.7L180.0 653.3L181.4 652.9L182.2 652.7L182.8 652.5L184.3 652.1L185.7 651.7L187.2 651.7L188.6 651.8L190.0 652.2L191.3 652.7L191.5 652.7L192.9 653.1L194.4 653.3L195.8 653.4L197.2 653.3L198.7 653.1L200.1 652.9L201.2 652.7L201.6 652.6L203.0 652.3L204.4 652.0L205.9 651.6L206.9 651.2L207.3 651.1L208.8 650.4L210.1 649.8L210.2 649.8L211.6 649.0L213.1 648.4L213.2 648.4" fill="none" stroke="#222" stroke-width="0.6" opacity="0.8"/><path d="M212.7 654.1L213.1 654.1L214.5 654.0L216.0 654.0L216.4 654.1L217.4 654.3L218.8 654.8L220.2 655.6L220.3 655.6L221.7 656.9L221.8 657.0L222.7 658.4L223.1 659.8L223.2 659.9L223.4 661.3L223.4 662.8L223.2 664.2L223.1 664.2L222.8 665.6L222.2 667.1L221.7 668.1L221.5 668.5L220.8 670.0L220.3 670.8L219.9 671.4L219.1 672.8L218.8 673.2L218.1 674.3L217.4 675.2L217.0 675.7L216.0 676.7L215.5 677.1L214.5 677.7L213.1 678.4L212.5 678.6L211.6 678.8L210.2 679.1L208.8 679.4L207.3 679.7L206.1 680.0L205.9 680.1L204.4 680.5L203.0 680.9L201.6 681.4L201.1 681.5L200.1 681.7L198.7 682.0L197.2 682.3L195.8 682.5L194.4 682.7L192.9 682.9L192.4 682.9L191.5 682.9L190.0 683.0L188.9 682.9L188.6 682.9L187.2 682.8L185.7 682.6L184.3 682.3L182.8 681.9L181.4 681.5L181.3 681.5L180.0 680.9L178.5 680.2L178.2 680.0L177.1 679.2L176.4 678.6L175.6 677.5L175.4 677.1L174.7 675.7L174.3 674.3L174.2 673.6L174.1 672.8L173.9 671.4L173.7 670.0L173.6 668.5L173.5 667.1L173.4 665.6L173.6 664.2L173.8 662.8L174.2 661.8L174.4 661.3L175.4 659.9L175.6 659.6L177.1 658.7L177.6 658.4L178.5 658.1L180.0 657.7L181.4 657.3L182.8 657.0L182.8 657.0L184.3 656.7L185.7 656.5L187.2 656.5L188.6 656.7L190.0 656.9L190.4 657.0L191.5 657.2L192.9 657.3L194.4 657.4L195.8 657.2L196.9 657.0L197.2 656.9L198.7 656.6L200.1 656.2L201.6 655.8L202.7 655.6L203.0 655.5L204.4 655.3L205.9 655.1L207.3 654.9L208.8 654.7L210.2 654.5L211.6 654.2L212.7 654.1" fill="none" stroke="#222" stroke-width="0.6" opacity="0.8"/><path d="M200.2 659.9L201.6 659.4L203.0 659.0L204.4 658.7L205.9 658.6L207.3 658.5L208.8 658.5L210.2 658.5L211.6 658.5L213.1 658.6L214.5 658.8L216.0 659.4L216.7 659.9L217.4 660.6L217.8 661.3L218.2 662.8L218.1 664.2L217.7 665.6L217.4 666.3L217.0 667.1L216.2 668.5L216.0 668.9L215.3 670.0L214.5 671.1L214.3 671.4L213.2 672.8L213.1 673.0L211.6 674.3L211.6 674.3L210.2 675.0L208.8 675.7L208.6 675.7L207.3 676.1L205.9 676.5L204.4 677.0L203.9 677.1L203.0 677.4L201.6 677.8L200.1 678.2L198.7 678.6L198.6 678.6L197.2 678.9L195.8 679.3L194.4 679.6L192.9 679.9L192.1 680.0L191.5 680.1L190.0 680.2L188.6 680.1L187.2 680.0L187.0 680.0L185.7 679.8L184.3 679.5L182.8 679.1L181.8 678.6L181.4 678.4L180.0 677.2L179.9 677.1L178.9 675.7L178.5 674.9L178.3 674.3L177.9 672.8L177.6 671.4L177.4 670.0L177.2 668.5L177.2 667.1L177.4 665.6L178.0 664.2L178.5 663.4L179.3 662.8L180.0 662.4L181.4 661.8L182.8 661.5L184.3 661.4L185.6 661.3L185.7 661.3L187.2 661.3L188.6 661.3L188.6 661.3L190.0 661.4L191.5 661.4L192.9 661.4L194.3 661.3L194.4 661.3L195.8 661.2L197.2 660.9L198.7 660.5L200.1 659.9L200.2 659.9" fill="none" stroke="#222" stroke-width="0.6" opacity="0.8"/><path d="M197.2 665.6L197.2 665.6L198.7 665.4L200.1 665.1L201.6 664.9L203.0 664.7L204.4 664.8L205.9 665.1L206.8 665.6L207.3 666.4L207.6 667.1L207.5 668.5L207.3 669.0L206.8 670.0L205.9 670.9L205.4 671.4L204.4 672.0L203.0 672.8L202.9 672.8L201.6 673.4L200.1 673.9L198.9 674.3L198.7 674.3L197.2 674.7L195.8 675.0L194.4 675.4L192.9 675.6L191.5 675.7L190.0 675.5L188.6 675.0L187.2 674.4L186.8 674.3L185.7 673.3L185.3 672.8L184.8 671.4L185.7 670.3L186.5 670.0L187.2 669.9L188.6 669.3L189.8 668.5L190.0 668.4L191.5 667.6L192.5 667.1L192.9 666.9L194.4 666.4L195.8 666.0L197.2 665.6" fill="none" stroke="#222" stroke-width="0.6" opacity="0.8"/></g><path d="M195.8 649.8h0.01M199.8 647.5h0.01M195.8 645.2h0.01M191.8 647.5h0.01M191.8 652.1h0.01M195.8 654.4h0.01M199.8 652.1h0.01M204.9 649.8h0.01M203.9 645.6h0.01M201.0 642.3h0.01M196.9 640.7h0.01M192.6 641.3h0.01M189.0 643.7h0.01M186.9 647.6h0.01M186.9 652.0h0.01M189.0 655.9h0.01M192.6 658.3h0.01M196.9 658.9h0.01M201.0 657.3h0.01M203.9 654.0h0.01M209.3 647.5h0.01M207.9 643.3h0.01M205.1 639.7h0.01M201.3 637.2h0.01M196.9 636.1h0.01M192.4 636.5h0.01M188.3 638.3h0.01M185.0 641.4h0.01M182.8 645.3h0.01M182.1 649.8h0.01M182.8 654.3h0.01M185.0 658.2h0.01M188.3 661.3h0.01M192.4 663.1h0.01M196.9 663.5h0.01M201.3 662.4h0.01M205.1 659.9h0.01M207.9 656.3h0.01M209.3 652.1h0.01M214.1 649.8h0.01M213.5 645.3h0.01M211.8 641.0h0.01M209.1 637.3h0.01M205.6 634.4h0.01M201.5 632.4h0.01M196.9 631.5h0.01M192.4 631.8h0.01M188.0 633.3h0.01M184.1 635.7h0.01M181.0 639.1h0.01M178.8 643.1h0.01M177.7 647.5h0.01M177.7 652.1h0.01M178.8 656.5h0.01M181.0 660.5h0.01M184.1 663.9h0.01M188.0 666.3h0.01M192.4 667.8h0.01M196.9 668.1h0.01M201.5 667.2h0.01M205.6 665.2h0.01M209.1 662.3h0.01M211.8 658.6h0.01M213.5 654.3h0.01M218.5 647.5h0.01M217.6 643.0h0.01M215.8 638.7h0.01M213.1 634.9h0.01M209.8 631.7h0.01M205.9 629.3h0.01M201.5 627.7h0.01M197.0 627.0h0.01M192.3 627.2h0.01M187.9 628.4h0.01M183.7 630.4h0.01M180.1 633.2h0.01M177.0 636.7h0.01M174.8 640.8h0.01M173.4 645.2h0.01M172.9 649.8h0.01M173.4 654.4h0.01M174.8 658.8h0.01M177.0 662.9h0.01M180.1 666.4h0.01M183.7 669.2h0.01M187.9 671.2h0.01M192.3 672.4h0.01M197.0 672.6h0.01M201.5 671.9h0.01M205.9 670.3h0.01M209.8 667.9h0.01M213.1 664.7h0.01M215.8 660.9h0.01M217.6 656.6h0.01M218.5 652.1h0.01M223.2 649.8h0.01M222.9 645.3h0.01M221.7 640.9h0.01M219.9 636.7h0.01M217.4 633.0h0.01M214.4 629.6h0.01M210.8 626.8h0.01M206.8 624.7h0.01M202.5 623.2h0.01M198.1 622.5h0.01M193.5 622.5h0.01M189.1 623.2h0.01M184.8 624.7h0.01M180.8 626.8h0.01M177.2 629.6h0.01M174.2 633.0h0.01M171.7 636.7h0.01M169.9 640.9h0.01M168.7 645.3h0.01M168.4 649.8h0.01M168.7 654.3h0.01M169.9 658.7h0.01M171.7 662.9h0.01M174.2 666.6h0.01M177.2 670.0h0.01M180.8 672.8h0.01M184.8 674.9h0.01M189.1 676.4h0.01M193.5 677.1h0.01M198.1 677.1h0.01M202.5 676.4h0.01M206.8 674.9h0.01M210.8 672.8h0.01M214.4 670.0h0.01M217.4 666.6h0.01M219.9 662.9h0.01M221.7 658.7h0.01M222.9 654.3h0.01M227.7 647.5h0.01M227.1 643.0h0.01M225.8 638.6h0.01M223.9 634.5h0.01M221.4 630.6h0.01M218.4 627.2h0.01M215.0 624.2h0.01M211.1 621.7h0.01M207.0 619.8h0.01M202.6 618.5h0.01M198.1 617.9h0.01M193.5 617.9h0.01M189.0 618.5h0.01M184.6 619.8h0.01M180.5 621.7h0.01M176.6 624.2h0.01M173.2 627.2h0.01M170.2 630.6h0.01M167.7 634.5h0.01M165.8 638.6h0.01M164.5 643.0h0.01M163.9 647.5h0.01M163.9 652.1h0.01M164.5 656.6h0.01M165.8 661.0h0.01M167.7 665.1h0.01M170.2 669.0h0.01M173.2 672.4h0.01M176.6 675.4h0.01M180.5 677.9h0.01M184.6 679.8h0.01M189.0 681.1h0.01M193.5 681.7h0.01M198.1 681.7h0.01M202.6 681.1h0.01M207.0 679.8h0.01M211.1 677.9h0.01M215.0 675.4h0.01M218.4 672.4h0.01M221.4 669.0h0.01M223.9 665.1h0.01M225.8 661.0h0.01M227.1 656.6h0.01M227.7 652.1h0.01M232.4 649.8h0.01M232.1 645.2h0.01M231.2 640.7h0.01M229.8 636.3h0.01M227.9 632.2h0.01M225.4 628.3h0.01M222.5 624.8h0.01M219.1 621.6h0.01M215.4 618.9h0.01M211.4 616.7h0.01M207.1 615.0h0.01M202.7 613.9h0.01M198.1 613.3h0.01M193.5 613.3h0.01M188.9 613.9h0.01M184.5 615.0h0.01M180.2 616.7h0.01M176.2 618.9h0.01M172.5 621.6h0.01M169.1 624.8h0.01M166.2 628.3h0.01M163.7 632.2h0.01M161.8 636.3h0.01M160.4 640.7h0.01M159.5 645.2h0.01M159.2 649.8h0.01M159.5 654.4h0.01M160.4 658.9h0.01M161.8 663.3h0.01M163.7 667.4h0.01M166.2 671.3h0.01M169.1 674.8h0.01M172.5 678.0h0.01M176.2 680.7h0.01M180.2 682.9h0.01M184.5 684.6h0.01M188.9 685.7h0.01M193.5 686.3h0.01M198.1 686.3h0.01M202.7 685.7h0.01M207.1 684.6h0.01M211.4 682.9h0.01M215.4 680.7h0.01M219.1 678.0h0.01M222.5 674.8h0.01M225.4 671.3h0.01M227.9 667.4h0.01M229.8 663.3h0.01M231.2 658.9h0.01M232.1 654.4h0.01M236.9 647.5h0.01M236.4 643.0h0.01M235.4 638.6h0.01M233.9 634.3h0.01M232.0 630.2h0.01M229.6 626.4h0.01M226.8 622.8h0.01M223.7 619.5h0.01M220.2 616.6h0.01M216.4 614.2h0.01M212.3 612.1h0.01M208.1 610.5h0.01M203.7 609.4h0.01M199.2 608.8h0.01M194.7 608.7h0.01M190.1 609.0h0.01M185.7 609.9h0.01M181.4 611.3h0.01M177.2 613.1h0.01M173.3 615.4h0.01M169.6 618.0h0.01M166.3 621.1h0.01M163.3 624.5h0.01M160.7 628.3h0.01M158.6 632.2h0.01M156.9 636.4h0.01M155.6 640.8h0.01M154.9 645.3h0.01M154.7 649.8h0.01M154.9 654.3h0.01M155.6 658.8h0.01M156.9 663.2h0.01M158.6 667.4h0.01M160.7 671.3h0.01M163.3 675.1h0.01M166.3 678.5h0.01M169.6 681.6h0.01M173.3 684.2h0.01M177.2 686.5h0.01M181.4 688.3h0.01M185.7 689.7h0.01M190.1 690.6h0.01M194.7 690.9h0.01M199.2 690.8h0.01M203.7 690.2h0.01M208.1 689.1h0.01M212.3 687.5h0.01M216.4 685.4h0.01M220.2 683.0h0.01M223.7 680.1h0.01M226.8 676.8h0.01M229.6 673.2h0.01M232.0 669.4h0.01M233.9 665.3h0.01M235.4 661.0h0.01M236.4 656.6h0.01M236.9 652.1h0.01" stroke="#1a1a1a" stroke-width="1.45" stroke-linecap="round" opacity="0.8"/><circle cx="195.8" cy="649.8" r="50.8" fill="none" stroke="#111" stroke-width="1.7"/><path d="M186.3 599.8 L195.8 590.5 L205.3 599.8" fill="none" stroke="#111" stroke-width="1.3" stroke-linejoin="round"/><path d="M145.3 641.3 C141.5 639.8 139.2 641.3 139.2 645.8 L139.2 657.8 C139.2 662.8 141.5 663.8 145.3 662.3" fill="#fff" stroke="#111" stroke-width="1.2"/><path d="M246.3 641.3 C250.1 639.8 252.4 641.3 252.4 645.8 L252.4 657.8 C252.4 662.8 250.1 663.8 246.3 662.3" fill="#fff" stroke="#111" stroke-width="1.2"/><clipPath id="hc4"><circle cx="390.9" cy="648.8" r="50.8"/></clipPath><g clip-path="url(#hc4)"><rect x="340.1" y="598" width="101.6" height="101.6" fill="#0c3d73"/><path d="M339.1 597.0L340.5 597.0L342.0 597.0L343.4 597.0L344.8 597.0L346.3 597.0L347.7 597.0L349.2 597.0L350.6 597.0L352.0 597.0L353.5 597.0L354.9 597.0L356.4 597.0L357.8 597.0L359.2 597.0L360.7 597.0L362.1 597.0L363.6 597.0L365.0 597.0L366.4 597.0L367.9 597.0L369.3 597.0L370.7 597.0L372.2 597.0L373.6 597.0L375.1 597.0L376.5 597.0L377.9 597.0L379.4 597.0L380.8 597.0L382.3 597.0L383.7 597.0L385.1 597.0L386.6 597.0L388.0 597.0L389.5 597.0L390.9 597.0L392.3 597.0L393.8 597.0L395.2 597.0L396.7 597.0L398.1 597.0L399.5 597.0L401.0 597.0L402.4 597.0L403.9 597.0L405.3 597.0L406.7 597.0L408.2 597.0L409.6 597.0L411.1 597.0L412.5 597.0L413.9 597.0L415.4 597.0L416.8 597.0L418.2 597.0L419.7 597.0L421.1 597.0L422.6 597.0L424.0 597.0L425.4 597.0L426.9 597.0L428.3 597.0L429.8 597.0L431.2 597.0L432.6 597.0L434.1 597.0L435.5 597.0L437.0 597.0L438.4 597.0L439.8 597.0L441.3 597.0L442.7 597.0L442.7 598.4L442.7 599.9L442.7 601.3L442.7 602.7L442.7 604.2L442.7 605.6L442.7 607.1L442.7 608.5L442.7 609.9L442.7 611.4L442.7 612.8L442.7 614.3L442.7 615.7L442.7 617.1L442.7 618.6L442.7 620.0L442.7 621.5L442.7 622.9L442.7 624.3L442.7 625.8L442.7 627.2L442.7 628.6L442.7 630.1L442.7 631.5L442.7 633.0L442.7 634.4L442.7 635.8L442.7 637.3L442.7 638.7L442.7 640.2L442.7 641.6L442.7 643.0L442.7 644.5L442.7 645.9L442.7 647.4L442.7 648.8L442.7 650.2L442.7 651.7L442.7 653.1L442.7 654.6L442.7 656.0L442.7 657.4L442.7 658.9L442.7 660.3L442.7 661.8L442.7 663.2L442.7 664.6L442.7 666.1L442.7 667.5L442.7 669.0L442.7 670.4L442.7 671.8L442.7 673.3L442.7 674.7L442.7 676.1L442.7 677.6L442.7 679.0L442.7 680.5L442.7 681.9L442.7 683.3L442.7 684.8L442.7 686.2L442.7 687.7L442.7 689.1L442.7 690.5L442.7 692.0L442.7 693.4L442.7 694.9L442.7 696.3L442.7 697.7L442.7 699.2L442.7 700.6L441.3 700.6L439.8 700.6L438.4 700.6L437.0 700.6L435.5 700.6L434.1 700.6L432.6 700.6L431.2 700.6L429.8 700.6L428.3 700.6L426.9 700.6L425.4 700.6L424.0 700.6L422.6 700.6L421.1 700.6L419.7 700.6L418.2 700.6L416.8 700.6L415.4 700.6L413.9 700.6L412.5 700.6L411.1 700.6L409.6 700.6L408.2 700.6L406.7 700.6L405.3 700.6L403.9 700.6L402.4 700.6L401.0 700.6L399.5 700.6L398.1 700.6L396.7 700.6L395.2 700.6L393.8 700.6L392.3 700.6L390.9 700.6L389.5 700.6L388.0 700.6L386.6 700.6L385.1 700.6L383.7 700.6L382.3 700.6L380.8 700.6L379.4 700.6L377.9 700.6L376.5 700.6L375.1 700.6L373.6 700.6L372.2 700.6L370.7 700.6L369.3 700.6L367.9 700.6L366.4 700.6L365.0 700.6L363.6 700.6L362.1 700.6L360.7 700.6L359.2 700.6L357.8 700.6L356.4 700.6L354.9 700.6L353.5 700.6L352.0 700.6L350.6 700.6L349.2 700.6L347.7 700.6L346.3 700.6L344.8 700.6L343.4 700.6L342.0 700.6L340.5 700.6L339.1 700.6L339.1 699.2L339.1 697.7L339.1 696.3L339.1 694.9L339.1 693.4L339.1 692.0L339.1 690.5L339.1 689.1L339.1 687.7L339.1 686.2L339.1 684.8L339.1 683.3L339.1 681.9L339.1 680.5L339.1 679.0L339.1 677.6L339.1 676.1L339.1 674.7L339.1 673.3L339.1 671.8L339.1 670.4L339.1 669.0L339.1 667.5L339.1 666.1L339.1 664.6L339.1 663.2L339.1 661.8L339.1 660.3L339.1 658.9L339.1 657.4L339.1 656.0L339.1 654.6L339.1 653.1L339.1 651.7L339.1 650.2L339.1 648.8L339.1 647.4L339.1 645.9L339.1 644.5L339.1 643.0L339.1 641.6L339.1 640.2L339.1 638.7L339.1 637.3L339.1 635.8L339.1 634.4L339.1 633.0L339.1 631.5L339.1 630.1L339.1 628.6L339.1 627.2L339.1 625.8L339.1 624.3L339.1 622.9L339.1 621.5L339.1 620.0L339.1 618.6L339.1 617.1L339.1 615.7L339.1 614.3L339.1 612.8L339.1 611.4L339.1 609.9L339.1 608.5L339.1 607.1L339.1 605.6L339.1 604.2L339.1 602.7L339.1 601.3L339.1 599.9L339.1 598.4Z" fill="#1a5899" fill-rule="evenodd"/><path d="M339.1 597.0L340.5 597.0L342.0 597.0L343.4 597.0L344.8 597.0L346.3 597.0L347.7 597.0L349.2 597.0L350.6 597.0L352.0 597.0L353.5 597.0L354.9 597.0L356.4 597.0L357.8 597.0L359.2 597.0L360.7 597.0L362.1 597.0L363.6 597.0L365.0 597.0L366.4 597.0L367.9 597.0L369.3 597.0L370.7 597.0L372.2 597.0L373.6 597.0L375.1 597.0L376.5 597.0L377.9 597.0L379.4 597.0L380.8 597.0L382.3 597.0L383.7 597.0L385.1 597.0L386.6 597.0L388.0 597.0L389.5 597.0L390.9 597.0L392.3 597.0L393.8 597.0L395.2 597.0L396.7 597.0L398.1 597.0L399.5 597.0L401.0 597.0L402.4 597.0L403.9 597.0L405.3 597.0L406.7 597.0L408.2 597.0L409.6 597.0L411.1 597.0L412.5 597.0L413.9 597.0L415.4 597.0L416.8 597.0L418.2 597.0L419.7 597.0L421.1 597.0L422.6 597.0L424.0 597.0L425.4 597.0L426.9 597.0L428.3 597.0L429.8 597.0L431.2 597.0L432.6 597.0L434.1 597.0L435.5 597.0L437.0 597.0L438.4 597.0L439.8 597.0L441.3 597.0L442.7 597.0L442.7 598.4L442.7 599.9L442.7 601.3L442.7 602.7L442.7 604.2L442.7 605.6L442.7 607.1L442.7 608.5L442.7 609.9L442.7 611.4L442.7 612.8L442.7 614.3L442.7 615.7L442.7 617.1L442.7 618.6L442.7 620.0L442.7 621.5L442.7 622.9L442.7 624.3L442.7 625.8L442.7 627.2L442.7 628.6L442.7 630.1L442.7 631.5L442.7 633.0L442.7 634.4L442.7 635.8L442.7 637.3L442.7 638.7L442.7 640.2L442.7 641.6L442.7 643.0L442.7 644.5L442.7 645.9L442.7 647.4L442.7 648.8L442.7 650.2L442.7 651.7L442.7 653.1L442.7 654.6L442.7 656.0L442.7 657.4L442.7 658.9L442.7 660.3L442.7 661.8L442.7 663.2L442.7 664.6L442.7 666.1L442.7 667.5L442.7 669.0L442.7 670.4L442.7 671.8L442.7 673.3L442.7 674.7L442.7 676.1L442.7 677.6L442.7 679.0L442.7 680.5L442.7 681.9L442.7 683.3L442.7 684.8L442.7 686.2L442.7 687.7L442.7 689.1L442.7 690.5L442.7 692.0L442.7 693.4L442.7 694.9L442.7 696.3L442.7 697.7L442.7 699.2L442.7 700.6L441.3 700.6L439.8 700.6L438.4 700.6L437.0 700.6L435.5 700.6L434.1 700.6L432.6 700.6L431.2 700.6L429.8 700.6L428.3 700.6L426.9 700.6L425.4 700.6L424.0 700.6L422.6 700.6L421.1 700.6L419.7 700.6L418.2 700.6L416.8 700.6L415.4 700.6L413.9 700.6L412.5 700.6L411.1 700.6L409.6 700.6L408.2 700.6L406.7 700.6L405.3 700.6L403.9 700.6L402.4 700.6L401.0 700.6L399.5 700.6L398.1 700.6L396.7 700.6L395.2 700.6L393.8 700.6L392.3 700.6L390.9 700.6L389.5 700.6L388.0 700.6L386.6 700.6L385.1 700.6L383.7 700.6L382.3 700.6L380.8 700.6L379.4 700.6L377.9 700.6L376.5 700.6L375.1 700.6L373.6 700.6L372.2 700.6L370.7 700.6L369.3 700.6L367.9 700.6L366.4 700.6L365.0 700.6L363.6 700.6L362.1 700.6L360.7 700.6L359.2 700.6L357.8 700.6L356.4 700.6L354.9 700.6L353.5 700.6L352.0 700.6L350.6 700.6L349.2 700.6L347.7 700.6L346.3 700.6L344.8 700.6L343.4 700.6L342.0 700.6L340.5 700.6L339.1 700.6L339.1 699.2L339.1 697.7L339.1 696.3L339.1 694.9L339.1 693.4L339.1 692.0L339.1 690.5L339.1 689.1L339.1 687.7L339.1 686.2L339.1 684.8L339.1 683.3L339.1 681.9L339.1 680.5L339.1 679.0L339.1 677.6L339.1 676.1L339.1 674.7L339.1 673.3L339.1 671.8L339.1 670.4L339.1 669.0L339.1 667.5L339.1 666.1L339.1 664.6L339.1 663.2L339.1 661.8L339.1 660.3L339.1 658.9L339.1 657.4L339.1 656.0L339.1 654.6L339.1 653.1L339.1 651.7L339.1 650.2L339.1 648.8L339.1 647.4L339.1 645.9L339.1 644.5L339.1 643.0L339.1 641.6L339.1 640.2L339.1 638.7L339.1 637.3L339.1 635.8L339.1 634.4L339.1 633.0L339.1 631.5L339.1 630.1L339.1 628.6L339.1 627.2L339.1 625.8L339.1 624.3L339.1 622.9L339.1 621.5L339.1 620.0L339.1 618.6L339.1 617.1L339.1 615.7L339.1 614.3L339.1 612.8L339.1 611.4L339.1 609.9L339.1 608.5L339.1 607.1L339.1 605.6L339.1 604.2L339.1 602.7L339.1 601.3L339.1 599.9L339.1 598.4Z" fill="#2a71b2" fill-rule="evenodd"/><path d="M339.1 597.0L340.5 597.0L342.0 597.0L343.4 597.0L344.8 597.0L346.3 597.0L347.7 597.0L349.2 597.0L350.6 597.0L352.0 597.0L353.5 597.0L354.9 597.0L356.4 597.0L357.8 597.0L359.2 597.0L360.7 597.0L362.1 597.0L363.6 597.0L365.0 597.0L366.4 597.0L367.9 597.0L369.3 597.0L370.7 597.0L372.2 597.0L373.6 597.0L375.1 597.0L376.5 597.0L377.9 597.0L379.4 597.0L380.8 597.0L382.3 597.0L383.7 597.0L385.1 597.0L386.6 597.0L388.0 597.0L389.5 597.0L390.9 597.0L392.3 597.0L393.8 597.0L395.2 597.0L396.7 597.0L398.1 597.0L399.5 597.0L401.0 597.0L402.4 597.0L403.9 597.0L405.3 597.0L406.7 597.0L408.2 597.0L409.6 597.0L411.1 597.0L412.5 597.0L413.9 597.0L415.4 597.0L416.8 597.0L418.2 597.0L419.7 597.0L421.1 597.0L422.6 597.0L424.0 597.0L425.4 597.0L426.9 597.0L428.3 597.0L429.8 597.0L431.2 597.0L432.6 597.0L434.1 597.0L435.5 597.0L437.0 597.0L438.4 597.0L439.8 597.0L441.3 597.0L442.7 597.0L442.7 598.4L442.7 599.9L442.7 601.3L442.7 602.7L442.7 604.2L442.7 605.6L442.7 607.1L442.7 608.5L442.7 609.9L442.7 611.4L442.7 612.8L442.7 614.3L442.7 615.7L442.7 617.1L442.7 618.6L442.7 620.0L442.7 621.5L442.7 622.9L442.7 624.3L442.7 625.8L442.7 627.2L442.7 628.6L442.7 630.1L442.7 631.5L442.7 633.0L442.7 634.4L442.7 635.8L442.7 637.3L442.7 638.7L442.7 640.2L442.7 641.6L442.7 643.0L442.7 644.5L442.7 645.9L442.7 647.4L442.7 648.8L442.7 650.2L442.7 651.7L442.7 653.1L442.7 654.6L442.7 656.0L442.7 657.4L442.7 658.9L442.7 660.3L442.7 661.8L442.7 663.2L442.7 664.6L442.7 666.1L442.7 667.5L442.7 669.0L442.7 670.4L442.7 671.8L442.7 673.3L442.7 674.7L442.7 676.1L442.7 677.6L442.7 679.0L442.7 680.5L442.7 681.9L442.7 683.3L442.7 684.8L442.7 686.2L442.7 687.7L442.7 689.1L442.7 690.5L442.7 692.0L442.7 693.4L442.7 694.9L442.7 696.3L442.7 697.7L442.7 699.2L442.7 700.6L441.3 700.6L439.8 700.6L438.4 700.6L437.0 700.6L435.5 700.6L434.1 700.6L432.6 700.6L431.2 700.6L429.8 700.6L428.3 700.6L426.9 700.6L425.4 700.6L424.0 700.6L422.6 700.6L421.1 700.6L419.7 700.6L418.2 700.6L416.8 700.6L415.4 700.6L413.9 700.6L412.5 700.6L411.1 700.6L409.6 700.6L408.2 700.6L406.7 700.6L405.3 700.6L403.9 700.6L402.4 700.6L401.0 700.6L399.5 700.6L398.1 700.6L396.7 700.6L395.2 700.6L393.8 700.6L392.3 700.6L390.9 700.6L389.5 700.6L388.0 700.6L386.6 700.6L385.1 700.6L383.7 700.6L382.3 700.6L380.8 700.6L379.4 700.6L377.9 700.6L376.5 700.6L375.1 700.6L373.6 700.6L372.2 700.6L370.7 700.6L369.3 700.6L367.9 700.6L366.4 700.6L365.0 700.6L363.6 700.6L362.1 700.6L360.7 700.6L359.2 700.6L357.8 700.6L356.4 700.6L354.9 700.6L353.5 700.6L352.0 700.6L350.6 700.6L349.2 700.6L347.7 700.6L346.3 700.6L344.8 700.6L343.4 700.6L342.0 700.6L340.5 700.6L339.1 700.6L339.1 699.2L339.1 697.7L339.1 696.3L339.1 694.9L339.1 693.4L339.1 692.0L339.1 690.5L339.1 689.1L339.1 687.7L339.1 686.2L339.1 684.8L339.1 683.3L339.1 681.9L339.1 680.5L339.1 679.0L339.1 677.6L339.1 676.1L339.1 674.7L339.1 673.3L339.1 671.8L339.1 670.4L339.1 669.0L339.1 667.5L339.1 666.1L339.1 664.6L339.1 663.2L339.1 661.8L339.1 660.3L339.1 658.9L339.1 657.4L339.1 656.0L339.1 654.6L339.1 653.1L339.1 651.7L339.1 650.2L339.1 648.8L339.1 647.4L339.1 645.9L339.1 644.5L339.1 643.0L339.1 641.6L339.1 640.2L339.1 638.7L339.1 637.3L339.1 635.8L339.1 634.4L339.1 633.0L339.1 631.5L339.1 630.1L339.1 628.6L339.1 627.2L339.1 625.8L339.1 624.3L339.1 622.9L339.1 621.5L339.1 620.0L339.1 618.6L339.1 617.1L339.1 615.7L339.1 614.3L339.1 612.8L339.1 611.4L339.1 609.9L339.1 608.5L339.1 607.1L339.1 605.6L339.1 604.2L339.1 602.7L339.1 601.3L339.1 599.9L339.1 598.4Z" fill="#3a87bd" fill-rule="evenodd"/><path d="M339.1 597.0L340.5 597.0L342.0 597.0L343.4 597.0L344.8 597.0L346.3 597.0L347.7 597.0L349.2 597.0L350.6 597.0L352.0 597.0L353.5 597.0L354.9 597.0L356.4 597.0L357.8 597.0L359.2 597.0L360.7 597.0L362.1 597.0L363.6 597.0L365.0 597.0L366.4 597.0L367.9 597.0L369.3 597.0L370.7 597.0L372.2 597.0L373.6 597.0L375.1 597.0L376.5 597.0L377.9 597.0L379.4 597.0L380.8 597.0L382.3 597.0L383.7 597.0L385.1 597.0L386.6 597.0L388.0 597.0L389.5 597.0L390.9 597.0L392.3 597.0L393.8 597.0L395.2 597.0L396.7 597.0L398.1 597.0L399.5 597.0L401.0 597.0L402.4 597.0L403.9 597.0L405.3 597.0L406.7 597.0L408.2 597.0L409.6 597.0L411.1 597.0L412.5 597.0L413.9 597.0L415.4 597.0L416.8 597.0L418.2 597.0L419.7 597.0L421.1 597.0L422.6 597.0L424.0 597.0L425.4 597.0L426.9 597.0L428.3 597.0L429.8 597.0L431.2 597.0L432.6 597.0L434.1 597.0L435.5 597.0L437.0 597.0L438.4 597.0L439.8 597.0L441.3 597.0L442.7 597.0L442.7 598.4L442.7 599.9L442.7 601.3L442.7 602.7L442.7 604.2L442.7 605.6L442.7 607.1L442.7 608.5L442.7 609.9L442.7 611.4L442.7 612.8L442.7 614.3L442.7 615.7L442.7 617.1L442.7 618.6L442.7 620.0L442.7 621.5L442.7 622.9L442.7 624.3L442.7 625.8L442.7 627.2L442.7 628.6L442.7 630.1L442.7 631.5L442.7 633.0L442.7 634.4L442.7 635.8L442.7 637.3L442.7 638.7L442.7 640.2L442.7 641.6L442.7 643.0L442.7 644.5L442.7 645.9L442.7 647.4L442.7 648.8L442.7 650.2L442.7 651.7L442.7 653.1L442.7 654.6L442.7 656.0L442.7 657.4L442.7 658.9L442.7 660.3L442.7 661.8L442.7 663.2L442.7 664.6L442.7 666.1L442.7 667.5L442.7 669.0L442.7 670.4L442.7 671.8L442.7 673.3L442.7 674.7L442.7 676.1L442.7 677.6L442.7 679.0L442.7 680.5L442.7 681.9L442.7 683.3L442.7 684.8L442.7 686.2L442.7 687.7L442.7 689.1L442.7 690.5L442.7 692.0L442.7 693.4L442.7 694.9L442.7 696.3L442.7 697.7L442.7 699.2L442.7 700.6L441.3 700.6L439.8 700.6L438.4 700.6L437.0 700.6L435.5 700.6L434.1 700.6L432.6 700.6L431.2 700.6L429.8 700.6L428.3 700.6L426.9 700.6L425.4 700.6L424.0 700.6L422.6 700.6L421.1 700.6L419.7 700.6L418.2 700.6L416.8 700.6L415.4 700.6L413.9 700.6L412.5 700.6L411.1 700.6L409.6 700.6L408.2 700.6L406.7 700.6L405.3 700.6L403.9 700.6L402.4 700.6L401.0 700.6L399.5 700.6L398.1 700.6L396.7 700.6L395.2 700.6L393.8 700.6L392.3 700.6L390.9 700.6L389.5 700.6L388.0 700.6L386.6 700.6L385.1 700.6L383.7 700.6L382.3 700.6L380.8 700.6L379.4 700.6L377.9 700.6L376.5 700.6L375.1 700.6L373.6 700.6L372.2 700.6L370.7 700.6L369.3 700.6L367.9 700.6L366.4 700.6L365.0 700.6L363.6 700.6L362.1 700.6L360.7 700.6L359.2 700.6L357.8 700.6L356.4 700.6L354.9 700.6L353.5 700.6L352.0 700.6L350.6 700.6L349.2 700.6L347.7 700.6L346.3 700.6L344.8 700.6L343.4 700.6L342.0 700.6L340.5 700.6L339.1 700.6L339.1 699.2L339.1 697.7L339.1 696.3L339.1 694.9L339.1 693.4L339.1 692.0L339.1 690.5L339.1 689.1L339.1 687.7L339.1 686.2L339.1 684.8L339.1 683.3L339.1 681.9L339.1 680.5L339.1 679.0L339.1 677.6L339.1 676.1L339.1 674.7L339.1 673.3L339.1 671.8L339.1 670.4L339.1 669.0L339.1 667.5L339.1 666.1L339.1 664.6L339.1 663.2L339.1 661.8L339.1 660.3L339.1 658.9L339.1 657.4L339.1 656.0L339.1 654.6L339.1 653.1L339.1 651.7L339.1 650.2L339.1 648.8L339.1 647.4L339.1 645.9L339.1 644.5L339.1 643.0L339.1 641.6L339.1 640.2L339.1 638.7L339.1 637.3L339.1 635.8L339.1 634.4L339.1 633.0L339.1 631.5L339.1 630.1L339.1 628.6L339.1 627.2L339.1 625.8L339.1 624.3L339.1 622.9L339.1 621.5L339.1 620.0L339.1 618.6L339.1 617.1L339.1 615.7L339.1 614.3L339.1 612.8L339.1 611.4L339.1 609.9L339.1 608.5L339.1 607.1L339.1 605.6L339.1 604.2L339.1 602.7L339.1 601.3L339.1 599.9L339.1 598.4Z" fill="#569fc9" fill-rule="evenodd"/><path d="M339.1 597.0L340.5 597.0L342.0 597.0L343.4 597.0L344.8 597.0L346.3 597.0L347.7 597.0L349.2 597.0L350.6 597.0L352.0 597.0L353.5 597.0L354.9 597.0L356.4 597.0L357.8 597.0L359.2 597.0L360.7 597.0L362.1 597.0L363.6 597.0L365.0 597.0L366.4 597.0L367.9 597.0L369.3 597.0L370.7 597.0L372.2 597.0L373.6 597.0L375.1 597.0L376.5 597.0L377.9 597.0L379.4 597.0L380.8 597.0L382.3 597.0L383.7 597.0L385.1 597.0L386.6 597.0L388.0 597.0L389.5 597.0L390.9 597.0L392.3 597.0L393.8 597.0L395.2 597.0L396.7 597.0L398.1 597.0L399.5 597.0L401.0 597.0L402.4 597.0L403.9 597.0L405.3 597.0L406.7 597.0L408.2 597.0L409.6 597.0L411.1 597.0L412.5 597.0L413.9 597.0L415.4 597.0L416.8 597.0L418.2 597.0L419.7 597.0L421.1 597.0L422.6 597.0L424.0 597.0L425.4 597.0L426.9 597.0L428.3 597.0L429.8 597.0L431.2 597.0L432.6 597.0L434.1 597.0L435.5 597.0L437.0 597.0L438.4 597.0L439.8 597.0L441.3 597.0L442.7 597.0L442.7 598.4L442.7 599.9L442.7 601.3L442.7 602.7L442.7 604.2L442.7 605.6L442.7 607.1L442.7 608.5L442.7 609.9L442.7 611.4L442.7 612.8L442.7 614.3L442.7 615.7L442.7 617.1L442.7 618.6L442.7 620.0L442.7 621.5L442.7 622.9L442.7 624.3L442.7 625.8L442.7 627.2L442.7 628.6L442.7 630.1L442.7 631.5L442.7 633.0L442.7 634.4L442.7 635.8L442.7 637.3L442.7 638.7L442.7 640.2L442.7 641.6L442.7 643.0L442.7 644.5L442.7 645.9L442.7 647.4L442.7 648.8L442.7 650.2L442.7 651.7L442.7 653.1L442.7 654.6L442.7 656.0L442.7 657.4L442.7 658.9L442.7 660.3L442.7 661.8L442.7 663.2L442.7 664.6L442.7 666.1L442.7 667.5L442.7 669.0L442.7 670.4L442.7 671.8L442.7 673.3L442.7 674.7L442.7 676.1L442.7 677.6L442.7 679.0L442.7 680.5L442.7 681.9L442.7 683.3L442.7 684.8L442.7 686.2L442.7 687.7L442.7 689.1L442.7 690.5L442.7 692.0L442.7 693.4L442.7 694.9L442.7 696.3L442.7 697.7L442.7 699.2L442.7 700.6L441.3 700.6L439.8 700.6L438.4 700.6L437.0 700.6L435.5 700.6L434.1 700.6L432.6 700.6L431.2 700.6L429.8 700.6L428.3 700.6L426.9 700.6L425.4 700.6L424.0 700.6L422.6 700.6L421.1 700.6L419.7 700.6L418.2 700.6L416.8 700.6L415.4 700.6L413.9 700.6L412.5 700.6L411.1 700.6L409.6 700.6L408.2 700.6L406.7 700.6L405.3 700.6L403.9 700.6L402.4 700.6L401.0 700.6L399.5 700.6L398.1 700.6L396.7 700.6L395.2 700.6L393.8 700.6L392.3 700.6L390.9 700.6L389.5 700.6L388.0 700.6L386.6 700.6L385.1 700.6L383.7 700.6L382.3 700.6L380.8 700.6L379.4 700.6L377.9 700.6L376.5 700.6L375.1 700.6L373.6 700.6L372.2 700.6L370.7 700.6L369.3 700.6L367.9 700.6L366.4 700.6L365.0 700.6L363.6 700.6L362.1 700.6L360.7 700.6L359.2 700.6L357.8 700.6L356.4 700.6L354.9 700.6L353.5 700.6L352.0 700.6L350.6 700.6L349.2 700.6L347.7 700.6L346.3 700.6L344.8 700.6L343.4 700.6L342.0 700.6L340.5 700.6L339.1 700.6L339.1 699.2L339.1 697.7L339.1 696.3L339.1 694.9L339.1 693.4L339.1 692.0L339.1 690.5L339.1 689.1L339.1 687.7L339.1 686.2L339.1 684.8L339.1 683.3L339.1 681.9L339.1 680.5L339.1 679.0L339.1 677.6L339.1 676.1L339.1 674.7L339.1 673.3L339.1 671.8L339.1 670.4L339.1 669.0L339.1 667.5L339.1 666.1L339.1 664.6L339.1 663.2L339.1 661.8L339.1 660.3L339.1 658.9L339.1 657.4L339.1 656.0L339.1 654.6L339.1 653.1L339.1 651.7L339.1 650.2L339.1 648.8L339.1 647.4L339.1 645.9L339.1 644.5L339.1 643.0L339.1 641.6L339.1 640.2L339.1 638.7L339.1 637.3L339.1 635.8L339.1 634.4L339.1 633.0L339.1 631.5L339.1 630.1L339.1 628.6L339.1 627.2L339.1 625.8L339.1 624.3L339.1 622.9L339.1 621.5L339.1 620.0L339.1 618.6L339.1 617.1L339.1 615.7L339.1 614.3L339.1 612.8L339.1 611.4L339.1 609.9L339.1 608.5L339.1 607.1L339.1 605.6L339.1 604.2L339.1 602.7L339.1 601.3L339.1 599.9L339.1 598.4Z" fill="#7eb8d7" fill-rule="evenodd"/><path d="M339.1 597.0L340.5 597.0L342.0 597.0L343.4 597.0L344.8 597.0L346.3 597.0L347.7 597.0L349.2 597.0L350.6 597.0L352.0 597.0L353.5 597.0L354.9 597.0L356.4 597.0L357.8 597.0L359.2 597.0L360.7 597.0L362.1 597.0L363.6 597.0L365.0 597.0L366.4 597.0L367.9 597.0L369.3 597.0L370.7 597.0L372.2 597.0L373.6 597.0L375.1 597.0L376.5 597.0L377.9 597.0L379.4 597.0L380.8 597.0L382.3 597.0L383.7 597.0L385.1 597.0L386.6 597.0L388.0 597.0L389.5 597.0L390.9 597.0L392.3 597.0L393.8 597.0L395.2 597.0L396.7 597.0L398.1 597.0L399.5 597.0L401.0 597.0L402.4 597.0L403.9 597.0L405.3 597.0L406.7 597.0L408.2 597.0L409.6 597.0L411.1 597.0L412.5 597.0L413.9 597.0L415.4 597.0L416.8 597.0L418.2 597.0L419.7 597.0L421.1 597.0L422.6 597.0L424.0 597.0L425.4 597.0L426.9 597.0L428.3 597.0L429.8 597.0L431.2 597.0L432.6 597.0L434.1 597.0L435.5 597.0L437.0 597.0L438.4 597.0L439.8 597.0L441.3 597.0L442.7 597.0L442.7 598.4L442.7 599.9L442.7 601.3L442.7 602.7L442.7 604.2L442.7 605.6L442.7 607.1L442.7 608.5L442.7 609.9L442.7 611.4L442.7 612.8L442.7 614.3L442.7 615.7L442.7 617.1L442.7 618.6L442.7 620.0L442.7 621.5L442.7 622.9L442.7 624.3L442.7 625.8L442.7 627.2L442.7 628.6L442.7 630.1L442.7 631.5L442.7 633.0L442.7 634.4L442.7 635.8L442.7 637.3L442.7 638.7L442.7 640.2L442.7 641.6L442.7 643.0L442.7 644.5L442.7 645.9L442.7 647.4L442.7 648.8L442.7 650.2L442.7 651.7L442.7 653.1L442.7 654.6L442.7 656.0L442.7 657.4L442.7 658.9L442.7 660.3L442.7 661.8L442.7 663.2L442.7 664.6L442.7 666.1L442.7 667.5L442.7 669.0L442.7 670.4L442.7 671.8L442.7 673.3L442.7 674.7L442.7 676.1L442.7 677.6L442.7 679.0L442.7 680.5L442.7 681.9L442.7 683.3L442.7 684.8L442.7 686.2L442.7 687.7L442.7 689.1L442.7 690.5L442.7 692.0L442.7 693.4L442.7 694.9L442.7 696.3L442.7 697.7L442.7 699.2L442.7 700.6L441.3 700.6L439.8 700.6L438.4 700.6L437.0 700.6L435.5 700.6L434.1 700.6L432.6 700.6L431.2 700.6L429.8 700.6L428.3 700.6L426.9 700.6L425.4 700.6L424.0 700.6L422.6 700.6L421.1 700.6L419.7 700.6L418.2 700.6L416.8 700.6L415.4 700.6L413.9 700.6L412.5 700.6L411.1 700.6L409.6 700.6L408.2 700.6L406.7 700.6L405.3 700.6L403.9 700.6L402.4 700.6L401.0 700.6L399.5 700.6L398.1 700.6L396.7 700.6L395.2 700.6L393.8 700.6L392.3 700.6L390.9 700.6L389.5 700.6L388.0 700.6L386.6 700.6L385.1 700.6L383.7 700.6L382.3 700.6L380.8 700.6L379.4 700.6L377.9 700.6L376.5 700.6L375.1 700.6L373.6 700.6L372.2 700.6L370.7 700.6L369.3 700.6L367.9 700.6L366.4 700.6L365.0 700.6L363.6 700.6L362.1 700.6L360.7 700.6L359.2 700.6L357.8 700.6L356.4 700.6L354.9 700.6L353.5 700.6L352.0 700.6L350.6 700.6L349.2 700.6L347.7 700.6L346.3 700.6L344.8 700.6L343.4 700.6L342.0 700.6L340.5 700.6L339.1 700.6L339.1 699.2L339.1 697.7L339.1 696.3L339.1 694.9L339.1 693.4L339.1 692.0L339.1 690.5L339.1 689.1L339.1 687.7L339.1 686.2L339.1 684.8L339.1 683.3L339.1 681.9L339.1 680.5L339.1 679.0L339.1 677.6L339.1 676.1L339.1 674.7L339.1 673.3L339.1 671.8L339.1 670.4L339.1 669.0L339.1 667.5L339.1 666.1L339.1 664.6L339.1 663.2L339.1 661.8L339.1 660.3L339.1 658.9L339.1 657.4L339.1 656.0L339.1 654.6L339.1 653.1L339.1 651.7L339.1 650.2L339.1 648.8L339.1 647.4L339.1 645.9L339.1 644.5L339.1 643.0L339.1 641.6L339.1 640.2L339.1 638.7L339.1 637.3L339.1 635.8L339.1 634.4L339.1 633.0L339.1 631.5L339.1 630.1L339.1 628.6L339.1 627.2L339.1 625.8L339.1 624.3L339.1 622.9L339.1 621.5L339.1 620.0L339.1 618.6L339.1 617.1L339.1 615.7L339.1 614.3L339.1 612.8L339.1 611.4L339.1 609.9L339.1 608.5L339.1 607.1L339.1 605.6L339.1 604.2L339.1 602.7L339.1 601.3L339.1 599.9L339.1 598.4ZM352.0 614.0L351.9 614.3L351.6 615.7L352.0 616.1L353.5 615.9L353.9 615.7L354.9 614.7L355.6 614.3L354.9 613.4L353.5 613.2ZM426.9 687.2L426.3 687.7L426.9 688.8L427.7 689.1L428.3 689.2L428.6 689.1L429.8 688.5L430.5 687.7L429.8 686.8L428.3 686.6Z" fill="#a2cde3" fill-rule="evenodd"/><path d="M339.1 597.0L340.5 597.0L342.0 597.0L343.4 597.0L344.8 597.0L346.3 597.0L347.7 597.0L349.2 597.0L350.6 597.0L352.0 597.0L353.5 597.0L354.9 597.0L356.4 597.0L357.8 597.0L359.2 597.0L360.7 597.0L362.1 597.0L363.6 597.0L365.0 597.0L366.4 597.0L367.9 597.0L369.3 597.0L370.7 597.0L372.2 597.0L373.6 597.0L375.1 597.0L376.5 597.0L377.9 597.0L379.4 597.0L380.8 597.0L382.3 597.0L383.7 597.0L385.1 597.0L386.6 597.0L388.0 597.0L389.5 597.0L390.9 597.0L392.3 597.0L393.8 597.0L395.2 597.0L396.7 597.0L398.1 597.0L399.5 597.0L401.0 597.0L402.4 597.0L403.9 597.0L405.3 597.0L406.7 597.0L408.2 597.0L409.6 597.0L411.1 597.0L412.5 597.0L413.9 597.0L415.4 597.0L416.8 597.0L418.2 597.0L419.7 597.0L421.1 597.0L422.6 597.0L424.0 597.0L425.4 597.0L426.9 597.0L428.3 597.0L429.8 597.0L431.2 597.0L432.6 597.0L434.1 597.0L435.5 597.0L437.0 597.0L438.4 597.0L439.8 597.0L441.3 597.0L442.7 597.0L442.7 598.4L442.7 599.9L442.7 601.3L442.7 602.7L442.7 604.2L442.7 605.6L442.7 607.1L442.7 608.5L442.7 609.9L442.7 611.4L442.7 612.8L442.7 614.3L442.7 615.7L442.7 617.1L442.7 618.6L442.7 620.0L442.7 621.5L442.7 622.9L442.7 624.3L442.7 625.8L442.7 627.2L442.7 628.6L442.7 630.1L442.7 631.5L442.7 633.0L442.7 634.4L442.7 635.8L442.7 637.3L442.7 638.7L442.7 640.2L442.7 641.6L442.7 643.0L442.7 644.5L442.7 645.9L442.7 647.4L442.7 648.8L442.7 650.2L442.7 651.7L442.7 653.1L442.7 654.6L442.7 656.0L442.7 657.4L442.7 658.9L442.7 660.3L442.7 661.8L442.7 663.2L442.7 664.6L442.7 666.1L442.7 667.5L442.7 669.0L442.7 670.4L442.7 671.8L442.7 673.3L442.7 674.7L442.7 676.1L442.7 677.6L442.7 679.0L442.7 680.5L442.7 681.9L442.7 683.3L442.7 684.8L442.7 686.2L442.7 687.7L442.7 689.1L442.7 690.5L442.7 692.0L442.7 693.4L442.7 694.9L442.7 696.3L442.7 697.7L442.7 699.2L442.7 700.6L441.3 700.6L439.8 700.6L438.4 700.6L437.0 700.6L435.5 700.6L434.1 700.6L432.6 700.6L431.2 700.6L429.8 700.6L428.3 700.6L426.9 700.6L425.4 700.6L424.0 700.6L422.6 700.6L421.1 700.6L419.7 700.6L418.2 700.6L416.8 700.6L415.4 700.6L413.9 700.6L412.5 700.6L411.1 700.6L409.6 700.6L408.2 700.6L406.7 700.6L405.3 700.6L403.9 700.6L402.4 700.6L401.0 700.6L399.5 700.6L398.1 700.6L396.7 700.6L395.2 700.6L393.8 700.6L392.3 700.6L390.9 700.6L389.5 700.6L388.0 700.6L386.6 700.6L385.1 700.6L383.7 700.6L382.3 700.6L380.8 700.6L379.4 700.6L377.9 700.6L376.5 700.6L375.1 700.6L373.6 700.6L372.2 700.6L370.7 700.6L369.3 700.6L367.9 700.6L366.4 700.6L365.0 700.6L363.6 700.6L362.1 700.6L360.7 700.6L359.2 700.6L357.8 700.6L356.4 700.6L354.9 700.6L353.5 700.6L352.0 700.6L350.6 700.6L349.2 700.6L347.7 700.6L346.3 700.6L344.8 700.6L343.4 700.6L342.0 700.6L340.5 700.6L339.1 700.6L339.1 699.2L339.1 697.7L339.1 696.3L339.1 694.9L339.1 693.4L339.1 692.0L339.1 690.5L339.1 689.1L339.1 687.7L339.1 686.2L339.1 684.8L339.1 683.3L339.1 681.9L339.1 680.5L339.1 679.0L339.1 677.6L339.1 676.1L339.1 674.7L339.1 673.3L339.1 671.8L339.1 670.4L339.1 669.0L339.1 667.5L339.1 666.1L339.1 664.6L339.1 663.2L339.1 661.8L339.1 660.3L339.1 658.9L339.1 657.4L339.1 656.0L339.1 654.6L339.1 653.1L339.1 651.7L339.1 650.2L339.1 648.8L339.1 647.4L339.1 645.9L339.1 644.5L339.1 643.0L339.1 641.6L339.1 640.2L339.1 638.7L339.1 637.3L339.1 635.8L339.1 634.4L339.1 633.0L339.1 631.5L339.1 630.1L339.1 628.6L339.1 627.2L339.1 625.8L339.1 624.3L339.1 622.9L339.1 621.5L339.1 620.0L339.1 618.6L339.1 617.1L339.1 615.7L339.1 614.3L339.1 612.8L339.1 611.4L339.1 609.9L339.1 608.5L339.1 607.1L339.1 605.6L339.1 604.2L339.1 602.7L339.1 601.3L339.1 599.9L339.1 598.4ZM352.0 606.6L351.5 607.1L350.6 608.1L350.4 608.5L349.5 609.9L349.2 610.5L348.7 611.4L347.7 612.8L347.7 612.8L347.0 614.3L346.6 615.7L346.6 617.1L347.2 618.6L347.7 619.2L348.5 620.0L349.2 620.6L350.6 621.4L350.6 621.5L352.0 622.0L353.5 622.1L354.9 622.1L356.4 621.8L357.5 621.5L357.8 621.4L359.2 620.7L360.2 620.0L360.7 619.6L361.5 618.6L362.1 617.6L362.3 617.1L362.8 615.7L362.9 614.3L362.8 612.8L362.3 611.4L362.1 611.0L361.5 609.9L360.7 608.8L360.5 608.5L359.2 607.2L359.1 607.1L357.8 606.3L356.4 605.9L354.9 605.7L353.5 605.9ZM429.8 681.7L429.1 681.9L428.3 682.1L426.9 682.7L425.4 683.3L425.3 683.3L424.0 683.9L422.6 684.8L422.6 684.8L421.2 686.2L421.1 686.4L420.6 687.7L420.6 689.1L421.1 690.2L421.3 690.5L422.6 691.5L423.3 692.0L424.0 692.3L425.4 692.8L426.9 693.1L428.3 693.1L429.8 692.9L431.2 692.5L432.6 692.0L432.7 692.0L434.1 691.3L435.5 690.5L435.5 690.5L437.0 689.5L437.7 689.1L438.4 688.3L439.0 687.7L438.8 686.2L438.4 685.8L437.7 684.8L437.0 684.2L436.0 683.3L435.5 683.0L434.1 682.1L433.6 681.9L432.6 681.6L431.2 681.4ZM359.2 663.8L357.9 664.6L357.8 664.7L356.4 665.8L356.0 666.1L354.9 667.0L354.1 667.5L353.5 668.2L352.8 669.0L353.1 670.4L353.5 670.6L354.9 671.1L356.4 671.4L357.7 671.8L357.8 671.8L359.2 672.2L360.7 672.4L362.1 672.3L363.6 671.9L363.8 671.8L365.0 671.0L365.6 670.4L366.4 669.2L366.6 669.0L366.8 667.5L366.4 666.5L366.3 666.1L365.0 664.7L364.9 664.6L363.6 663.9L362.1 663.4L360.7 663.4Z" fill="#c2ddec" fill-rule="evenodd"/><path d="M339.1 597.0L340.5 597.0L342.0 597.0L343.4 597.0L344.8 597.0L346.3 597.0L347.7 597.0L349.2 597.0L350.6 597.0L352.0 597.0L353.5 597.0L354.9 597.0L356.4 597.0L357.8 597.0L359.2 597.0L360.7 597.0L362.1 597.0L363.6 597.0L365.0 597.0L366.4 597.0L367.9 597.0L369.3 597.0L370.7 597.0L372.2 597.0L373.6 597.0L375.1 597.0L376.5 597.0L377.9 597.0L379.4 597.0L380.8 597.0L382.3 597.0L383.7 597.0L385.1 597.0L386.6 597.0L388.0 597.0L389.5 597.0L390.9 597.0L392.3 597.0L393.8 597.0L395.2 597.0L396.7 597.0L398.1 597.0L399.5 597.0L401.0 597.0L402.4 597.0L403.9 597.0L405.3 597.0L406.7 597.0L408.2 597.0L409.6 597.0L411.1 597.0L412.5 597.0L413.9 597.0L415.4 597.0L416.8 597.0L418.2 597.0L419.7 597.0L421.1 597.0L422.6 597.0L424.0 597.0L425.4 597.0L426.9 597.0L428.3 597.0L429.8 597.0L431.2 597.0L432.6 597.0L434.1 597.0L435.5 597.0L437.0 597.0L438.4 597.0L439.8 597.0L441.3 597.0L442.7 597.0L442.7 598.4L442.7 599.9L442.7 601.3L442.7 602.7L442.7 604.2L442.7 605.6L442.7 607.1L442.7 608.5L442.7 609.9L442.7 611.4L442.7 612.8L442.7 614.3L442.7 615.7L442.7 617.1L442.7 618.6L442.7 620.0L442.7 621.5L442.7 622.9L442.7 624.3L442.7 625.8L442.7 627.2L442.7 628.6L442.7 630.1L442.7 631.5L442.7 633.0L442.7 634.4L442.7 635.8L442.7 637.3L442.7 638.7L442.7 640.2L442.7 641.6L442.7 643.0L442.7 644.5L442.7 645.9L442.7 647.4L442.7 648.8L442.7 650.2L442.7 651.7L442.7 653.1L442.7 654.6L442.7 656.0L442.7 657.4L442.7 658.9L442.7 660.3L442.7 661.8L442.7 663.2L442.7 664.6L442.7 666.1L442.7 667.5L442.7 669.0L442.7 670.4L442.7 671.8L442.7 673.3L442.7 674.7L442.7 676.1L442.7 677.6L442.7 679.0L442.7 680.5L442.7 681.7L441.3 681.4L439.8 680.8L439.3 680.5L438.4 679.9L437.3 679.0L437.0 678.8L435.5 677.8L435.2 677.6L434.1 677.0L432.6 676.5L431.2 676.2L429.8 676.3L428.3 676.9L427.3 677.6L426.9 677.9L425.5 679.0L425.4 679.1L424.0 680.0L423.2 680.5L422.6 680.7L421.1 681.3L419.7 681.8L419.5 681.9L418.2 682.5L417.0 683.3L416.8 683.6L416.0 684.8L415.4 686.0L415.3 686.2L414.4 687.7L413.9 688.3L413.3 689.1L412.5 690.0L412.1 690.5L411.1 691.8L411.0 692.0L410.3 693.4L410.0 694.9L410.0 696.3L410.1 697.7L410.2 699.2L410.2 700.6L409.6 700.6L408.2 700.6L406.7 700.6L405.3 700.6L403.9 700.6L402.4 700.6L401.0 700.6L399.5 700.6L398.1 700.6L396.7 700.6L395.2 700.6L393.8 700.6L392.3 700.6L390.9 700.6L389.5 700.6L388.0 700.6L386.6 700.6L385.1 700.6L383.7 700.6L382.3 700.6L380.8 700.6L379.4 700.6L377.9 700.6L376.5 700.6L375.1 700.6L373.6 700.6L372.2 700.6L370.7 700.6L369.3 700.6L367.9 700.6L366.4 700.6L365.0 700.6L363.6 700.6L362.1 700.6L360.7 700.6L359.2 700.6L357.8 700.6L356.4 700.6L354.9 700.6L353.5 700.6L352.0 700.6L350.6 700.6L349.2 700.6L347.7 700.6L346.3 700.6L344.8 700.6L343.4 700.6L342.0 700.6L340.5 700.6L339.1 700.6L339.1 699.2L339.1 697.7L339.1 696.3L339.1 694.9L339.1 693.4L339.1 692.0L339.1 690.5L339.1 689.1L339.1 687.7L339.1 686.2L339.1 684.8L339.1 683.3L339.1 681.9L339.1 680.5L339.1 679.0L339.1 677.6L339.1 676.1L339.1 674.7L339.1 673.3L339.1 671.8L339.1 670.4L339.1 669.0L339.1 667.5L339.1 666.1L339.1 664.6L339.1 663.2L339.1 661.8L339.1 660.3L339.1 658.9L339.1 657.4L339.1 656.0L339.1 654.6L339.1 653.1L339.1 651.7L339.1 650.2L339.1 648.8L339.1 647.4L339.1 645.9L339.1 644.5L339.1 643.0L339.1 641.6L339.1 640.2L339.1 638.7L339.1 637.3L339.1 635.8L339.1 634.4L339.1 633.0L339.1 631.5L339.1 630.1L339.1 628.6L339.1 627.2L339.1 625.8L339.1 624.3L339.1 622.9L339.1 621.5L339.1 620.0L339.1 618.6L339.1 617.1L339.1 615.7L339.1 614.3L339.1 612.8L339.1 611.4L339.1 609.9L339.1 608.5L339.1 607.1L339.1 605.6L339.1 604.2L339.1 602.7L339.1 601.3L339.1 599.9L339.1 598.4ZM349.2 603.8L349.0 604.2L348.4 605.6L347.9 607.1L347.7 607.4L347.3 608.5L346.7 609.9L346.3 610.6L345.8 611.4L344.9 612.8L344.8 612.9L344.0 614.3L343.4 615.6L343.3 615.7L343.2 617.1L343.4 617.6L343.7 618.6L344.7 620.0L344.8 620.2L345.9 621.5L346.3 621.9L347.2 622.9L347.7 623.5L348.6 624.3L349.2 624.9L350.0 625.8L350.6 626.4L351.4 627.2L352.0 627.9L353.4 628.6L353.5 628.7L353.8 628.6L354.9 628.6L356.4 627.8L357.0 627.2L357.8 626.6L358.6 625.8L359.2 625.3L360.1 624.3L360.7 623.8L361.4 622.9L362.1 622.1L362.5 621.5L363.5 620.0L363.6 619.9L364.2 618.6L364.8 617.1L365.0 616.6L365.3 615.7L365.6 614.3L365.7 612.8L365.7 611.4L365.6 609.9L365.2 608.5L365.0 608.0L364.6 607.1L363.6 605.7L363.5 605.6L362.1 604.4L361.7 604.2L360.7 603.7L359.2 603.3L357.8 603.1L356.4 603.0L354.9 603.0L353.5 602.9L352.0 602.8L350.6 602.9ZM357.8 657.3L357.6 657.4L356.4 658.4L356.0 658.9L354.9 660.2L354.9 660.3L353.5 661.8L353.5 661.8L352.0 662.8L351.5 663.2L350.6 663.7L349.2 664.5L348.9 664.6L347.7 665.6L347.3 666.1L346.5 667.5L346.3 668.0L346.0 669.0L345.9 670.4L346.1 671.8L346.3 672.1L346.9 673.3L347.7 674.2L348.2 674.7L349.2 675.7L349.7 676.1L350.6 677.1L351.1 677.6L352.0 678.9L352.2 679.0L353.2 680.5L353.5 680.8L354.9 681.7L356.4 681.7L357.8 681.0L358.7 680.5L359.2 680.1L360.7 679.2L361.0 679.0L362.1 678.5L363.6 677.9L364.2 677.6L365.0 677.2L366.4 676.4L366.7 676.1L367.9 675.1L368.2 674.7L369.3 673.5L369.5 673.3L370.7 671.9L370.8 671.8L372.1 670.4L372.2 670.2L372.9 669.0L373.3 667.5L373.2 666.1L372.8 664.6L372.2 663.4L372.1 663.2L371.1 661.8L370.7 661.3L369.8 660.3L369.3 659.8L368.2 658.9L367.9 658.6L366.4 657.8L365.4 657.4L365.0 657.3L363.6 657.0L362.1 656.9L360.7 656.8L359.2 656.9ZM438.3 693.4L438.4 693.4L439.8 693.1L441.3 693.1L442.7 693.1L442.7 693.4L442.7 694.9L442.7 696.3L442.7 697.7L442.7 699.2L442.7 700.6L441.3 700.6L439.8 700.6L438.4 700.6L437.0 700.6L435.5 700.6L434.1 700.6L432.6 700.6L431.2 700.6L429.8 700.6L428.3 700.6L426.9 700.6L425.4 700.6L424.0 700.6L422.6 700.6L421.1 700.6L419.7 700.6L418.2 700.6L416.8 700.6L415.4 700.6L414.1 700.6L414.3 699.2L415.1 697.7L415.4 697.5L416.5 696.3L416.8 696.1L418.2 695.2L419.4 694.9L419.7 694.8L421.1 694.8L421.2 694.9L422.6 695.2L424.0 695.7L425.4 696.2L425.8 696.3L426.9 696.7L428.3 696.8L429.8 696.6L430.6 696.3L431.2 696.1L432.6 695.5L434.1 694.9L434.1 694.9L435.5 694.3L437.0 693.8Z" fill="#dae9f2" fill-rule="evenodd"/><path d="M339.1 597.0L340.5 597.0L342.0 597.0L343.4 597.0L344.8 597.0L346.3 597.0L346.5 597.0L346.5 598.4L346.4 599.9L346.3 600.6L346.2 601.3L346.1 602.7L345.9 604.2L345.7 605.6L345.3 607.1L344.8 608.5L344.8 608.5L344.1 609.9L343.4 610.9L343.0 611.4L342.0 612.4L341.4 612.8L340.5 613.4L339.1 613.8L339.1 612.8L339.1 611.4L339.1 609.9L339.1 608.5L339.1 607.1L339.1 605.6L339.1 604.2L339.1 602.7L339.1 601.3L339.1 599.9L339.1 598.4ZM350.4 597.0L350.6 597.0L352.0 597.0L353.5 597.0L354.9 597.0L356.4 597.0L357.8 597.0L359.2 597.0L360.7 597.0L362.1 597.0L363.1 597.0L362.1 598.1L361.9 598.4L360.7 599.2L359.3 599.9L359.2 599.9L357.8 600.2L356.4 600.5L354.9 600.4L353.5 600.2L352.7 599.9L352.0 599.4L350.9 598.4L350.6 597.4ZM364.5 597.0L365.0 597.0L366.4 597.0L367.9 597.0L369.3 597.0L370.7 597.0L372.2 597.0L373.6 597.0L375.1 597.0L376.5 597.0L377.9 597.0L379.4 597.0L380.8 597.0L382.3 597.0L383.7 597.0L385.1 597.0L386.6 597.0L388.0 597.0L389.5 597.0L390.9 597.0L392.3 597.0L393.8 597.0L395.2 597.0L396.7 597.0L398.1 597.0L399.5 597.0L401.0 597.0L402.4 597.0L403.9 597.0L405.3 597.0L406.7 597.0L408.2 597.0L409.6 597.0L411.1 597.0L412.5 597.0L413.9 597.0L415.4 597.0L416.8 597.0L418.2 597.0L419.7 597.0L421.1 597.0L422.6 597.0L424.0 597.0L425.4 597.0L426.9 597.0L428.3 597.0L429.8 597.0L431.2 597.0L432.6 597.0L434.1 597.0L435.5 597.0L437.0 597.0L438.4 597.0L439.8 597.0L441.3 597.0L442.7 597.0L442.7 598.4L442.7 599.9L442.7 601.3L442.7 602.7L442.7 604.2L442.7 605.6L442.7 607.1L442.7 608.5L442.7 609.9L442.7 611.4L442.7 612.8L442.7 614.3L442.7 615.7L442.7 617.1L442.7 618.6L442.7 620.0L442.7 621.5L442.7 622.9L442.7 624.3L442.7 625.8L442.7 627.2L442.7 628.6L442.7 630.1L442.7 631.5L442.7 633.0L442.7 634.4L442.7 635.8L442.7 637.3L442.7 638.7L442.7 640.2L442.7 641.6L442.7 643.0L442.7 644.5L442.7 645.9L442.7 647.4L442.7 648.8L442.7 650.2L442.7 651.7L442.7 653.1L442.7 654.6L442.7 656.0L442.7 657.4L442.7 658.9L442.7 660.3L442.7 661.8L442.7 663.2L442.7 664.6L442.7 666.1L442.7 667.5L442.7 669.0L442.7 670.4L442.7 671.8L442.7 673.3L442.7 674.7L441.3 674.6L439.8 674.3L438.4 673.8L437.0 673.3L436.9 673.3L435.5 672.9L434.1 672.5L432.6 672.3L431.2 672.0L430.2 671.8L429.8 671.8L428.3 671.6L426.9 671.7L426.3 671.8L425.4 672.1L424.1 673.3L424.0 673.3L423.0 674.7L422.6 675.2L421.8 676.1L421.1 676.8L419.9 677.6L419.7 677.7L418.2 678.3L416.8 678.9L416.5 679.0L415.4 679.6L414.0 680.5L413.9 680.5L412.7 681.9L412.5 682.3L412.0 683.3L411.4 684.8L411.1 685.5L410.7 686.2L409.9 687.7L409.6 688.0L408.8 689.1L408.2 690.0L407.8 690.5L406.9 692.0L406.7 692.4L406.3 693.4L405.8 694.9L405.3 696.3L405.3 696.3L404.6 697.7L403.9 698.9L403.6 699.2L402.6 700.6L402.4 700.6L401.0 700.6L399.5 700.6L398.1 700.6L396.7 700.6L395.2 700.6L393.8 700.6L392.3 700.6L390.9 700.6L389.5 700.6L389.1 700.6L389.4 699.2L389.5 699.1L390.2 697.7L390.9 696.5L391.0 696.3L391.5 694.9L391.5 693.4L391.0 692.0L390.9 691.7L390.2 690.5L389.5 689.2L389.4 689.1L388.6 687.7L388.0 686.3L388.0 686.2L387.2 684.8L386.6 683.7L386.2 683.3L385.1 682.5L383.7 682.4L382.3 683.2L382.1 683.3L381.4 684.8L381.1 686.2L380.8 687.7L380.8 687.7L380.6 689.1L380.1 690.5L379.4 691.9L379.3 692.0L378.1 693.4L377.9 693.6L376.8 694.9L376.5 695.2L375.8 696.3L375.2 697.7L375.1 698.2L374.9 699.2L374.7 700.6L373.6 700.6L372.2 700.6L370.7 700.6L369.3 700.6L367.9 700.6L366.4 700.6L365.0 700.6L363.6 700.6L362.1 700.6L360.7 700.6L359.2 700.6L357.8 700.6L356.4 700.6L354.9 700.6L353.5 700.6L352.0 700.6L350.6 700.6L349.2 700.6L347.7 700.6L346.3 700.6L346.3 700.6L345.9 699.2L345.0 697.7L344.8 697.6L343.4 696.4L343.3 696.3L342.0 695.5L340.5 694.9L340.4 694.9L339.1 694.5L339.1 693.4L339.1 692.0L339.1 690.5L339.1 689.1L339.1 687.7L339.1 686.2L339.1 684.8L339.1 683.3L339.1 681.9L339.1 680.5L339.1 679.0L339.1 677.6L339.1 676.1L339.1 674.7L339.1 673.3L339.1 671.8L339.1 670.4L339.1 669.0L339.1 667.5L339.1 666.1L339.1 664.6L339.1 663.2L339.1 661.8L339.1 660.3L339.1 658.9L339.1 657.4L339.1 656.0L339.1 654.6L339.1 653.1L339.1 651.7L339.1 650.2L339.1 648.8L339.1 647.4L339.1 645.9L339.1 644.5L339.1 643.0L339.1 641.6L339.1 640.2L339.1 638.7L339.1 637.3L339.1 635.8L339.1 634.4L339.1 633.0L339.1 631.5L339.1 630.1L339.1 628.6L339.1 627.2L339.1 625.8L339.1 624.3L339.1 622.9L339.1 621.5L339.1 621.2L340.5 621.5L340.5 621.5L342.0 622.4L342.5 622.9L343.4 623.6L344.1 624.3L344.8 625.1L345.4 625.8L346.3 626.8L346.6 627.2L347.6 628.6L347.7 628.9L348.3 630.1L348.5 631.5L348.5 633.0L348.3 634.4L348.1 635.8L348.2 637.3L348.5 638.7L349.0 640.2L349.2 640.5L349.9 641.6L350.6 642.7L351.0 643.0L352.0 644.2L353.5 644.3L354.9 643.7L356.1 643.0L356.4 642.9L357.8 642.2L358.9 641.6L359.2 641.4L360.7 640.4L360.9 640.2L362.1 639.0L362.4 638.7L363.6 637.4L363.6 637.3L364.4 635.8L364.5 634.4L363.6 633.0L363.5 633.0L362.1 631.7L362.0 631.5L361.4 630.1L361.5 628.6L361.9 627.2L362.1 626.9L362.6 625.8L363.3 624.3L363.6 624.0L364.2 622.9L365.0 621.5L365.0 621.5L365.8 620.0L366.4 618.7L366.5 618.6L367.2 617.1L367.7 615.7L367.9 615.2L368.3 614.3L368.7 612.8L369.2 611.4L369.3 611.0L369.6 609.9L370.0 608.5L370.2 607.1L370.2 605.6L369.7 604.2L369.3 603.4L368.8 602.7L367.9 601.5L367.7 601.3L366.5 599.9L366.4 599.7L365.3 598.4L365.0 597.3ZM382.3 647.2L382.0 647.4L380.8 648.3L380.4 648.8L379.6 650.2L379.4 650.8L379.1 651.7L378.4 653.1L377.9 653.8L377.2 654.6L376.5 655.1L375.1 655.5L373.6 655.3L372.2 654.9L371.5 654.6L370.7 654.2L369.3 653.5L368.5 653.1L367.9 652.8L366.4 652.3L365.0 652.0L363.6 651.8L362.1 651.7L362.1 651.7L360.7 651.6L359.2 651.5L357.8 651.3L356.4 650.8L355.0 650.2L354.9 650.1L353.5 649.4L352.0 650.1L352.0 650.2L351.7 651.7L351.6 653.1L351.5 654.6L351.3 656.0L350.9 657.4L350.6 657.9L350.0 658.9L349.2 659.6L348.2 660.3L347.7 660.6L346.3 661.4L345.7 661.8L344.8 662.4L344.0 663.2L343.4 664.2L343.2 664.6L342.7 666.1L342.3 667.5L342.0 668.5L341.8 669.0L341.3 670.4L341.3 671.8L342.0 672.8L342.2 673.3L343.4 674.5L343.6 674.7L344.8 675.9L345.0 676.1L346.3 677.4L346.5 677.6L347.7 679.0L347.7 679.1L348.6 680.5L349.2 681.7L349.2 681.9L349.8 683.3L350.6 684.8L350.6 684.8L352.0 686.2L352.0 686.3L353.5 686.7L354.9 686.5L355.5 686.2L356.4 685.9L357.8 685.1L358.4 684.8L359.2 684.3L360.7 683.6L361.5 683.3L362.1 683.1L363.6 682.7L365.0 682.4L366.4 681.9L366.5 681.9L367.9 681.0L368.4 680.5L369.3 679.5L369.7 679.0L370.7 677.6L370.7 677.5L371.6 676.1L372.2 675.3L372.6 674.7L373.6 673.5L373.8 673.3L375.0 671.8L375.1 671.8L376.0 670.4L376.5 669.0L376.5 668.9L376.8 667.5L376.9 666.1L377.0 664.6L377.3 663.2L377.9 661.9L378.1 661.8L379.4 660.9L380.8 660.6L382.3 660.5L383.7 660.5L385.1 660.5L386.6 660.4L388.0 660.3L388.0 660.3L389.5 660.1L390.9 659.9L392.3 659.5L393.8 659.0L394.0 658.9L395.2 658.0L395.8 657.4L396.6 656.0L396.6 654.6L395.7 653.1L395.2 652.7L393.8 651.9L393.1 651.7L392.3 651.4L390.9 651.0L389.5 650.4L389.1 650.2L388.0 649.6L387.0 648.8L386.6 648.4L385.3 647.4L385.1 647.2L383.7 646.9ZM438.3 697.7L438.4 697.7L439.8 697.4L441.3 697.3L442.7 697.2L442.7 697.7L442.7 699.2L442.7 700.6L441.3 700.6L439.8 700.6L438.4 700.6L437.0 700.6L435.5 700.6L435.0 700.6L435.5 699.6L435.8 699.2L437.0 698.4ZM419.9 700.6L421.1 699.9L421.9 700.6L421.1 700.6Z" fill="#edf2f5" fill-rule="evenodd"/><path d="M339.1 597.0L340.5 597.0L342.0 597.0L343.4 597.0L343.9 597.0L344.0 598.4L344.0 599.9L344.0 601.3L343.9 602.7L343.7 604.2L343.4 605.4L343.4 605.6L342.8 607.1L342.0 608.5L342.0 608.6L340.5 609.9L340.4 609.9L339.1 610.3L339.1 609.9L339.1 608.5L339.1 607.1L339.1 605.6L339.1 604.2L339.1 602.7L339.1 601.3L339.1 599.9L339.1 598.4ZM369.8 597.0L370.7 597.0L372.2 597.0L373.6 597.0L375.1 597.0L376.5 597.0L377.9 597.0L379.4 597.0L380.8 597.0L382.3 597.0L383.7 597.0L385.1 597.0L386.6 597.0L388.0 597.0L389.5 597.0L390.9 597.0L392.3 597.0L393.8 597.0L395.2 597.0L396.7 597.0L398.1 597.0L399.5 597.0L401.0 597.0L402.4 597.0L403.9 597.0L405.3 597.0L406.7 597.0L408.2 597.0L409.6 597.0L411.1 597.0L412.5 597.0L413.9 597.0L415.4 597.0L416.8 597.0L418.2 597.0L419.7 597.0L421.1 597.0L422.6 597.0L424.0 597.0L425.4 597.0L426.9 597.0L428.3 597.0L429.8 597.0L431.2 597.0L432.6 597.0L434.1 597.0L435.5 597.0L437.0 597.0L438.4 597.0L439.8 597.0L441.3 597.0L442.7 597.0L442.7 598.4L442.7 599.9L442.7 601.3L442.7 602.7L442.7 604.2L442.7 605.6L442.7 607.1L442.7 608.5L442.7 609.9L442.7 611.4L442.7 612.8L442.7 614.3L442.7 615.7L442.7 617.1L442.7 618.6L442.7 620.0L442.7 621.5L442.7 622.9L442.7 624.3L442.7 625.8L442.7 627.2L442.7 628.6L442.7 630.1L442.7 631.5L442.7 633.0L442.7 634.4L442.7 635.8L442.7 637.3L442.7 638.7L442.7 640.2L442.7 641.6L442.7 643.0L442.7 644.5L442.7 645.9L442.7 647.4L442.7 648.8L442.7 650.2L442.7 651.7L442.7 653.1L442.7 654.6L442.7 656.0L442.7 657.4L442.7 658.9L442.7 659.2L441.3 659.2L439.8 659.2L438.4 659.4L437.0 659.8L436.1 660.3L435.5 660.8L434.8 661.8L434.1 663.2L434.1 663.4L433.7 664.6L432.9 666.1L432.6 666.3L431.2 666.8L429.8 666.9L428.3 666.7L426.9 666.6L425.4 666.4L424.0 666.2L423.1 666.1L422.6 666.0L421.1 665.4L420.2 664.6L419.7 664.0L419.3 663.2L418.6 661.8L418.2 661.2L417.8 660.3L416.8 658.9L416.8 658.9L415.7 657.4L415.4 657.1L414.3 656.0L413.9 655.7L412.6 654.6L412.5 654.5L411.1 653.6L410.0 653.1L409.6 652.9L408.2 652.4L406.7 652.4L405.3 652.4L403.9 651.7L403.8 651.7L403.3 650.2L403.9 649.0L404.0 648.8L405.3 648.2L406.0 647.4L406.7 646.6L407.0 645.9L407.5 644.5L407.6 643.0L407.4 641.6L406.8 640.2L406.7 639.9L406.1 638.7L405.3 637.5L405.1 637.3L403.9 635.8L403.9 635.8L402.4 634.4L402.3 634.4L401.0 633.7L399.5 633.7L398.1 634.0L396.7 634.3L395.2 634.4L393.8 634.3L392.3 634.1L390.9 634.0L389.5 633.8L388.0 633.7L386.6 633.5L385.1 633.4L383.7 633.3L382.3 633.5L380.8 634.1L380.5 634.4L380.1 635.8L380.5 637.3L380.8 638.5L380.9 638.7L381.1 640.2L380.8 641.4L380.8 641.6L380.0 643.0L379.4 643.7L378.8 644.5L377.9 645.3L377.4 645.9L376.5 646.9L376.0 647.4L375.1 648.4L374.6 648.8L373.6 649.5L372.2 649.9L370.7 649.7L369.3 649.3L368.0 648.8L367.9 648.8L366.4 648.1L365.0 647.4L364.9 647.4L363.6 646.1L363.4 645.9L363.2 644.5L363.6 643.6L363.7 643.0L364.6 641.6L365.0 641.1L365.6 640.2L366.4 639.2L366.9 638.7L367.9 637.6L368.1 637.3L369.2 635.8L369.3 635.6L369.8 634.4L369.4 633.0L369.3 632.9L368.0 631.5L367.9 631.4L366.5 630.1L366.4 630.0L365.5 628.6L365.1 627.2L365.3 625.8L365.9 624.3L366.4 623.3L366.7 622.9L367.6 621.5L367.9 621.0L368.7 620.0L369.3 619.1L369.9 618.6L370.7 617.4L371.2 617.1L372.2 616.0L372.6 615.7L373.4 614.3L373.6 612.8L373.6 612.7L374.0 611.4L374.4 609.9L374.6 608.5L374.5 607.1L374.2 605.6L373.6 604.3L373.6 604.2L372.8 602.7L372.2 601.9L371.8 601.3L370.8 599.9L370.7 599.7L370.1 598.4ZM382.3 611.2L382.2 611.4L382.3 611.4L382.4 611.4ZM339.1 630.1L339.1 629.8L340.5 629.4L342.0 629.4L343.4 630.0L343.5 630.1L344.4 631.5L344.7 633.0L344.5 634.4L344.3 635.8L344.4 637.3L344.8 638.6L344.9 638.7L345.3 640.2L345.8 641.6L346.2 643.0L346.3 644.2L346.3 644.5L346.3 644.7L346.1 645.9L345.8 647.4L345.6 648.8L345.6 650.2L345.9 651.7L346.2 653.1L346.2 654.6L345.6 656.0L344.8 656.8L343.7 657.4L343.4 657.5L342.0 657.8L340.5 657.8L339.1 657.6L339.1 657.4L339.1 656.0L339.1 654.6L339.1 653.1L339.1 651.7L339.1 650.2L339.1 648.8L339.1 647.4L339.1 645.9L339.1 644.5L339.1 643.0L339.1 641.6L339.1 640.2L339.1 638.7L339.1 637.3L339.1 635.8L339.1 634.4L339.1 633.0L339.1 631.5ZM388.3 663.2L389.5 663.1L390.9 663.1L392.3 663.1L393.7 663.2L393.8 663.2L395.2 663.9L395.7 664.6L395.8 666.1L395.9 667.5L396.7 668.8L396.7 669.0L398.1 669.9L399.1 670.4L399.5 670.5L401.0 670.7L402.4 670.4L402.4 670.4L403.9 669.6L404.6 669.0L405.3 668.3L406.1 667.5L406.7 666.9L408.1 666.1L408.2 666.0L409.6 665.7L411.1 665.7L412.5 665.8L413.6 666.1L413.9 666.2L415.4 666.6L416.8 667.1L417.4 667.5L418.2 668.7L418.4 669.0L418.6 670.4L418.6 671.8L418.3 673.3L418.2 673.3L417.3 674.7L416.8 675.1L415.4 676.1L415.4 676.2L413.9 677.0L413.0 677.6L412.5 677.9L411.1 679.0L411.1 679.1L409.6 680.5L409.6 680.5L408.6 681.9L408.2 682.8L407.9 683.3L407.3 684.8L406.7 685.9L406.6 686.2L405.7 687.7L405.3 688.2L404.6 689.1L403.9 690.2L403.6 690.5L402.5 692.0L402.4 692.0L401.0 693.3L400.7 693.4L399.5 693.8L398.1 693.4L398.1 693.4L396.7 692.3L396.4 692.0L395.2 690.7L395.1 690.5L393.9 689.1L393.8 688.9L392.9 687.7L392.3 686.9L392.0 686.2L391.2 684.8L390.9 684.1L390.5 683.3L389.8 681.9L389.5 681.3L389.0 680.5L388.0 679.1L388.0 679.0L386.6 677.8L386.1 677.6L385.1 677.2L383.7 677.1L382.3 677.2L380.8 677.3L379.4 677.5L377.9 677.1L377.5 676.1L377.9 674.7L377.9 674.5L378.5 673.3L379.1 671.8L379.4 671.0L379.6 670.4L379.9 669.0L380.1 667.5L380.6 666.1L380.8 665.7L381.9 664.6L382.3 664.4L383.7 663.9L385.1 663.6L386.6 663.4L388.0 663.2ZM339.1 677.6L339.1 677.3L340.5 677.5L340.7 677.6L342.0 678.4L342.7 679.0L343.4 680.1L343.6 680.5L343.8 681.9L343.4 682.7L342.5 683.3L342.0 683.5L340.5 683.7L339.1 683.6L339.1 683.3L339.1 681.9L339.1 680.5L339.1 679.0ZM358.9 689.1L359.2 688.9L360.7 688.4L362.1 688.6L363.0 689.1L363.6 689.6L364.4 690.5L365.0 691.3L365.9 692.0L366.4 692.4L367.9 692.5L369.3 692.4L370.7 692.8L371.1 693.4L371.4 694.9L371.6 696.3L371.8 697.7L371.9 699.2L372.0 700.6L370.7 700.6L369.3 700.6L367.9 700.6L366.4 700.6L365.0 700.6L363.6 700.6L362.1 700.6L360.7 700.6L359.2 700.6L358.9 700.6L358.7 699.2L358.3 697.7L357.8 696.7L357.6 696.3L357.1 694.9L356.7 693.4L356.8 692.0L357.5 690.5L357.8 690.2Z" fill="#f9f0eb" fill-rule="evenodd"/><path d="M339.1 597.0L340.5 597.0L341.8 597.0L341.9 598.4L342.0 599.8L342.0 599.9L342.0 600.0L341.9 601.3L341.7 602.7L341.2 604.2L340.5 605.5L340.4 605.6L339.1 606.5L339.1 605.6L339.1 604.2L339.1 602.7L339.1 601.3L339.1 599.9L339.1 598.4ZM373.1 597.0L373.6 597.0L375.1 597.0L376.5 597.0L377.9 597.0L379.4 597.0L380.8 597.0L382.3 597.0L383.7 597.0L385.1 597.0L386.6 597.0L388.0 597.0L389.5 597.0L390.9 597.0L392.3 597.0L393.8 597.0L395.2 597.0L396.7 597.0L398.1 597.0L399.5 597.0L401.0 597.0L402.4 597.0L403.9 597.0L405.3 597.0L406.7 597.0L408.2 597.0L409.6 597.0L411.1 597.0L412.5 597.0L413.9 597.0L415.4 597.0L416.8 597.0L418.2 597.0L419.7 597.0L421.1 597.0L422.6 597.0L424.0 597.0L425.4 597.0L426.9 597.0L428.3 597.0L429.8 597.0L431.2 597.0L432.6 597.0L434.1 597.0L435.5 597.0L437.0 597.0L438.4 597.0L439.8 597.0L441.3 597.0L442.7 597.0L442.7 598.4L442.7 599.9L442.7 601.3L442.7 602.7L442.7 604.2L442.7 605.6L442.7 607.1L442.7 608.5L442.7 609.9L442.7 611.4L442.7 612.8L442.7 614.3L442.7 615.7L442.7 617.1L442.7 618.6L442.7 620.0L442.7 621.5L442.7 622.9L442.7 624.3L442.7 625.8L442.7 627.2L442.7 628.6L442.7 630.1L442.7 631.5L442.7 633.0L442.7 634.4L442.7 635.8L442.7 637.3L442.7 638.7L442.7 640.2L442.7 641.6L442.7 643.0L442.7 644.5L442.7 645.9L442.7 647.4L442.7 648.8L442.7 650.2L442.7 651.7L442.7 653.1L442.7 654.6L442.7 655.7L441.3 655.6L439.8 655.4L438.4 655.2L437.0 655.0L435.5 654.9L434.1 655.0L432.6 655.5L431.9 656.0L431.2 656.6L430.5 657.4L429.8 658.6L429.6 658.9L428.4 660.3L428.3 660.4L426.9 661.0L425.4 660.9L424.2 660.3L424.0 660.2L422.7 658.9L422.6 658.7L421.7 657.4L421.1 656.7L420.5 656.0L419.7 655.3L418.7 654.6L418.2 654.3L416.8 653.3L416.7 653.1L415.4 651.9L415.1 651.7L414.0 650.2L413.9 650.1L413.4 648.8L413.5 647.4L413.9 646.4L414.4 645.9L415.4 645.3L416.8 644.8L417.5 644.5L418.2 644.0L419.0 643.0L419.2 641.6L418.9 640.2L418.4 638.7L418.2 638.2L417.8 637.3L416.9 635.8L416.8 635.7L415.4 635.2L413.9 635.3L412.5 635.4L411.1 635.2L409.6 634.6L409.4 634.4L408.2 633.6L407.4 633.0L406.7 632.4L405.8 631.5L405.3 630.9L404.5 630.1L403.9 629.3L403.2 628.6L402.4 627.9L401.3 627.2L401.0 627.1L399.5 626.9L398.1 627.1L397.1 627.2L396.7 627.3L395.2 627.4L393.9 627.2L393.8 627.2L392.3 626.6L391.2 625.8L390.9 625.2L390.5 624.3L390.1 622.9L389.9 621.5L389.6 620.0L389.5 618.9L389.4 618.6L389.4 617.1L389.5 616.6L389.6 615.7L389.9 614.3L390.2 612.8L390.1 611.4L389.7 609.9L389.5 609.5L388.9 608.5L388.0 607.5L387.6 607.1L386.6 606.3L385.2 605.6L385.1 605.6L383.7 605.2L382.3 604.9L380.8 604.6L379.4 604.3L379.2 604.2L377.9 603.7L376.8 602.7L376.5 602.5L375.4 601.3L375.1 600.8L374.4 599.9L373.6 598.6L373.5 598.4ZM425.4 648.3L424.3 648.8L424.0 649.1L423.4 650.2L423.2 651.7L423.7 653.1L424.0 653.4L425.4 653.8L426.9 653.6L427.9 653.1L428.3 652.8L429.2 651.7L429.2 650.2L428.3 649.2L427.9 648.8L426.9 648.4ZM372.0 622.9L372.2 622.9L372.3 622.9L373.6 623.1L375.1 623.7L376.5 624.3L376.5 624.3L377.9 625.3L378.6 625.8L378.9 627.2L377.9 628.2L377.4 628.6L376.5 629.1L375.1 629.6L373.6 629.9L372.2 629.8L370.7 629.4L369.6 628.6L369.3 628.4L368.6 627.2L368.5 625.8L369.2 624.3L369.3 624.1L370.7 623.1ZM371.6 638.7L372.2 638.4L373.6 638.1L375.1 638.6L375.2 638.7L376.1 640.2L376.1 641.6L375.4 643.0L375.1 643.4L373.8 644.5L373.6 644.6L372.2 645.2L370.7 645.2L369.3 644.7L369.1 644.5L368.4 643.0L368.8 641.6L369.3 640.7L369.7 640.2L370.7 639.2ZM408.0 671.8L408.2 671.7L409.6 671.4L410.8 671.8L411.1 672.2L411.2 673.3L411.1 673.6L410.2 674.7L409.6 675.1L408.2 676.0L407.9 676.1L406.7 676.5L405.3 676.9L404.1 677.6L403.9 677.7L402.4 679.0L402.4 679.0L401.3 680.5L401.0 681.0L400.3 681.9L399.5 682.8L398.7 683.3L398.1 683.6L396.7 683.6L396.3 683.3L395.2 682.7L394.6 681.9L393.8 680.9L393.6 680.5L393.0 679.0L392.7 677.6L393.0 676.1L393.8 675.0L394.2 674.7L395.2 674.4L396.7 674.4L398.1 674.7L398.3 674.7L399.5 675.1L401.0 675.4L402.4 675.6L403.9 675.2L404.4 674.7L405.3 674.2L406.2 673.3L406.7 672.8Z" fill="#fce2d2" fill-rule="evenodd"/><path d="M378.1 597.0L379.4 597.0L380.8 597.0L382.3 597.0L383.7 597.0L385.1 597.0L386.6 597.0L388.0 597.0L389.5 597.0L390.9 597.0L392.3 597.0L393.8 597.0L395.2 597.0L396.7 597.0L398.1 597.0L399.5 597.0L401.0 597.0L402.4 597.0L403.9 597.0L405.3 597.0L406.7 597.0L408.2 597.0L409.6 597.0L411.1 597.0L412.5 597.0L413.9 597.0L415.4 597.0L416.8 597.0L418.2 597.0L419.7 597.0L421.1 597.0L422.6 597.0L424.0 597.0L425.4 597.0L426.9 597.0L428.3 597.0L429.8 597.0L431.2 597.0L432.6 597.0L434.1 597.0L435.5 597.0L437.0 597.0L438.4 597.0L439.8 597.0L441.3 597.0L442.7 597.0L442.7 598.4L442.7 599.9L442.7 601.3L442.7 602.7L442.7 604.2L442.7 605.6L442.7 607.1L442.7 608.5L442.7 609.9L442.7 611.4L442.7 612.8L442.7 614.3L442.7 615.7L442.7 617.1L442.7 618.6L442.7 620.0L442.7 621.5L442.7 622.9L442.7 624.3L442.7 625.8L442.7 627.2L442.7 628.6L442.7 630.1L442.7 631.5L442.7 633.0L442.7 634.1L441.3 634.4L441.2 634.4L439.8 634.9L438.7 635.8L438.4 636.0L437.3 637.3L437.0 637.6L436.1 638.7L435.5 639.3L434.6 640.2L434.1 640.6L432.6 641.1L431.2 641.1L429.8 640.4L429.3 640.2L428.3 639.3L427.5 638.7L426.9 638.2L425.8 637.3L425.4 637.0L424.7 635.8L424.0 634.8L423.8 634.4L423.1 633.0L422.6 632.2L422.2 631.5L421.1 630.3L420.9 630.1L419.7 629.1L418.5 628.6L418.2 628.6L417.6 628.6L416.8 628.7L415.4 629.4L414.1 630.1L413.9 630.2L412.5 630.8L411.1 631.0L409.6 630.7L408.6 630.1L408.2 629.9L406.9 628.6L406.7 628.5L405.7 627.2L405.3 626.5L404.8 625.8L403.9 624.4L403.7 624.3L402.4 623.2L401.5 622.9L401.0 622.7L399.5 622.5L398.1 622.3L396.7 621.5L396.6 621.5L395.9 620.0L395.6 618.6L395.7 617.1L396.1 615.7L396.6 614.3L396.7 614.0L397.8 612.8L398.1 612.5L399.5 612.5L401.0 612.7L402.4 612.6L403.9 612.1L404.7 611.4L405.3 610.6L405.5 609.9L405.5 608.5L405.3 607.9L404.8 607.1L403.9 606.1L403.1 605.6L402.4 605.3L401.0 605.4L400.8 605.6L399.5 606.7L399.2 607.1L398.2 608.5L398.1 608.7L396.7 609.8L395.2 609.5L393.8 608.5L393.7 608.5L392.3 607.3L392.1 607.1L390.9 605.9L390.6 605.6L389.5 604.7L388.7 604.2L388.0 603.7L386.6 603.1L385.6 602.7L385.1 602.6L383.7 602.1L382.3 601.6L381.6 601.3L380.8 600.9L379.5 599.9L379.4 599.7L378.5 598.4Z" fill="#fbccb4" fill-rule="evenodd"/><path d="M385.7 597.0L386.6 597.0L388.0 597.0L389.5 597.0L390.9 597.0L392.3 597.0L393.8 597.0L395.2 597.0L396.7 597.0L396.9 597.0L396.8 598.4L396.7 599.2L396.4 599.9L395.6 601.3L395.2 601.6L393.8 602.0L392.3 601.5L392.0 601.3L390.9 600.7L389.5 600.0L389.2 599.9L388.0 599.2L386.6 598.4L386.6 598.4ZM405.5 597.0L406.7 597.0L408.2 597.0L409.6 597.0L411.1 597.0L412.5 597.0L413.9 597.0L415.4 597.0L416.8 597.0L418.2 597.0L419.7 597.0L421.1 597.0L422.6 597.0L424.0 597.0L425.4 597.0L426.9 597.0L428.3 597.0L429.8 597.0L431.2 597.0L432.6 597.0L434.1 597.0L435.5 597.0L437.0 597.0L438.4 597.0L439.8 597.0L441.3 597.0L442.7 597.0L442.7 598.4L442.7 599.9L442.7 601.3L442.7 602.7L442.7 604.2L442.7 605.6L442.7 607.1L442.7 608.5L442.7 608.8L441.3 609.1L439.8 609.6L438.4 609.9L437.9 609.9L437.0 610.0L435.5 610.0L435.1 609.9L434.1 609.8L432.6 609.4L431.2 608.8L430.8 608.5L429.8 607.6L429.3 607.1L428.3 605.9L428.0 605.6L426.9 604.7L425.4 604.2L425.1 604.2L424.0 604.1L423.6 604.2L422.6 604.3L421.1 604.7L419.7 605.2L418.8 605.6L418.2 606.0L416.8 607.1L416.8 607.1L415.6 608.5L415.4 609.1L414.6 609.9L413.9 610.7L412.5 610.6L412.1 609.9L411.4 608.5L411.1 607.9L410.8 607.1L409.8 605.6L409.6 605.4L408.6 604.2L408.2 603.8L407.3 602.7L406.7 601.9L406.4 601.3L405.8 599.9L405.6 598.4ZM423.4 614.3L424.0 614.0L425.4 613.6L426.9 613.8L427.5 614.3L427.9 615.7L427.7 617.1L427.0 618.6L426.9 618.8L425.7 620.0L425.4 620.4L424.0 620.8L422.6 620.1L422.5 620.0L421.4 618.6L421.1 617.1L421.7 615.7L422.6 614.8ZM441.5 617.1L442.7 616.9L442.7 617.1L442.7 618.6L442.7 620.0L442.7 621.5L442.7 622.8L441.3 622.6L439.8 621.9L439.4 621.5L439.0 620.0L439.5 618.6L439.8 618.2L441.3 617.2ZM409.2 621.5L409.6 621.3L410.3 621.5L411.1 621.6L412.5 622.8L412.6 622.9L413.0 624.3L412.5 625.8L412.5 625.8L411.1 626.7L409.6 626.4L408.9 625.8L408.2 624.6L408.1 624.3L408.0 622.9L408.2 622.3Z" fill="#f6b394" fill-rule="evenodd"/><path d="M408.8 597.0L409.6 597.0L411.1 597.0L412.5 597.0L413.9 597.0L415.4 597.0L416.8 597.0L418.2 597.0L419.7 597.0L421.1 597.0L422.6 597.0L424.0 597.0L425.4 597.0L425.7 597.0L425.4 597.6L425.1 598.4L424.0 599.4L423.5 599.9L422.6 600.3L421.1 601.0L420.4 601.3L419.7 601.6L418.2 602.0L416.8 602.4L415.4 602.7L413.9 602.6L412.5 602.2L411.1 601.3L411.0 601.3L409.7 599.9L409.6 599.7L409.0 598.4ZM435.4 598.4L435.5 597.1L435.5 597.0L437.0 597.0L438.4 597.0L439.8 597.0L441.3 597.0L442.7 597.0L442.7 598.4L442.7 599.9L442.7 600.4L441.3 601.1L441.0 601.3L439.8 602.2L439.3 602.7L438.4 603.5L437.2 604.2L437.0 604.3L436.0 604.2L435.5 604.1L434.7 602.7L434.7 601.3L435.1 599.9Z" fill="#ec9374" fill-rule="evenodd"/><path d="M352.0 614.0L351.9 614.3L351.6 615.7L352.0 616.1L353.5 615.9L353.9 615.7L354.9 614.7L355.6 614.3L354.9 613.4L353.5 613.2L352.0 614.0M426.9 687.2L426.3 687.7L426.9 688.8L427.7 689.1L428.3 689.2L428.6 689.1L429.8 688.5L430.5 687.7L429.8 686.8L428.3 686.6L426.9 687.2" fill="none" stroke="#222" stroke-width="0.6" opacity="0.8"/><path d="M349.2 603.8L349.0 604.2L348.4 605.6L347.9 607.1L347.7 607.4L347.3 608.5L346.7 609.9L346.3 610.6L345.8 611.4L344.9 612.8L344.8 612.9L344.0 614.3L343.4 615.6L343.3 615.7L343.2 617.1L343.4 617.6L343.7 618.6L344.7 620.0L344.8 620.2L345.9 621.5L346.3 621.9L347.2 622.9L347.7 623.5L348.6 624.3L349.2 624.9L350.0 625.8L350.6 626.4L351.4 627.2L352.0 627.9L353.4 628.6L353.5 628.7L353.8 628.6L354.9 628.6L356.4 627.8L357.0 627.2L357.8 626.6L358.6 625.8L359.2 625.3L360.1 624.3L360.7 623.8L361.4 622.9L362.1 622.1L362.5 621.5L363.5 620.0L363.6 619.9L364.2 618.6L364.8 617.1L365.0 616.6L365.3 615.7L365.6 614.3L365.7 612.8L365.7 611.4L365.6 609.9L365.2 608.5L365.0 608.0L364.6 607.1L363.6 605.7L363.5 605.6L362.1 604.4L361.7 604.2L360.7 603.7L359.2 603.3L357.8 603.1L356.4 603.0L354.9 603.0L353.5 602.9L352.0 602.8L350.6 602.9L349.2 603.8M357.8 657.3L357.6 657.4L356.4 658.4L356.0 658.9L354.9 660.2L354.9 660.3L353.5 661.8L353.5 661.8L352.0 662.8L351.5 663.2L350.6 663.7L349.2 664.5L348.9 664.6L347.7 665.6L347.3 666.1L346.5 667.5L346.3 668.0L346.0 669.0L345.9 670.4L346.1 671.8L346.3 672.1L346.9 673.3L347.7 674.2L348.2 674.7L349.2 675.7L349.7 676.1L350.6 677.1L351.1 677.6L352.0 678.9L352.2 679.0L353.2 680.5L353.5 680.8L354.9 681.7L356.4 681.7L357.8 681.0L358.7 680.5L359.2 680.1L360.7 679.2L361.0 679.0L362.1 678.5L363.6 677.9L364.2 677.6L365.0 677.2L366.4 676.4L366.7 676.1L367.9 675.1L368.2 674.7L369.3 673.5L369.5 673.3L370.7 671.9L370.8 671.8L372.1 670.4L372.2 670.2L372.9 669.0L373.3 667.5L373.2 666.1L372.8 664.6L372.2 663.4L372.1 663.2L371.1 661.8L370.7 661.3L369.8 660.3L369.3 659.8L368.2 658.9L367.9 658.6L366.4 657.8L365.4 657.4L365.0 657.3L363.6 657.0L362.1 656.9L360.7 656.8L359.2 656.9L357.8 657.3M442.7 681.7L441.3 681.4L439.8 680.8L439.3 680.5L438.4 679.9L437.3 679.0L437.0 678.8L435.5 677.8L435.2 677.6L434.1 677.0L432.6 676.5L431.2 676.2L429.8 676.3L428.3 676.9L427.3 677.6L426.9 677.9L425.5 679.0L425.4 679.1L424.0 680.0L423.2 680.5L422.6 680.7L421.1 681.3L419.7 681.8L419.5 681.9L418.2 682.5L417.0 683.3L416.8 683.6L416.0 684.8L415.4 686.0L415.3 686.2L414.4 687.7L413.9 688.3L413.3 689.1L412.5 690.0L412.1 690.5L411.1 691.8L411.0 692.0L410.3 693.4L410.0 694.9L410.0 696.3L410.1 697.7L410.2 699.2L410.2 700.6M414.1 700.6L414.3 699.2L415.1 697.7L415.4 697.5L416.5 696.3L416.8 696.1L418.2 695.2L419.4 694.9L419.7 694.8L421.1 694.8L421.2 694.9L422.6 695.2L424.0 695.7L425.4 696.2L425.8 696.3L426.9 696.7L428.3 696.8L429.8 696.6L430.6 696.3L431.2 696.1L432.6 695.5L434.1 694.9L434.1 694.9L435.5 694.3L437.0 693.8L438.3 693.4L438.4 693.4L439.8 693.1L441.3 693.1L442.7 693.1" fill="none" stroke="#222" stroke-width="0.6" opacity="0.8"/><path d="M343.9 597.0L344.0 598.4L344.0 599.9L344.0 601.3L343.9 602.7L343.7 604.2L343.4 605.4L343.4 605.6L342.8 607.1L342.0 608.5L342.0 608.6L340.5 609.9L340.4 609.9L339.1 610.3M382.3 611.2L382.2 611.4L382.3 611.4L382.4 611.4L382.3 611.2M339.1 629.8L340.5 629.4L342.0 629.4L343.4 630.0L343.5 630.1L344.4 631.5L344.7 633.0L344.5 634.4L344.3 635.8L344.4 637.3L344.8 638.6L344.9 638.7L345.3 640.2L345.8 641.6L346.2 643.0L346.3 644.2L346.3 644.5L346.3 644.7L346.1 645.9L345.8 647.4L345.6 648.8L345.6 650.2L345.9 651.7L346.2 653.1L346.2 654.6L345.6 656.0L344.8 656.8L343.7 657.4L343.4 657.5L342.0 657.8L340.5 657.8L339.1 657.6M442.7 659.2L441.3 659.2L439.8 659.2L438.4 659.4L437.0 659.8L436.1 660.3L435.5 660.8L434.8 661.8L434.1 663.2L434.1 663.4L433.7 664.6L432.9 666.1L432.6 666.3L431.2 666.8L429.8 666.9L428.3 666.7L426.9 666.6L425.4 666.4L424.0 666.2L423.1 666.1L422.6 666.0L421.1 665.4L420.2 664.6L419.7 664.0L419.3 663.2L418.6 661.8L418.2 661.2L417.8 660.3L416.8 658.9L416.8 658.9L415.7 657.4L415.4 657.1L414.3 656.0L413.9 655.7L412.6 654.6L412.5 654.5L411.1 653.6L410.0 653.1L409.6 652.9L408.2 652.4L406.7 652.4L405.3 652.4L403.9 651.7L403.8 651.7L403.3 650.2L403.9 649.0L404.0 648.8L405.3 648.2L406.0 647.4L406.7 646.6L407.0 645.9L407.5 644.5L407.6 643.0L407.4 641.6L406.8 640.2L406.7 639.9L406.1 638.7L405.3 637.5L405.1 637.3L403.9 635.8L403.9 635.8L402.4 634.4L402.3 634.4L401.0 633.7L399.5 633.7L398.1 634.0L396.7 634.3L395.2 634.4L393.8 634.3L392.3 634.1L390.9 634.0L389.5 633.8L388.0 633.7L386.6 633.5L385.1 633.4L383.7 633.3L382.3 633.5L380.8 634.1L380.5 634.4L380.1 635.8L380.5 637.3L380.8 638.5L380.9 638.7L381.1 640.2L380.8 641.4L380.8 641.6L380.0 643.0L379.4 643.7L378.8 644.5L377.9 645.3L377.4 645.9L376.5 646.9L376.0 647.4L375.1 648.4L374.6 648.8L373.6 649.5L372.2 649.9L370.7 649.7L369.3 649.3L368.0 648.8L367.9 648.8L366.4 648.1L365.0 647.4L364.9 647.4L363.6 646.1L363.4 645.9L363.2 644.5L363.6 643.6L363.7 643.0L364.6 641.6L365.0 641.1L365.6 640.2L366.4 639.2L366.9 638.7L367.9 637.6L368.1 637.3L369.2 635.8L369.3 635.6L369.8 634.4L369.4 633.0L369.3 632.9L368.0 631.5L367.9 631.4L366.5 630.1L366.4 630.0L365.5 628.6L365.1 627.2L365.3 625.8L365.9 624.3L366.4 623.3L366.7 622.9L367.6 621.5L367.9 621.0L368.7 620.0L369.3 619.1L369.9 618.6L370.7 617.4L371.2 617.1L372.2 616.0L372.6 615.7L373.4 614.3L373.6 612.8L373.6 612.7L374.0 611.4L374.4 609.9L374.6 608.5L374.5 607.1L374.2 605.6L373.6 604.3L373.6 604.2L372.8 602.7L372.2 601.9L371.8 601.3L370.8 599.9L370.7 599.7L370.1 598.4L369.8 597.0M388.3 663.2L389.5 663.1L390.9 663.1L392.3 663.1L393.7 663.2L393.8 663.2L395.2 663.9L395.7 664.6L395.8 666.1L395.9 667.5L396.7 668.8L396.7 669.0L398.1 669.9L399.1 670.4L399.5 670.5L401.0 670.7L402.4 670.4L402.4 670.4L403.9 669.6L404.6 669.0L405.3 668.3L406.1 667.5L406.7 666.9L408.1 666.1L408.2 666.0L409.6 665.7L411.1 665.7L412.5 665.8L413.6 666.1L413.9 666.2L415.4 666.6L416.8 667.1L417.4 667.5L418.2 668.7L418.4 669.0L418.6 670.4L418.6 671.8L418.3 673.3L418.2 673.3L417.3 674.7L416.8 675.1L415.4 676.1L415.4 676.2L413.9 677.0L413.0 677.6L412.5 677.9L411.1 679.0L411.1 679.1L409.6 680.5L409.6 680.5L408.6 681.9L408.2 682.8L407.9 683.3L407.3 684.8L406.7 685.9L406.6 686.2L405.7 687.7L405.3 688.2L404.6 689.1L403.9 690.2L403.6 690.5L402.5 692.0L402.4 692.0L401.0 693.3L400.7 693.4L399.5 693.8L398.1 693.4L398.1 693.4L396.7 692.3L396.4 692.0L395.2 690.7L395.1 690.5L393.9 689.1L393.8 688.9L392.9 687.7L392.3 686.9L392.0 686.2L391.2 684.8L390.9 684.1L390.5 683.3L389.8 681.9L389.5 681.3L389.0 680.5L388.0 679.1L388.0 679.0L386.6 677.8L386.1 677.6L385.1 677.2L383.7 677.1L382.3 677.2L380.8 677.3L379.4 677.5L377.9 677.1L377.5 676.1L377.9 674.7L377.9 674.5L378.5 673.3L379.1 671.8L379.4 671.0L379.6 670.4L379.9 669.0L380.1 667.5L380.6 666.1L380.8 665.7L381.9 664.6L382.3 664.4L383.7 663.9L385.1 663.6L386.6 663.4L388.0 663.2L388.3 663.2M339.1 677.3L340.5 677.5L340.7 677.6L342.0 678.4L342.7 679.0L343.4 680.1L343.6 680.5L343.8 681.9L343.4 682.7L342.5 683.3L342.0 683.5L340.5 683.7L339.1 683.6M358.9 700.6L358.7 699.2L358.3 697.7L357.8 696.7L357.6 696.3L357.1 694.9L356.7 693.4L356.8 692.0L357.5 690.5L357.8 690.2L358.9 689.1L359.2 688.9L360.7 688.4L362.1 688.6L363.0 689.1L363.6 689.6L364.4 690.5L365.0 691.3L365.9 692.0L366.4 692.4L367.9 692.5L369.3 692.4L370.7 692.8L371.1 693.4L371.4 694.9L371.6 696.3L371.8 697.7L371.9 699.2L372.0 700.6" fill="none" stroke="#222" stroke-width="0.6" opacity="0.8"/><path d="M442.7 634.1L441.3 634.4L441.2 634.4L439.8 634.9L438.7 635.8L438.4 636.0L437.3 637.3L437.0 637.6L436.1 638.7L435.5 639.3L434.6 640.2L434.1 640.6L432.6 641.1L431.2 641.1L429.8 640.4L429.3 640.2L428.3 639.3L427.5 638.7L426.9 638.2L425.8 637.3L425.4 637.0L424.7 635.8L424.0 634.8L423.8 634.4L423.1 633.0L422.6 632.2L422.2 631.5L421.1 630.3L420.9 630.1L419.7 629.1L418.5 628.6L418.2 628.6L417.6 628.6L416.8 628.7L415.4 629.4L414.1 630.1L413.9 630.2L412.5 630.8L411.1 631.0L409.6 630.7L408.6 630.1L408.2 629.9L406.9 628.6L406.7 628.5L405.7 627.2L405.3 626.5L404.8 625.8L403.9 624.4L403.7 624.3L402.4 623.2L401.5 622.9L401.0 622.7L399.5 622.5L398.1 622.3L396.7 621.5L396.6 621.5L395.9 620.0L395.6 618.6L395.7 617.1L396.1 615.7L396.6 614.3L396.7 614.0L397.8 612.8L398.1 612.5L399.5 612.5L401.0 612.7L402.4 612.6L403.9 612.1L404.7 611.4L405.3 610.6L405.5 609.9L405.5 608.5L405.3 607.9L404.8 607.1L403.9 606.1L403.1 605.6L402.4 605.3L401.0 605.4L400.8 605.6L399.5 606.7L399.2 607.1L398.2 608.5L398.1 608.7L396.7 609.8L395.2 609.5L393.8 608.5L393.7 608.5L392.3 607.3L392.1 607.1L390.9 605.9L390.6 605.6L389.5 604.7L388.7 604.2L388.0 603.7L386.6 603.1L385.6 602.7L385.1 602.6L383.7 602.1L382.3 601.6L381.6 601.3L380.8 600.9L379.5 599.9L379.4 599.7L378.5 598.4L378.1 597.0" fill="none" stroke="#222" stroke-width="0.6" opacity="0.8"/><path d="M425.7 597.0L425.4 597.6L425.1 598.4L424.0 599.4L423.5 599.9L422.6 600.3L421.1 601.0L420.4 601.3L419.7 601.6L418.2 602.0L416.8 602.4L415.4 602.7L413.9 602.6L412.5 602.2L411.1 601.3L411.0 601.3L409.7 599.9L409.6 599.7L409.0 598.4L408.8 597.0M442.7 600.4L441.3 601.1L441.0 601.3L439.8 602.2L439.3 602.7L438.4 603.5L437.2 604.2L437.0 604.3L436.0 604.2L435.5 604.1L434.7 602.7L434.7 601.3L435.1 599.9L435.4 598.4L435.5 597.1L435.5 597.0" fill="none" stroke="#222" stroke-width="0.6" opacity="0.8"/></g><path d="M390.9 648.8h0.01M394.9 646.5h0.01M390.9 644.2h0.01M386.9 646.5h0.01M386.9 651.1h0.01M390.9 653.4h0.01M394.9 651.1h0.01M400.0 648.8h0.01M399.0 644.6h0.01M396.1 641.3h0.01M392.0 639.7h0.01M387.7 640.3h0.01M384.1 642.7h0.01M382.0 646.6h0.01M382.0 651.0h0.01M384.1 654.9h0.01M387.7 657.3h0.01M392.0 657.9h0.01M396.1 656.3h0.01M399.0 653.0h0.01M404.4 646.5h0.01M403.0 642.3h0.01M400.2 638.7h0.01M396.4 636.2h0.01M392.0 635.1h0.01M387.5 635.5h0.01M383.4 637.3h0.01M380.1 640.4h0.01M377.9 644.3h0.01M377.2 648.8h0.01M377.9 653.3h0.01M380.1 657.2h0.01M383.4 660.3h0.01M387.5 662.1h0.01M392.0 662.5h0.01M396.4 661.4h0.01M400.2 658.9h0.01M403.0 655.3h0.01M404.4 651.1h0.01M409.2 648.8h0.01M408.6 644.3h0.01M406.9 640.0h0.01M404.2 636.3h0.01M400.7 633.4h0.01M396.6 631.4h0.01M392.0 630.5h0.01M387.5 630.8h0.01M383.1 632.3h0.01M379.2 634.7h0.01M376.1 638.1h0.01M373.9 642.1h0.01M372.8 646.5h0.01M372.8 651.1h0.01M373.9 655.5h0.01M376.1 659.5h0.01M379.2 662.9h0.01M383.1 665.3h0.01M387.5 666.8h0.01M392.0 667.1h0.01M396.6 666.2h0.01M400.7 664.2h0.01M404.2 661.3h0.01M406.9 657.6h0.01M408.6 653.3h0.01M413.6 646.5h0.01M412.7 642.0h0.01M410.9 637.7h0.01M408.2 633.9h0.01M404.9 630.7h0.01M401.0 628.3h0.01M396.6 626.7h0.01M392.1 626.0h0.01M387.4 626.2h0.01M383.0 627.4h0.01M378.8 629.4h0.01M375.2 632.2h0.01M372.1 635.7h0.01M369.9 639.8h0.01M368.5 644.2h0.01M368.0 648.8h0.01M368.5 653.4h0.01M369.9 657.8h0.01M372.1 661.9h0.01M375.2 665.4h0.01M378.8 668.2h0.01M383.0 670.2h0.01M387.4 671.4h0.01M392.1 671.6h0.01M396.6 670.9h0.01M401.0 669.3h0.01M404.9 666.9h0.01M408.2 663.7h0.01M410.9 659.9h0.01M412.7 655.6h0.01M413.6 651.1h0.01M418.3 648.8h0.01M418.0 644.3h0.01M416.8 639.9h0.01M415.0 635.7h0.01M412.5 632.0h0.01M409.5 628.6h0.01M405.9 625.8h0.01M401.9 623.7h0.01M397.6 622.2h0.01M393.2 621.5h0.01M388.6 621.5h0.01M384.2 622.2h0.01M379.9 623.7h0.01M375.9 625.8h0.01M372.3 628.6h0.01M369.3 632.0h0.01M366.8 635.7h0.01M365.0 639.9h0.01M363.8 644.3h0.01M363.5 648.8h0.01M363.8 653.3h0.01M365.0 657.7h0.01M366.8 661.9h0.01M369.3 665.6h0.01M372.3 669.0h0.01M375.9 671.8h0.01M379.9 673.9h0.01M384.2 675.4h0.01M388.6 676.1h0.01M393.2 676.1h0.01M397.6 675.4h0.01M401.9 673.9h0.01M405.9 671.8h0.01M409.5 669.0h0.01M412.5 665.6h0.01M415.0 661.9h0.01M416.8 657.7h0.01M418.0 653.3h0.01M422.8 646.5h0.01M422.2 642.0h0.01M420.9 637.6h0.01M419.0 633.5h0.01M416.5 629.6h0.01M413.5 626.2h0.01M410.1 623.2h0.01M406.2 620.7h0.01M402.1 618.8h0.01M397.7 617.5h0.01M393.2 616.9h0.01M388.6 616.9h0.01M384.1 617.5h0.01M379.7 618.8h0.01M375.6 620.7h0.01M371.7 623.2h0.01M368.3 626.2h0.01M365.3 629.6h0.01M362.8 633.5h0.01M360.9 637.6h0.01M359.6 642.0h0.01M359.0 646.5h0.01M359.0 651.1h0.01M359.6 655.6h0.01M360.9 660.0h0.01M362.8 664.1h0.01M365.3 668.0h0.01M368.3 671.4h0.01M371.7 674.4h0.01M375.6 676.9h0.01M379.7 678.8h0.01M384.1 680.1h0.01M388.6 680.7h0.01M393.2 680.7h0.01M397.7 680.1h0.01M402.1 678.8h0.01M406.2 676.9h0.01M410.1 674.4h0.01M413.5 671.4h0.01M416.5 668.0h0.01M419.0 664.1h0.01M420.9 660.0h0.01M422.2 655.6h0.01M422.8 651.1h0.01M427.5 648.8h0.01M427.2 644.2h0.01M426.3 639.7h0.01M424.9 635.3h0.01M423.0 631.2h0.01M420.5 627.3h0.01M417.6 623.8h0.01M414.2 620.6h0.01M410.5 617.9h0.01M406.5 615.7h0.01M402.2 614.0h0.01M397.8 612.9h0.01M393.2 612.3h0.01M388.6 612.3h0.01M384.0 612.9h0.01M379.6 614.0h0.01M375.3 615.7h0.01M371.3 617.9h0.01M367.6 620.6h0.01M364.2 623.8h0.01M361.3 627.3h0.01M358.8 631.2h0.01M356.9 635.3h0.01M355.5 639.7h0.01M354.6 644.2h0.01M354.3 648.8h0.01M354.6 653.4h0.01M355.5 657.9h0.01M356.9 662.3h0.01M358.8 666.4h0.01M361.3 670.3h0.01M364.2 673.8h0.01M367.6 677.0h0.01M371.3 679.7h0.01M375.3 681.9h0.01M379.6 683.6h0.01M384.0 684.7h0.01M388.6 685.3h0.01M393.2 685.3h0.01M397.8 684.7h0.01M402.2 683.6h0.01M406.5 681.9h0.01M410.5 679.7h0.01M414.2 677.0h0.01M417.6 673.8h0.01M420.5 670.3h0.01M423.0 666.4h0.01M424.9 662.3h0.01M426.3 657.9h0.01M427.2 653.4h0.01M432.0 646.5h0.01M431.5 642.0h0.01M430.5 637.6h0.01M429.0 633.3h0.01M427.1 629.2h0.01M424.7 625.4h0.01M421.9 621.8h0.01M418.8 618.5h0.01M415.3 615.6h0.01M411.5 613.2h0.01M407.4 611.1h0.01M403.2 609.5h0.01M398.8 608.4h0.01M394.3 607.8h0.01M389.8 607.7h0.01M385.2 608.0h0.01M380.8 608.9h0.01M376.5 610.3h0.01M372.3 612.1h0.01M368.4 614.4h0.01M364.7 617.0h0.01M361.4 620.1h0.01M358.4 623.5h0.01M355.8 627.3h0.01M353.7 631.2h0.01M352.0 635.4h0.01M350.7 639.8h0.01M350.0 644.3h0.01M349.8 648.8h0.01M350.0 653.3h0.01M350.7 657.8h0.01M352.0 662.2h0.01M353.7 666.4h0.01M355.8 670.3h0.01M358.4 674.1h0.01M361.4 677.5h0.01M364.7 680.6h0.01M368.4 683.2h0.01M372.3 685.5h0.01M376.5 687.3h0.01M380.8 688.7h0.01M385.2 689.6h0.01M389.8 689.9h0.01M394.3 689.8h0.01M398.8 689.2h0.01M403.2 688.1h0.01M407.4 686.5h0.01M411.5 684.4h0.01M415.3 682.0h0.01M418.8 679.1h0.01M421.9 675.8h0.01M424.7 672.2h0.01M427.1 668.4h0.01M429.0 664.3h0.01M430.5 660.0h0.01M431.5 655.6h0.01M432.0 651.1h0.01" stroke="#1a1a1a" stroke-width="1.45" stroke-linecap="round" opacity="0.8"/><circle cx="390.9" cy="648.8" r="50.8" fill="none" stroke="#111" stroke-width="1.7"/><path d="M381.4 598.8 L390.9 589.5 L400.4 598.8" fill="none" stroke="#111" stroke-width="1.3" stroke-linejoin="round"/><path d="M340.4 640.3 C336.6 638.8 334.3 640.3 334.3 644.8 L334.3 656.8 C334.3 661.8 336.6 662.8 340.4 661.3" fill="#fff" stroke="#111" stroke-width="1.2"/><path d="M441.4 640.3 C445.2 638.8 447.5 640.3 447.5 644.8 L447.5 656.8 C447.5 661.8 445.2 662.8 441.4 661.3" fill="#fff" stroke="#111" stroke-width="1.2"/><circle cx="128.5" cy="401.5" r="5.6" fill="#4fc6cc"/><text x="128.5" y="404.4" font-size="8" text-anchor="middle" fill="#111" stroke="#111" stroke-width="0.15">1</text><text x="141.4" y="404.8" font-size="9.5" text-anchor="start" fill="#111" stroke="#111" stroke-width="0.22" textLength="125.4" lengthAdjust="spacingAndGlyphs">No-Gap Task - 500ms Post-Stim</text><circle cx="323.9" cy="401.7" r="5.6" fill="#7f88c8"/><text x="323.9" y="404.6" font-size="8" text-anchor="middle" fill="#111" stroke="#111" stroke-width="0.15">2</text><text x="337" y="404.8" font-size="9.5" text-anchor="start" fill="#111" stroke="#111" stroke-width="0.22" textLength="123.2" lengthAdjust="spacingAndGlyphs">No-Gap Task - 100ms Pre-Resp</text><circle cx="135" cy="571.7" r="5.6" fill="#45c08e"/><text x="135" y="574.6" font-size="8" text-anchor="middle" fill="#111" stroke="#111" stroke-width="0.15">3</text><text x="145.6" y="574.9" font-size="9.5" text-anchor="start" fill="#111" stroke="#111" stroke-width="0.22" textLength="110.5" lengthAdjust="spacingAndGlyphs">Gap Task - 500ms Post-Stim</text><circle cx="330.9" cy="573.1" r="5.6" fill="#b792cc"/><text x="330.9" y="576" font-size="8" text-anchor="middle" fill="#111" stroke="#111" stroke-width="0.15">4</text><text x="344" y="576.2" font-size="9.5" text-anchor="start" fill="#111" stroke="#111" stroke-width="0.22" textLength="107.9" lengthAdjust="spacingAndGlyphs">Gap Task - 100ms Pre-Resp</text><linearGradient id="cb423" x1="0" y1="0" x2="0" y2="1"><stop offset="0.00" stop-color="#67001f"/><stop offset="0.05" stop-color="#8a0b25"/><stop offset="0.10" stop-color="#b1182b"/><stop offset="0.15" stop-color="#c43b3c"/><stop offset="0.20" stop-color="#d6604d"/><stop offset="0.25" stop-color="#e48066"/><stop offset="0.30" stop-color="#f3a481"/><stop offset="0.35" stop-color="#f8bfa4"/><stop offset="0.40" stop-color="#fddbc7"/><stop offset="0.45" stop-color="#fae9df"/><stop offset="0.50" stop-color="#f7f6f6"/><stop offset="0.55" stop-color="#e4eef4"/><stop offset="0.60" stop-color="#d1e5f0"/><stop offset="0.65" stop-color="#b1d5e7"/><stop offset="0.70" stop-color="#90c4dd"/><stop offset="0.75" stop-color="#6bacd1"/><stop offset="0.80" stop-color="#4393c3"/><stop offset="0.85" stop-color="#327cb7"/><stop offset="0.90" stop-color="#2065ab"/><stop offset="0.95" stop-color="#124984"/><stop offset="1.00" stop-color="#053061"/></linearGradient><rect x="494" y="423.9" width="10" height="111.2" fill="url(#cb423)" stroke="#aaa" stroke-width="0.5"/><text x="509.5" y="427.1" font-size="9" text-anchor="start" fill="#1a1a1a" stroke="#1a1a1a" stroke-width="0.22">1.3</text><text x="510.5" y="482.7" font-size="9" text-anchor="start" fill="#1a1a1a" stroke="#1a1a1a" stroke-width="0.22">0</text><text x="507.5" y="538.3" font-size="9" text-anchor="start" fill="#1a1a1a" stroke="#1a1a1a" stroke-width="0.22">-1.3</text><text x="531" y="479.5" font-size="9" text-anchor="middle" fill="#1a1a1a" stroke="#1a1a1a" stroke-width="0.22" textLength="49.5" lengthAdjust="spacingAndGlyphs" transform="rotate(90 531 479.5)">voltage (uV)</text><linearGradient id="cb592" x1="0" y1="0" x2="0" y2="1"><stop offset="0.00" stop-color="#67001f"/><stop offset="0.05" stop-color="#8a0b25"/><stop offset="0.10" stop-color="#b1182b"/><stop offset="0.15" stop-color="#c43b3c"/><stop offset="0.20" stop-color="#d6604d"/><stop offset="0.25" stop-color="#e48066"/><stop offset="0.30" stop-color="#f3a481"/><stop offset="0.35" stop-color="#f8bfa4"/><stop offset="0.40" stop-color="#fddbc7"/><stop offset="0.45" stop-color="#fae9df"/><stop offset="0.50" stop-color="#f7f6f6"/><stop offset="0.55" stop-color="#e4eef4"/><stop offset="0.60" stop-color="#d1e5f0"/><stop offset="0.65" stop-color="#b1d5e7"/><stop offset="0.70" stop-color="#90c4dd"/><stop offset="0.75" stop-color="#6bacd1"/><stop offset="0.80" stop-color="#4393c3"/><stop offset="0.85" stop-color="#327cb7"/><stop offset="0.90" stop-color="#2065ab"/><stop offset="0.95" stop-color="#124984"/><stop offset="1.00" stop-color="#053061"/></linearGradient><rect x="494" y="592.2" width="10" height="111.4" fill="url(#cb592)" stroke="#aaa" stroke-width="0.5"/><text x="509.5" y="595.4" font-size="9" text-anchor="start" fill="#1a1a1a" stroke="#1a1a1a" stroke-width="0.22">1.1</text><text x="510.5" y="651.1" font-size="9" text-anchor="start" fill="#1a1a1a" stroke="#1a1a1a" stroke-width="0.22">0</text><text x="507.5" y="706.8" font-size="9" text-anchor="start" fill="#1a1a1a" stroke="#1a1a1a" stroke-width="0.22">-1.1</text><text x="531" y="647.9" font-size="9" text-anchor="middle" fill="#1a1a1a" stroke="#1a1a1a" stroke-width="0.22" textLength="49.5" lengthAdjust="spacingAndGlyphs" transform="rotate(90 531 647.9)">voltage (uV)</text>
</svg></body></html>
